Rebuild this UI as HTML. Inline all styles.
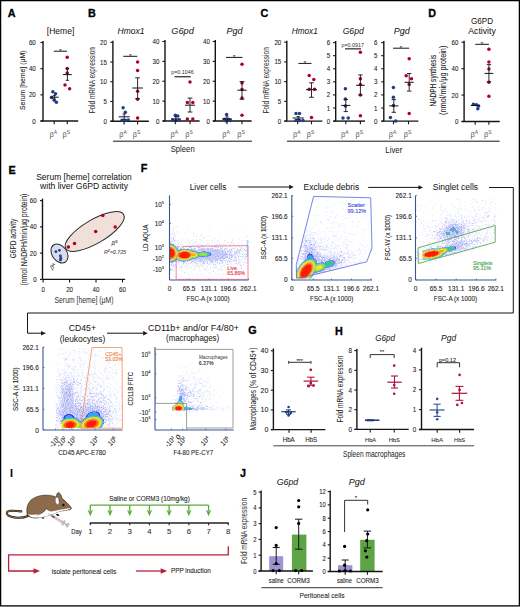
<!DOCTYPE html>
<html><head><meta charset="utf-8"><style>
html,body{margin:0;padding:0;background:#fff;width:520px;height:607px;overflow:hidden}
svg{display:block}
text{font-family:"Liberation Sans", sans-serif;stroke:currentColor;stroke-width:0.09px}
</style></head><body>
<svg width="520" height="607" viewBox="0 0 520 607">
<rect width="520" height="607" fill="#fff"/>
<rect x="0.6" y="0.6" width="518.8" height="605.3" fill="none" stroke="#000" stroke-width="1.3"/>
<text x="7.8" y="13.4" font-size="10.8" text-anchor="start" fill="#000" color="#000" dominant-baseline="central" font-weight="bold" style="stroke-width:0.3px">A</text>
<text x="60.6" y="31" font-size="9.22" text-anchor="middle" fill="#161414" color="#161414" dominant-baseline="central" textLength="27.5" lengthAdjust="spacingAndGlyphs"  style="stroke-width:0.03px">[Heme]</text>
<line x1="43" y1="41" x2="43" y2="121" stroke="#161414" stroke-width="1.4" />
<line x1="40.4" y1="121" x2="43" y2="121" stroke="#161414" stroke-width="1.1" />
<text x="35.7" y="121" font-size="7.3" text-anchor="end" fill="#222" color="#222" dominant-baseline="central" textLength="3.41" lengthAdjust="spacingAndGlyphs" >0</text>
<line x1="40.4" y1="94.83" x2="43" y2="94.83" stroke="#161414" stroke-width="1.1" />
<text x="35.7" y="94.83" font-size="7.3" text-anchor="end" fill="#222" color="#222" dominant-baseline="central" textLength="6.82" lengthAdjust="spacingAndGlyphs" >20</text>
<line x1="40.4" y1="68.67" x2="43" y2="68.67" stroke="#161414" stroke-width="1.1" />
<text x="35.7" y="68.67" font-size="7.3" text-anchor="end" fill="#222" color="#222" dominant-baseline="central" textLength="6.82" lengthAdjust="spacingAndGlyphs" >40</text>
<line x1="40.4" y1="42.5" x2="43" y2="42.5" stroke="#161414" stroke-width="1.1" />
<text x="35.7" y="42.5" font-size="7.3" text-anchor="end" fill="#222" color="#222" dominant-baseline="central" textLength="6.82" lengthAdjust="spacingAndGlyphs" >60</text>
<line x1="40.5" y1="121" x2="78.2" y2="121" stroke="#161414" stroke-width="1.4" />
<line x1="54.2" y1="121" x2="54.2" y2="124.2" stroke="#161414" stroke-width="1.1" />
<line x1="67.3" y1="121" x2="67.3" y2="124.2" stroke="#161414" stroke-width="1.1" />
<text x="53.2" y="134.8" font-size="7.4" text-anchor="middle" fill="#555" color="#555" dominant-baseline="central" style="stroke-width:0">β<tspan font-size="5.03" dy="-2.4">A</tspan></text>
<text x="66.3" y="134.8" font-size="7.4" text-anchor="middle" fill="#555" color="#555" dominant-baseline="central" style="stroke-width:0">β<tspan font-size="5.03" dy="-2.4">S</tspan></text>
<text x="22.3" y="80.3" font-size="7.93" text-anchor="middle" fill="#222" color="#222" dominant-baseline="central" textLength="59.5" lengthAdjust="spacingAndGlyphs" transform="rotate(-90 22.3 80.3)" >Serum [heme] (μM)</text>
<line x1="53.8" y1="51.2" x2="67" y2="51.2" stroke="#161414" stroke-width="1.0" />
<text x="60.4" y="50.6" font-size="6" text-anchor="middle" fill="#333" color="#333" dominant-baseline="central" >*</text>
<circle cx="67.2" cy="57.2" r="1.75" fill="#b0002a"/>
<circle cx="67.2" cy="68.4" r="1.75" fill="#b0002a"/>
<circle cx="67.2" cy="73" r="1.75" fill="#b0002a"/>
<circle cx="65" cy="85.1" r="1.75" fill="#b0002a"/>
<circle cx="69.6" cy="88.7" r="1.75" fill="#b0002a"/>
<line x1="63" y1="74.6" x2="71.8" y2="74.6" stroke="#161414" stroke-width="1.0" />
<line x1="67.4" y1="68.7" x2="67.4" y2="80.3" stroke="#161414" stroke-width="0.9" />
<line x1="65.7" y1="68.7" x2="69.1" y2="68.7" stroke="#161414" stroke-width="0.9" />
<line x1="65.7" y1="80.3" x2="69.1" y2="80.3" stroke="#161414" stroke-width="0.9" />
<circle cx="52.8" cy="91.7" r="1.75" fill="#1f3d8c"/>
<circle cx="55.5" cy="93.7" r="1.75" fill="#1f3d8c"/>
<circle cx="51.6" cy="97.4" r="1.75" fill="#1f3d8c"/>
<circle cx="54.2" cy="100.3" r="1.75" fill="#1f3d8c"/>
<circle cx="56.4" cy="102.2" r="1.75" fill="#1f3d8c"/>
<line x1="49.9" y1="97.2" x2="58.7" y2="97.2" stroke="#161414" stroke-width="1.0" />
<line x1="54.3" y1="95.6" x2="54.3" y2="99" stroke="#161414" stroke-width="0.9" />
<line x1="52.8" y1="95.6" x2="55.8" y2="95.6" stroke="#161414" stroke-width="0.9" />
<line x1="52.8" y1="99" x2="55.8" y2="99" stroke="#161414" stroke-width="0.9" />
<text x="87.9" y="13.2" font-size="10.8" text-anchor="start" fill="#000" color="#000" dominant-baseline="central" font-weight="bold" style="stroke-width:0.3px">B</text>
<line x1="112.9" y1="40.8" x2="112.9" y2="121.2" stroke="#161414" stroke-width="1.4" />
<line x1="110.3" y1="121.2" x2="112.9" y2="121.2" stroke="#161414" stroke-width="1.1" />
<text x="106.9" y="121.2" font-size="7.3" text-anchor="end" fill="#222" color="#222" dominant-baseline="central" textLength="3.41" lengthAdjust="spacingAndGlyphs" >0</text>
<line x1="110.3" y1="101.47" x2="112.9" y2="101.47" stroke="#161414" stroke-width="1.1" />
<text x="106.9" y="101.47" font-size="7.3" text-anchor="end" fill="#222" color="#222" dominant-baseline="central" textLength="3.41" lengthAdjust="spacingAndGlyphs" >5</text>
<line x1="110.3" y1="81.75" x2="112.9" y2="81.75" stroke="#161414" stroke-width="1.1" />
<text x="106.9" y="81.75" font-size="7.3" text-anchor="end" fill="#222" color="#222" dominant-baseline="central" textLength="6.82" lengthAdjust="spacingAndGlyphs" >10</text>
<line x1="110.3" y1="62.03" x2="112.9" y2="62.03" stroke="#161414" stroke-width="1.1" />
<text x="106.9" y="62.03" font-size="7.3" text-anchor="end" fill="#222" color="#222" dominant-baseline="central" textLength="6.82" lengthAdjust="spacingAndGlyphs" >15</text>
<line x1="110.3" y1="42.3" x2="112.9" y2="42.3" stroke="#161414" stroke-width="1.1" />
<text x="106.9" y="42.3" font-size="7.3" text-anchor="end" fill="#222" color="#222" dominant-baseline="central" textLength="6.82" lengthAdjust="spacingAndGlyphs" >20</text>
<line x1="110.5" y1="121.2" x2="148.8" y2="121.2" stroke="#161414" stroke-width="1.4" />
<line x1="124.1" y1="121.2" x2="124.1" y2="124.4" stroke="#161414" stroke-width="1.1" />
<line x1="137.6" y1="121.2" x2="137.6" y2="124.4" stroke="#161414" stroke-width="1.1" />
<text x="123.1" y="134.5" font-size="7.4" text-anchor="middle" fill="#555" color="#555" dominant-baseline="central" style="stroke-width:0">β<tspan font-size="5.03" dy="-2.4">A</tspan></text>
<text x="136.6" y="134.5" font-size="7.4" text-anchor="middle" fill="#555" color="#555" dominant-baseline="central" style="stroke-width:0">β<tspan font-size="5.03" dy="-2.4">S</tspan></text>
<text x="131" y="31" font-size="8.69" text-anchor="middle" fill="#161414" color="#161414" dominant-baseline="central" textLength="27" lengthAdjust="spacingAndGlyphs" font-style="italic"  style="stroke-width:0.03px">Hmox1</text>
<circle cx="137.6" cy="62" r="1.75" fill="#b0002a"/>
<circle cx="137.6" cy="70.4" r="1.75" fill="#b0002a"/>
<circle cx="137.6" cy="91.3" r="1.75" fill="#b0002a"/>
<circle cx="137.6" cy="99.2" r="1.75" fill="#b0002a"/>
<circle cx="137.6" cy="118" r="1.75" fill="#b0002a"/>
<circle cx="123.1" cy="107.7" r="1.75" fill="#1f3d8c"/>
<circle cx="125.3" cy="112.3" r="1.75" fill="#1f3d8c"/>
<circle cx="122" cy="120.3" r="1.75" fill="#1f3d8c"/>
<circle cx="125.6" cy="120.6" r="1.75" fill="#1f3d8c"/>
<circle cx="128.3" cy="120" r="1.75" fill="#1f3d8c"/>
<line x1="132.3" y1="88" x2="142.9" y2="88" stroke="#161414" stroke-width="1.0" />
<line x1="137.6" y1="77.8" x2="137.6" y2="98.7" stroke="#161414" stroke-width="0.9" />
<line x1="135.2" y1="77.8" x2="140" y2="77.8" stroke="#161414" stroke-width="0.9" />
<line x1="135.2" y1="98.7" x2="140" y2="98.7" stroke="#161414" stroke-width="0.9" />
<line x1="118.7" y1="116.8" x2="129.7" y2="116.8" stroke="#161414" stroke-width="1.0" />
<line x1="124.2" y1="114" x2="124.2" y2="119.4" stroke="#161414" stroke-width="0.9" />
<line x1="122.6" y1="114" x2="125.8" y2="114" stroke="#161414" stroke-width="0.9" />
<line x1="122.6" y1="119.4" x2="125.8" y2="119.4" stroke="#161414" stroke-width="0.9" />
<line x1="123.3" y1="56.3" x2="137.3" y2="56.3" stroke="#161414" stroke-width="1.0" />
<text x="130.4" y="55.5" font-size="6" text-anchor="middle" fill="#333" color="#333" dominant-baseline="central" >*</text>
<text x="92.3" y="80.3" font-size="8.45" text-anchor="middle" fill="#333" color="#333" dominant-baseline="central" textLength="66.5" lengthAdjust="spacingAndGlyphs" transform="rotate(-90 92.3 80.3)"  style="stroke-width:0.03px">Fold mRNA expression</text>
<line x1="165" y1="40" x2="165" y2="121" stroke="#161414" stroke-width="1.4" />
<line x1="162.4" y1="121" x2="165" y2="121" stroke="#161414" stroke-width="1.1" />
<text x="159.3" y="121" font-size="7.3" text-anchor="end" fill="#222" color="#222" dominant-baseline="central" textLength="3.41" lengthAdjust="spacingAndGlyphs" >0</text>
<line x1="162.4" y1="101.12" x2="165" y2="101.12" stroke="#161414" stroke-width="1.1" />
<text x="159.3" y="101.12" font-size="7.3" text-anchor="end" fill="#222" color="#222" dominant-baseline="central" textLength="6.82" lengthAdjust="spacingAndGlyphs" >10</text>
<line x1="162.4" y1="81.25" x2="165" y2="81.25" stroke="#161414" stroke-width="1.1" />
<text x="159.3" y="81.25" font-size="7.3" text-anchor="end" fill="#222" color="#222" dominant-baseline="central" textLength="6.82" lengthAdjust="spacingAndGlyphs" >20</text>
<line x1="162.4" y1="61.38" x2="165" y2="61.38" stroke="#161414" stroke-width="1.1" />
<text x="159.3" y="61.38" font-size="7.3" text-anchor="end" fill="#222" color="#222" dominant-baseline="central" textLength="6.82" lengthAdjust="spacingAndGlyphs" >30</text>
<line x1="162.4" y1="41.5" x2="165" y2="41.5" stroke="#161414" stroke-width="1.1" />
<text x="159.3" y="41.5" font-size="7.3" text-anchor="end" fill="#222" color="#222" dominant-baseline="central" textLength="6.82" lengthAdjust="spacingAndGlyphs" >40</text>
<line x1="162.6" y1="121" x2="199.6" y2="121" stroke="#161414" stroke-width="1.4" />
<line x1="175.3" y1="121" x2="175.3" y2="124.2" stroke="#161414" stroke-width="1.1" />
<line x1="190" y1="121" x2="190" y2="124.2" stroke="#161414" stroke-width="1.1" />
<text x="174.3" y="134.5" font-size="7.4" text-anchor="middle" fill="#555" color="#555" dominant-baseline="central" style="stroke-width:0">β<tspan font-size="5.03" dy="-2.4">A</tspan></text>
<text x="189" y="134.5" font-size="7.4" text-anchor="middle" fill="#555" color="#555" dominant-baseline="central" style="stroke-width:0">β<tspan font-size="5.03" dy="-2.4">S</tspan></text>
<text x="182.6" y="31" font-size="9.38" text-anchor="middle" fill="#161414" color="#161414" dominant-baseline="central" textLength="22.5" lengthAdjust="spacingAndGlyphs" font-style="italic"  style="stroke-width:0.03px">G6pd</text>
<circle cx="190" cy="82" r="1.75" fill="#b0002a"/>
<circle cx="187.4" cy="102.4" r="1.75" fill="#b0002a"/>
<circle cx="192.8" cy="102.4" r="1.75" fill="#b0002a"/>
<circle cx="187.4" cy="118.9" r="1.75" fill="#b0002a"/>
<circle cx="192.8" cy="118.9" r="1.75" fill="#b0002a"/>
<circle cx="175.3" cy="115.2" r="1.75" fill="#1f3d8c"/>
<circle cx="177.8" cy="116" r="1.75" fill="#1f3d8c"/>
<circle cx="172.6" cy="120.3" r="1.75" fill="#1f3d8c"/>
<circle cx="176" cy="120.5" r="1.75" fill="#1f3d8c"/>
<circle cx="179.3" cy="120.3" r="1.75" fill="#1f3d8c"/>
<line x1="185" y1="105.2" x2="195" y2="105.2" stroke="#161414" stroke-width="1.0" />
<line x1="190" y1="98.1" x2="190" y2="112" stroke="#161414" stroke-width="0.9" />
<line x1="187.6" y1="98.1" x2="192.4" y2="98.1" stroke="#161414" stroke-width="0.9" />
<line x1="187.6" y1="112" x2="192.4" y2="112" stroke="#161414" stroke-width="0.9" />
<line x1="171" y1="118.9" x2="180.6" y2="118.9" stroke="#161414" stroke-width="1.0" />
<line x1="175.8" y1="116.6" x2="175.8" y2="121" stroke="#161414" stroke-width="0.9" />
<line x1="174.3" y1="116.6" x2="177.3" y2="116.6" stroke="#161414" stroke-width="0.9" />
<line x1="174.3" y1="121" x2="177.3" y2="121" stroke="#161414" stroke-width="0.9" />
<text x="182.5" y="72.4" font-size="5.36" text-anchor="middle" fill="#333" color="#333" dominant-baseline="central" textLength="22.5" lengthAdjust="spacingAndGlyphs" style="stroke-width:0">p=0.1046</text>
<line x1="174.6" y1="76.7" x2="190.7" y2="76.7" stroke="#444" stroke-width="1.4" />
<line x1="215.3" y1="40" x2="215.3" y2="121" stroke="#161414" stroke-width="1.4" />
<line x1="212.7" y1="121" x2="215.3" y2="121" stroke="#161414" stroke-width="1.1" />
<text x="209.8" y="121" font-size="7.3" text-anchor="end" fill="#222" color="#222" dominant-baseline="central" textLength="3.41" lengthAdjust="spacingAndGlyphs" >0</text>
<line x1="212.7" y1="101.12" x2="215.3" y2="101.12" stroke="#161414" stroke-width="1.1" />
<text x="209.8" y="101.12" font-size="7.3" text-anchor="end" fill="#222" color="#222" dominant-baseline="central" textLength="6.82" lengthAdjust="spacingAndGlyphs" >10</text>
<line x1="212.7" y1="81.25" x2="215.3" y2="81.25" stroke="#161414" stroke-width="1.1" />
<text x="209.8" y="81.25" font-size="7.3" text-anchor="end" fill="#222" color="#222" dominant-baseline="central" textLength="6.82" lengthAdjust="spacingAndGlyphs" >20</text>
<line x1="212.7" y1="61.38" x2="215.3" y2="61.38" stroke="#161414" stroke-width="1.1" />
<text x="209.8" y="61.38" font-size="7.3" text-anchor="end" fill="#222" color="#222" dominant-baseline="central" textLength="6.82" lengthAdjust="spacingAndGlyphs" >30</text>
<line x1="212.7" y1="41.5" x2="215.3" y2="41.5" stroke="#161414" stroke-width="1.1" />
<text x="209.8" y="41.5" font-size="7.3" text-anchor="end" fill="#222" color="#222" dominant-baseline="central" textLength="6.82" lengthAdjust="spacingAndGlyphs" >40</text>
<line x1="212.9" y1="121" x2="251.6" y2="121" stroke="#161414" stroke-width="1.4" />
<line x1="227" y1="121" x2="227" y2="124.2" stroke="#161414" stroke-width="1.1" />
<line x1="242" y1="121" x2="242" y2="124.2" stroke="#161414" stroke-width="1.1" />
<text x="226" y="134.5" font-size="7.4" text-anchor="middle" fill="#555" color="#555" dominant-baseline="central" style="stroke-width:0">β<tspan font-size="5.03" dy="-2.4">A</tspan></text>
<text x="241" y="134.5" font-size="7.4" text-anchor="middle" fill="#555" color="#555" dominant-baseline="central" style="stroke-width:0">β<tspan font-size="5.03" dy="-2.4">S</tspan></text>
<text x="234.5" y="31" font-size="9.17" text-anchor="middle" fill="#161414" color="#161414" dominant-baseline="central" textLength="16" lengthAdjust="spacingAndGlyphs" font-style="italic"  style="stroke-width:0.03px">Pgd</text>
<circle cx="242" cy="64.3" r="1.75" fill="#b0002a"/>
<circle cx="242" cy="83.1" r="1.75" fill="#b0002a"/>
<circle cx="242" cy="89.5" r="1.75" fill="#b0002a"/>
<circle cx="242" cy="98.1" r="1.75" fill="#b0002a"/>
<circle cx="242" cy="115.2" r="1.75" fill="#b0002a"/>
<circle cx="226.6" cy="114.6" r="1.75" fill="#1f3d8c"/>
<circle cx="224.5" cy="119.2" r="1.75" fill="#1f3d8c"/>
<circle cx="228.6" cy="119.5" r="1.75" fill="#1f3d8c"/>
<circle cx="226.3" cy="121" r="1.75" fill="#1f3d8c"/>
<circle cx="230.5" cy="120.6" r="1.75" fill="#1f3d8c"/>
<line x1="237.4" y1="90.2" x2="246.6" y2="90.2" stroke="#161414" stroke-width="1.0" />
<line x1="242" y1="81.6" x2="242" y2="99.2" stroke="#161414" stroke-width="0.9" />
<line x1="239.6" y1="81.6" x2="244.4" y2="81.6" stroke="#161414" stroke-width="0.9" />
<line x1="239.6" y1="99.2" x2="244.4" y2="99.2" stroke="#161414" stroke-width="0.9" />
<line x1="222.2" y1="118.9" x2="231.8" y2="118.9" stroke="#161414" stroke-width="1.0" />
<line x1="227" y1="116.8" x2="227" y2="121" stroke="#161414" stroke-width="0.9" />
<line x1="225.5" y1="116.8" x2="228.5" y2="116.8" stroke="#161414" stroke-width="0.9" />
<line x1="225.5" y1="121" x2="228.5" y2="121" stroke="#161414" stroke-width="0.9" />
<line x1="226" y1="57.4" x2="242.4" y2="57.4" stroke="#161414" stroke-width="1.0" />
<text x="234.2" y="56.8" font-size="6" text-anchor="middle" fill="#333" color="#333" dominant-baseline="central" >*</text>
<line x1="113" y1="141.2" x2="252" y2="141.2" stroke="#161414" stroke-width="1.0" />
<text x="182.7" y="149" font-size="9.25" text-anchor="middle" fill="#222" color="#222" dominant-baseline="central" textLength="24" lengthAdjust="spacingAndGlyphs"  style="stroke-width:0.03px">Spleen</text>
<text x="260.6" y="13.2" font-size="10.8" text-anchor="start" fill="#000" color="#000" dominant-baseline="central" font-weight="bold" style="stroke-width:0.3px">C</text>
<line x1="286.8" y1="40.7" x2="286.8" y2="121.1" stroke="#161414" stroke-width="1.4" />
<line x1="284.2" y1="121.1" x2="286.8" y2="121.1" stroke="#161414" stroke-width="1.1" />
<text x="281.2" y="121.1" font-size="7.3" text-anchor="end" fill="#222" color="#222" dominant-baseline="central" textLength="3.41" lengthAdjust="spacingAndGlyphs" >0</text>
<line x1="284.2" y1="101.38" x2="286.8" y2="101.38" stroke="#161414" stroke-width="1.1" />
<text x="281.2" y="101.38" font-size="7.3" text-anchor="end" fill="#222" color="#222" dominant-baseline="central" textLength="3.41" lengthAdjust="spacingAndGlyphs" >5</text>
<line x1="284.2" y1="81.65" x2="286.8" y2="81.65" stroke="#161414" stroke-width="1.1" />
<text x="281.2" y="81.65" font-size="7.3" text-anchor="end" fill="#222" color="#222" dominant-baseline="central" textLength="6.82" lengthAdjust="spacingAndGlyphs" >10</text>
<line x1="284.2" y1="61.93" x2="286.8" y2="61.93" stroke="#161414" stroke-width="1.1" />
<text x="281.2" y="61.93" font-size="7.3" text-anchor="end" fill="#222" color="#222" dominant-baseline="central" textLength="6.82" lengthAdjust="spacingAndGlyphs" >15</text>
<line x1="284.2" y1="42.2" x2="286.8" y2="42.2" stroke="#161414" stroke-width="1.1" />
<text x="281.2" y="42.2" font-size="7.3" text-anchor="end" fill="#222" color="#222" dominant-baseline="central" textLength="6.82" lengthAdjust="spacingAndGlyphs" >20</text>
<line x1="284.4" y1="121.1" x2="322.4" y2="121.1" stroke="#161414" stroke-width="1.4" />
<line x1="297.7" y1="121.1" x2="297.7" y2="124.3" stroke="#161414" stroke-width="1.1" />
<line x1="311.5" y1="121.1" x2="311.5" y2="124.3" stroke="#161414" stroke-width="1.1" />
<text x="296.7" y="134.5" font-size="7.4" text-anchor="middle" fill="#555" color="#555" dominant-baseline="central" style="stroke-width:0">β<tspan font-size="5.03" dy="-2.4">A</tspan></text>
<text x="310.5" y="134.5" font-size="7.4" text-anchor="middle" fill="#555" color="#555" dominant-baseline="central" style="stroke-width:0">β<tspan font-size="5.03" dy="-2.4">S</tspan></text>
<text x="304.8" y="31" font-size="8.37" text-anchor="middle" fill="#161414" color="#161414" dominant-baseline="central" textLength="26" lengthAdjust="spacingAndGlyphs" font-style="italic"  style="stroke-width:0.03px">Hmox1</text>
<circle cx="309.2" cy="75.4" r="1.75" fill="#b0002a"/>
<circle cx="313.8" cy="79.5" r="1.75" fill="#b0002a"/>
<circle cx="309.2" cy="89.2" r="1.75" fill="#b0002a"/>
<circle cx="314.5" cy="89.2" r="1.75" fill="#b0002a"/>
<circle cx="311.5" cy="117.4" r="1.75" fill="#b0002a"/>
<circle cx="296" cy="113.5" r="1.75" fill="#1f3d8c"/>
<circle cx="299.5" cy="113.5" r="1.75" fill="#1f3d8c"/>
<circle cx="296" cy="120.5" r="1.75" fill="#1f3d8c"/>
<circle cx="299.5" cy="120.5" r="1.75" fill="#1f3d8c"/>
<circle cx="303" cy="120.5" r="1.75" fill="#1f3d8c"/>
<line x1="306" y1="89.7" x2="317" y2="89.7" stroke="#161414" stroke-width="1.0" />
<line x1="311.5" y1="82.8" x2="311.5" y2="97.3" stroke="#161414" stroke-width="0.9" />
<line x1="309.1" y1="82.8" x2="313.9" y2="82.8" stroke="#161414" stroke-width="0.9" />
<line x1="309.1" y1="97.3" x2="313.9" y2="97.3" stroke="#161414" stroke-width="0.9" />
<line x1="292.6" y1="118" x2="303.8" y2="118" stroke="#161414" stroke-width="1.0" />
<line x1="298.2" y1="116.5" x2="298.2" y2="119.5" stroke="#161414" stroke-width="0.9" />
<line x1="296.7" y1="116.5" x2="299.7" y2="116.5" stroke="#161414" stroke-width="0.9" />
<line x1="296.7" y1="119.5" x2="299.7" y2="119.5" stroke="#161414" stroke-width="0.9" />
<line x1="298.4" y1="63.4" x2="311.5" y2="63.4" stroke="#161414" stroke-width="1.0" />
<text x="305" y="62.6" font-size="6" text-anchor="middle" fill="#333" color="#333" dominant-baseline="central" >*</text>
<text x="266" y="80.4" font-size="8.43" text-anchor="middle" fill="#333" color="#333" dominant-baseline="central" textLength="66.3" lengthAdjust="spacingAndGlyphs" transform="rotate(-90 266 80.4)"  style="stroke-width:0.03px">Fold mRNA expression</text>
<line x1="335.7" y1="41.1" x2="335.7" y2="121.1" stroke="#161414" stroke-width="1.4" />
<line x1="333.1" y1="121.1" x2="335.7" y2="121.1" stroke="#161414" stroke-width="1.1" />
<text x="330.1" y="121.1" font-size="7.3" text-anchor="end" fill="#222" color="#222" dominant-baseline="central" textLength="3.41" lengthAdjust="spacingAndGlyphs" >0</text>
<line x1="333.1" y1="108.02" x2="335.7" y2="108.02" stroke="#161414" stroke-width="1.1" />
<text x="330.1" y="108.02" font-size="7.3" text-anchor="end" fill="#222" color="#222" dominant-baseline="central" textLength="3.41" lengthAdjust="spacingAndGlyphs" >1</text>
<line x1="333.1" y1="94.93" x2="335.7" y2="94.93" stroke="#161414" stroke-width="1.1" />
<text x="330.1" y="94.93" font-size="7.3" text-anchor="end" fill="#222" color="#222" dominant-baseline="central" textLength="3.41" lengthAdjust="spacingAndGlyphs" >2</text>
<line x1="333.1" y1="81.85" x2="335.7" y2="81.85" stroke="#161414" stroke-width="1.1" />
<text x="330.1" y="81.85" font-size="7.3" text-anchor="end" fill="#222" color="#222" dominant-baseline="central" textLength="3.41" lengthAdjust="spacingAndGlyphs" >3</text>
<line x1="333.1" y1="68.77" x2="335.7" y2="68.77" stroke="#161414" stroke-width="1.1" />
<text x="330.1" y="68.77" font-size="7.3" text-anchor="end" fill="#222" color="#222" dominant-baseline="central" textLength="3.41" lengthAdjust="spacingAndGlyphs" >4</text>
<line x1="333.1" y1="55.68" x2="335.7" y2="55.68" stroke="#161414" stroke-width="1.1" />
<text x="330.1" y="55.68" font-size="7.3" text-anchor="end" fill="#222" color="#222" dominant-baseline="central" textLength="3.41" lengthAdjust="spacingAndGlyphs" >5</text>
<line x1="333.1" y1="42.6" x2="335.7" y2="42.6" stroke="#161414" stroke-width="1.1" />
<text x="330.1" y="42.6" font-size="7.3" text-anchor="end" fill="#222" color="#222" dominant-baseline="central" textLength="3.41" lengthAdjust="spacingAndGlyphs" >6</text>
<line x1="333.3" y1="121.1" x2="365" y2="121.1" stroke="#161414" stroke-width="1.4" />
<line x1="345.8" y1="121.1" x2="345.8" y2="124.3" stroke="#161414" stroke-width="1.1" />
<line x1="360.4" y1="121.1" x2="360.4" y2="124.3" stroke="#161414" stroke-width="1.1" />
<text x="344.8" y="134.5" font-size="7.4" text-anchor="middle" fill="#555" color="#555" dominant-baseline="central" style="stroke-width:0">β<tspan font-size="5.03" dy="-2.4">A</tspan></text>
<text x="359.4" y="134.5" font-size="7.4" text-anchor="middle" fill="#555" color="#555" dominant-baseline="central" style="stroke-width:0">β<tspan font-size="5.03" dy="-2.4">S</tspan></text>
<text x="353.2" y="31" font-size="8.76" text-anchor="middle" fill="#161414" color="#161414" dominant-baseline="central" textLength="21" lengthAdjust="spacingAndGlyphs" font-style="italic"  style="stroke-width:0.03px">G6pd</text>
<circle cx="360.4" cy="52.3" r="1.75" fill="#b0002a"/>
<circle cx="360.4" cy="78.8" r="1.75" fill="#b0002a"/>
<circle cx="360.4" cy="84.6" r="1.75" fill="#b0002a"/>
<circle cx="360.4" cy="95" r="1.75" fill="#b0002a"/>
<circle cx="360.4" cy="115.8" r="1.75" fill="#b0002a"/>
<circle cx="345.4" cy="88.8" r="1.75" fill="#1f3d8c"/>
<circle cx="345.4" cy="98.9" r="1.75" fill="#1f3d8c"/>
<circle cx="345.4" cy="105.9" r="1.75" fill="#1f3d8c"/>
<circle cx="343" cy="118" r="1.75" fill="#1f3d8c"/>
<circle cx="348.2" cy="118" r="1.75" fill="#1f3d8c"/>
<line x1="356" y1="85.3" x2="364.8" y2="85.3" stroke="#161414" stroke-width="1.0" />
<line x1="360.4" y1="74.9" x2="360.4" y2="95" stroke="#161414" stroke-width="0.9" />
<line x1="358.2" y1="74.9" x2="362.6" y2="74.9" stroke="#161414" stroke-width="0.9" />
<line x1="358.2" y1="95" x2="362.6" y2="95" stroke="#161414" stroke-width="0.9" />
<line x1="341.2" y1="105.4" x2="350.4" y2="105.4" stroke="#161414" stroke-width="1.0" />
<line x1="345.8" y1="99.6" x2="345.8" y2="111.6" stroke="#161414" stroke-width="0.9" />
<line x1="343.6" y1="99.6" x2="348" y2="99.6" stroke="#161414" stroke-width="0.9" />
<line x1="343.6" y1="111.6" x2="348" y2="111.6" stroke="#161414" stroke-width="0.9" />
<text x="352.7" y="45" font-size="5.36" text-anchor="middle" fill="#333" color="#333" dominant-baseline="central" textLength="22.5" lengthAdjust="spacingAndGlyphs" style="stroke-width:0">p=0.0917</text>
<line x1="345" y1="48.8" x2="361" y2="48.8" stroke="#555" stroke-width="1.5" />
<line x1="383.8" y1="41.1" x2="383.8" y2="121.1" stroke="#161414" stroke-width="1.4" />
<line x1="381.2" y1="121.1" x2="383.8" y2="121.1" stroke="#161414" stroke-width="1.1" />
<text x="377.5" y="121.1" font-size="7.3" text-anchor="end" fill="#222" color="#222" dominant-baseline="central" textLength="3.41" lengthAdjust="spacingAndGlyphs" >0</text>
<line x1="381.2" y1="108.02" x2="383.8" y2="108.02" stroke="#161414" stroke-width="1.1" />
<text x="377.5" y="108.02" font-size="7.3" text-anchor="end" fill="#222" color="#222" dominant-baseline="central" textLength="3.41" lengthAdjust="spacingAndGlyphs" >1</text>
<line x1="381.2" y1="94.93" x2="383.8" y2="94.93" stroke="#161414" stroke-width="1.1" />
<text x="377.5" y="94.93" font-size="7.3" text-anchor="end" fill="#222" color="#222" dominant-baseline="central" textLength="3.41" lengthAdjust="spacingAndGlyphs" >2</text>
<line x1="381.2" y1="81.85" x2="383.8" y2="81.85" stroke="#161414" stroke-width="1.1" />
<text x="377.5" y="81.85" font-size="7.3" text-anchor="end" fill="#222" color="#222" dominant-baseline="central" textLength="3.41" lengthAdjust="spacingAndGlyphs" >3</text>
<line x1="381.2" y1="68.77" x2="383.8" y2="68.77" stroke="#161414" stroke-width="1.1" />
<text x="377.5" y="68.77" font-size="7.3" text-anchor="end" fill="#222" color="#222" dominant-baseline="central" textLength="3.41" lengthAdjust="spacingAndGlyphs" >4</text>
<line x1="381.2" y1="55.68" x2="383.8" y2="55.68" stroke="#161414" stroke-width="1.1" />
<text x="377.5" y="55.68" font-size="7.3" text-anchor="end" fill="#222" color="#222" dominant-baseline="central" textLength="3.41" lengthAdjust="spacingAndGlyphs" >5</text>
<line x1="381.2" y1="42.6" x2="383.8" y2="42.6" stroke="#161414" stroke-width="1.1" />
<text x="377.5" y="42.6" font-size="7.3" text-anchor="end" fill="#222" color="#222" dominant-baseline="central" textLength="3.41" lengthAdjust="spacingAndGlyphs" >6</text>
<line x1="381.4" y1="121.1" x2="418.4" y2="121.1" stroke="#161414" stroke-width="1.4" />
<line x1="393.5" y1="121.1" x2="393.5" y2="124.3" stroke="#161414" stroke-width="1.1" />
<line x1="408.5" y1="121.1" x2="408.5" y2="124.3" stroke="#161414" stroke-width="1.1" />
<text x="392.5" y="134.5" font-size="7.4" text-anchor="middle" fill="#555" color="#555" dominant-baseline="central" style="stroke-width:0">β<tspan font-size="5.03" dy="-2.4">A</tspan></text>
<text x="407.5" y="134.5" font-size="7.4" text-anchor="middle" fill="#555" color="#555" dominant-baseline="central" style="stroke-width:0">β<tspan font-size="5.03" dy="-2.4">S</tspan></text>
<text x="401.7" y="31" font-size="9.17" text-anchor="middle" fill="#161414" color="#161414" dominant-baseline="central" textLength="16" lengthAdjust="spacingAndGlyphs" font-style="italic"  style="stroke-width:0.03px">Pgd</text>
<circle cx="409.2" cy="58.8" r="1.75" fill="#b0002a"/>
<circle cx="406.2" cy="75.8" r="1.75" fill="#b0002a"/>
<circle cx="411.5" cy="78.8" r="1.75" fill="#b0002a"/>
<circle cx="409.2" cy="84.6" r="1.75" fill="#b0002a"/>
<circle cx="409.2" cy="113.5" r="1.75" fill="#b0002a"/>
<circle cx="393.4" cy="87.4" r="1.75" fill="#1f3d8c"/>
<circle cx="393.4" cy="97.3" r="1.75" fill="#1f3d8c"/>
<circle cx="393.4" cy="105.4" r="1.75" fill="#1f3d8c"/>
<circle cx="390.4" cy="117.4" r="1.75" fill="#1f3d8c"/>
<circle cx="395.7" cy="121" r="1.75" fill="#1f3d8c"/>
<line x1="404.6" y1="82.3" x2="413.8" y2="82.3" stroke="#161414" stroke-width="1.0" />
<line x1="409.2" y1="73.5" x2="409.2" y2="91.1" stroke="#161414" stroke-width="0.9" />
<line x1="407" y1="73.5" x2="411.4" y2="73.5" stroke="#161414" stroke-width="0.9" />
<line x1="407" y1="91.1" x2="411.4" y2="91.1" stroke="#161414" stroke-width="0.9" />
<line x1="389.2" y1="105.9" x2="398.4" y2="105.9" stroke="#161414" stroke-width="1.0" />
<line x1="393.8" y1="99.6" x2="393.8" y2="112.3" stroke="#161414" stroke-width="0.9" />
<line x1="391.6" y1="99.6" x2="396" y2="99.6" stroke="#161414" stroke-width="0.9" />
<line x1="391.6" y1="112.3" x2="396" y2="112.3" stroke="#161414" stroke-width="0.9" />
<line x1="393" y1="48.2" x2="409.2" y2="48.2" stroke="#161414" stroke-width="1.0" />
<text x="401" y="47.5" font-size="6" text-anchor="middle" fill="#333" color="#333" dominant-baseline="central" >*</text>
<line x1="287" y1="141.2" x2="499.7" y2="141.2" stroke="#161414" stroke-width="1.0" />
<text x="393.8" y="149" font-size="9.8" text-anchor="middle" fill="#222" color="#222" dominant-baseline="central" textLength="17" lengthAdjust="spacingAndGlyphs"  style="stroke-width:0.03px">Liver</text>
<text x="428.3" y="13.2" font-size="10.8" text-anchor="start" fill="#000" color="#000" dominant-baseline="central" font-weight="bold" style="stroke-width:0.3px">D</text>
<text x="482" y="20.7" font-size="8.32" text-anchor="middle" fill="#161414" color="#161414" dominant-baseline="central" textLength="22.2" lengthAdjust="spacingAndGlyphs"  style="stroke-width:0.03px">G6PD</text>
<text x="482" y="30.8" font-size="8.86" text-anchor="middle" fill="#161414" color="#161414" dominant-baseline="central" textLength="27.5" lengthAdjust="spacingAndGlyphs"  style="stroke-width:0.03px">Activity</text>
<line x1="464.1" y1="40.7" x2="464.1" y2="121.5" stroke="#161414" stroke-width="1.4" />
<line x1="461.5" y1="121.5" x2="464.1" y2="121.5" stroke="#161414" stroke-width="1.1" />
<text x="458.3" y="121.5" font-size="7.3" text-anchor="end" fill="#222" color="#222" dominant-baseline="central" textLength="3.41" lengthAdjust="spacingAndGlyphs" >0</text>
<line x1="461.5" y1="95.07" x2="464.1" y2="95.07" stroke="#161414" stroke-width="1.1" />
<text x="458.3" y="95.07" font-size="7.3" text-anchor="end" fill="#222" color="#222" dominant-baseline="central" textLength="6.82" lengthAdjust="spacingAndGlyphs" >20</text>
<line x1="461.5" y1="68.63" x2="464.1" y2="68.63" stroke="#161414" stroke-width="1.1" />
<text x="458.3" y="68.63" font-size="7.3" text-anchor="end" fill="#222" color="#222" dominant-baseline="central" textLength="6.82" lengthAdjust="spacingAndGlyphs" >40</text>
<line x1="461.5" y1="42.2" x2="464.1" y2="42.2" stroke="#161414" stroke-width="1.1" />
<text x="458.3" y="42.2" font-size="7.3" text-anchor="end" fill="#222" color="#222" dominant-baseline="central" textLength="6.82" lengthAdjust="spacingAndGlyphs" >60</text>
<line x1="461.6" y1="121.5" x2="499.7" y2="121.5" stroke="#161414" stroke-width="1.4" />
<line x1="475.2" y1="121.5" x2="475.2" y2="124.7" stroke="#161414" stroke-width="1.1" />
<line x1="488.9" y1="121.5" x2="488.9" y2="124.7" stroke="#161414" stroke-width="1.1" />
<text x="474.2" y="134.5" font-size="7.4" text-anchor="middle" fill="#555" color="#555" dominant-baseline="central" style="stroke-width:0">β<tspan font-size="5.03" dy="-2.4">A</tspan></text>
<text x="487.9" y="134.5" font-size="7.4" text-anchor="middle" fill="#555" color="#555" dominant-baseline="central" style="stroke-width:0">β<tspan font-size="5.03" dy="-2.4">S</tspan></text>
<line x1="475.2" y1="44.3" x2="488.9" y2="44.3" stroke="#161414" stroke-width="1.0" />
<text x="482" y="43.5" font-size="6" text-anchor="middle" fill="#333" color="#333" dominant-baseline="central" >*</text>
<circle cx="488.9" cy="49.3" r="1.75" fill="#b0002a"/>
<circle cx="488.9" cy="62" r="1.75" fill="#b0002a"/>
<circle cx="488.9" cy="69.1" r="1.75" fill="#b0002a"/>
<circle cx="488.9" cy="82.3" r="1.75" fill="#b0002a"/>
<circle cx="488.9" cy="96.3" r="1.75" fill="#b0002a"/>
<line x1="484.5" y1="73.4" x2="493.3" y2="73.4" stroke="#161414" stroke-width="1.0" />
<line x1="488.9" y1="64.6" x2="488.9" y2="81.8" stroke="#161414" stroke-width="0.9" />
<line x1="486.7" y1="64.6" x2="491.1" y2="64.6" stroke="#161414" stroke-width="0.9" />
<line x1="486.7" y1="81.8" x2="491.1" y2="81.8" stroke="#161414" stroke-width="0.9" />
<circle cx="473.4" cy="104.2" r="1.75" fill="#1f3d8c"/>
<circle cx="476.5" cy="104.7" r="1.75" fill="#1f3d8c"/>
<circle cx="478.6" cy="106" r="1.75" fill="#1f3d8c"/>
<circle cx="477.8" cy="108.7" r="1.75" fill="#1f3d8c"/>
<line x1="470.7" y1="105.5" x2="479.7" y2="105.5" stroke="#161414" stroke-width="1.0" />
<text x="433.4" y="80.6" font-size="8.15" text-anchor="middle" fill="#222" color="#222" dominant-baseline="central" textLength="51.8" lengthAdjust="spacingAndGlyphs" transform="rotate(-90 433.4 80.6)" >NADPH synthesis</text>
<text x="443.5" y="80.3" font-size="8.42" text-anchor="middle" fill="#222" color="#222" dominant-baseline="central" textLength="69.3" lengthAdjust="spacingAndGlyphs" transform="rotate(-90 443.5 80.3)"  style="stroke-width:0.03px">(nmol/min/μg protein)</text>
<text x="8.5" y="169.5" font-size="10.8" text-anchor="start" fill="#000" color="#000" dominant-baseline="central" font-weight="bold" style="stroke-width:0.3px">E</text>
<text x="84" y="177" font-size="8.7" text-anchor="middle" fill="#161414" color="#161414" dominant-baseline="central" textLength="95.7" lengthAdjust="spacingAndGlyphs"  style="stroke-width:0.03px">Serum [heme] correlation</text>
<text x="84" y="186.4" font-size="8.78" text-anchor="middle" fill="#161414" color="#161414" dominant-baseline="central" textLength="88" lengthAdjust="spacingAndGlyphs"  style="stroke-width:0.03px">with liver G6PD activity</text>
<line x1="42.5" y1="198.6" x2="42.5" y2="279.4" stroke="#161414" stroke-width="1.4" />
<line x1="40" y1="279.4" x2="42.5" y2="279.4" stroke="#161414" stroke-width="1.1" />
<text x="36.6" y="279.4" font-size="7.3" text-anchor="end" fill="#222" color="#222" dominant-baseline="central" textLength="3.41" lengthAdjust="spacingAndGlyphs" >0</text>
<line x1="40" y1="253.13" x2="42.5" y2="253.13" stroke="#161414" stroke-width="1.1" />
<text x="36.6" y="253.13" font-size="7.3" text-anchor="end" fill="#222" color="#222" dominant-baseline="central" textLength="6.82" lengthAdjust="spacingAndGlyphs" >20</text>
<line x1="40" y1="226.87" x2="42.5" y2="226.87" stroke="#161414" stroke-width="1.1" />
<text x="36.6" y="226.87" font-size="7.3" text-anchor="end" fill="#222" color="#222" dominant-baseline="central" textLength="6.82" lengthAdjust="spacingAndGlyphs" >40</text>
<line x1="40" y1="200.6" x2="42.5" y2="200.6" stroke="#161414" stroke-width="1.1" />
<text x="36.6" y="200.6" font-size="7.3" text-anchor="end" fill="#222" color="#222" dominant-baseline="central" textLength="6.82" lengthAdjust="spacingAndGlyphs" >60</text>
<line x1="42.5" y1="279.4" x2="125.2" y2="279.4" stroke="#161414" stroke-width="1.4" />
<line x1="43.1" y1="279.4" x2="43.1" y2="282.4" stroke="#161414" stroke-width="1.1" />
<text x="43.1" y="289.2" font-size="7.3" text-anchor="middle" fill="#222" color="#222" dominant-baseline="central" textLength="3.41" lengthAdjust="spacingAndGlyphs" >0</text>
<line x1="69.57" y1="279.4" x2="69.57" y2="282.4" stroke="#161414" stroke-width="1.1" />
<text x="69.57" y="289.2" font-size="7.3" text-anchor="middle" fill="#222" color="#222" dominant-baseline="central" textLength="6.82" lengthAdjust="spacingAndGlyphs" >20</text>
<line x1="96.03" y1="279.4" x2="96.03" y2="282.4" stroke="#161414" stroke-width="1.1" />
<text x="96.03" y="289.2" font-size="7.3" text-anchor="middle" fill="#222" color="#222" dominant-baseline="central" textLength="6.82" lengthAdjust="spacingAndGlyphs" >40</text>
<line x1="122.5" y1="279.4" x2="122.5" y2="282.4" stroke="#161414" stroke-width="1.1" />
<text x="122.5" y="289.2" font-size="7.3" text-anchor="middle" fill="#222" color="#222" dominant-baseline="central" textLength="6.82" lengthAdjust="spacingAndGlyphs" >60</text>
<text x="84" y="300.4" font-size="8.54" text-anchor="middle" fill="#333" color="#333" dominant-baseline="central" textLength="59" lengthAdjust="spacingAndGlyphs"  style="stroke-width:0.03px">Serum [heme] (μM)</text>
<text x="13.3" y="238.5" font-size="8.61" text-anchor="middle" fill="#222" color="#222" dominant-baseline="central" textLength="39.5" lengthAdjust="spacingAndGlyphs" transform="rotate(-90 13.3 238.5)"  style="stroke-width:0.03px">G6PD activity</text>
<text x="24.2" y="239.6" font-size="9.03" text-anchor="middle" fill="#222" color="#222" dominant-baseline="central" textLength="92" lengthAdjust="spacingAndGlyphs" transform="rotate(-90 24.2 239.6)"  style="stroke-width:0.03px">(nmol NADPH/min/μg protein)</text>
<ellipse cx="94.7" cy="231.5" rx="33.6" ry="11.8" fill="#f1dfd9" stroke="#2a2a2a" stroke-width="1" transform="rotate(-30.5 94.7 231.5)"/>
<ellipse cx="59.5" cy="253.5" rx="10.4" ry="7.4" fill="#d9dded" stroke="#2a2a2a" stroke-width="1" transform="rotate(55 59.5 253.5)"/>
<circle cx="68.3" cy="247" r="1.75" fill="#b0002a"/>
<circle cx="74.5" cy="243.6" r="1.75" fill="#b0002a"/>
<circle cx="95.7" cy="231.6" r="1.75" fill="#b0002a"/>
<circle cx="102.8" cy="215.5" r="1.75" fill="#b0002a"/>
<circle cx="115.2" cy="226.9" r="1.75" fill="#b0002a"/>
<circle cx="55.9" cy="251.7" r="1.4" fill="#1f3d8c"/>
<circle cx="59.4" cy="250.3" r="1.4" fill="#1f3d8c"/>
<circle cx="60.4" cy="256" r="1.4" fill="#1f3d8c"/>
<circle cx="60.8" cy="258.3" r="1.4" fill="#1f3d8c"/>
<circle cx="60.4" cy="260" r="1.4" fill="#1f3d8c"/>
<text x="114.5" y="243.4" font-size="6" text-anchor="middle" fill="#555" dominant-baseline="central" font-style="italic">β<tspan font-size="4" dy="-2">S</tspan></text>
<text x="115" y="252.3" font-size="6" text-anchor="middle" fill="#555" dominant-baseline="central" font-style="italic" textLength="22" lengthAdjust="spacingAndGlyphs">R<tspan font-size="4" dy="-2">2</tspan><tspan dy="2">=0.725</tspan></text>
<text x="53" y="266.4" font-size="6" text-anchor="middle" fill="#555" dominant-baseline="central" font-style="italic" transform="rotate(-40 53 266.4)">β<tspan font-size="4" dy="-2">A</tspan></text>
<text x="140.8" y="168.1" font-size="10.8" text-anchor="start" fill="#000" color="#000" dominant-baseline="central" font-weight="bold" style="stroke-width:0.3px">F</text>
<text x="208" y="187" font-size="8.62" text-anchor="middle" fill="#161414" color="#161414" dominant-baseline="central" textLength="36.5" lengthAdjust="spacingAndGlyphs"  style="stroke-width:0.03px">Liver cells</text>
<line x1="238.3" y1="187" x2="289.7" y2="187" stroke="#161414" stroke-width="1.0" />
<polygon points="293.7,187 289.2,184.8 289.2,189.2" fill="#161414"/>
<text x="331.4" y="187.3" font-size="8.92" text-anchor="middle" fill="#161414" color="#161414" dominant-baseline="central" textLength="55.7" lengthAdjust="spacingAndGlyphs"  style="stroke-width:0.03px">Exclude debris</text>
<line x1="368.2" y1="187.4" x2="419" y2="187.4" stroke="#161414" stroke-width="1.0" />
<polygon points="423,187.4 418.5,185.2 418.5,189.6" fill="#161414"/>
<text x="455.4" y="187.3" font-size="8.91" text-anchor="middle" fill="#161414" color="#161414" dominant-baseline="central" textLength="45.3" lengthAdjust="spacingAndGlyphs"  style="stroke-width:0.03px">Singlet cells</text>
<polyline points="489,187.5 513.3,187.5 513.3,313 27.5,313 27.5,333.2 42,333.2" stroke="#161414" stroke-width="1.0" fill="none" stroke-linejoin="miter" />
<polygon points="46,333.2 41,331 41,335.4" fill="#231f20"/>
<text x="82.4" y="328" font-size="8.66" text-anchor="middle" fill="#161414" color="#161414" dominant-baseline="central" textLength="27.2" lengthAdjust="spacingAndGlyphs"  style="stroke-width:0.03px">CD45+</text>
<text x="82.5" y="338.6" font-size="9.1" text-anchor="middle" fill="#161414" color="#161414" dominant-baseline="central" textLength="45.4" lengthAdjust="spacingAndGlyphs"  style="stroke-width:0.03px">(leukocytes)</text>
<line x1="107" y1="333.2" x2="143.7" y2="333.2" stroke="#161414" stroke-width="1.0" />
<polygon points="147.7,333.2 143.2,331 143.2,335.4" fill="#161414"/>
<text x="193.5" y="328.2" font-size="9.14" text-anchor="middle" fill="#161414" color="#161414" dominant-baseline="central" textLength="91" lengthAdjust="spacingAndGlyphs"  style="stroke-width:0.03px">CD11b+ and/or F4/80+</text>
<text x="192.6" y="338.4" font-size="9.1" text-anchor="middle" fill="#161414" color="#161414" dominant-baseline="central" textLength="53.2" lengthAdjust="spacingAndGlyphs"  style="stroke-width:0.03px">(macrophages)</text>
<defs><filter id="bl" x="-20%" y="-20%" width="140%" height="140%"><feGaussianBlur stdDeviation="0.35"/></filter><clipPath id="c1"><rect x="169.5" y="195" width="79" height="85"/></clipPath><clipPath id="c2"><rect x="292" y="195" width="80" height="85"/></clipPath><clipPath id="c3"><rect x="415.7" y="195" width="81" height="85"/></clipPath><clipPath id="c4"><rect x="43.3" y="346" width="79" height="84"/></clipPath><clipPath id="c5"><rect x="155.3" y="346" width="78" height="84"/></clipPath></defs>
<path d="M174.8 226.5h0.75v0.75h-0.75zM173.2 227.0h0.75v0.75h-0.75zM177.3 227.2h0.75v0.75h-0.75zM187.4 228.5h0.75v0.75h-0.75zM210.2 228.1h0.75v0.75h-0.75zM230.2 228.5h0.75v0.75h-0.75zM236.8 228.1h0.75v0.75h-0.75zM172.1 229.4h0.75v0.75h-0.75zM172.9 229.2h0.75v0.75h-0.75zM207.9 229.5h0.75v0.75h-0.75zM246.0 230.3h0.75v0.75h-0.75zM173.0 231.4h0.75v0.75h-0.75zM176.4 231.2h0.75v0.75h-0.75zM172.3 232.5h0.75v0.75h-0.75zM184.3 232.4h0.75v0.75h-0.75zM242.9 232.5h0.75v0.75h-0.75zM169.8 233.1h0.75v0.75h-0.75zM171.8 233.3h0.75v0.75h-0.75zM177.1 233.1h0.75v0.75h-0.75zM180.2 233.2h0.75v0.75h-0.75zM192.8 233.1h0.75v0.75h-0.75zM193.8 233.4h0.75v0.75h-0.75zM201.0 233.4h0.75v0.75h-0.75zM230.1 233.5h0.75v0.75h-0.75zM170.8 234.1h0.75v0.75h-0.75zM172.9 234.6h0.75v0.75h-0.75zM185.4 234.1h0.75v0.75h-0.75zM173.9 235.2h0.75v0.75h-0.75zM174.9 235.5h0.75v0.75h-0.75zM193.9 235.3h0.75v0.75h-0.75zM195.9 235.5h0.75v0.75h-0.75zM199.9 235.0h0.75v0.75h-0.75zM202.1 235.1h0.75v0.75h-0.75zM207.1 235.4h0.75v0.75h-0.75zM219.2 235.5h0.75v0.75h-0.75zM246.1 235.3h0.75v0.75h-0.75zM171.2 236.2h0.75v0.75h-0.75zM175.4 236.1h0.75v0.75h-0.75zM196.0 236.6h0.75v0.75h-0.75zM200.9 236.6h0.75v0.75h-0.75zM208.3 236.1h0.75v0.75h-0.75zM211.4 236.3h0.75v0.75h-0.75zM220.9 236.6h0.75v0.75h-0.75zM229.0 236.4h0.75v0.75h-0.75zM246.4 236.2h0.75v0.75h-0.75zM248.3 236.5h0.75v0.75h-0.75zM203.1 237.5h0.75v0.75h-0.75zM204.3 237.2h0.75v0.75h-0.75zM225.0 237.2h0.75v0.75h-0.75zM245.0 237.0h0.75v0.75h-0.75zM171.2 238.4h0.75v0.75h-0.75zM174.1 238.3h0.75v0.75h-0.75zM182.2 238.0h0.75v0.75h-0.75zM184.9 238.3h0.75v0.75h-0.75zM203.1 238.2h0.75v0.75h-0.75zM213.1 238.2h0.75v0.75h-0.75zM215.0 238.2h0.75v0.75h-0.75zM219.9 238.3h0.75v0.75h-0.75zM233.3 238.5h0.75v0.75h-0.75zM170.1 239.5h0.75v0.75h-0.75zM173.1 239.3h0.75v0.75h-0.75zM173.9 239.5h0.75v0.75h-0.75zM175.3 239.5h0.75v0.75h-0.75zM180.2 239.4h0.75v0.75h-0.75zM187.1 239.2h0.75v0.75h-0.75zM192.8 239.3h0.75v0.75h-0.75zM196.1 239.6h0.75v0.75h-0.75zM199.0 239.2h0.75v0.75h-0.75zM200.4 239.3h0.75v0.75h-0.75zM212.2 239.5h0.75v0.75h-0.75zM231.9 239.4h0.75v0.75h-0.75zM239.1 239.4h0.75v0.75h-0.75zM170.9 240.4h0.75v0.75h-0.75zM171.8 240.0h0.75v0.75h-0.75zM173.1 240.6h0.75v0.75h-0.75zM175.8 240.3h0.75v0.75h-0.75zM178.3 240.2h0.75v0.75h-0.75zM188.0 240.3h0.75v0.75h-0.75zM190.8 240.2h0.75v0.75h-0.75zM201.3 240.3h0.75v0.75h-0.75zM206.4 240.1h0.75v0.75h-0.75zM208.1 240.3h0.75v0.75h-0.75zM211.1 240.0h0.75v0.75h-0.75zM214.2 240.2h0.75v0.75h-0.75zM217.2 240.1h0.75v0.75h-0.75zM218.4 240.1h0.75v0.75h-0.75zM224.2 240.3h0.75v0.75h-0.75zM224.8 240.4h0.75v0.75h-0.75zM232.0 240.4h0.75v0.75h-0.75zM241.9 240.4h0.75v0.75h-0.75zM244.9 240.3h0.75v0.75h-0.75zM169.8 241.4h0.75v0.75h-0.75zM171.9 241.4h0.75v0.75h-0.75zM174.3 241.3h0.75v0.75h-0.75zM177.0 241.4h0.75v0.75h-0.75zM179.3 241.5h0.75v0.75h-0.75zM181.3 241.5h0.75v0.75h-0.75zM187.9 241.5h0.75v0.75h-0.75zM193.4 241.2h0.75v0.75h-0.75zM196.3 241.1h0.75v0.75h-0.75zM212.0 241.1h0.75v0.75h-0.75zM217.1 241.0h0.75v0.75h-0.75zM225.3 241.2h0.75v0.75h-0.75zM229.1 241.0h0.75v0.75h-0.75zM233.0 241.3h0.75v0.75h-0.75zM240.9 241.5h0.75v0.75h-0.75zM248.1 241.3h0.75v0.75h-0.75zM172.3 242.1h0.75v0.75h-0.75zM172.8 242.3h0.75v0.75h-0.75zM177.0 242.1h0.75v0.75h-0.75zM185.3 242.1h0.75v0.75h-0.75zM192.2 242.4h0.75v0.75h-0.75zM194.9 242.3h0.75v0.75h-0.75zM196.2 242.1h0.75v0.75h-0.75zM200.2 242.5h0.75v0.75h-0.75zM201.9 242.5h0.75v0.75h-0.75zM211.4 242.4h0.75v0.75h-0.75zM214.9 242.2h0.75v0.75h-0.75zM227.3 242.2h0.75v0.75h-0.75zM228.1 242.3h0.75v0.75h-0.75zM231.9 242.6h0.75v0.75h-0.75zM238.1 242.3h0.75v0.75h-0.75zM248.1 242.2h0.75v0.75h-0.75zM175.0 243.1h0.75v0.75h-0.75zM186.9 243.5h0.75v0.75h-0.75zM194.0 243.2h0.75v0.75h-0.75zM207.3 243.0h0.75v0.75h-0.75zM209.1 243.3h0.75v0.75h-0.75zM214.3 243.5h0.75v0.75h-0.75zM217.2 243.1h0.75v0.75h-0.75zM234.2 243.5h0.75v0.75h-0.75zM244.1 243.6h0.75v0.75h-0.75zM247.3 243.4h0.75v0.75h-0.75zM174.3 244.5h0.75v0.75h-0.75zM175.3 244.0h0.75v0.75h-0.75zM175.8 244.3h0.75v0.75h-0.75zM178.3 244.2h0.75v0.75h-0.75zM180.4 244.0h0.75v0.75h-0.75zM182.1 244.5h0.75v0.75h-0.75zM191.9 244.1h0.75v0.75h-0.75zM192.9 244.5h0.75v0.75h-0.75zM198.3 244.2h0.75v0.75h-0.75zM199.2 244.3h0.75v0.75h-0.75zM201.1 244.1h0.75v0.75h-0.75zM203.9 244.4h0.75v0.75h-0.75zM206.3 244.4h0.75v0.75h-0.75zM206.8 244.1h0.75v0.75h-0.75zM207.9 244.5h0.75v0.75h-0.75zM215.9 244.1h0.75v0.75h-0.75zM217.4 244.3h0.75v0.75h-0.75zM219.3 244.6h0.75v0.75h-0.75zM220.3 244.5h0.75v0.75h-0.75zM222.9 244.3h0.75v0.75h-0.75zM224.4 244.0h0.75v0.75h-0.75zM225.3 244.5h0.75v0.75h-0.75zM233.0 244.0h0.75v0.75h-0.75zM242.1 244.1h0.75v0.75h-0.75zM247.0 244.4h0.75v0.75h-0.75zM171.4 245.4h0.75v0.75h-0.75zM177.2 245.4h0.75v0.75h-0.75zM177.9 245.6h0.75v0.75h-0.75zM187.2 245.4h0.75v0.75h-0.75zM189.4 245.4h0.75v0.75h-0.75zM190.9 245.5h0.75v0.75h-0.75zM192.9 245.2h0.75v0.75h-0.75zM195.2 245.4h0.75v0.75h-0.75zM203.2 245.1h0.75v0.75h-0.75zM205.2 245.6h0.75v0.75h-0.75zM208.2 245.4h0.75v0.75h-0.75zM212.4 245.0h0.75v0.75h-0.75zM214.2 245.0h0.75v0.75h-0.75zM216.9 245.5h0.75v0.75h-0.75zM218.1 245.3h0.75v0.75h-0.75zM220.1 245.5h0.75v0.75h-0.75zM221.3 245.2h0.75v0.75h-0.75zM223.0 245.1h0.75v0.75h-0.75zM224.9 245.1h0.75v0.75h-0.75zM226.1 245.4h0.75v0.75h-0.75zM229.3 245.5h0.75v0.75h-0.75zM230.3 245.1h0.75v0.75h-0.75zM234.4 245.1h0.75v0.75h-0.75zM241.1 245.5h0.75v0.75h-0.75zM171.0 246.1h0.75v0.75h-0.75zM175.3 246.2h0.75v0.75h-0.75zM180.9 246.0h0.75v0.75h-0.75zM184.2 246.1h0.75v0.75h-0.75zM185.2 246.5h0.75v0.75h-0.75zM187.0 246.3h0.75v0.75h-0.75zM189.9 246.1h0.75v0.75h-0.75zM191.1 246.6h0.75v0.75h-0.75zM193.9 246.1h0.75v0.75h-0.75zM196.1 246.4h0.75v0.75h-0.75zM197.3 246.3h0.75v0.75h-0.75zM199.8 246.3h0.75v0.75h-0.75zM203.0 246.5h0.75v0.75h-0.75zM204.0 246.0h0.75v0.75h-0.75zM207.9 246.1h0.75v0.75h-0.75zM210.1 246.3h0.75v0.75h-0.75zM212.2 246.2h0.75v0.75h-0.75zM216.1 246.2h0.75v0.75h-0.75zM216.9 246.3h0.75v0.75h-0.75zM218.2 246.2h0.75v0.75h-0.75zM230.9 246.3h0.75v0.75h-0.75zM232.3 246.5h0.75v0.75h-0.75zM235.3 246.1h0.75v0.75h-0.75zM236.9 246.4h0.75v0.75h-0.75zM239.3 246.3h0.75v0.75h-0.75zM245.0 246.5h0.75v0.75h-0.75zM246.3 246.2h0.75v0.75h-0.75zM173.9 247.6h0.75v0.75h-0.75zM178.9 247.2h0.75v0.75h-0.75zM183.0 247.6h0.75v0.75h-0.75zM191.0 247.3h0.75v0.75h-0.75zM193.0 247.0h0.75v0.75h-0.75zM197.3 247.2h0.75v0.75h-0.75zM200.1 247.2h0.75v0.75h-0.75zM202.3 247.2h0.75v0.75h-0.75zM203.8 247.1h0.75v0.75h-0.75zM207.1 247.1h0.75v0.75h-0.75zM209.2 247.5h0.75v0.75h-0.75zM209.9 247.4h0.75v0.75h-0.75zM213.9 247.0h0.75v0.75h-0.75zM220.1 247.4h0.75v0.75h-0.75zM221.4 247.5h0.75v0.75h-0.75zM225.4 247.2h0.75v0.75h-0.75zM226.9 247.5h0.75v0.75h-0.75zM234.3 247.6h0.75v0.75h-0.75zM234.9 247.4h0.75v0.75h-0.75zM239.1 247.4h0.75v0.75h-0.75zM241.9 247.4h0.75v0.75h-0.75zM246.2 247.5h0.75v0.75h-0.75zM176.4 248.2h0.75v0.75h-0.75zM178.2 248.6h0.75v0.75h-0.75zM179.1 248.6h0.75v0.75h-0.75zM179.9 248.2h0.75v0.75h-0.75zM181.3 248.2h0.75v0.75h-0.75zM185.1 248.4h0.75v0.75h-0.75zM188.1 248.2h0.75v0.75h-0.75zM192.9 248.5h0.75v0.75h-0.75zM195.8 248.5h0.75v0.75h-0.75zM198.1 248.3h0.75v0.75h-0.75zM199.1 248.3h0.75v0.75h-0.75zM199.8 248.2h0.75v0.75h-0.75zM206.2 248.3h0.75v0.75h-0.75zM209.2 248.5h0.75v0.75h-0.75zM213.0 248.5h0.75v0.75h-0.75zM215.2 248.4h0.75v0.75h-0.75zM215.9 248.5h0.75v0.75h-0.75zM217.2 248.0h0.75v0.75h-0.75zM222.3 248.4h0.75v0.75h-0.75zM224.3 248.5h0.75v0.75h-0.75zM227.1 248.4h0.75v0.75h-0.75zM231.2 248.4h0.75v0.75h-0.75zM232.0 248.4h0.75v0.75h-0.75zM233.1 248.0h0.75v0.75h-0.75zM236.4 248.6h0.75v0.75h-0.75zM236.9 248.5h0.75v0.75h-0.75zM240.3 248.2h0.75v0.75h-0.75zM243.1 248.3h0.75v0.75h-0.75zM181.1 249.0h0.75v0.75h-0.75zM184.3 249.3h0.75v0.75h-0.75zM191.9 249.1h0.75v0.75h-0.75zM194.8 249.4h0.75v0.75h-0.75zM211.3 249.1h0.75v0.75h-0.75zM225.2 249.2h0.75v0.75h-0.75zM232.1 249.1h0.75v0.75h-0.75zM239.3 249.4h0.75v0.75h-0.75zM242.0 249.5h0.75v0.75h-0.75zM247.1 249.5h0.75v0.75h-0.75zM224.3 250.5h0.75v0.75h-0.75zM234.1 250.4h0.75v0.75h-0.75zM236.1 250.4h0.75v0.75h-0.75zM241.8 250.1h0.75v0.75h-0.75zM243.1 250.3h0.75v0.75h-0.75zM243.9 250.2h0.75v0.75h-0.75zM247.2 250.1h0.75v0.75h-0.75zM179.9 251.6h0.75v0.75h-0.75zM183.9 251.4h0.75v0.75h-0.75zM228.9 251.5h0.75v0.75h-0.75zM236.9 251.5h0.75v0.75h-0.75zM241.3 251.0h0.75v0.75h-0.75zM247.0 251.2h0.75v0.75h-0.75zM231.1 252.3h0.75v0.75h-0.75zM235.1 252.2h0.75v0.75h-0.75zM242.1 252.3h0.75v0.75h-0.75zM244.0 252.5h0.75v0.75h-0.75zM246.8 252.5h0.75v0.75h-0.75zM234.2 253.3h0.75v0.75h-0.75zM238.1 253.2h0.75v0.75h-0.75zM239.4 253.1h0.75v0.75h-0.75zM240.2 253.1h0.75v0.75h-0.75zM241.3 253.4h0.75v0.75h-0.75zM244.3 253.1h0.75v0.75h-0.75zM245.8 253.5h0.75v0.75h-0.75zM232.4 254.1h0.75v0.75h-0.75zM237.9 254.3h0.75v0.75h-0.75zM239.1 254.2h0.75v0.75h-0.75zM244.0 254.1h0.75v0.75h-0.75zM247.2 254.4h0.75v0.75h-0.75zM237.0 255.1h0.75v0.75h-0.75zM238.9 255.5h0.75v0.75h-0.75zM245.3 255.2h0.75v0.75h-0.75zM247.0 255.5h0.75v0.75h-0.75zM233.1 256.3h0.75v0.75h-0.75zM233.9 256.5h0.75v0.75h-0.75zM234.9 256.3h0.75v0.75h-0.75zM236.0 256.4h0.75v0.75h-0.75zM242.9 256.2h0.75v0.75h-0.75zM177.9 257.5h0.75v0.75h-0.75zM228.2 257.2h0.75v0.75h-0.75zM232.0 257.0h0.75v0.75h-0.75zM236.0 257.3h0.75v0.75h-0.75zM237.1 257.3h0.75v0.75h-0.75zM238.1 257.5h0.75v0.75h-0.75zM244.3 257.3h0.75v0.75h-0.75zM245.2 257.2h0.75v0.75h-0.75zM179.8 258.3h0.75v0.75h-0.75zM185.0 258.6h0.75v0.75h-0.75zM230.2 258.6h0.75v0.75h-0.75zM234.2 258.3h0.75v0.75h-0.75zM238.2 258.5h0.75v0.75h-0.75zM241.0 258.1h0.75v0.75h-0.75zM242.1 258.2h0.75v0.75h-0.75zM244.0 258.5h0.75v0.75h-0.75zM245.1 258.2h0.75v0.75h-0.75zM246.0 258.3h0.75v0.75h-0.75zM246.8 258.5h0.75v0.75h-0.75zM176.1 259.6h0.75v0.75h-0.75zM177.1 259.1h0.75v0.75h-0.75zM178.3 259.2h0.75v0.75h-0.75zM179.0 259.6h0.75v0.75h-0.75zM180.0 259.1h0.75v0.75h-0.75zM187.0 259.2h0.75v0.75h-0.75zM218.2 259.4h0.75v0.75h-0.75zM221.9 259.5h0.75v0.75h-0.75zM229.2 259.4h0.75v0.75h-0.75zM232.3 259.6h0.75v0.75h-0.75zM233.0 259.1h0.75v0.75h-0.75zM234.1 259.3h0.75v0.75h-0.75zM238.0 259.3h0.75v0.75h-0.75zM239.3 259.2h0.75v0.75h-0.75zM241.0 259.4h0.75v0.75h-0.75zM243.9 259.6h0.75v0.75h-0.75zM245.9 259.5h0.75v0.75h-0.75zM246.9 259.5h0.75v0.75h-0.75zM173.9 260.1h0.75v0.75h-0.75zM175.8 260.5h0.75v0.75h-0.75zM177.2 260.4h0.75v0.75h-0.75zM182.4 260.6h0.75v0.75h-0.75zM184.9 260.4h0.75v0.75h-0.75zM188.9 260.2h0.75v0.75h-0.75zM192.3 260.3h0.75v0.75h-0.75zM194.3 260.2h0.75v0.75h-0.75zM194.9 260.5h0.75v0.75h-0.75zM203.2 260.6h0.75v0.75h-0.75zM204.1 260.1h0.75v0.75h-0.75zM205.3 260.2h0.75v0.75h-0.75zM207.3 260.1h0.75v0.75h-0.75zM213.1 260.0h0.75v0.75h-0.75zM213.9 260.5h0.75v0.75h-0.75zM222.8 260.3h0.75v0.75h-0.75zM229.1 260.5h0.75v0.75h-0.75zM231.9 260.1h0.75v0.75h-0.75zM233.2 260.1h0.75v0.75h-0.75zM238.3 260.2h0.75v0.75h-0.75zM239.8 260.2h0.75v0.75h-0.75zM247.2 260.4h0.75v0.75h-0.75zM247.9 260.3h0.75v0.75h-0.75zM169.9 261.3h0.75v0.75h-0.75zM172.9 261.1h0.75v0.75h-0.75zM177.2 261.2h0.75v0.75h-0.75zM179.9 261.3h0.75v0.75h-0.75zM187.8 261.6h0.75v0.75h-0.75zM189.3 261.3h0.75v0.75h-0.75zM194.2 261.2h0.75v0.75h-0.75zM198.0 261.1h0.75v0.75h-0.75zM199.1 261.1h0.75v0.75h-0.75zM201.0 261.1h0.75v0.75h-0.75zM204.8 261.3h0.75v0.75h-0.75zM208.2 261.1h0.75v0.75h-0.75zM209.3 261.4h0.75v0.75h-0.75zM210.1 261.3h0.75v0.75h-0.75zM216.0 261.5h0.75v0.75h-0.75zM217.2 261.5h0.75v0.75h-0.75zM219.8 261.1h0.75v0.75h-0.75zM222.0 261.6h0.75v0.75h-0.75zM225.0 261.3h0.75v0.75h-0.75zM228.3 261.4h0.75v0.75h-0.75zM230.3 261.3h0.75v0.75h-0.75zM234.4 261.0h0.75v0.75h-0.75zM237.4 261.1h0.75v0.75h-0.75zM239.0 261.2h0.75v0.75h-0.75zM241.1 261.3h0.75v0.75h-0.75zM241.8 261.5h0.75v0.75h-0.75zM244.9 261.6h0.75v0.75h-0.75zM248.4 261.4h0.75v0.75h-0.75zM173.3 262.5h0.75v0.75h-0.75zM178.2 262.4h0.75v0.75h-0.75zM178.8 262.3h0.75v0.75h-0.75zM184.0 262.2h0.75v0.75h-0.75zM186.0 262.1h0.75v0.75h-0.75zM190.2 262.2h0.75v0.75h-0.75zM191.1 262.3h0.75v0.75h-0.75zM194.0 262.2h0.75v0.75h-0.75zM199.4 262.2h0.75v0.75h-0.75zM200.0 262.3h0.75v0.75h-0.75zM201.2 262.1h0.75v0.75h-0.75zM204.2 262.4h0.75v0.75h-0.75zM204.9 262.2h0.75v0.75h-0.75zM209.3 262.1h0.75v0.75h-0.75zM212.8 262.4h0.75v0.75h-0.75zM214.8 262.5h0.75v0.75h-0.75zM219.0 262.6h0.75v0.75h-0.75zM219.8 262.3h0.75v0.75h-0.75zM223.1 262.2h0.75v0.75h-0.75zM232.3 262.3h0.75v0.75h-0.75zM239.1 262.6h0.75v0.75h-0.75zM239.8 262.2h0.75v0.75h-0.75zM247.0 262.3h0.75v0.75h-0.75zM178.3 263.4h0.75v0.75h-0.75zM181.3 263.1h0.75v0.75h-0.75zM184.9 263.6h0.75v0.75h-0.75zM186.2 263.3h0.75v0.75h-0.75zM192.2 263.2h0.75v0.75h-0.75zM197.4 263.1h0.75v0.75h-0.75zM198.2 263.3h0.75v0.75h-0.75zM200.2 263.1h0.75v0.75h-0.75zM208.2 263.4h0.75v0.75h-0.75zM209.1 263.6h0.75v0.75h-0.75zM212.4 263.0h0.75v0.75h-0.75zM214.4 263.3h0.75v0.75h-0.75zM216.9 263.0h0.75v0.75h-0.75zM220.0 263.2h0.75v0.75h-0.75zM221.8 263.0h0.75v0.75h-0.75zM227.8 263.5h0.75v0.75h-0.75zM230.9 263.3h0.75v0.75h-0.75zM235.3 263.1h0.75v0.75h-0.75zM238.2 263.3h0.75v0.75h-0.75zM239.0 263.4h0.75v0.75h-0.75zM243.1 263.4h0.75v0.75h-0.75zM245.9 263.1h0.75v0.75h-0.75zM247.3 263.1h0.75v0.75h-0.75zM169.9 264.3h0.75v0.75h-0.75zM173.2 264.5h0.75v0.75h-0.75zM173.9 264.4h0.75v0.75h-0.75zM178.4 264.2h0.75v0.75h-0.75zM180.0 264.1h0.75v0.75h-0.75zM181.9 264.3h0.75v0.75h-0.75zM185.9 264.3h0.75v0.75h-0.75zM192.4 264.3h0.75v0.75h-0.75zM194.4 264.5h0.75v0.75h-0.75zM196.1 264.2h0.75v0.75h-0.75zM197.0 264.5h0.75v0.75h-0.75zM198.3 264.4h0.75v0.75h-0.75zM199.9 264.6h0.75v0.75h-0.75zM201.3 264.1h0.75v0.75h-0.75zM201.8 264.5h0.75v0.75h-0.75zM203.2 264.6h0.75v0.75h-0.75zM208.9 264.2h0.75v0.75h-0.75zM210.0 264.3h0.75v0.75h-0.75zM219.2 264.5h0.75v0.75h-0.75zM225.2 264.4h0.75v0.75h-0.75zM228.3 264.2h0.75v0.75h-0.75zM230.1 264.3h0.75v0.75h-0.75zM230.8 264.5h0.75v0.75h-0.75zM231.9 264.5h0.75v0.75h-0.75zM237.0 264.6h0.75v0.75h-0.75zM241.3 264.1h0.75v0.75h-0.75zM242.9 264.3h0.75v0.75h-0.75zM174.0 265.3h0.75v0.75h-0.75zM174.9 265.4h0.75v0.75h-0.75zM176.3 265.1h0.75v0.75h-0.75zM182.1 265.5h0.75v0.75h-0.75zM184.3 265.5h0.75v0.75h-0.75zM187.2 265.5h0.75v0.75h-0.75zM193.0 265.2h0.75v0.75h-0.75zM195.1 265.4h0.75v0.75h-0.75zM196.4 265.5h0.75v0.75h-0.75zM198.0 265.4h0.75v0.75h-0.75zM199.2 265.4h0.75v0.75h-0.75zM200.3 265.3h0.75v0.75h-0.75zM201.2 265.6h0.75v0.75h-0.75zM202.1 265.6h0.75v0.75h-0.75zM206.0 265.5h0.75v0.75h-0.75zM207.2 265.5h0.75v0.75h-0.75zM208.1 265.2h0.75v0.75h-0.75zM213.2 265.1h0.75v0.75h-0.75zM214.0 265.4h0.75v0.75h-0.75zM216.3 265.3h0.75v0.75h-0.75zM221.9 265.4h0.75v0.75h-0.75zM222.8 265.1h0.75v0.75h-0.75zM224.2 265.2h0.75v0.75h-0.75zM241.1 265.5h0.75v0.75h-0.75zM172.2 266.6h0.75v0.75h-0.75zM173.4 266.4h0.75v0.75h-0.75zM174.4 266.5h0.75v0.75h-0.75zM176.2 266.3h0.75v0.75h-0.75zM179.1 266.2h0.75v0.75h-0.75zM180.4 266.4h0.75v0.75h-0.75zM181.0 266.1h0.75v0.75h-0.75zM181.9 266.5h0.75v0.75h-0.75zM185.0 266.5h0.75v0.75h-0.75zM186.3 266.5h0.75v0.75h-0.75zM187.4 266.1h0.75v0.75h-0.75zM188.9 266.3h0.75v0.75h-0.75zM193.9 266.3h0.75v0.75h-0.75zM196.0 266.2h0.75v0.75h-0.75zM199.2 266.3h0.75v0.75h-0.75zM201.3 266.0h0.75v0.75h-0.75zM205.0 266.4h0.75v0.75h-0.75zM213.3 266.5h0.75v0.75h-0.75zM215.2 266.4h0.75v0.75h-0.75zM216.3 266.4h0.75v0.75h-0.75zM221.0 266.5h0.75v0.75h-0.75zM223.8 266.3h0.75v0.75h-0.75zM240.8 266.5h0.75v0.75h-0.75zM246.9 266.5h0.75v0.75h-0.75zM169.8 267.1h0.75v0.75h-0.75zM172.2 267.3h0.75v0.75h-0.75zM175.3 267.2h0.75v0.75h-0.75zM175.9 267.4h0.75v0.75h-0.75zM176.9 267.2h0.75v0.75h-0.75zM180.9 267.5h0.75v0.75h-0.75zM191.3 267.0h0.75v0.75h-0.75zM194.2 267.2h0.75v0.75h-0.75zM198.0 267.1h0.75v0.75h-0.75zM203.0 267.2h0.75v0.75h-0.75zM204.9 267.1h0.75v0.75h-0.75zM207.0 267.1h0.75v0.75h-0.75zM210.0 267.5h0.75v0.75h-0.75zM214.1 267.5h0.75v0.75h-0.75zM215.2 267.4h0.75v0.75h-0.75zM215.8 267.2h0.75v0.75h-0.75zM220.9 267.0h0.75v0.75h-0.75zM224.9 267.2h0.75v0.75h-0.75zM228.2 267.3h0.75v0.75h-0.75zM232.4 267.1h0.75v0.75h-0.75zM241.2 267.5h0.75v0.75h-0.75zM248.2 267.6h0.75v0.75h-0.75zM170.1 268.6h0.75v0.75h-0.75zM171.4 268.4h0.75v0.75h-0.75zM172.9 268.5h0.75v0.75h-0.75zM179.1 268.5h0.75v0.75h-0.75zM187.9 268.1h0.75v0.75h-0.75zM190.3 268.1h0.75v0.75h-0.75zM194.9 268.3h0.75v0.75h-0.75zM199.2 268.5h0.75v0.75h-0.75zM217.2 268.4h0.75v0.75h-0.75zM220.0 268.6h0.75v0.75h-0.75zM227.9 268.3h0.75v0.75h-0.75zM232.1 268.3h0.75v0.75h-0.75zM234.3 268.5h0.75v0.75h-0.75zM237.3 268.2h0.75v0.75h-0.75zM171.3 269.3h0.75v0.75h-0.75zM172.1 269.0h0.75v0.75h-0.75zM173.9 269.4h0.75v0.75h-0.75zM179.1 269.2h0.75v0.75h-0.75zM187.1 269.4h0.75v0.75h-0.75zM193.2 269.3h0.75v0.75h-0.75zM203.4 269.2h0.75v0.75h-0.75zM207.9 269.4h0.75v0.75h-0.75zM212.9 269.5h0.75v0.75h-0.75zM218.2 269.0h0.75v0.75h-0.75zM219.3 269.0h0.75v0.75h-0.75zM221.1 269.0h0.75v0.75h-0.75zM222.1 269.1h0.75v0.75h-0.75zM237.2 269.4h0.75v0.75h-0.75zM246.9 269.1h0.75v0.75h-0.75zM170.4 270.2h0.75v0.75h-0.75zM170.9 270.2h0.75v0.75h-0.75zM172.2 270.1h0.75v0.75h-0.75zM173.2 270.4h0.75v0.75h-0.75zM181.3 270.3h0.75v0.75h-0.75zM182.0 270.6h0.75v0.75h-0.75zM194.1 270.2h0.75v0.75h-0.75zM199.1 270.1h0.75v0.75h-0.75zM200.2 270.2h0.75v0.75h-0.75zM206.1 270.2h0.75v0.75h-0.75zM220.9 270.5h0.75v0.75h-0.75zM226.1 270.4h0.75v0.75h-0.75zM236.3 270.6h0.75v0.75h-0.75zM242.9 270.3h0.75v0.75h-0.75zM174.2 271.5h0.75v0.75h-0.75zM190.9 271.4h0.75v0.75h-0.75zM170.2 272.5h0.75v0.75h-0.75zM184.4 272.3h0.75v0.75h-0.75zM185.8 272.3h0.75v0.75h-0.75zM207.9 272.2h0.75v0.75h-0.75zM210.0 272.0h0.75v0.75h-0.75zM214.2 272.4h0.75v0.75h-0.75zM228.0 272.5h0.75v0.75h-0.75zM243.1 272.3h0.75v0.75h-0.75zM173.3 273.5h0.75v0.75h-0.75zM184.1 273.1h0.75v0.75h-0.75zM188.2 273.0h0.75v0.75h-0.75zM196.9 273.1h0.75v0.75h-0.75zM198.3 273.5h0.75v0.75h-0.75zM200.2 273.5h0.75v0.75h-0.75zM209.0 273.5h0.75v0.75h-0.75zM219.4 273.6h0.75v0.75h-0.75zM222.9 273.4h0.75v0.75h-0.75zM225.3 273.5h0.75v0.75h-0.75zM226.2 273.4h0.75v0.75h-0.75zM172.1 274.0h0.75v0.75h-0.75zM177.0 274.6h0.75v0.75h-0.75zM188.1 274.3h0.75v0.75h-0.75zM191.8 274.2h0.75v0.75h-0.75zM203.0 274.1h0.75v0.75h-0.75zM216.9 274.2h0.75v0.75h-0.75zM222.9 274.2h0.75v0.75h-0.75zM245.1 275.3h0.75v0.75h-0.75zM173.0 276.1h0.75v0.75h-0.75zM175.0 276.0h0.75v0.75h-0.75zM204.8 276.4h0.75v0.75h-0.75zM212.2 276.4h0.75v0.75h-0.75zM174.4 277.2h0.75v0.75h-0.75zM207.0 277.3h0.75v0.75h-0.75zM227.0 277.3h0.75v0.75h-0.75zM171.3 278.0h0.75v0.75h-0.75zM186.0 278.1h0.75v0.75h-0.75zM221.9 278.3h0.75v0.75h-0.75zM192.9 279.5h0.75v0.75h-0.75zM199.8 279.4h0.75v0.75h-0.75zM219.2 279.0h0.75v0.75h-0.75z" fill="#aab2f2" fill-opacity="0.5"/>
<path d="M174.0 233.2h0.75v0.75h-0.75zM173.1 237.3h0.75v0.75h-0.75zM172.4 238.4h0.75v0.75h-0.75zM173.3 238.6h0.75v0.75h-0.75zM174.2 240.0h0.75v0.75h-0.75zM171.2 241.2h0.75v0.75h-0.75zM170.1 242.4h0.75v0.75h-0.75zM188.9 242.4h0.75v0.75h-0.75zM231.1 242.3h0.75v0.75h-0.75zM169.8 243.0h0.75v0.75h-0.75zM171.3 243.3h0.75v0.75h-0.75zM172.8 243.5h0.75v0.75h-0.75zM178.1 243.4h0.75v0.75h-0.75zM169.9 244.3h0.75v0.75h-0.75zM173.3 244.2h0.75v0.75h-0.75zM230.3 244.4h0.75v0.75h-0.75zM172.3 245.4h0.75v0.75h-0.75zM173.1 245.3h0.75v0.75h-0.75zM197.2 245.1h0.75v0.75h-0.75zM201.4 245.5h0.75v0.75h-0.75zM202.4 245.2h0.75v0.75h-0.75zM211.2 245.6h0.75v0.75h-0.75zM215.4 245.5h0.75v0.75h-0.75zM215.9 245.5h0.75v0.75h-0.75zM238.3 245.2h0.75v0.75h-0.75zM170.2 246.3h0.75v0.75h-0.75zM171.9 246.6h0.75v0.75h-0.75zM173.0 246.1h0.75v0.75h-0.75zM176.1 246.1h0.75v0.75h-0.75zM177.0 246.3h0.75v0.75h-0.75zM178.0 246.5h0.75v0.75h-0.75zM179.3 246.3h0.75v0.75h-0.75zM183.0 246.5h0.75v0.75h-0.75zM186.2 246.4h0.75v0.75h-0.75zM189.3 246.2h0.75v0.75h-0.75zM193.0 246.3h0.75v0.75h-0.75zM200.9 246.3h0.75v0.75h-0.75zM214.1 246.3h0.75v0.75h-0.75zM215.3 246.2h0.75v0.75h-0.75zM220.2 246.2h0.75v0.75h-0.75zM170.3 247.0h0.75v0.75h-0.75zM171.2 247.2h0.75v0.75h-0.75zM172.2 247.2h0.75v0.75h-0.75zM172.9 247.5h0.75v0.75h-0.75zM175.3 247.6h0.75v0.75h-0.75zM177.3 247.3h0.75v0.75h-0.75zM178.2 247.4h0.75v0.75h-0.75zM188.8 247.2h0.75v0.75h-0.75zM190.2 247.2h0.75v0.75h-0.75zM198.2 247.2h0.75v0.75h-0.75zM199.2 247.3h0.75v0.75h-0.75zM212.2 247.5h0.75v0.75h-0.75zM215.8 247.2h0.75v0.75h-0.75zM218.2 247.3h0.75v0.75h-0.75zM222.2 247.2h0.75v0.75h-0.75zM241.1 247.6h0.75v0.75h-0.75zM170.3 248.3h0.75v0.75h-0.75zM171.4 248.2h0.75v0.75h-0.75zM172.2 248.5h0.75v0.75h-0.75zM172.8 248.1h0.75v0.75h-0.75zM174.1 248.0h0.75v0.75h-0.75zM175.0 248.0h0.75v0.75h-0.75zM177.0 248.5h0.75v0.75h-0.75zM183.1 248.4h0.75v0.75h-0.75zM184.2 248.6h0.75v0.75h-0.75zM187.1 248.3h0.75v0.75h-0.75zM191.0 248.6h0.75v0.75h-0.75zM191.8 248.6h0.75v0.75h-0.75zM194.3 248.3h0.75v0.75h-0.75zM195.0 248.1h0.75v0.75h-0.75zM201.2 248.1h0.75v0.75h-0.75zM201.9 248.3h0.75v0.75h-0.75zM203.3 248.5h0.75v0.75h-0.75zM204.3 248.4h0.75v0.75h-0.75zM205.2 248.4h0.75v0.75h-0.75zM207.1 248.3h0.75v0.75h-0.75zM208.2 248.1h0.75v0.75h-0.75zM210.3 248.3h0.75v0.75h-0.75zM211.3 248.1h0.75v0.75h-0.75zM211.9 248.2h0.75v0.75h-0.75zM220.2 248.5h0.75v0.75h-0.75zM220.9 248.1h0.75v0.75h-0.75zM224.9 248.3h0.75v0.75h-0.75zM226.2 248.4h0.75v0.75h-0.75zM234.3 248.5h0.75v0.75h-0.75zM169.9 249.0h0.75v0.75h-0.75zM171.2 249.4h0.75v0.75h-0.75zM172.0 249.1h0.75v0.75h-0.75zM173.2 249.0h0.75v0.75h-0.75zM174.0 249.1h0.75v0.75h-0.75zM175.3 249.4h0.75v0.75h-0.75zM176.1 249.2h0.75v0.75h-0.75zM177.8 249.6h0.75v0.75h-0.75zM179.4 249.4h0.75v0.75h-0.75zM180.2 249.4h0.75v0.75h-0.75zM183.1 249.4h0.75v0.75h-0.75zM185.4 249.4h0.75v0.75h-0.75zM186.0 249.0h0.75v0.75h-0.75zM186.9 249.2h0.75v0.75h-0.75zM188.1 249.1h0.75v0.75h-0.75zM190.4 249.1h0.75v0.75h-0.75zM191.4 249.3h0.75v0.75h-0.75zM193.1 249.0h0.75v0.75h-0.75zM194.2 249.2h0.75v0.75h-0.75zM198.2 249.1h0.75v0.75h-0.75zM199.0 249.0h0.75v0.75h-0.75zM200.4 249.3h0.75v0.75h-0.75zM201.0 249.1h0.75v0.75h-0.75zM202.0 249.2h0.75v0.75h-0.75zM203.3 249.4h0.75v0.75h-0.75zM204.0 249.3h0.75v0.75h-0.75zM206.1 249.0h0.75v0.75h-0.75zM207.0 249.1h0.75v0.75h-0.75zM208.0 249.2h0.75v0.75h-0.75zM208.8 249.0h0.75v0.75h-0.75zM210.0 249.0h0.75v0.75h-0.75zM211.9 249.0h0.75v0.75h-0.75zM213.3 249.4h0.75v0.75h-0.75zM214.4 249.1h0.75v0.75h-0.75zM215.2 249.4h0.75v0.75h-0.75zM215.8 249.4h0.75v0.75h-0.75zM216.9 249.5h0.75v0.75h-0.75zM218.4 249.4h0.75v0.75h-0.75zM219.4 249.3h0.75v0.75h-0.75zM221.9 249.1h0.75v0.75h-0.75zM224.1 249.2h0.75v0.75h-0.75zM229.1 249.5h0.75v0.75h-0.75zM229.9 249.5h0.75v0.75h-0.75zM231.3 249.1h0.75v0.75h-0.75zM237.0 249.3h0.75v0.75h-0.75zM240.1 249.1h0.75v0.75h-0.75zM244.3 249.2h0.75v0.75h-0.75zM169.8 250.5h0.75v0.75h-0.75zM171.2 250.1h0.75v0.75h-0.75zM172.2 250.3h0.75v0.75h-0.75zM173.2 250.0h0.75v0.75h-0.75zM174.2 250.6h0.75v0.75h-0.75zM175.2 250.2h0.75v0.75h-0.75zM176.1 250.3h0.75v0.75h-0.75zM177.1 250.3h0.75v0.75h-0.75zM178.0 250.3h0.75v0.75h-0.75zM179.3 250.6h0.75v0.75h-0.75zM180.0 250.3h0.75v0.75h-0.75zM181.4 250.2h0.75v0.75h-0.75zM181.8 250.2h0.75v0.75h-0.75zM183.8 250.6h0.75v0.75h-0.75zM185.1 250.6h0.75v0.75h-0.75zM186.0 250.2h0.75v0.75h-0.75zM188.2 250.2h0.75v0.75h-0.75zM190.4 250.2h0.75v0.75h-0.75zM192.4 250.2h0.75v0.75h-0.75zM193.2 250.0h0.75v0.75h-0.75zM194.0 250.0h0.75v0.75h-0.75zM195.3 250.2h0.75v0.75h-0.75zM196.3 250.5h0.75v0.75h-0.75zM197.1 250.2h0.75v0.75h-0.75zM197.8 250.6h0.75v0.75h-0.75zM199.2 250.0h0.75v0.75h-0.75zM200.2 250.3h0.75v0.75h-0.75zM201.0 250.0h0.75v0.75h-0.75zM202.0 250.0h0.75v0.75h-0.75zM203.1 250.5h0.75v0.75h-0.75zM204.4 250.5h0.75v0.75h-0.75zM205.4 250.3h0.75v0.75h-0.75zM205.9 250.6h0.75v0.75h-0.75zM207.1 250.4h0.75v0.75h-0.75zM207.9 250.4h0.75v0.75h-0.75zM209.2 250.4h0.75v0.75h-0.75zM210.0 250.1h0.75v0.75h-0.75zM211.0 250.3h0.75v0.75h-0.75zM211.9 250.2h0.75v0.75h-0.75zM212.9 250.4h0.75v0.75h-0.75zM213.9 250.0h0.75v0.75h-0.75zM215.0 250.4h0.75v0.75h-0.75zM216.0 250.4h0.75v0.75h-0.75zM217.0 250.4h0.75v0.75h-0.75zM217.8 250.2h0.75v0.75h-0.75zM218.8 250.5h0.75v0.75h-0.75zM220.2 250.3h0.75v0.75h-0.75zM221.3 250.5h0.75v0.75h-0.75zM222.1 250.4h0.75v0.75h-0.75zM222.8 250.5h0.75v0.75h-0.75zM224.8 250.6h0.75v0.75h-0.75zM227.1 250.3h0.75v0.75h-0.75zM228.9 250.3h0.75v0.75h-0.75zM231.0 250.4h0.75v0.75h-0.75zM237.3 250.1h0.75v0.75h-0.75zM238.4 250.1h0.75v0.75h-0.75zM239.2 250.4h0.75v0.75h-0.75zM240.2 250.1h0.75v0.75h-0.75zM245.1 250.3h0.75v0.75h-0.75zM245.8 250.5h0.75v0.75h-0.75zM170.1 251.2h0.75v0.75h-0.75zM171.3 251.4h0.75v0.75h-0.75zM172.4 251.2h0.75v0.75h-0.75zM173.3 251.3h0.75v0.75h-0.75zM174.0 251.2h0.75v0.75h-0.75zM175.0 251.3h0.75v0.75h-0.75zM176.4 251.1h0.75v0.75h-0.75zM177.0 251.3h0.75v0.75h-0.75zM180.8 251.0h0.75v0.75h-0.75zM182.1 251.2h0.75v0.75h-0.75zM183.1 251.4h0.75v0.75h-0.75zM185.3 251.4h0.75v0.75h-0.75zM186.3 251.1h0.75v0.75h-0.75zM187.3 251.2h0.75v0.75h-0.75zM188.1 251.3h0.75v0.75h-0.75zM189.2 251.2h0.75v0.75h-0.75zM189.8 251.4h0.75v0.75h-0.75zM191.3 251.2h0.75v0.75h-0.75zM192.1 251.0h0.75v0.75h-0.75zM192.9 251.5h0.75v0.75h-0.75zM193.8 251.4h0.75v0.75h-0.75zM195.2 251.1h0.75v0.75h-0.75zM196.0 251.5h0.75v0.75h-0.75zM196.8 251.4h0.75v0.75h-0.75zM197.8 251.5h0.75v0.75h-0.75zM199.3 251.5h0.75v0.75h-0.75zM200.2 251.5h0.75v0.75h-0.75zM201.0 251.5h0.75v0.75h-0.75zM201.8 251.3h0.75v0.75h-0.75zM202.8 251.2h0.75v0.75h-0.75zM204.3 251.4h0.75v0.75h-0.75zM205.3 251.4h0.75v0.75h-0.75zM205.9 251.2h0.75v0.75h-0.75zM207.0 251.1h0.75v0.75h-0.75zM208.1 251.2h0.75v0.75h-0.75zM209.4 251.4h0.75v0.75h-0.75zM210.1 251.2h0.75v0.75h-0.75zM210.9 251.5h0.75v0.75h-0.75zM212.0 251.3h0.75v0.75h-0.75zM213.0 251.2h0.75v0.75h-0.75zM213.9 251.1h0.75v0.75h-0.75zM215.0 251.3h0.75v0.75h-0.75zM216.1 251.6h0.75v0.75h-0.75zM217.3 251.0h0.75v0.75h-0.75zM218.3 251.5h0.75v0.75h-0.75zM218.9 251.4h0.75v0.75h-0.75zM219.9 251.3h0.75v0.75h-0.75zM221.4 251.1h0.75v0.75h-0.75zM222.2 251.3h0.75v0.75h-0.75zM222.9 251.1h0.75v0.75h-0.75zM224.3 251.4h0.75v0.75h-0.75zM224.9 251.0h0.75v0.75h-0.75zM227.4 251.2h0.75v0.75h-0.75zM228.3 251.3h0.75v0.75h-0.75zM229.9 251.5h0.75v0.75h-0.75zM231.8 251.4h0.75v0.75h-0.75zM234.0 251.0h0.75v0.75h-0.75zM235.9 251.0h0.75v0.75h-0.75zM238.4 251.6h0.75v0.75h-0.75zM170.0 252.5h0.75v0.75h-0.75zM171.1 252.1h0.75v0.75h-0.75zM172.2 252.1h0.75v0.75h-0.75zM173.1 252.1h0.75v0.75h-0.75zM174.0 252.6h0.75v0.75h-0.75zM175.2 252.5h0.75v0.75h-0.75zM176.0 252.5h0.75v0.75h-0.75zM176.8 252.5h0.75v0.75h-0.75zM178.1 252.2h0.75v0.75h-0.75zM179.4 252.5h0.75v0.75h-0.75zM180.2 252.3h0.75v0.75h-0.75zM181.4 252.5h0.75v0.75h-0.75zM182.0 252.2h0.75v0.75h-0.75zM184.2 252.3h0.75v0.75h-0.75zM185.4 252.5h0.75v0.75h-0.75zM185.9 252.0h0.75v0.75h-0.75zM186.9 252.6h0.75v0.75h-0.75zM187.9 252.0h0.75v0.75h-0.75zM189.0 252.1h0.75v0.75h-0.75zM189.9 252.1h0.75v0.75h-0.75zM191.2 252.2h0.75v0.75h-0.75zM192.0 252.5h0.75v0.75h-0.75zM192.9 252.1h0.75v0.75h-0.75zM193.8 252.3h0.75v0.75h-0.75zM195.3 252.5h0.75v0.75h-0.75zM196.3 252.5h0.75v0.75h-0.75zM197.0 252.4h0.75v0.75h-0.75zM198.0 252.0h0.75v0.75h-0.75zM199.3 252.4h0.75v0.75h-0.75zM200.3 252.4h0.75v0.75h-0.75zM200.9 252.1h0.75v0.75h-0.75zM202.2 252.6h0.75v0.75h-0.75zM202.8 252.4h0.75v0.75h-0.75zM204.0 252.4h0.75v0.75h-0.75zM205.1 252.5h0.75v0.75h-0.75zM206.1 252.4h0.75v0.75h-0.75zM207.4 252.3h0.75v0.75h-0.75zM208.3 252.4h0.75v0.75h-0.75zM209.3 252.5h0.75v0.75h-0.75zM209.9 252.3h0.75v0.75h-0.75zM210.8 252.1h0.75v0.75h-0.75zM212.3 252.6h0.75v0.75h-0.75zM212.8 252.2h0.75v0.75h-0.75zM214.0 252.4h0.75v0.75h-0.75zM215.3 252.2h0.75v0.75h-0.75zM215.9 252.0h0.75v0.75h-0.75zM217.0 252.5h0.75v0.75h-0.75zM218.3 252.1h0.75v0.75h-0.75zM219.0 252.0h0.75v0.75h-0.75zM219.9 252.4h0.75v0.75h-0.75zM221.3 252.4h0.75v0.75h-0.75zM222.1 252.5h0.75v0.75h-0.75zM223.1 252.1h0.75v0.75h-0.75zM225.1 252.3h0.75v0.75h-0.75zM225.9 252.6h0.75v0.75h-0.75zM227.2 252.4h0.75v0.75h-0.75zM228.9 252.5h0.75v0.75h-0.75zM230.3 252.1h0.75v0.75h-0.75zM234.0 252.6h0.75v0.75h-0.75zM235.9 252.0h0.75v0.75h-0.75zM237.3 252.2h0.75v0.75h-0.75zM239.3 252.3h0.75v0.75h-0.75zM170.3 253.5h0.75v0.75h-0.75zM170.8 253.3h0.75v0.75h-0.75zM172.0 253.5h0.75v0.75h-0.75zM173.1 253.2h0.75v0.75h-0.75zM173.8 253.1h0.75v0.75h-0.75zM174.8 253.5h0.75v0.75h-0.75zM176.4 253.1h0.75v0.75h-0.75zM177.1 253.2h0.75v0.75h-0.75zM178.4 253.5h0.75v0.75h-0.75zM179.1 253.2h0.75v0.75h-0.75zM181.3 253.2h0.75v0.75h-0.75zM182.3 253.3h0.75v0.75h-0.75zM183.3 253.2h0.75v0.75h-0.75zM184.1 253.1h0.75v0.75h-0.75zM185.3 253.6h0.75v0.75h-0.75zM185.9 253.3h0.75v0.75h-0.75zM187.3 253.2h0.75v0.75h-0.75zM188.4 253.1h0.75v0.75h-0.75zM189.3 253.4h0.75v0.75h-0.75zM189.9 253.2h0.75v0.75h-0.75zM190.8 253.1h0.75v0.75h-0.75zM192.0 253.4h0.75v0.75h-0.75zM192.8 253.5h0.75v0.75h-0.75zM194.2 253.6h0.75v0.75h-0.75zM195.1 253.4h0.75v0.75h-0.75zM196.1 253.3h0.75v0.75h-0.75zM197.2 253.1h0.75v0.75h-0.75zM198.3 253.2h0.75v0.75h-0.75zM199.4 253.3h0.75v0.75h-0.75zM200.0 253.6h0.75v0.75h-0.75zM200.9 253.4h0.75v0.75h-0.75zM202.4 253.1h0.75v0.75h-0.75zM202.9 253.1h0.75v0.75h-0.75zM204.1 253.4h0.75v0.75h-0.75zM205.0 253.1h0.75v0.75h-0.75zM206.0 253.1h0.75v0.75h-0.75zM207.3 253.4h0.75v0.75h-0.75zM208.3 253.0h0.75v0.75h-0.75zM209.2 253.1h0.75v0.75h-0.75zM210.2 253.6h0.75v0.75h-0.75zM210.9 253.2h0.75v0.75h-0.75zM212.0 253.4h0.75v0.75h-0.75zM213.0 253.6h0.75v0.75h-0.75zM214.2 253.1h0.75v0.75h-0.75zM215.3 253.2h0.75v0.75h-0.75zM216.2 253.2h0.75v0.75h-0.75zM216.8 253.2h0.75v0.75h-0.75zM218.3 253.0h0.75v0.75h-0.75zM219.2 253.0h0.75v0.75h-0.75zM220.4 253.3h0.75v0.75h-0.75zM221.4 253.0h0.75v0.75h-0.75zM221.9 253.3h0.75v0.75h-0.75zM223.4 253.4h0.75v0.75h-0.75zM224.1 253.2h0.75v0.75h-0.75zM225.0 253.2h0.75v0.75h-0.75zM226.4 253.5h0.75v0.75h-0.75zM228.8 253.2h0.75v0.75h-0.75zM231.2 253.5h0.75v0.75h-0.75zM235.2 253.0h0.75v0.75h-0.75zM236.0 253.3h0.75v0.75h-0.75zM170.1 254.5h0.75v0.75h-0.75zM171.0 254.5h0.75v0.75h-0.75zM172.0 254.3h0.75v0.75h-0.75zM173.4 254.3h0.75v0.75h-0.75zM174.2 254.3h0.75v0.75h-0.75zM175.2 254.1h0.75v0.75h-0.75zM176.1 254.5h0.75v0.75h-0.75zM176.9 254.4h0.75v0.75h-0.75zM177.9 254.4h0.75v0.75h-0.75zM179.4 254.2h0.75v0.75h-0.75zM179.9 254.0h0.75v0.75h-0.75zM181.3 254.5h0.75v0.75h-0.75zM182.1 254.0h0.75v0.75h-0.75zM183.1 254.5h0.75v0.75h-0.75zM184.0 254.5h0.75v0.75h-0.75zM185.1 254.6h0.75v0.75h-0.75zM186.1 254.1h0.75v0.75h-0.75zM187.2 254.2h0.75v0.75h-0.75zM188.0 254.5h0.75v0.75h-0.75zM188.9 254.1h0.75v0.75h-0.75zM190.3 254.3h0.75v0.75h-0.75zM190.9 254.5h0.75v0.75h-0.75zM191.9 254.3h0.75v0.75h-0.75zM192.9 254.4h0.75v0.75h-0.75zM194.1 254.1h0.75v0.75h-0.75zM194.8 254.3h0.75v0.75h-0.75zM196.0 254.3h0.75v0.75h-0.75zM197.0 254.2h0.75v0.75h-0.75zM198.3 254.1h0.75v0.75h-0.75zM198.9 254.1h0.75v0.75h-0.75zM200.2 254.6h0.75v0.75h-0.75zM200.9 254.3h0.75v0.75h-0.75zM202.1 254.0h0.75v0.75h-0.75zM202.9 254.2h0.75v0.75h-0.75zM204.2 254.2h0.75v0.75h-0.75zM204.9 254.3h0.75v0.75h-0.75zM205.9 254.6h0.75v0.75h-0.75zM207.4 254.3h0.75v0.75h-0.75zM208.2 254.5h0.75v0.75h-0.75zM209.2 254.2h0.75v0.75h-0.75zM209.9 254.1h0.75v0.75h-0.75zM210.9 254.1h0.75v0.75h-0.75zM211.9 254.6h0.75v0.75h-0.75zM213.4 254.2h0.75v0.75h-0.75zM213.8 254.0h0.75v0.75h-0.75zM215.1 254.2h0.75v0.75h-0.75zM216.3 254.1h0.75v0.75h-0.75zM217.1 254.6h0.75v0.75h-0.75zM218.0 254.6h0.75v0.75h-0.75zM219.3 254.1h0.75v0.75h-0.75zM219.9 254.0h0.75v0.75h-0.75zM221.3 254.3h0.75v0.75h-0.75zM222.0 254.2h0.75v0.75h-0.75zM223.0 254.6h0.75v0.75h-0.75zM224.2 254.1h0.75v0.75h-0.75zM225.2 254.3h0.75v0.75h-0.75zM226.0 254.0h0.75v0.75h-0.75zM226.9 254.2h0.75v0.75h-0.75zM228.4 254.2h0.75v0.75h-0.75zM229.3 254.3h0.75v0.75h-0.75zM229.8 254.4h0.75v0.75h-0.75zM231.1 254.5h0.75v0.75h-0.75zM233.0 254.4h0.75v0.75h-0.75zM234.3 254.5h0.75v0.75h-0.75zM236.8 254.6h0.75v0.75h-0.75zM242.0 254.3h0.75v0.75h-0.75zM246.1 254.2h0.75v0.75h-0.75zM170.2 255.4h0.75v0.75h-0.75zM171.3 255.2h0.75v0.75h-0.75zM171.8 255.2h0.75v0.75h-0.75zM173.1 255.2h0.75v0.75h-0.75zM173.8 255.2h0.75v0.75h-0.75zM175.4 255.2h0.75v0.75h-0.75zM176.3 255.3h0.75v0.75h-0.75zM177.0 255.5h0.75v0.75h-0.75zM178.3 255.1h0.75v0.75h-0.75zM179.1 255.6h0.75v0.75h-0.75zM179.8 255.0h0.75v0.75h-0.75zM181.4 255.3h0.75v0.75h-0.75zM182.4 255.2h0.75v0.75h-0.75zM183.2 255.1h0.75v0.75h-0.75zM184.3 255.4h0.75v0.75h-0.75zM185.0 255.2h0.75v0.75h-0.75zM185.8 255.3h0.75v0.75h-0.75zM187.3 255.5h0.75v0.75h-0.75zM188.2 255.3h0.75v0.75h-0.75zM188.9 255.4h0.75v0.75h-0.75zM190.0 255.2h0.75v0.75h-0.75zM191.1 255.2h0.75v0.75h-0.75zM191.8 255.5h0.75v0.75h-0.75zM193.3 255.2h0.75v0.75h-0.75zM194.1 255.2h0.75v0.75h-0.75zM195.1 255.0h0.75v0.75h-0.75zM196.0 255.4h0.75v0.75h-0.75zM197.0 255.5h0.75v0.75h-0.75zM198.1 255.3h0.75v0.75h-0.75zM199.0 255.4h0.75v0.75h-0.75zM199.9 255.0h0.75v0.75h-0.75zM201.0 255.3h0.75v0.75h-0.75zM202.2 255.6h0.75v0.75h-0.75zM203.4 255.3h0.75v0.75h-0.75zM204.3 255.1h0.75v0.75h-0.75zM204.8 255.5h0.75v0.75h-0.75zM206.2 255.2h0.75v0.75h-0.75zM207.4 255.5h0.75v0.75h-0.75zM208.3 255.6h0.75v0.75h-0.75zM209.0 255.3h0.75v0.75h-0.75zM210.0 255.3h0.75v0.75h-0.75zM210.8 255.3h0.75v0.75h-0.75zM212.3 255.3h0.75v0.75h-0.75zM213.0 255.1h0.75v0.75h-0.75zM214.0 255.1h0.75v0.75h-0.75zM215.0 255.5h0.75v0.75h-0.75zM215.9 255.1h0.75v0.75h-0.75zM217.2 255.3h0.75v0.75h-0.75zM218.3 255.4h0.75v0.75h-0.75zM219.3 255.2h0.75v0.75h-0.75zM220.4 255.4h0.75v0.75h-0.75zM221.3 255.4h0.75v0.75h-0.75zM222.2 255.5h0.75v0.75h-0.75zM223.2 255.2h0.75v0.75h-0.75zM224.1 255.2h0.75v0.75h-0.75zM225.3 255.2h0.75v0.75h-0.75zM226.3 255.5h0.75v0.75h-0.75zM226.8 255.3h0.75v0.75h-0.75zM229.2 255.4h0.75v0.75h-0.75zM230.3 255.1h0.75v0.75h-0.75zM231.4 255.6h0.75v0.75h-0.75zM231.9 255.0h0.75v0.75h-0.75zM235.2 255.4h0.75v0.75h-0.75zM169.9 256.3h0.75v0.75h-0.75zM171.2 256.3h0.75v0.75h-0.75zM171.9 256.4h0.75v0.75h-0.75zM172.8 256.3h0.75v0.75h-0.75zM173.9 256.1h0.75v0.75h-0.75zM175.1 256.6h0.75v0.75h-0.75zM176.0 256.3h0.75v0.75h-0.75zM177.1 256.2h0.75v0.75h-0.75zM178.2 256.0h0.75v0.75h-0.75zM179.1 256.4h0.75v0.75h-0.75zM181.0 256.0h0.75v0.75h-0.75zM183.0 256.2h0.75v0.75h-0.75zM184.0 256.3h0.75v0.75h-0.75zM184.9 256.0h0.75v0.75h-0.75zM186.3 256.2h0.75v0.75h-0.75zM187.1 256.3h0.75v0.75h-0.75zM188.2 256.2h0.75v0.75h-0.75zM188.9 256.2h0.75v0.75h-0.75zM190.0 256.6h0.75v0.75h-0.75zM190.8 256.4h0.75v0.75h-0.75zM192.2 256.6h0.75v0.75h-0.75zM193.1 256.2h0.75v0.75h-0.75zM194.2 256.4h0.75v0.75h-0.75zM195.0 256.4h0.75v0.75h-0.75zM196.1 256.0h0.75v0.75h-0.75zM196.9 256.5h0.75v0.75h-0.75zM198.0 256.5h0.75v0.75h-0.75zM199.1 256.3h0.75v0.75h-0.75zM200.0 256.2h0.75v0.75h-0.75zM200.9 256.1h0.75v0.75h-0.75zM202.3 256.3h0.75v0.75h-0.75zM203.1 256.0h0.75v0.75h-0.75zM204.4 256.4h0.75v0.75h-0.75zM204.9 256.1h0.75v0.75h-0.75zM205.9 256.5h0.75v0.75h-0.75zM206.9 256.2h0.75v0.75h-0.75zM208.0 256.4h0.75v0.75h-0.75zM209.1 256.4h0.75v0.75h-0.75zM210.2 256.2h0.75v0.75h-0.75zM211.2 256.2h0.75v0.75h-0.75zM211.9 256.1h0.75v0.75h-0.75zM213.3 256.1h0.75v0.75h-0.75zM213.8 256.4h0.75v0.75h-0.75zM215.1 256.3h0.75v0.75h-0.75zM216.4 256.0h0.75v0.75h-0.75zM217.0 256.0h0.75v0.75h-0.75zM217.8 256.2h0.75v0.75h-0.75zM218.9 256.3h0.75v0.75h-0.75zM220.3 256.4h0.75v0.75h-0.75zM221.4 256.4h0.75v0.75h-0.75zM222.2 256.4h0.75v0.75h-0.75zM222.9 256.1h0.75v0.75h-0.75zM224.4 256.5h0.75v0.75h-0.75zM225.2 256.5h0.75v0.75h-0.75zM226.4 256.2h0.75v0.75h-0.75zM227.2 256.5h0.75v0.75h-0.75zM229.8 256.5h0.75v0.75h-0.75zM231.0 256.6h0.75v0.75h-0.75zM232.3 256.4h0.75v0.75h-0.75zM238.2 256.1h0.75v0.75h-0.75zM240.3 256.2h0.75v0.75h-0.75zM242.4 256.2h0.75v0.75h-0.75zM245.4 256.1h0.75v0.75h-0.75zM245.8 256.5h0.75v0.75h-0.75zM247.2 256.2h0.75v0.75h-0.75zM169.8 257.3h0.75v0.75h-0.75zM171.1 257.6h0.75v0.75h-0.75zM172.0 257.3h0.75v0.75h-0.75zM173.4 257.5h0.75v0.75h-0.75zM174.0 257.5h0.75v0.75h-0.75zM174.9 257.6h0.75v0.75h-0.75zM176.3 257.5h0.75v0.75h-0.75zM177.0 257.5h0.75v0.75h-0.75zM179.0 257.1h0.75v0.75h-0.75zM180.0 257.1h0.75v0.75h-0.75zM182.4 257.4h0.75v0.75h-0.75zM183.0 257.2h0.75v0.75h-0.75zM184.2 257.3h0.75v0.75h-0.75zM186.2 257.4h0.75v0.75h-0.75zM187.1 257.3h0.75v0.75h-0.75zM188.1 257.5h0.75v0.75h-0.75zM189.2 257.5h0.75v0.75h-0.75zM190.3 257.4h0.75v0.75h-0.75zM191.0 257.4h0.75v0.75h-0.75zM192.1 257.5h0.75v0.75h-0.75zM193.0 257.3h0.75v0.75h-0.75zM194.3 257.5h0.75v0.75h-0.75zM194.8 257.2h0.75v0.75h-0.75zM196.4 257.2h0.75v0.75h-0.75zM197.3 257.2h0.75v0.75h-0.75zM198.3 257.3h0.75v0.75h-0.75zM199.0 257.5h0.75v0.75h-0.75zM200.1 257.0h0.75v0.75h-0.75zM200.9 257.3h0.75v0.75h-0.75zM202.2 257.0h0.75v0.75h-0.75zM203.1 257.3h0.75v0.75h-0.75zM204.0 257.4h0.75v0.75h-0.75zM205.1 257.5h0.75v0.75h-0.75zM206.1 257.2h0.75v0.75h-0.75zM207.0 257.6h0.75v0.75h-0.75zM208.1 257.5h0.75v0.75h-0.75zM209.1 257.5h0.75v0.75h-0.75zM209.8 257.3h0.75v0.75h-0.75zM210.9 257.2h0.75v0.75h-0.75zM212.0 257.5h0.75v0.75h-0.75zM213.1 257.4h0.75v0.75h-0.75zM213.8 257.2h0.75v0.75h-0.75zM215.0 257.3h0.75v0.75h-0.75zM216.2 257.5h0.75v0.75h-0.75zM217.2 257.4h0.75v0.75h-0.75zM217.9 257.2h0.75v0.75h-0.75zM219.3 257.4h0.75v0.75h-0.75zM219.8 257.1h0.75v0.75h-0.75zM221.3 257.4h0.75v0.75h-0.75zM222.1 257.1h0.75v0.75h-0.75zM223.3 257.1h0.75v0.75h-0.75zM223.9 257.4h0.75v0.75h-0.75zM224.9 257.6h0.75v0.75h-0.75zM226.2 257.3h0.75v0.75h-0.75zM227.1 257.3h0.75v0.75h-0.75zM229.3 257.1h0.75v0.75h-0.75zM231.3 257.3h0.75v0.75h-0.75zM235.0 257.3h0.75v0.75h-0.75zM170.2 258.2h0.75v0.75h-0.75zM171.0 258.5h0.75v0.75h-0.75zM172.4 258.1h0.75v0.75h-0.75zM173.4 258.3h0.75v0.75h-0.75zM173.9 258.5h0.75v0.75h-0.75zM174.9 258.3h0.75v0.75h-0.75zM176.3 258.0h0.75v0.75h-0.75zM176.9 258.3h0.75v0.75h-0.75zM178.1 258.2h0.75v0.75h-0.75zM179.1 258.1h0.75v0.75h-0.75zM181.3 258.2h0.75v0.75h-0.75zM183.1 258.6h0.75v0.75h-0.75zM184.0 258.3h0.75v0.75h-0.75zM186.2 258.5h0.75v0.75h-0.75zM187.1 258.2h0.75v0.75h-0.75zM188.3 258.1h0.75v0.75h-0.75zM188.9 258.1h0.75v0.75h-0.75zM189.9 258.4h0.75v0.75h-0.75zM191.2 258.2h0.75v0.75h-0.75zM192.3 258.3h0.75v0.75h-0.75zM193.0 258.4h0.75v0.75h-0.75zM194.1 258.1h0.75v0.75h-0.75zM195.1 258.5h0.75v0.75h-0.75zM196.2 258.3h0.75v0.75h-0.75zM197.3 258.3h0.75v0.75h-0.75zM198.3 258.0h0.75v0.75h-0.75zM199.1 258.2h0.75v0.75h-0.75zM200.2 258.4h0.75v0.75h-0.75zM201.1 258.1h0.75v0.75h-0.75zM201.8 258.6h0.75v0.75h-0.75zM203.0 258.3h0.75v0.75h-0.75zM203.8 258.5h0.75v0.75h-0.75zM205.2 258.1h0.75v0.75h-0.75zM206.3 258.3h0.75v0.75h-0.75zM206.8 258.1h0.75v0.75h-0.75zM207.9 258.1h0.75v0.75h-0.75zM209.1 258.0h0.75v0.75h-0.75zM210.2 258.3h0.75v0.75h-0.75zM211.2 258.5h0.75v0.75h-0.75zM211.9 258.2h0.75v0.75h-0.75zM213.4 258.3h0.75v0.75h-0.75zM213.9 258.2h0.75v0.75h-0.75zM215.0 258.5h0.75v0.75h-0.75zM215.8 258.0h0.75v0.75h-0.75zM217.1 258.5h0.75v0.75h-0.75zM218.0 258.5h0.75v0.75h-0.75zM219.4 258.5h0.75v0.75h-0.75zM220.3 258.3h0.75v0.75h-0.75zM220.9 258.0h0.75v0.75h-0.75zM222.0 258.2h0.75v0.75h-0.75zM223.1 258.4h0.75v0.75h-0.75zM223.9 258.2h0.75v0.75h-0.75zM228.1 258.2h0.75v0.75h-0.75zM229.2 258.0h0.75v0.75h-0.75zM234.8 258.2h0.75v0.75h-0.75zM170.1 259.0h0.75v0.75h-0.75zM171.2 259.3h0.75v0.75h-0.75zM172.3 259.5h0.75v0.75h-0.75zM173.4 259.3h0.75v0.75h-0.75zM175.0 259.2h0.75v0.75h-0.75zM182.0 259.0h0.75v0.75h-0.75zM185.2 259.2h0.75v0.75h-0.75zM186.0 259.0h0.75v0.75h-0.75zM188.3 259.3h0.75v0.75h-0.75zM189.2 259.1h0.75v0.75h-0.75zM191.2 259.5h0.75v0.75h-0.75zM192.0 259.1h0.75v0.75h-0.75zM193.2 259.1h0.75v0.75h-0.75zM194.4 259.1h0.75v0.75h-0.75zM195.0 259.2h0.75v0.75h-0.75zM196.2 259.0h0.75v0.75h-0.75zM197.1 259.5h0.75v0.75h-0.75zM198.1 259.4h0.75v0.75h-0.75zM199.2 259.5h0.75v0.75h-0.75zM200.3 259.3h0.75v0.75h-0.75zM200.9 259.4h0.75v0.75h-0.75zM202.1 259.2h0.75v0.75h-0.75zM204.2 259.6h0.75v0.75h-0.75zM205.4 259.4h0.75v0.75h-0.75zM205.9 259.3h0.75v0.75h-0.75zM207.4 259.0h0.75v0.75h-0.75zM208.1 259.3h0.75v0.75h-0.75zM209.2 259.2h0.75v0.75h-0.75zM209.9 259.4h0.75v0.75h-0.75zM211.2 259.4h0.75v0.75h-0.75zM211.9 259.5h0.75v0.75h-0.75zM213.1 259.2h0.75v0.75h-0.75zM214.1 259.4h0.75v0.75h-0.75zM215.1 259.5h0.75v0.75h-0.75zM216.0 259.1h0.75v0.75h-0.75zM217.0 259.3h0.75v0.75h-0.75zM219.1 259.5h0.75v0.75h-0.75zM219.8 259.4h0.75v0.75h-0.75zM222.9 259.6h0.75v0.75h-0.75zM226.1 259.4h0.75v0.75h-0.75zM230.3 259.5h0.75v0.75h-0.75zM230.9 259.1h0.75v0.75h-0.75zM236.1 259.4h0.75v0.75h-0.75zM170.4 260.1h0.75v0.75h-0.75zM171.2 260.5h0.75v0.75h-0.75zM172.4 260.2h0.75v0.75h-0.75zM173.0 260.5h0.75v0.75h-0.75zM175.1 260.2h0.75v0.75h-0.75zM179.4 260.4h0.75v0.75h-0.75zM181.3 260.5h0.75v0.75h-0.75zM184.0 260.5h0.75v0.75h-0.75zM186.3 260.0h0.75v0.75h-0.75zM190.0 260.2h0.75v0.75h-0.75zM193.2 260.2h0.75v0.75h-0.75zM196.0 260.5h0.75v0.75h-0.75zM199.0 260.6h0.75v0.75h-0.75zM200.1 260.5h0.75v0.75h-0.75zM201.2 260.2h0.75v0.75h-0.75zM202.1 260.4h0.75v0.75h-0.75zM206.1 260.4h0.75v0.75h-0.75zM209.2 260.2h0.75v0.75h-0.75zM210.0 260.3h0.75v0.75h-0.75zM211.2 260.6h0.75v0.75h-0.75zM211.9 260.0h0.75v0.75h-0.75zM215.1 260.0h0.75v0.75h-0.75zM216.4 260.4h0.75v0.75h-0.75zM216.9 260.0h0.75v0.75h-0.75zM220.0 260.3h0.75v0.75h-0.75zM221.1 260.1h0.75v0.75h-0.75zM221.8 260.1h0.75v0.75h-0.75zM224.4 260.2h0.75v0.75h-0.75zM227.8 260.0h0.75v0.75h-0.75zM234.3 260.2h0.75v0.75h-0.75zM235.1 260.6h0.75v0.75h-0.75zM235.9 260.5h0.75v0.75h-0.75zM172.1 261.0h0.75v0.75h-0.75zM174.3 261.1h0.75v0.75h-0.75zM175.3 261.1h0.75v0.75h-0.75zM176.1 261.5h0.75v0.75h-0.75zM178.4 261.5h0.75v0.75h-0.75zM178.9 261.6h0.75v0.75h-0.75zM181.1 261.4h0.75v0.75h-0.75zM183.1 261.6h0.75v0.75h-0.75zM183.9 261.1h0.75v0.75h-0.75zM187.0 261.2h0.75v0.75h-0.75zM191.0 261.5h0.75v0.75h-0.75zM191.9 261.3h0.75v0.75h-0.75zM193.0 261.4h0.75v0.75h-0.75zM194.8 261.4h0.75v0.75h-0.75zM197.1 261.2h0.75v0.75h-0.75zM200.4 261.1h0.75v0.75h-0.75zM202.0 261.0h0.75v0.75h-0.75zM203.1 261.0h0.75v0.75h-0.75zM204.4 261.6h0.75v0.75h-0.75zM207.3 261.6h0.75v0.75h-0.75zM211.2 261.6h0.75v0.75h-0.75zM212.1 261.3h0.75v0.75h-0.75zM212.9 261.6h0.75v0.75h-0.75zM215.0 261.0h0.75v0.75h-0.75zM221.1 261.4h0.75v0.75h-0.75zM227.1 261.4h0.75v0.75h-0.75zM229.2 261.4h0.75v0.75h-0.75zM231.3 261.4h0.75v0.75h-0.75zM171.0 262.1h0.75v0.75h-0.75zM172.1 262.5h0.75v0.75h-0.75zM182.9 262.5h0.75v0.75h-0.75zM185.2 262.4h0.75v0.75h-0.75zM195.2 262.4h0.75v0.75h-0.75zM203.3 262.5h0.75v0.75h-0.75zM207.2 262.4h0.75v0.75h-0.75zM210.0 262.5h0.75v0.75h-0.75zM211.8 262.2h0.75v0.75h-0.75zM217.0 262.6h0.75v0.75h-0.75zM222.0 262.3h0.75v0.75h-0.75zM225.1 262.4h0.75v0.75h-0.75zM238.0 262.2h0.75v0.75h-0.75zM244.3 262.3h0.75v0.75h-0.75zM172.4 263.4h0.75v0.75h-0.75zM183.0 263.4h0.75v0.75h-0.75zM188.1 263.5h0.75v0.75h-0.75zM190.4 263.0h0.75v0.75h-0.75zM195.8 263.2h0.75v0.75h-0.75zM202.4 263.1h0.75v0.75h-0.75zM203.0 263.1h0.75v0.75h-0.75zM204.0 263.4h0.75v0.75h-0.75zM206.9 263.1h0.75v0.75h-0.75zM219.2 263.0h0.75v0.75h-0.75zM235.8 263.0h0.75v0.75h-0.75zM171.1 264.1h0.75v0.75h-0.75zM175.0 264.5h0.75v0.75h-0.75zM213.0 264.1h0.75v0.75h-0.75zM215.1 264.3h0.75v0.75h-0.75zM227.3 264.2h0.75v0.75h-0.75zM171.4 265.2h0.75v0.75h-0.75zM173.2 265.3h0.75v0.75h-0.75zM240.2 265.0h0.75v0.75h-0.75zM180.2 267.0h0.75v0.75h-0.75zM241.1 268.5h0.75v0.75h-0.75zM205.3 269.1h0.75v0.75h-0.75zM213.0 271.0h0.75v0.75h-0.75z" fill="#3446e4" fill-opacity="0.55"/>
<g filter="url(#bl)">
<path d="M169.8 243.5h1.0v0.5h-1.0zM171.3 244.0h1.5v0.5h-1.5zM172.8 244.5h1.0v0.5h-1.0zM173.8 245.0h0.5v0.5h-0.5zM174.3 245.5h0.5v0.5h-0.5zM174.8 246.0h1.0v0.5h-1.0zM175.3 246.5h0.5v0.5h-0.5zM175.8 247.0h0.5v0.5h-0.5zM176.3 247.5h0.5v0.5h-0.5zM176.8 248.0h0.5v0.5h-0.5zM176.8 248.5h0.5v0.5h-0.5zM177.3 249.0h0.5v0.5h-0.5zM181.3 249.0h2.0v0.5h-2.0zM186.8 249.0h2.0v0.5h-2.0zM177.3 249.5h0.5v0.5h-0.5zM179.8 249.5h1.0v0.5h-1.0zM189.3 249.5h1.0v0.5h-1.0zM178.3 250.0h1.0v0.5h-1.0zM190.8 250.0h1.0v0.5h-1.0zM191.8 250.5h1.0v0.5h-1.0zM192.8 251.0h2.5v0.5h-2.5zM195.8 251.5h1.0v0.5h-1.0zM202.3 251.5h3.5v0.5h-3.5zM197.3 252.0h0.5v0.5h-0.5zM198.3 252.0h2.0v0.5h-2.0zM207.3 252.0h1.5v0.5h-1.5zM209.3 252.5h1.0v0.5h-1.0zM209.8 253.0h1.0v0.5h-1.0zM210.3 253.5h1.0v0.5h-1.0zM210.3 254.0h1.0v0.5h-1.0zM210.3 254.5h1.0v0.5h-1.0zM209.3 255.0h1.5v0.5h-1.5zM208.3 255.5h1.5v0.5h-1.5zM206.3 256.0h2.0v0.5h-2.0zM197.8 256.5h0.5v0.5h-0.5zM199.3 256.5h6.0v0.5h-6.0zM197.3 257.0h0.5v0.5h-0.5zM196.3 257.5h0.5v0.5h-0.5zM194.3 258.0h1.5v0.5h-1.5zM192.3 258.5h0.5v0.5h-0.5zM176.3 259.0h0.5v0.5h-0.5zM191.3 259.0h0.5v0.5h-0.5zM175.8 259.5h0.5v0.5h-0.5zM176.8 259.5h1.0v0.5h-1.0zM190.3 259.5h1.0v0.5h-1.0zM175.3 260.0h1.0v0.5h-1.0zM177.8 260.0h1.0v0.5h-1.0zM188.8 260.0h1.0v0.5h-1.0zM174.8 260.5h0.5v0.5h-0.5zM179.3 260.5h1.5v0.5h-1.5zM186.8 260.5h1.5v0.5h-1.5zM173.8 261.0h1.0v0.5h-1.0zM182.3 261.0h3.0v0.5h-3.0zM172.3 261.5h1.5v0.5h-1.5zM170.3 262.0h2.0v0.5h-2.0z" fill="#3444ee"/>
<path d="M169.8 244.0h1.5v0.5h-1.5zM170.8 244.5h2.0v0.5h-2.0zM172.8 245.0h1.0v0.5h-1.0zM173.8 245.5h0.5v0.5h-0.5zM174.3 246.0h0.5v0.5h-0.5zM174.8 246.5h0.5v0.5h-0.5zM175.3 247.0h0.5v0.5h-0.5zM175.8 247.5h0.5v0.5h-0.5zM176.3 248.0h0.5v0.5h-0.5zM176.3 248.5h0.5v0.5h-0.5zM176.8 249.0h0.5v0.5h-0.5zM183.3 249.0h3.5v0.5h-3.5zM176.8 249.5h0.5v0.5h-0.5zM180.8 249.5h1.5v0.5h-1.5zM187.8 249.5h1.5v0.5h-1.5zM177.3 250.0h0.5v0.5h-0.5zM179.3 250.0h1.0v0.5h-1.0zM189.8 250.0h1.0v0.5h-1.0zM177.3 250.5h1.5v0.5h-1.5zM190.8 250.5h1.0v0.5h-1.0zM177.3 251.0h0.5v0.5h-0.5zM191.8 251.0h1.0v0.5h-1.0zM194.8 251.5h1.0v0.5h-1.0zM196.3 252.0h1.0v0.5h-1.0zM200.3 252.0h7.0v0.5h-7.0zM197.3 252.5h2.5v0.5h-2.5zM207.3 252.5h2.0v0.5h-2.0zM197.8 253.0h0.5v0.5h-0.5zM208.3 253.0h1.5v0.5h-1.5zM209.3 253.5h1.0v0.5h-1.0zM209.3 254.0h1.0v0.5h-1.0zM208.8 254.5h1.5v0.5h-1.5zM207.8 255.0h1.5v0.5h-1.5zM206.8 255.5h1.5v0.5h-1.5zM197.8 256.0h8.5v0.5h-8.5zM197.3 256.5h0.5v0.5h-0.5zM196.3 257.0h1.0v0.5h-1.0zM195.3 257.5h1.0v0.5h-1.0zM192.3 258.0h2.0v0.5h-2.0zM176.3 258.5h0.5v0.5h-0.5zM191.3 258.5h1.0v0.5h-1.0zM175.8 259.0h0.5v0.5h-0.5zM176.8 259.0h1.0v0.5h-1.0zM190.3 259.0h1.0v0.5h-1.0zM175.3 259.5h0.5v0.5h-0.5zM177.8 259.5h1.0v0.5h-1.0zM189.3 259.5h1.0v0.5h-1.0zM174.8 260.0h0.5v0.5h-0.5zM178.8 260.0h1.5v0.5h-1.5zM187.8 260.0h1.0v0.5h-1.0zM173.8 260.5h1.0v0.5h-1.0zM180.8 260.5h6.0v0.5h-6.0zM172.3 261.0h1.5v0.5h-1.5zM169.8 261.5h2.5v0.5h-2.5z" fill="#2aa8f2"/>
<path d="M169.8 244.5h1.0v0.5h-1.0zM170.8 245.0h2.0v0.5h-2.0zM172.3 245.5h1.5v0.5h-1.5zM173.3 246.0h1.0v0.5h-1.0zM174.3 246.5h0.5v0.5h-0.5zM174.8 247.0h0.5v0.5h-0.5zM175.3 247.5h0.5v0.5h-0.5zM175.3 248.0h1.0v0.5h-1.0zM175.8 248.5h0.5v0.5h-0.5zM176.3 249.0h0.5v0.5h-0.5zM176.3 249.5h0.5v0.5h-0.5zM182.3 249.5h5.5v0.5h-5.5zM176.8 250.0h0.5v0.5h-0.5zM180.3 250.0h1.5v0.5h-1.5zM188.3 250.0h1.5v0.5h-1.5zM176.8 250.5h0.5v0.5h-0.5zM178.8 250.5h1.0v0.5h-1.0zM189.8 250.5h1.0v0.5h-1.0zM176.8 251.0h0.5v0.5h-0.5zM177.8 251.0h1.0v0.5h-1.0zM190.8 251.0h1.0v0.5h-1.0zM177.3 251.5h0.5v0.5h-0.5zM191.8 251.5h3.0v0.5h-3.0zM195.3 252.0h1.0v0.5h-1.0zM196.3 252.5h1.0v0.5h-1.0zM199.8 252.5h7.5v0.5h-7.5zM197.3 253.0h0.5v0.5h-0.5zM198.3 253.0h2.5v0.5h-2.5zM205.8 253.0h2.5v0.5h-2.5zM197.8 253.5h1.5v0.5h-1.5zM206.8 253.5h2.5v0.5h-2.5zM197.8 254.0h1.0v0.5h-1.0zM207.3 254.0h2.0v0.5h-2.0zM197.8 254.5h1.0v0.5h-1.0zM206.8 254.5h2.0v0.5h-2.0zM197.8 255.0h2.0v0.5h-2.0zM205.8 255.0h2.0v0.5h-2.0zM197.8 255.5h9.0v0.5h-9.0zM197.3 256.0h0.5v0.5h-0.5zM196.8 256.5h0.5v0.5h-0.5zM195.8 257.0h0.5v0.5h-0.5zM191.8 257.5h3.5v0.5h-3.5zM175.8 258.0h1.0v0.5h-1.0zM191.3 258.0h1.0v0.5h-1.0zM175.3 258.5h1.0v0.5h-1.0zM176.8 258.5h1.0v0.5h-1.0zM190.3 258.5h1.0v0.5h-1.0zM174.8 259.0h1.0v0.5h-1.0zM177.8 259.0h1.0v0.5h-1.0zM189.3 259.0h1.0v0.5h-1.0zM174.3 259.5h1.0v0.5h-1.0zM178.8 259.5h1.0v0.5h-1.0zM188.3 259.5h1.0v0.5h-1.0zM173.8 260.0h1.0v0.5h-1.0zM180.3 260.0h2.5v0.5h-2.5zM185.3 260.0h2.5v0.5h-2.5zM169.8 260.5h0.5v0.5h-0.5zM171.8 260.5h2.0v0.5h-2.0zM169.8 261.0h2.5v0.5h-2.5z" fill="#30cc70"/>
<path d="M169.8 245.0h1.0v0.5h-1.0zM169.8 245.5h2.5v0.5h-2.5zM171.8 246.0h1.5v0.5h-1.5zM172.8 246.5h1.5v0.5h-1.5zM173.8 247.0h1.0v0.5h-1.0zM174.3 247.5h1.0v0.5h-1.0zM174.8 248.0h0.5v0.5h-0.5zM174.8 248.5h1.0v0.5h-1.0zM175.3 249.0h1.0v0.5h-1.0zM175.8 249.5h0.5v0.5h-0.5zM175.8 250.0h1.0v0.5h-1.0zM181.8 250.0h6.5v0.5h-6.5zM176.3 250.5h0.5v0.5h-0.5zM179.8 250.5h2.0v0.5h-2.0zM187.8 250.5h2.0v0.5h-2.0zM176.3 251.0h0.5v0.5h-0.5zM178.8 251.0h1.5v0.5h-1.5zM189.3 251.0h1.5v0.5h-1.5zM176.3 251.5h1.0v0.5h-1.0zM177.8 251.5h1.5v0.5h-1.5zM190.3 251.5h1.5v0.5h-1.5zM176.3 252.0h2.0v0.5h-2.0zM191.3 252.0h4.0v0.5h-4.0zM176.8 252.5h1.0v0.5h-1.0zM194.8 252.5h1.5v0.5h-1.5zM176.8 253.0h0.5v0.5h-0.5zM195.8 253.0h1.5v0.5h-1.5zM200.8 253.0h5.0v0.5h-5.0zM196.3 253.5h1.5v0.5h-1.5zM199.3 253.5h7.5v0.5h-7.5zM196.8 254.0h1.0v0.5h-1.0zM198.8 254.0h8.5v0.5h-8.5zM196.8 254.5h1.0v0.5h-1.0zM198.8 254.5h8.0v0.5h-8.0zM196.8 255.0h1.0v0.5h-1.0zM199.8 255.0h6.0v0.5h-6.0zM196.8 255.5h1.0v0.5h-1.0zM176.3 256.0h0.5v0.5h-0.5zM195.8 256.0h1.5v0.5h-1.5zM175.8 256.5h1.0v0.5h-1.0zM195.3 256.5h1.5v0.5h-1.5zM175.8 257.0h1.5v0.5h-1.5zM191.3 257.0h4.5v0.5h-4.5zM175.3 257.5h2.5v0.5h-2.5zM190.8 257.5h1.0v0.5h-1.0zM174.8 258.0h1.0v0.5h-1.0zM176.8 258.0h1.5v0.5h-1.5zM190.3 258.0h1.0v0.5h-1.0zM174.3 258.5h1.0v0.5h-1.0zM177.8 258.5h1.5v0.5h-1.5zM189.3 258.5h1.0v0.5h-1.0zM173.8 259.0h1.0v0.5h-1.0zM178.8 259.0h1.5v0.5h-1.5zM187.8 259.0h1.5v0.5h-1.5zM172.8 259.5h1.5v0.5h-1.5zM179.8 259.5h3.0v0.5h-3.0zM185.3 259.5h3.0v0.5h-3.0zM169.8 260.0h4.0v0.5h-4.0zM182.8 260.0h2.5v0.5h-2.5zM170.3 260.5h1.5v0.5h-1.5z" fill="#a8e030"/>
<path d="M169.8 246.0h2.0v0.5h-2.0zM170.3 246.5h2.5v0.5h-2.5zM172.3 247.0h1.5v0.5h-1.5zM173.3 247.5h1.0v0.5h-1.0zM173.8 248.0h1.0v0.5h-1.0zM174.3 248.5h0.5v0.5h-0.5zM174.8 249.0h0.5v0.5h-0.5zM174.8 249.5h1.0v0.5h-1.0zM175.3 250.0h0.5v0.5h-0.5zM175.3 250.5h1.0v0.5h-1.0zM181.8 250.5h6.0v0.5h-6.0zM175.8 251.0h0.5v0.5h-0.5zM180.3 251.0h2.0v0.5h-2.0zM187.8 251.0h1.5v0.5h-1.5zM175.8 251.5h0.5v0.5h-0.5zM179.3 251.5h1.5v0.5h-1.5zM189.3 251.5h1.0v0.5h-1.0zM175.8 252.0h0.5v0.5h-0.5zM178.3 252.0h1.5v0.5h-1.5zM189.8 252.0h1.5v0.5h-1.5zM175.8 252.5h1.0v0.5h-1.0zM177.8 252.5h1.0v0.5h-1.0zM190.8 252.5h4.0v0.5h-4.0zM175.8 253.0h1.0v0.5h-1.0zM177.3 253.0h1.0v0.5h-1.0zM191.3 253.0h4.5v0.5h-4.5zM175.8 253.5h2.0v0.5h-2.0zM194.8 253.5h1.5v0.5h-1.5zM175.8 254.0h2.0v0.5h-2.0zM195.3 254.0h1.5v0.5h-1.5zM175.8 254.5h1.5v0.5h-1.5zM195.3 254.5h1.5v0.5h-1.5zM175.8 255.0h1.5v0.5h-1.5zM195.3 255.0h1.5v0.5h-1.5zM175.8 255.5h1.5v0.5h-1.5zM194.8 255.5h2.0v0.5h-2.0zM175.3 256.0h1.0v0.5h-1.0zM176.8 256.0h0.5v0.5h-0.5zM191.3 256.0h4.5v0.5h-4.5zM175.3 256.5h0.5v0.5h-0.5zM176.8 256.5h1.0v0.5h-1.0zM190.8 256.5h4.5v0.5h-4.5zM174.8 257.0h1.0v0.5h-1.0zM177.3 257.0h1.0v0.5h-1.0zM190.3 257.0h1.0v0.5h-1.0zM174.3 257.5h1.0v0.5h-1.0zM177.8 257.5h1.0v0.5h-1.0zM189.8 257.5h1.0v0.5h-1.0zM173.8 258.0h1.0v0.5h-1.0zM178.3 258.0h1.0v0.5h-1.0zM188.8 258.0h1.5v0.5h-1.5zM173.3 258.5h1.0v0.5h-1.0zM179.3 258.5h1.5v0.5h-1.5zM187.8 258.5h1.5v0.5h-1.5zM169.8 259.0h1.0v0.5h-1.0zM171.3 259.0h2.5v0.5h-2.5zM180.3 259.0h3.0v0.5h-3.0zM184.8 259.0h3.0v0.5h-3.0zM169.8 259.5h3.0v0.5h-3.0zM182.8 259.5h2.5v0.5h-2.5z" fill="#f6ea12"/>
<path d="M169.8 246.5h0.5v0.5h-0.5zM169.8 247.0h2.5v0.5h-2.5zM171.3 247.5h2.0v0.5h-2.0zM172.3 248.0h1.5v0.5h-1.5zM173.3 248.5h1.0v0.5h-1.0zM173.8 249.0h1.0v0.5h-1.0zM174.3 249.5h0.5v0.5h-0.5zM174.3 250.0h1.0v0.5h-1.0zM174.8 250.5h0.5v0.5h-0.5zM174.8 251.0h1.0v0.5h-1.0zM182.3 251.0h5.5v0.5h-5.5zM174.8 251.5h1.0v0.5h-1.0zM180.8 251.5h1.5v0.5h-1.5zM187.3 251.5h2.0v0.5h-2.0zM175.3 252.0h0.5v0.5h-0.5zM179.8 252.0h1.0v0.5h-1.0zM188.8 252.0h1.0v0.5h-1.0zM175.3 252.5h0.5v0.5h-0.5zM178.8 252.5h1.0v0.5h-1.0zM189.8 252.5h1.0v0.5h-1.0zM175.3 253.0h0.5v0.5h-0.5zM178.3 253.0h1.0v0.5h-1.0zM190.3 253.0h1.0v0.5h-1.0zM175.3 253.5h0.5v0.5h-0.5zM177.8 253.5h1.0v0.5h-1.0zM190.3 253.5h4.5v0.5h-4.5zM175.3 254.0h0.5v0.5h-0.5zM177.8 254.0h0.5v0.5h-0.5zM190.8 254.0h4.5v0.5h-4.5zM175.3 254.5h0.5v0.5h-0.5zM177.3 254.5h1.0v0.5h-1.0zM190.8 254.5h4.5v0.5h-4.5zM174.8 255.0h1.0v0.5h-1.0zM177.3 255.0h1.0v0.5h-1.0zM190.8 255.0h4.5v0.5h-4.5zM174.8 255.5h1.0v0.5h-1.0zM177.3 255.5h1.0v0.5h-1.0zM190.8 255.5h4.0v0.5h-4.0zM174.3 256.0h1.0v0.5h-1.0zM177.3 256.0h1.0v0.5h-1.0zM190.3 256.0h1.0v0.5h-1.0zM174.3 256.5h1.0v0.5h-1.0zM177.8 256.5h1.0v0.5h-1.0zM189.8 256.5h1.0v0.5h-1.0zM173.8 257.0h1.0v0.5h-1.0zM178.3 257.0h1.0v0.5h-1.0zM189.3 257.0h1.0v0.5h-1.0zM173.3 257.5h1.0v0.5h-1.0zM178.8 257.5h1.0v0.5h-1.0zM188.8 257.5h1.0v0.5h-1.0zM172.3 258.0h1.5v0.5h-1.5zM179.3 258.0h1.5v0.5h-1.5zM187.3 258.0h1.5v0.5h-1.5zM169.8 258.5h3.5v0.5h-3.5zM180.8 258.5h3.0v0.5h-3.0zM184.3 258.5h3.5v0.5h-3.5zM170.8 259.0h0.5v0.5h-0.5zM183.3 259.0h1.5v0.5h-1.5z" fill="#ffa800"/>
<path d="M169.8 247.5h1.5v0.5h-1.5zM169.8 248.0h2.5v0.5h-2.5zM171.8 248.5h1.5v0.5h-1.5zM172.8 249.0h1.0v0.5h-1.0zM173.3 249.5h1.0v0.5h-1.0zM173.8 250.0h0.5v0.5h-0.5zM173.8 250.5h1.0v0.5h-1.0zM174.3 251.0h0.5v0.5h-0.5zM174.3 251.5h0.5v0.5h-0.5zM182.3 251.5h5.0v0.5h-5.0zM174.3 252.0h1.0v0.5h-1.0zM180.8 252.0h2.0v0.5h-2.0zM186.8 252.0h2.0v0.5h-2.0zM174.3 252.5h1.0v0.5h-1.0zM179.8 252.5h1.5v0.5h-1.5zM188.3 252.5h1.5v0.5h-1.5zM174.8 253.0h0.5v0.5h-0.5zM179.3 253.0h1.0v0.5h-1.0zM188.8 253.0h1.5v0.5h-1.5zM174.8 253.5h0.5v0.5h-0.5zM178.8 253.5h1.0v0.5h-1.0zM189.3 253.5h1.0v0.5h-1.0zM174.3 254.0h1.0v0.5h-1.0zM178.3 254.0h1.0v0.5h-1.0zM189.8 254.0h1.0v0.5h-1.0zM174.3 254.5h1.0v0.5h-1.0zM178.3 254.5h1.0v0.5h-1.0zM189.8 254.5h1.0v0.5h-1.0zM174.3 255.0h0.5v0.5h-0.5zM178.3 255.0h1.0v0.5h-1.0zM189.8 255.0h1.0v0.5h-1.0zM173.8 255.5h1.0v0.5h-1.0zM178.3 255.5h1.0v0.5h-1.0zM189.8 255.5h1.0v0.5h-1.0zM173.8 256.0h0.5v0.5h-0.5zM178.3 256.0h1.0v0.5h-1.0zM189.3 256.0h1.0v0.5h-1.0zM173.3 256.5h1.0v0.5h-1.0zM178.8 256.5h1.0v0.5h-1.0zM188.8 256.5h1.0v0.5h-1.0zM172.3 257.0h1.5v0.5h-1.5zM179.3 257.0h1.0v0.5h-1.0zM188.3 257.0h1.0v0.5h-1.0zM169.8 257.5h3.5v0.5h-3.5zM179.8 257.5h1.5v0.5h-1.5zM187.3 257.5h1.5v0.5h-1.5zM169.8 258.0h2.5v0.5h-2.5zM180.8 258.0h6.5v0.5h-6.5zM183.8 258.5h0.5v0.5h-0.5z" fill="#ff5800"/>
<path d="M169.8 248.5h2.0v0.5h-2.0zM169.8 249.0h3.0v0.5h-3.0zM169.8 249.5h3.5v0.5h-3.5zM169.8 250.0h4.0v0.5h-4.0zM169.8 250.5h4.0v0.5h-4.0zM169.8 251.0h4.5v0.5h-4.5zM169.8 251.5h4.5v0.5h-4.5zM169.8 252.0h4.5v0.5h-4.5zM182.8 252.0h4.0v0.5h-4.0zM169.8 252.5h4.5v0.5h-4.5zM181.3 252.5h7.0v0.5h-7.0zM169.8 253.0h5.0v0.5h-5.0zM180.3 253.0h8.5v0.5h-8.5zM169.8 253.5h5.0v0.5h-5.0zM179.8 253.5h9.5v0.5h-9.5zM169.8 254.0h4.5v0.5h-4.5zM179.3 254.0h10.5v0.5h-10.5zM169.8 254.5h4.5v0.5h-4.5zM179.3 254.5h10.5v0.5h-10.5zM169.8 255.0h4.5v0.5h-4.5zM179.3 255.0h10.5v0.5h-10.5zM169.8 255.5h4.0v0.5h-4.0zM179.3 255.5h10.5v0.5h-10.5zM169.8 256.0h4.0v0.5h-4.0zM179.3 256.0h10.0v0.5h-10.0zM169.8 256.5h3.5v0.5h-3.5zM179.8 256.5h9.0v0.5h-9.0zM169.8 257.0h2.5v0.5h-2.5zM180.3 257.0h8.0v0.5h-8.0zM181.3 257.5h6.0v0.5h-6.0z" fill="#ff1a00"/>
</g>
<rect x="246.8" y="240" width="1.4" height="16" fill="#7fd8f2" opacity="0.8"/>
<line x1="169.5" y1="195.4" x2="169.5" y2="280" stroke="#3b5494" stroke-width="1.1" />
<line x1="169.5" y1="280" x2="248.5" y2="280" stroke="#3b5494" stroke-width="1.1" />
<line x1="169.5" y1="280" x2="169.5" y2="278.5" stroke="#3b5494" stroke-width="0.7" />
<text x="169.5" y="288" font-size="7.0" text-anchor="middle" fill="#222" color="#222" dominant-baseline="central" textLength="3.62" lengthAdjust="spacingAndGlyphs" >0</text>
<line x1="189" y1="280" x2="189" y2="278.5" stroke="#3b5494" stroke-width="0.7" />
<text x="189" y="288" font-size="7.0" text-anchor="middle" fill="#222" color="#222" dominant-baseline="central" textLength="12.67" lengthAdjust="spacingAndGlyphs" >65.5</text>
<line x1="209" y1="280" x2="209" y2="278.5" stroke="#3b5494" stroke-width="0.7" />
<text x="209" y="288" font-size="7.0" text-anchor="middle" fill="#222" color="#222" dominant-baseline="central" textLength="16.29" lengthAdjust="spacingAndGlyphs" >131.1</text>
<line x1="228.3" y1="280" x2="228.3" y2="278.5" stroke="#3b5494" stroke-width="0.7" />
<text x="228.3" y="288" font-size="7.0" text-anchor="middle" fill="#222" color="#222" dominant-baseline="central" textLength="16.29" lengthAdjust="spacingAndGlyphs" >196.6</text>
<line x1="248.5" y1="280" x2="248.5" y2="278.5" stroke="#3b5494" stroke-width="0.7" />
<text x="248.5" y="288" font-size="7.0" text-anchor="middle" fill="#222" color="#222" dominant-baseline="central" textLength="16.29" lengthAdjust="spacingAndGlyphs" >262.1</text>
<text x="164" y="204.5" font-size="6.8" text-anchor="end" fill="#222" color="#222" dominant-baseline="central" textLength="9.15" lengthAdjust="spacingAndGlyphs">10<tspan font-size="4.22" dy="-2.4">5</tspan></text>
<line x1="169.5" y1="204.5" x2="171" y2="204.5" stroke="#3b5494" stroke-width="0.7" />
<text x="164" y="223.5" font-size="6.8" text-anchor="end" fill="#222" color="#222" dominant-baseline="central" textLength="9.15" lengthAdjust="spacingAndGlyphs">10<tspan font-size="4.22" dy="-2.4">4</tspan></text>
<line x1="169.5" y1="223.5" x2="171" y2="223.5" stroke="#3b5494" stroke-width="0.7" />
<text x="164" y="247.8" font-size="6.8" text-anchor="end" fill="#222" color="#222" dominant-baseline="central" textLength="9.15" lengthAdjust="spacingAndGlyphs">10<tspan font-size="4.22" dy="-2.4">3</tspan></text>
<line x1="169.5" y1="247.8" x2="171" y2="247.8" stroke="#3b5494" stroke-width="0.7" />
<text x="164" y="258.8" font-size="6.8" text-anchor="end" fill="#222" color="#222" dominant-baseline="central" textLength="11.19" lengthAdjust="spacingAndGlyphs">-10<tspan font-size="4.22" dy="-2.4">2</tspan></text>
<line x1="169.5" y1="258.8" x2="171" y2="258.8" stroke="#3b5494" stroke-width="0.7" />
<text x="164" y="269.8" font-size="6.8" text-anchor="end" fill="#222" color="#222" dominant-baseline="central" textLength="11.19" lengthAdjust="spacingAndGlyphs">-10<tspan font-size="4.22" dy="-2.4">3</tspan></text>
<line x1="169.5" y1="269.8" x2="171" y2="269.8" stroke="#3b5494" stroke-width="0.7" />
<text x="208" y="298.5" font-size="7.84" text-anchor="middle" fill="#222" color="#222" dominant-baseline="central" textLength="43.2" lengthAdjust="spacingAndGlyphs" >FSC-A (x 1000)</text>
<text x="145.4" y="238" font-size="7.7" text-anchor="middle" fill="#222" color="#222" dominant-baseline="central" textLength="26.7" lengthAdjust="spacingAndGlyphs" transform="rotate(-90 145.4 238)" >LD AQUA</text>
<polygon points="176.2,279.4 176.2,256.9 182.6,246.4 248,245.6 248,279.4" stroke="#e86070" stroke-width="0.7" fill="none" stroke-linejoin="miter" />
<text x="227.3" y="267.9" font-size="5.2" text-anchor="start" fill="#e0303a" color="#e0303a" dominant-baseline="central" >Live</text>
<text x="227.3" y="273" font-size="5.2" text-anchor="start" fill="#e0303a" color="#e0303a" dominant-baseline="central" >65.86%</text>
<path d="M325.4 197.2h0.75v0.75h-0.75zM332.8 197.1h0.75v0.75h-0.75zM351.7 197.2h0.75v0.75h-0.75zM314.7 198.5h0.75v0.75h-0.75zM318.3 198.1h0.75v0.75h-0.75zM352.6 199.2h0.75v0.75h-0.75zM327.4 200.3h0.75v0.75h-0.75zM346.5 200.2h0.75v0.75h-0.75zM312.4 201.3h0.75v0.75h-0.75zM340.6 201.2h0.75v0.75h-0.75zM369.8 201.3h0.75v0.75h-0.75zM342.7 202.6h0.75v0.75h-0.75zM343.7 203.0h0.75v0.75h-0.75zM317.6 204.5h0.75v0.75h-0.75zM333.9 204.2h0.75v0.75h-0.75zM345.4 204.0h0.75v0.75h-0.75zM360.3 204.5h0.75v0.75h-0.75zM320.9 205.1h0.75v0.75h-0.75zM331.6 205.3h0.75v0.75h-0.75zM326.3 206.1h0.75v0.75h-0.75zM334.7 206.5h0.75v0.75h-0.75zM358.6 206.3h0.75v0.75h-0.75zM316.4 207.1h0.75v0.75h-0.75zM326.6 207.4h0.75v0.75h-0.75zM329.5 207.2h0.75v0.75h-0.75zM370.5 207.1h0.75v0.75h-0.75zM343.4 208.3h0.75v0.75h-0.75zM370.8 209.2h0.75v0.75h-0.75zM332.3 210.5h0.75v0.75h-0.75zM359.8 210.6h0.75v0.75h-0.75zM364.4 210.3h0.75v0.75h-0.75zM326.8 211.3h0.75v0.75h-0.75zM331.5 211.2h0.75v0.75h-0.75zM322.3 212.5h0.75v0.75h-0.75zM324.7 212.1h0.75v0.75h-0.75zM345.8 212.3h0.75v0.75h-0.75zM329.9 213.2h0.75v0.75h-0.75zM349.6 213.2h0.75v0.75h-0.75zM345.7 214.1h0.75v0.75h-0.75zM363.9 214.2h0.75v0.75h-0.75zM313.8 215.5h0.75v0.75h-0.75zM314.6 215.3h0.75v0.75h-0.75zM325.7 215.3h0.75v0.75h-0.75zM335.5 215.5h0.75v0.75h-0.75zM336.3 215.5h0.75v0.75h-0.75zM342.8 215.5h0.75v0.75h-0.75zM348.8 215.6h0.75v0.75h-0.75zM355.6 215.2h0.75v0.75h-0.75zM365.6 215.5h0.75v0.75h-0.75zM329.4 216.3h0.75v0.75h-0.75zM330.6 216.6h0.75v0.75h-0.75zM335.3 216.4h0.75v0.75h-0.75zM334.4 217.2h0.75v0.75h-0.75zM356.4 217.5h0.75v0.75h-0.75zM362.6 217.1h0.75v0.75h-0.75zM334.8 218.4h0.75v0.75h-0.75zM345.6 218.2h0.75v0.75h-0.75zM346.4 218.6h0.75v0.75h-0.75zM349.4 218.1h0.75v0.75h-0.75zM366.5 218.5h0.75v0.75h-0.75zM310.5 219.3h0.75v0.75h-0.75zM370.6 219.2h0.75v0.75h-0.75zM315.4 220.2h0.75v0.75h-0.75zM328.6 220.4h0.75v0.75h-0.75zM341.8 220.1h0.75v0.75h-0.75zM319.9 221.2h0.75v0.75h-0.75zM320.4 221.6h0.75v0.75h-0.75zM331.4 221.1h0.75v0.75h-0.75zM357.5 221.3h0.75v0.75h-0.75zM320.4 222.2h0.75v0.75h-0.75zM329.4 222.5h0.75v0.75h-0.75zM332.8 222.6h0.75v0.75h-0.75zM333.6 222.5h0.75v0.75h-0.75zM336.6 222.1h0.75v0.75h-0.75zM358.5 222.2h0.75v0.75h-0.75zM368.8 222.1h0.75v0.75h-0.75zM313.9 223.6h0.75v0.75h-0.75zM321.6 223.1h0.75v0.75h-0.75zM341.7 223.2h0.75v0.75h-0.75zM342.3 223.4h0.75v0.75h-0.75zM306.6 224.4h0.75v0.75h-0.75zM338.7 224.5h0.75v0.75h-0.75zM357.4 224.2h0.75v0.75h-0.75zM367.6 224.5h0.75v0.75h-0.75zM315.8 225.1h0.75v0.75h-0.75zM338.3 225.2h0.75v0.75h-0.75zM340.6 225.4h0.75v0.75h-0.75zM352.8 225.4h0.75v0.75h-0.75zM338.6 226.2h0.75v0.75h-0.75zM355.5 226.3h0.75v0.75h-0.75zM357.6 226.5h0.75v0.75h-0.75zM309.3 227.2h0.75v0.75h-0.75zM312.5 227.1h0.75v0.75h-0.75zM331.4 227.3h0.75v0.75h-0.75zM344.7 227.5h0.75v0.75h-0.75zM306.7 228.2h0.75v0.75h-0.75zM311.4 228.4h0.75v0.75h-0.75zM326.9 228.6h0.75v0.75h-0.75zM327.7 228.6h0.75v0.75h-0.75zM333.4 228.6h0.75v0.75h-0.75zM363.5 229.2h0.75v0.75h-0.75zM367.5 229.4h0.75v0.75h-0.75zM306.9 230.4h0.75v0.75h-0.75zM307.8 230.3h0.75v0.75h-0.75zM309.8 230.1h0.75v0.75h-0.75zM318.9 230.5h0.75v0.75h-0.75zM343.7 230.6h0.75v0.75h-0.75zM363.4 230.4h0.75v0.75h-0.75zM305.5 231.2h0.75v0.75h-0.75zM306.9 231.4h0.75v0.75h-0.75zM314.8 231.4h0.75v0.75h-0.75zM320.8 231.6h0.75v0.75h-0.75zM323.6 231.2h0.75v0.75h-0.75zM325.6 231.1h0.75v0.75h-0.75zM328.9 231.0h0.75v0.75h-0.75zM330.6 231.3h0.75v0.75h-0.75zM332.5 231.4h0.75v0.75h-0.75zM337.4 231.5h0.75v0.75h-0.75zM357.5 231.6h0.75v0.75h-0.75zM306.4 232.3h0.75v0.75h-0.75zM311.4 232.1h0.75v0.75h-0.75zM312.5 232.1h0.75v0.75h-0.75zM313.4 232.4h0.75v0.75h-0.75zM314.6 232.3h0.75v0.75h-0.75zM320.6 232.0h0.75v0.75h-0.75zM344.3 232.3h0.75v0.75h-0.75zM304.5 233.4h0.75v0.75h-0.75zM309.7 233.6h0.75v0.75h-0.75zM310.4 233.0h0.75v0.75h-0.75zM314.5 233.2h0.75v0.75h-0.75zM315.5 233.2h0.75v0.75h-0.75zM318.4 233.5h0.75v0.75h-0.75zM324.5 233.4h0.75v0.75h-0.75zM327.5 233.5h0.75v0.75h-0.75zM335.7 233.4h0.75v0.75h-0.75zM347.5 233.2h0.75v0.75h-0.75zM348.8 233.5h0.75v0.75h-0.75zM349.9 233.1h0.75v0.75h-0.75zM352.6 233.5h0.75v0.75h-0.75zM361.8 233.2h0.75v0.75h-0.75zM307.6 234.1h0.75v0.75h-0.75zM308.5 234.0h0.75v0.75h-0.75zM310.4 234.5h0.75v0.75h-0.75zM311.5 234.5h0.75v0.75h-0.75zM316.7 234.5h0.75v0.75h-0.75zM340.4 234.3h0.75v0.75h-0.75zM351.6 234.5h0.75v0.75h-0.75zM354.8 234.4h0.75v0.75h-0.75zM304.4 235.0h0.75v0.75h-0.75zM305.4 235.6h0.75v0.75h-0.75zM310.3 235.4h0.75v0.75h-0.75zM311.6 235.4h0.75v0.75h-0.75zM313.6 235.0h0.75v0.75h-0.75zM331.9 235.3h0.75v0.75h-0.75zM332.7 235.5h0.75v0.75h-0.75zM333.5 235.5h0.75v0.75h-0.75zM334.5 235.5h0.75v0.75h-0.75zM335.8 235.5h0.75v0.75h-0.75zM305.4 236.5h0.75v0.75h-0.75zM309.5 236.5h0.75v0.75h-0.75zM311.9 236.0h0.75v0.75h-0.75zM324.4 236.4h0.75v0.75h-0.75zM334.4 236.1h0.75v0.75h-0.75zM335.9 236.6h0.75v0.75h-0.75zM340.7 236.4h0.75v0.75h-0.75zM347.7 236.6h0.75v0.75h-0.75zM361.9 236.5h0.75v0.75h-0.75zM363.8 236.6h0.75v0.75h-0.75zM303.9 237.1h0.75v0.75h-0.75zM306.5 237.4h0.75v0.75h-0.75zM309.7 237.4h0.75v0.75h-0.75zM310.5 237.4h0.75v0.75h-0.75zM314.8 237.6h0.75v0.75h-0.75zM318.3 237.4h0.75v0.75h-0.75zM319.8 237.4h0.75v0.75h-0.75zM320.6 237.3h0.75v0.75h-0.75zM323.7 237.4h0.75v0.75h-0.75zM326.6 237.1h0.75v0.75h-0.75zM327.8 237.4h0.75v0.75h-0.75zM334.4 237.4h0.75v0.75h-0.75zM345.4 237.1h0.75v0.75h-0.75zM304.5 238.3h0.75v0.75h-0.75zM309.7 238.4h0.75v0.75h-0.75zM310.5 238.4h0.75v0.75h-0.75zM321.9 238.5h0.75v0.75h-0.75zM322.9 238.4h0.75v0.75h-0.75zM328.6 238.4h0.75v0.75h-0.75zM331.5 238.4h0.75v0.75h-0.75zM338.3 238.3h0.75v0.75h-0.75zM341.4 238.2h0.75v0.75h-0.75zM305.8 239.5h0.75v0.75h-0.75zM310.8 239.5h0.75v0.75h-0.75zM312.3 239.0h0.75v0.75h-0.75zM313.7 239.3h0.75v0.75h-0.75zM317.9 239.1h0.75v0.75h-0.75zM319.9 239.1h0.75v0.75h-0.75zM321.8 239.5h0.75v0.75h-0.75zM324.9 239.2h0.75v0.75h-0.75zM325.5 239.3h0.75v0.75h-0.75zM328.7 239.2h0.75v0.75h-0.75zM333.7 239.4h0.75v0.75h-0.75zM337.4 239.1h0.75v0.75h-0.75zM339.9 239.4h0.75v0.75h-0.75zM345.3 239.0h0.75v0.75h-0.75zM346.6 239.3h0.75v0.75h-0.75zM303.6 240.2h0.75v0.75h-0.75zM308.5 240.3h0.75v0.75h-0.75zM310.4 240.3h0.75v0.75h-0.75zM312.8 240.5h0.75v0.75h-0.75zM316.4 240.1h0.75v0.75h-0.75zM320.6 240.1h0.75v0.75h-0.75zM326.7 240.4h0.75v0.75h-0.75zM327.5 240.2h0.75v0.75h-0.75zM336.7 240.4h0.75v0.75h-0.75zM346.9 240.1h0.75v0.75h-0.75zM303.8 241.3h0.75v0.75h-0.75zM311.7 241.5h0.75v0.75h-0.75zM315.3 241.3h0.75v0.75h-0.75zM316.7 241.3h0.75v0.75h-0.75zM320.6 241.4h0.75v0.75h-0.75zM324.5 241.2h0.75v0.75h-0.75zM331.7 241.5h0.75v0.75h-0.75zM333.9 241.3h0.75v0.75h-0.75zM346.5 241.6h0.75v0.75h-0.75zM349.3 241.4h0.75v0.75h-0.75zM350.8 241.5h0.75v0.75h-0.75zM369.8 241.0h0.75v0.75h-0.75zM304.7 242.6h0.75v0.75h-0.75zM305.8 242.4h0.75v0.75h-0.75zM307.3 242.5h0.75v0.75h-0.75zM309.3 242.3h0.75v0.75h-0.75zM315.8 242.1h0.75v0.75h-0.75zM319.3 242.5h0.75v0.75h-0.75zM320.4 242.0h0.75v0.75h-0.75zM321.3 242.5h0.75v0.75h-0.75zM322.6 242.2h0.75v0.75h-0.75zM328.6 242.3h0.75v0.75h-0.75zM338.7 242.6h0.75v0.75h-0.75zM303.6 243.1h0.75v0.75h-0.75zM304.5 243.1h0.75v0.75h-0.75zM308.8 243.2h0.75v0.75h-0.75zM314.7 243.4h0.75v0.75h-0.75zM315.5 243.2h0.75v0.75h-0.75zM317.4 243.3h0.75v0.75h-0.75zM318.7 243.5h0.75v0.75h-0.75zM324.5 243.2h0.75v0.75h-0.75zM327.4 243.6h0.75v0.75h-0.75zM331.8 243.5h0.75v0.75h-0.75zM334.8 243.5h0.75v0.75h-0.75zM342.4 243.5h0.75v0.75h-0.75zM345.8 243.4h0.75v0.75h-0.75zM360.5 243.1h0.75v0.75h-0.75zM303.8 244.1h0.75v0.75h-0.75zM307.6 244.5h0.75v0.75h-0.75zM308.8 244.3h0.75v0.75h-0.75zM309.7 244.1h0.75v0.75h-0.75zM313.5 244.4h0.75v0.75h-0.75zM317.5 244.6h0.75v0.75h-0.75zM325.9 244.6h0.75v0.75h-0.75zM329.7 244.1h0.75v0.75h-0.75zM345.5 244.1h0.75v0.75h-0.75zM346.8 244.4h0.75v0.75h-0.75zM349.7 244.3h0.75v0.75h-0.75zM312.3 245.2h0.75v0.75h-0.75zM318.5 245.2h0.75v0.75h-0.75zM322.3 245.1h0.75v0.75h-0.75zM323.8 245.6h0.75v0.75h-0.75zM330.6 245.3h0.75v0.75h-0.75zM335.6 245.0h0.75v0.75h-0.75zM336.7 245.2h0.75v0.75h-0.75zM338.8 245.2h0.75v0.75h-0.75zM342.5 245.0h0.75v0.75h-0.75zM346.9 245.5h0.75v0.75h-0.75zM359.4 245.4h0.75v0.75h-0.75zM361.9 245.6h0.75v0.75h-0.75zM362.7 245.3h0.75v0.75h-0.75zM367.3 245.3h0.75v0.75h-0.75zM301.6 246.4h0.75v0.75h-0.75zM302.6 246.3h0.75v0.75h-0.75zM307.4 246.5h0.75v0.75h-0.75zM312.8 246.4h0.75v0.75h-0.75zM314.4 246.1h0.75v0.75h-0.75zM321.8 246.5h0.75v0.75h-0.75zM325.7 246.5h0.75v0.75h-0.75zM326.8 246.5h0.75v0.75h-0.75zM327.3 246.0h0.75v0.75h-0.75zM329.8 246.2h0.75v0.75h-0.75zM331.4 246.1h0.75v0.75h-0.75zM332.4 246.1h0.75v0.75h-0.75zM335.3 246.6h0.75v0.75h-0.75zM336.7 246.5h0.75v0.75h-0.75zM338.6 246.3h0.75v0.75h-0.75zM346.4 246.6h0.75v0.75h-0.75zM347.9 246.2h0.75v0.75h-0.75zM351.6 246.2h0.75v0.75h-0.75zM302.6 247.6h0.75v0.75h-0.75zM315.4 247.2h0.75v0.75h-0.75zM317.5 247.2h0.75v0.75h-0.75zM318.9 247.4h0.75v0.75h-0.75zM322.8 247.2h0.75v0.75h-0.75zM323.5 247.2h0.75v0.75h-0.75zM325.5 247.3h0.75v0.75h-0.75zM327.5 247.5h0.75v0.75h-0.75zM328.4 247.5h0.75v0.75h-0.75zM333.3 247.5h0.75v0.75h-0.75zM334.8 247.0h0.75v0.75h-0.75zM340.5 247.4h0.75v0.75h-0.75zM344.5 247.4h0.75v0.75h-0.75zM346.5 247.2h0.75v0.75h-0.75zM364.9 247.2h0.75v0.75h-0.75zM369.4 247.4h0.75v0.75h-0.75zM315.7 248.3h0.75v0.75h-0.75zM317.6 248.3h0.75v0.75h-0.75zM319.5 248.1h0.75v0.75h-0.75zM320.5 248.6h0.75v0.75h-0.75zM321.4 248.4h0.75v0.75h-0.75zM323.7 248.5h0.75v0.75h-0.75zM325.5 248.2h0.75v0.75h-0.75zM329.9 248.0h0.75v0.75h-0.75zM330.8 248.6h0.75v0.75h-0.75zM332.9 248.3h0.75v0.75h-0.75zM333.5 248.4h0.75v0.75h-0.75zM334.5 248.4h0.75v0.75h-0.75zM335.7 248.5h0.75v0.75h-0.75zM338.5 248.3h0.75v0.75h-0.75zM340.7 248.1h0.75v0.75h-0.75zM345.5 248.2h0.75v0.75h-0.75zM346.5 248.4h0.75v0.75h-0.75zM358.7 248.6h0.75v0.75h-0.75zM369.5 248.5h0.75v0.75h-0.75zM301.8 249.6h0.75v0.75h-0.75zM303.4 249.4h0.75v0.75h-0.75zM304.4 249.6h0.75v0.75h-0.75zM315.4 249.1h0.75v0.75h-0.75zM316.4 249.1h0.75v0.75h-0.75zM326.7 249.4h0.75v0.75h-0.75zM327.9 249.6h0.75v0.75h-0.75zM336.4 249.0h0.75v0.75h-0.75zM346.7 249.6h0.75v0.75h-0.75zM347.3 249.3h0.75v0.75h-0.75zM359.3 249.3h0.75v0.75h-0.75zM363.8 249.0h0.75v0.75h-0.75zM370.6 249.5h0.75v0.75h-0.75zM301.8 250.1h0.75v0.75h-0.75zM302.6 250.0h0.75v0.75h-0.75zM304.8 250.3h0.75v0.75h-0.75zM314.6 250.2h0.75v0.75h-0.75zM318.6 250.1h0.75v0.75h-0.75zM329.3 250.2h0.75v0.75h-0.75zM337.5 250.6h0.75v0.75h-0.75zM340.6 250.1h0.75v0.75h-0.75zM348.3 250.2h0.75v0.75h-0.75zM350.6 250.1h0.75v0.75h-0.75zM356.8 250.4h0.75v0.75h-0.75zM359.4 250.3h0.75v0.75h-0.75zM360.7 250.5h0.75v0.75h-0.75zM364.6 250.4h0.75v0.75h-0.75zM367.7 250.6h0.75v0.75h-0.75zM369.7 250.6h0.75v0.75h-0.75zM318.7 251.1h0.75v0.75h-0.75zM328.5 251.5h0.75v0.75h-0.75zM330.6 251.3h0.75v0.75h-0.75zM333.5 251.3h0.75v0.75h-0.75zM339.4 251.1h0.75v0.75h-0.75zM342.3 251.2h0.75v0.75h-0.75zM347.6 251.2h0.75v0.75h-0.75zM350.4 251.1h0.75v0.75h-0.75zM353.9 251.1h0.75v0.75h-0.75zM302.7 252.4h0.75v0.75h-0.75zM304.4 252.0h0.75v0.75h-0.75zM319.7 252.3h0.75v0.75h-0.75zM324.5 252.2h0.75v0.75h-0.75zM329.7 252.5h0.75v0.75h-0.75zM331.7 252.4h0.75v0.75h-0.75zM332.6 252.4h0.75v0.75h-0.75zM335.3 252.4h0.75v0.75h-0.75zM336.4 252.2h0.75v0.75h-0.75zM339.3 252.0h0.75v0.75h-0.75zM342.4 252.4h0.75v0.75h-0.75zM343.7 252.2h0.75v0.75h-0.75zM344.4 252.2h0.75v0.75h-0.75zM347.5 252.3h0.75v0.75h-0.75zM351.9 252.6h0.75v0.75h-0.75zM359.7 252.1h0.75v0.75h-0.75zM360.5 252.4h0.75v0.75h-0.75zM365.3 252.1h0.75v0.75h-0.75zM301.6 253.2h0.75v0.75h-0.75zM318.4 253.0h0.75v0.75h-0.75zM323.6 253.1h0.75v0.75h-0.75zM327.4 253.3h0.75v0.75h-0.75zM328.5 253.5h0.75v0.75h-0.75zM330.6 253.1h0.75v0.75h-0.75zM335.8 253.4h0.75v0.75h-0.75zM340.5 253.1h0.75v0.75h-0.75zM343.6 253.2h0.75v0.75h-0.75zM345.5 253.0h0.75v0.75h-0.75zM346.8 253.3h0.75v0.75h-0.75zM348.5 253.3h0.75v0.75h-0.75zM358.3 253.4h0.75v0.75h-0.75zM359.7 253.5h0.75v0.75h-0.75zM362.5 253.6h0.75v0.75h-0.75zM365.4 253.2h0.75v0.75h-0.75zM318.4 254.3h0.75v0.75h-0.75zM320.3 254.4h0.75v0.75h-0.75zM322.7 254.5h0.75v0.75h-0.75zM327.6 254.1h0.75v0.75h-0.75zM330.7 254.6h0.75v0.75h-0.75zM332.6 254.6h0.75v0.75h-0.75zM334.3 254.4h0.75v0.75h-0.75zM337.3 254.4h0.75v0.75h-0.75zM339.5 254.5h0.75v0.75h-0.75zM343.4 254.0h0.75v0.75h-0.75zM345.6 254.2h0.75v0.75h-0.75zM349.7 254.3h0.75v0.75h-0.75zM353.7 254.3h0.75v0.75h-0.75zM354.6 254.3h0.75v0.75h-0.75zM358.5 254.1h0.75v0.75h-0.75zM299.9 255.5h0.75v0.75h-0.75zM300.4 255.4h0.75v0.75h-0.75zM321.7 255.2h0.75v0.75h-0.75zM325.9 255.1h0.75v0.75h-0.75zM330.5 255.4h0.75v0.75h-0.75zM332.8 255.6h0.75v0.75h-0.75zM333.8 255.1h0.75v0.75h-0.75zM335.5 255.3h0.75v0.75h-0.75zM336.5 255.1h0.75v0.75h-0.75zM338.4 255.3h0.75v0.75h-0.75zM343.8 255.5h0.75v0.75h-0.75zM348.7 255.1h0.75v0.75h-0.75zM349.4 255.3h0.75v0.75h-0.75zM352.7 255.2h0.75v0.75h-0.75zM353.5 255.1h0.75v0.75h-0.75zM354.8 255.3h0.75v0.75h-0.75zM299.9 256.2h0.75v0.75h-0.75zM302.3 256.5h0.75v0.75h-0.75zM303.5 256.1h0.75v0.75h-0.75zM321.8 256.4h0.75v0.75h-0.75zM324.6 256.3h0.75v0.75h-0.75zM333.8 256.4h0.75v0.75h-0.75zM347.5 256.6h0.75v0.75h-0.75zM350.8 256.4h0.75v0.75h-0.75zM352.7 256.1h0.75v0.75h-0.75zM361.6 256.5h0.75v0.75h-0.75zM298.3 257.5h0.75v0.75h-0.75zM300.9 257.0h0.75v0.75h-0.75zM301.6 257.6h0.75v0.75h-0.75zM319.6 257.4h0.75v0.75h-0.75zM325.7 257.5h0.75v0.75h-0.75zM326.8 257.6h0.75v0.75h-0.75zM327.7 257.1h0.75v0.75h-0.75zM328.5 257.1h0.75v0.75h-0.75zM329.4 257.5h0.75v0.75h-0.75zM330.7 257.5h0.75v0.75h-0.75zM332.8 257.3h0.75v0.75h-0.75zM333.9 257.4h0.75v0.75h-0.75zM338.7 257.2h0.75v0.75h-0.75zM341.5 257.1h0.75v0.75h-0.75zM344.4 257.3h0.75v0.75h-0.75zM347.6 257.6h0.75v0.75h-0.75zM350.5 257.5h0.75v0.75h-0.75zM352.4 257.4h0.75v0.75h-0.75zM355.5 257.6h0.75v0.75h-0.75zM298.8 258.3h0.75v0.75h-0.75zM299.9 258.6h0.75v0.75h-0.75zM302.8 258.1h0.75v0.75h-0.75zM328.9 258.3h0.75v0.75h-0.75zM333.5 258.4h0.75v0.75h-0.75zM338.5 258.2h0.75v0.75h-0.75zM339.3 258.6h0.75v0.75h-0.75zM343.8 258.0h0.75v0.75h-0.75zM344.4 258.3h0.75v0.75h-0.75zM348.3 258.2h0.75v0.75h-0.75zM353.7 258.4h0.75v0.75h-0.75zM354.4 258.3h0.75v0.75h-0.75zM298.3 259.1h0.75v0.75h-0.75zM299.5 259.1h0.75v0.75h-0.75zM337.8 259.0h0.75v0.75h-0.75zM340.7 259.0h0.75v0.75h-0.75zM342.8 259.2h0.75v0.75h-0.75zM344.5 259.4h0.75v0.75h-0.75zM345.9 259.4h0.75v0.75h-0.75zM347.9 259.5h0.75v0.75h-0.75zM298.3 260.2h0.75v0.75h-0.75zM302.8 260.4h0.75v0.75h-0.75zM342.7 260.2h0.75v0.75h-0.75zM343.7 260.6h0.75v0.75h-0.75zM347.6 260.4h0.75v0.75h-0.75zM348.6 260.6h0.75v0.75h-0.75zM352.3 260.6h0.75v0.75h-0.75zM298.7 261.0h0.75v0.75h-0.75zM337.9 261.6h0.75v0.75h-0.75zM343.6 261.0h0.75v0.75h-0.75zM344.4 261.5h0.75v0.75h-0.75zM345.4 261.5h0.75v0.75h-0.75zM359.8 261.1h0.75v0.75h-0.75zM360.3 261.2h0.75v0.75h-0.75zM297.5 262.3h0.75v0.75h-0.75zM302.3 262.4h0.75v0.75h-0.75zM304.8 262.1h0.75v0.75h-0.75zM336.6 262.6h0.75v0.75h-0.75zM348.7 262.3h0.75v0.75h-0.75zM349.5 262.3h0.75v0.75h-0.75zM351.5 262.4h0.75v0.75h-0.75zM358.6 262.5h0.75v0.75h-0.75zM297.6 263.2h0.75v0.75h-0.75zM298.6 263.0h0.75v0.75h-0.75zM299.4 263.3h0.75v0.75h-0.75zM340.6 263.5h0.75v0.75h-0.75zM341.5 263.2h0.75v0.75h-0.75zM345.4 263.3h0.75v0.75h-0.75zM347.9 263.5h0.75v0.75h-0.75zM355.6 263.2h0.75v0.75h-0.75zM357.9 263.2h0.75v0.75h-0.75zM358.7 263.6h0.75v0.75h-0.75zM296.9 264.2h0.75v0.75h-0.75zM298.3 264.2h0.75v0.75h-0.75zM299.4 264.5h0.75v0.75h-0.75zM301.4 264.3h0.75v0.75h-0.75zM302.6 264.3h0.75v0.75h-0.75zM303.7 264.1h0.75v0.75h-0.75zM336.4 264.3h0.75v0.75h-0.75zM337.6 264.1h0.75v0.75h-0.75zM344.7 264.5h0.75v0.75h-0.75zM345.8 264.5h0.75v0.75h-0.75zM346.6 264.5h0.75v0.75h-0.75zM350.6 264.1h0.75v0.75h-0.75zM354.4 264.4h0.75v0.75h-0.75zM296.4 265.2h0.75v0.75h-0.75zM300.8 265.6h0.75v0.75h-0.75zM302.7 265.3h0.75v0.75h-0.75zM305.3 265.5h0.75v0.75h-0.75zM343.6 265.5h0.75v0.75h-0.75zM346.9 265.5h0.75v0.75h-0.75zM300.6 266.1h0.75v0.75h-0.75zM302.8 266.4h0.75v0.75h-0.75zM304.5 266.1h0.75v0.75h-0.75zM336.6 266.3h0.75v0.75h-0.75zM341.4 266.2h0.75v0.75h-0.75zM297.4 267.3h0.75v0.75h-0.75zM298.5 267.4h0.75v0.75h-0.75zM335.5 267.4h0.75v0.75h-0.75zM336.6 267.1h0.75v0.75h-0.75zM337.4 267.1h0.75v0.75h-0.75zM296.6 268.3h0.75v0.75h-0.75zM297.6 268.6h0.75v0.75h-0.75zM299.4 268.1h0.75v0.75h-0.75zM304.4 268.6h0.75v0.75h-0.75zM305.3 268.0h0.75v0.75h-0.75zM331.9 268.5h0.75v0.75h-0.75zM332.8 268.1h0.75v0.75h-0.75zM334.4 268.5h0.75v0.75h-0.75zM335.7 268.0h0.75v0.75h-0.75zM337.4 268.6h0.75v0.75h-0.75zM300.5 269.5h0.75v0.75h-0.75zM301.8 269.5h0.75v0.75h-0.75zM302.8 269.2h0.75v0.75h-0.75zM331.7 269.1h0.75v0.75h-0.75zM332.3 269.3h0.75v0.75h-0.75zM333.4 269.0h0.75v0.75h-0.75zM296.8 270.2h0.75v0.75h-0.75zM298.4 270.4h0.75v0.75h-0.75zM302.7 270.6h0.75v0.75h-0.75zM296.4 271.6h0.75v0.75h-0.75zM298.8 271.5h0.75v0.75h-0.75zM301.5 271.4h0.75v0.75h-0.75zM305.8 271.6h0.75v0.75h-0.75zM307.6 271.1h0.75v0.75h-0.75zM324.8 271.2h0.75v0.75h-0.75zM325.7 271.2h0.75v0.75h-0.75zM296.3 272.1h0.75v0.75h-0.75zM300.7 272.4h0.75v0.75h-0.75zM304.7 272.1h0.75v0.75h-0.75zM318.7 272.1h0.75v0.75h-0.75zM320.8 272.1h0.75v0.75h-0.75zM322.8 272.4h0.75v0.75h-0.75zM299.9 273.5h0.75v0.75h-0.75zM300.5 273.1h0.75v0.75h-0.75zM305.7 273.3h0.75v0.75h-0.75zM311.4 273.4h0.75v0.75h-0.75zM315.7 273.6h0.75v0.75h-0.75zM299.7 274.2h0.75v0.75h-0.75zM300.8 274.1h0.75v0.75h-0.75zM304.6 274.0h0.75v0.75h-0.75zM305.7 274.1h0.75v0.75h-0.75zM309.5 274.2h0.75v0.75h-0.75zM311.7 274.5h0.75v0.75h-0.75zM313.4 274.1h0.75v0.75h-0.75zM302.8 275.3h0.75v0.75h-0.75zM305.4 275.1h0.75v0.75h-0.75zM307.3 275.1h0.75v0.75h-0.75zM298.4 276.5h0.75v0.75h-0.75zM299.4 276.4h0.75v0.75h-0.75zM302.6 276.0h0.75v0.75h-0.75zM303.7 276.6h0.75v0.75h-0.75zM305.5 276.2h0.75v0.75h-0.75zM297.5 277.3h0.75v0.75h-0.75zM300.7 277.0h0.75v0.75h-0.75z" fill="#aab2f2" fill-opacity="0.5"/>
<path d="M327.7 219.1h0.75v0.75h-0.75zM351.8 221.3h0.75v0.75h-0.75zM307.3 235.0h0.75v0.75h-0.75zM305.5 237.2h0.75v0.75h-0.75zM307.8 238.5h0.75v0.75h-0.75zM312.7 238.2h0.75v0.75h-0.75zM313.4 238.1h0.75v0.75h-0.75zM304.7 239.2h0.75v0.75h-0.75zM304.8 240.1h0.75v0.75h-0.75zM305.8 240.4h0.75v0.75h-0.75zM306.5 240.4h0.75v0.75h-0.75zM307.9 240.0h0.75v0.75h-0.75zM309.8 240.4h0.75v0.75h-0.75zM313.4 240.4h0.75v0.75h-0.75zM305.3 241.4h0.75v0.75h-0.75zM306.4 241.2h0.75v0.75h-0.75zM309.4 241.5h0.75v0.75h-0.75zM310.7 241.4h0.75v0.75h-0.75zM314.9 241.1h0.75v0.75h-0.75zM343.6 241.6h0.75v0.75h-0.75zM302.8 242.0h0.75v0.75h-0.75zM308.7 242.2h0.75v0.75h-0.75zM314.8 242.4h0.75v0.75h-0.75zM332.6 242.6h0.75v0.75h-0.75zM306.5 243.5h0.75v0.75h-0.75zM310.4 243.4h0.75v0.75h-0.75zM311.5 243.4h0.75v0.75h-0.75zM313.6 243.4h0.75v0.75h-0.75zM304.4 244.6h0.75v0.75h-0.75zM310.3 244.3h0.75v0.75h-0.75zM311.3 244.3h0.75v0.75h-0.75zM312.7 244.4h0.75v0.75h-0.75zM314.4 244.4h0.75v0.75h-0.75zM301.7 245.2h0.75v0.75h-0.75zM303.8 245.3h0.75v0.75h-0.75zM304.8 245.0h0.75v0.75h-0.75zM305.5 245.0h0.75v0.75h-0.75zM306.4 245.2h0.75v0.75h-0.75zM307.8 245.4h0.75v0.75h-0.75zM309.4 245.5h0.75v0.75h-0.75zM310.8 245.2h0.75v0.75h-0.75zM313.5 245.5h0.75v0.75h-0.75zM315.7 245.2h0.75v0.75h-0.75zM325.8 245.1h0.75v0.75h-0.75zM303.6 246.4h0.75v0.75h-0.75zM304.9 246.5h0.75v0.75h-0.75zM306.5 246.2h0.75v0.75h-0.75zM308.9 246.0h0.75v0.75h-0.75zM310.3 246.6h0.75v0.75h-0.75zM313.3 246.4h0.75v0.75h-0.75zM316.4 246.5h0.75v0.75h-0.75zM318.8 246.3h0.75v0.75h-0.75zM319.7 246.1h0.75v0.75h-0.75zM320.3 246.0h0.75v0.75h-0.75zM301.5 247.3h0.75v0.75h-0.75zM304.8 247.1h0.75v0.75h-0.75zM305.4 247.0h0.75v0.75h-0.75zM306.7 247.1h0.75v0.75h-0.75zM308.4 247.5h0.75v0.75h-0.75zM309.7 247.1h0.75v0.75h-0.75zM310.7 247.5h0.75v0.75h-0.75zM311.5 247.2h0.75v0.75h-0.75zM312.5 247.4h0.75v0.75h-0.75zM314.9 247.2h0.75v0.75h-0.75zM304.4 248.4h0.75v0.75h-0.75zM305.7 248.5h0.75v0.75h-0.75zM306.8 248.4h0.75v0.75h-0.75zM307.5 248.2h0.75v0.75h-0.75zM309.5 248.1h0.75v0.75h-0.75zM310.6 248.2h0.75v0.75h-0.75zM311.4 248.3h0.75v0.75h-0.75zM312.6 248.2h0.75v0.75h-0.75zM314.6 248.6h0.75v0.75h-0.75zM305.4 249.1h0.75v0.75h-0.75zM306.6 249.6h0.75v0.75h-0.75zM307.5 249.5h0.75v0.75h-0.75zM308.6 249.2h0.75v0.75h-0.75zM309.7 249.4h0.75v0.75h-0.75zM310.4 249.4h0.75v0.75h-0.75zM311.7 249.3h0.75v0.75h-0.75zM312.5 249.2h0.75v0.75h-0.75zM313.5 249.2h0.75v0.75h-0.75zM314.7 249.3h0.75v0.75h-0.75zM319.6 249.2h0.75v0.75h-0.75zM321.8 249.3h0.75v0.75h-0.75zM323.5 249.2h0.75v0.75h-0.75zM325.9 249.5h0.75v0.75h-0.75zM300.4 250.3h0.75v0.75h-0.75zM305.3 250.6h0.75v0.75h-0.75zM306.4 250.2h0.75v0.75h-0.75zM307.5 250.1h0.75v0.75h-0.75zM309.4 250.2h0.75v0.75h-0.75zM310.6 250.5h0.75v0.75h-0.75zM311.7 250.4h0.75v0.75h-0.75zM312.5 250.5h0.75v0.75h-0.75zM313.7 250.1h0.75v0.75h-0.75zM315.7 250.2h0.75v0.75h-0.75zM323.9 250.1h0.75v0.75h-0.75zM300.9 251.1h0.75v0.75h-0.75zM303.8 251.1h0.75v0.75h-0.75zM304.8 251.2h0.75v0.75h-0.75zM305.6 251.2h0.75v0.75h-0.75zM306.6 251.2h0.75v0.75h-0.75zM307.7 251.2h0.75v0.75h-0.75zM308.3 251.4h0.75v0.75h-0.75zM309.6 251.5h0.75v0.75h-0.75zM310.8 251.2h0.75v0.75h-0.75zM311.3 251.6h0.75v0.75h-0.75zM312.3 251.5h0.75v0.75h-0.75zM314.3 251.5h0.75v0.75h-0.75zM316.8 251.0h0.75v0.75h-0.75zM329.8 251.6h0.75v0.75h-0.75zM340.8 251.1h0.75v0.75h-0.75zM305.7 252.5h0.75v0.75h-0.75zM306.7 252.2h0.75v0.75h-0.75zM307.6 252.3h0.75v0.75h-0.75zM308.8 252.2h0.75v0.75h-0.75zM309.4 252.1h0.75v0.75h-0.75zM310.8 252.3h0.75v0.75h-0.75zM311.3 252.2h0.75v0.75h-0.75zM312.4 252.5h0.75v0.75h-0.75zM313.8 252.2h0.75v0.75h-0.75zM314.6 252.0h0.75v0.75h-0.75zM315.8 252.0h0.75v0.75h-0.75zM316.8 252.3h0.75v0.75h-0.75zM317.7 252.3h0.75v0.75h-0.75zM334.4 252.4h0.75v0.75h-0.75zM340.9 252.3h0.75v0.75h-0.75zM300.8 253.3h0.75v0.75h-0.75zM302.6 253.4h0.75v0.75h-0.75zM303.5 253.1h0.75v0.75h-0.75zM304.7 253.3h0.75v0.75h-0.75zM305.4 253.5h0.75v0.75h-0.75zM306.4 253.1h0.75v0.75h-0.75zM307.5 253.3h0.75v0.75h-0.75zM308.9 253.2h0.75v0.75h-0.75zM309.7 253.2h0.75v0.75h-0.75zM310.6 253.5h0.75v0.75h-0.75zM311.8 253.4h0.75v0.75h-0.75zM312.8 253.5h0.75v0.75h-0.75zM313.8 253.5h0.75v0.75h-0.75zM316.5 253.1h0.75v0.75h-0.75zM317.6 253.2h0.75v0.75h-0.75zM319.7 253.0h0.75v0.75h-0.75zM320.7 253.6h0.75v0.75h-0.75zM337.8 253.5h0.75v0.75h-0.75zM347.4 253.1h0.75v0.75h-0.75zM351.5 253.4h0.75v0.75h-0.75zM302.9 254.0h0.75v0.75h-0.75zM303.7 254.1h0.75v0.75h-0.75zM304.7 254.5h0.75v0.75h-0.75zM306.8 254.3h0.75v0.75h-0.75zM307.8 254.5h0.75v0.75h-0.75zM308.6 254.3h0.75v0.75h-0.75zM309.9 254.0h0.75v0.75h-0.75zM310.5 254.2h0.75v0.75h-0.75zM311.4 254.3h0.75v0.75h-0.75zM312.3 254.4h0.75v0.75h-0.75zM313.4 254.6h0.75v0.75h-0.75zM314.8 254.4h0.75v0.75h-0.75zM315.9 254.5h0.75v0.75h-0.75zM316.9 254.1h0.75v0.75h-0.75zM317.7 254.2h0.75v0.75h-0.75zM319.4 254.5h0.75v0.75h-0.75zM324.9 254.4h0.75v0.75h-0.75zM331.4 254.4h0.75v0.75h-0.75zM333.6 254.4h0.75v0.75h-0.75zM340.4 254.4h0.75v0.75h-0.75zM301.8 255.4h0.75v0.75h-0.75zM304.8 255.1h0.75v0.75h-0.75zM305.5 255.5h0.75v0.75h-0.75zM306.6 255.4h0.75v0.75h-0.75zM307.4 255.3h0.75v0.75h-0.75zM308.5 255.5h0.75v0.75h-0.75zM309.5 255.1h0.75v0.75h-0.75zM310.7 255.2h0.75v0.75h-0.75zM311.7 255.1h0.75v0.75h-0.75zM312.7 255.6h0.75v0.75h-0.75zM313.6 255.4h0.75v0.75h-0.75zM314.4 255.5h0.75v0.75h-0.75zM315.6 255.6h0.75v0.75h-0.75zM316.4 255.6h0.75v0.75h-0.75zM317.5 255.6h0.75v0.75h-0.75zM318.8 255.5h0.75v0.75h-0.75zM320.5 255.3h0.75v0.75h-0.75zM323.8 255.1h0.75v0.75h-0.75zM326.6 255.6h0.75v0.75h-0.75zM329.6 255.5h0.75v0.75h-0.75zM339.9 255.2h0.75v0.75h-0.75zM340.8 255.1h0.75v0.75h-0.75zM342.5 255.5h0.75v0.75h-0.75zM301.3 256.0h0.75v0.75h-0.75zM304.5 256.3h0.75v0.75h-0.75zM305.6 256.2h0.75v0.75h-0.75zM306.8 256.4h0.75v0.75h-0.75zM307.6 256.4h0.75v0.75h-0.75zM308.8 256.5h0.75v0.75h-0.75zM309.4 256.5h0.75v0.75h-0.75zM310.6 256.5h0.75v0.75h-0.75zM311.4 256.1h0.75v0.75h-0.75zM312.5 256.1h0.75v0.75h-0.75zM313.6 256.5h0.75v0.75h-0.75zM314.5 256.1h0.75v0.75h-0.75zM315.5 256.0h0.75v0.75h-0.75zM316.8 256.2h0.75v0.75h-0.75zM318.4 256.2h0.75v0.75h-0.75zM319.7 256.3h0.75v0.75h-0.75zM320.4 256.3h0.75v0.75h-0.75zM322.3 256.6h0.75v0.75h-0.75zM323.5 256.1h0.75v0.75h-0.75zM325.9 256.4h0.75v0.75h-0.75zM327.4 256.5h0.75v0.75h-0.75zM328.7 256.6h0.75v0.75h-0.75zM330.7 256.4h0.75v0.75h-0.75zM332.8 256.4h0.75v0.75h-0.75zM334.4 256.1h0.75v0.75h-0.75zM336.4 256.3h0.75v0.75h-0.75zM339.5 256.1h0.75v0.75h-0.75zM340.4 256.1h0.75v0.75h-0.75zM348.5 256.5h0.75v0.75h-0.75zM302.7 257.2h0.75v0.75h-0.75zM303.9 257.0h0.75v0.75h-0.75zM304.7 257.4h0.75v0.75h-0.75zM305.6 257.6h0.75v0.75h-0.75zM306.5 257.1h0.75v0.75h-0.75zM307.3 257.4h0.75v0.75h-0.75zM308.8 257.2h0.75v0.75h-0.75zM309.8 257.1h0.75v0.75h-0.75zM310.8 257.5h0.75v0.75h-0.75zM311.4 257.5h0.75v0.75h-0.75zM312.9 257.5h0.75v0.75h-0.75zM313.7 257.0h0.75v0.75h-0.75zM314.8 257.1h0.75v0.75h-0.75zM315.7 257.1h0.75v0.75h-0.75zM316.6 257.3h0.75v0.75h-0.75zM317.7 257.2h0.75v0.75h-0.75zM318.8 257.6h0.75v0.75h-0.75zM320.8 257.3h0.75v0.75h-0.75zM321.5 257.1h0.75v0.75h-0.75zM322.9 257.1h0.75v0.75h-0.75zM323.8 257.1h0.75v0.75h-0.75zM324.6 257.0h0.75v0.75h-0.75zM331.8 257.1h0.75v0.75h-0.75zM334.4 257.3h0.75v0.75h-0.75zM335.7 257.6h0.75v0.75h-0.75zM336.9 257.4h0.75v0.75h-0.75zM342.8 257.1h0.75v0.75h-0.75zM343.8 257.3h0.75v0.75h-0.75zM349.9 257.6h0.75v0.75h-0.75zM300.4 258.0h0.75v0.75h-0.75zM304.7 258.2h0.75v0.75h-0.75zM305.6 258.5h0.75v0.75h-0.75zM306.4 258.4h0.75v0.75h-0.75zM307.3 258.1h0.75v0.75h-0.75zM308.5 258.3h0.75v0.75h-0.75zM309.9 258.1h0.75v0.75h-0.75zM310.6 258.5h0.75v0.75h-0.75zM311.6 258.1h0.75v0.75h-0.75zM312.5 258.5h0.75v0.75h-0.75zM313.7 258.4h0.75v0.75h-0.75zM314.9 258.0h0.75v0.75h-0.75zM315.5 258.4h0.75v0.75h-0.75zM316.4 258.5h0.75v0.75h-0.75zM317.5 258.5h0.75v0.75h-0.75zM318.6 258.2h0.75v0.75h-0.75zM321.8 258.4h0.75v0.75h-0.75zM322.4 258.0h0.75v0.75h-0.75zM323.6 258.3h0.75v0.75h-0.75zM324.7 258.5h0.75v0.75h-0.75zM325.8 258.3h0.75v0.75h-0.75zM326.5 258.1h0.75v0.75h-0.75zM329.6 258.2h0.75v0.75h-0.75zM330.5 258.3h0.75v0.75h-0.75zM331.3 258.4h0.75v0.75h-0.75zM332.6 258.5h0.75v0.75h-0.75zM334.6 258.1h0.75v0.75h-0.75zM336.7 258.2h0.75v0.75h-0.75zM337.6 258.6h0.75v0.75h-0.75zM301.6 259.3h0.75v0.75h-0.75zM302.5 259.0h0.75v0.75h-0.75zM303.8 259.4h0.75v0.75h-0.75zM304.6 259.4h0.75v0.75h-0.75zM305.4 259.2h0.75v0.75h-0.75zM306.4 259.3h0.75v0.75h-0.75zM307.9 259.3h0.75v0.75h-0.75zM308.5 259.3h0.75v0.75h-0.75zM309.6 259.4h0.75v0.75h-0.75zM310.8 259.3h0.75v0.75h-0.75zM311.8 259.4h0.75v0.75h-0.75zM312.4 259.1h0.75v0.75h-0.75zM313.4 259.1h0.75v0.75h-0.75zM314.6 259.3h0.75v0.75h-0.75zM315.5 259.2h0.75v0.75h-0.75zM316.5 259.5h0.75v0.75h-0.75zM317.8 259.3h0.75v0.75h-0.75zM318.5 259.3h0.75v0.75h-0.75zM319.3 259.1h0.75v0.75h-0.75zM320.5 259.5h0.75v0.75h-0.75zM321.4 259.1h0.75v0.75h-0.75zM322.3 259.5h0.75v0.75h-0.75zM323.8 259.6h0.75v0.75h-0.75zM324.6 259.1h0.75v0.75h-0.75zM326.9 259.1h0.75v0.75h-0.75zM327.9 259.2h0.75v0.75h-0.75zM328.6 259.1h0.75v0.75h-0.75zM329.3 259.1h0.75v0.75h-0.75zM330.4 259.0h0.75v0.75h-0.75zM332.8 259.5h0.75v0.75h-0.75zM333.4 259.0h0.75v0.75h-0.75zM334.3 259.1h0.75v0.75h-0.75zM335.8 259.2h0.75v0.75h-0.75zM336.5 259.2h0.75v0.75h-0.75zM338.6 259.3h0.75v0.75h-0.75zM339.3 259.1h0.75v0.75h-0.75zM341.9 259.3h0.75v0.75h-0.75zM343.7 259.1h0.75v0.75h-0.75zM304.8 260.5h0.75v0.75h-0.75zM306.4 260.0h0.75v0.75h-0.75zM307.5 260.6h0.75v0.75h-0.75zM308.6 260.3h0.75v0.75h-0.75zM309.5 260.1h0.75v0.75h-0.75zM310.4 260.6h0.75v0.75h-0.75zM311.5 260.1h0.75v0.75h-0.75zM312.6 260.2h0.75v0.75h-0.75zM313.4 260.1h0.75v0.75h-0.75zM314.3 260.3h0.75v0.75h-0.75zM315.8 260.4h0.75v0.75h-0.75zM316.5 260.4h0.75v0.75h-0.75zM317.4 260.0h0.75v0.75h-0.75zM318.5 260.1h0.75v0.75h-0.75zM319.7 260.4h0.75v0.75h-0.75zM320.9 260.2h0.75v0.75h-0.75zM321.4 260.1h0.75v0.75h-0.75zM322.8 260.5h0.75v0.75h-0.75zM323.8 260.2h0.75v0.75h-0.75zM324.5 260.1h0.75v0.75h-0.75zM325.7 260.0h0.75v0.75h-0.75zM326.8 260.4h0.75v0.75h-0.75zM327.9 260.3h0.75v0.75h-0.75zM328.9 260.4h0.75v0.75h-0.75zM329.8 260.0h0.75v0.75h-0.75zM330.6 260.1h0.75v0.75h-0.75zM331.8 260.4h0.75v0.75h-0.75zM332.6 260.0h0.75v0.75h-0.75zM333.5 260.4h0.75v0.75h-0.75zM334.8 260.3h0.75v0.75h-0.75zM335.6 260.1h0.75v0.75h-0.75zM336.5 260.6h0.75v0.75h-0.75zM337.4 260.5h0.75v0.75h-0.75zM338.4 260.3h0.75v0.75h-0.75zM339.4 260.1h0.75v0.75h-0.75zM341.4 260.2h0.75v0.75h-0.75zM345.7 260.4h0.75v0.75h-0.75zM303.3 261.4h0.75v0.75h-0.75zM304.4 261.2h0.75v0.75h-0.75zM306.9 261.5h0.75v0.75h-0.75zM307.9 261.0h0.75v0.75h-0.75zM308.8 261.3h0.75v0.75h-0.75zM309.7 261.5h0.75v0.75h-0.75zM310.8 261.2h0.75v0.75h-0.75zM311.6 261.5h0.75v0.75h-0.75zM312.3 261.3h0.75v0.75h-0.75zM313.4 261.0h0.75v0.75h-0.75zM314.7 261.4h0.75v0.75h-0.75zM315.6 261.4h0.75v0.75h-0.75zM316.3 261.0h0.75v0.75h-0.75zM317.7 261.3h0.75v0.75h-0.75zM318.8 261.0h0.75v0.75h-0.75zM319.5 261.4h0.75v0.75h-0.75zM320.7 261.0h0.75v0.75h-0.75zM321.5 261.2h0.75v0.75h-0.75zM322.3 261.1h0.75v0.75h-0.75zM323.7 261.4h0.75v0.75h-0.75zM324.9 261.5h0.75v0.75h-0.75zM325.5 261.1h0.75v0.75h-0.75zM326.4 261.2h0.75v0.75h-0.75zM327.8 261.5h0.75v0.75h-0.75zM328.5 261.2h0.75v0.75h-0.75zM329.5 261.1h0.75v0.75h-0.75zM330.4 261.6h0.75v0.75h-0.75zM331.4 261.5h0.75v0.75h-0.75zM332.6 261.2h0.75v0.75h-0.75zM333.5 261.4h0.75v0.75h-0.75zM334.6 261.0h0.75v0.75h-0.75zM335.4 261.2h0.75v0.75h-0.75zM336.5 261.1h0.75v0.75h-0.75zM339.3 261.4h0.75v0.75h-0.75zM340.8 261.2h0.75v0.75h-0.75zM341.6 261.4h0.75v0.75h-0.75zM301.6 262.3h0.75v0.75h-0.75zM303.7 262.5h0.75v0.75h-0.75zM305.4 262.2h0.75v0.75h-0.75zM306.6 262.5h0.75v0.75h-0.75zM307.3 262.0h0.75v0.75h-0.75zM308.8 262.6h0.75v0.75h-0.75zM309.9 262.4h0.75v0.75h-0.75zM310.8 262.2h0.75v0.75h-0.75zM311.8 262.1h0.75v0.75h-0.75zM312.8 262.4h0.75v0.75h-0.75zM313.5 262.1h0.75v0.75h-0.75zM314.3 262.6h0.75v0.75h-0.75zM315.7 262.0h0.75v0.75h-0.75zM316.7 262.5h0.75v0.75h-0.75zM317.6 262.5h0.75v0.75h-0.75zM318.9 262.4h0.75v0.75h-0.75zM319.5 262.1h0.75v0.75h-0.75zM320.4 262.0h0.75v0.75h-0.75zM321.5 262.1h0.75v0.75h-0.75zM322.8 262.1h0.75v0.75h-0.75zM323.3 262.3h0.75v0.75h-0.75zM324.8 262.2h0.75v0.75h-0.75zM325.6 262.3h0.75v0.75h-0.75zM326.5 262.1h0.75v0.75h-0.75zM327.6 262.1h0.75v0.75h-0.75zM328.8 262.3h0.75v0.75h-0.75zM329.8 262.3h0.75v0.75h-0.75zM330.5 262.1h0.75v0.75h-0.75zM331.7 262.2h0.75v0.75h-0.75zM332.9 262.6h0.75v0.75h-0.75zM334.5 262.3h0.75v0.75h-0.75zM335.3 262.4h0.75v0.75h-0.75zM337.6 262.2h0.75v0.75h-0.75zM338.6 262.4h0.75v0.75h-0.75zM339.8 262.3h0.75v0.75h-0.75zM340.7 262.4h0.75v0.75h-0.75zM341.6 262.5h0.75v0.75h-0.75zM343.7 262.1h0.75v0.75h-0.75zM354.3 262.2h0.75v0.75h-0.75zM301.8 263.4h0.75v0.75h-0.75zM305.6 263.0h0.75v0.75h-0.75zM306.8 263.2h0.75v0.75h-0.75zM307.6 263.4h0.75v0.75h-0.75zM308.6 263.5h0.75v0.75h-0.75zM309.8 263.5h0.75v0.75h-0.75zM310.6 263.4h0.75v0.75h-0.75zM311.3 263.5h0.75v0.75h-0.75zM312.8 263.0h0.75v0.75h-0.75zM313.7 263.4h0.75v0.75h-0.75zM314.6 263.1h0.75v0.75h-0.75zM315.4 263.1h0.75v0.75h-0.75zM316.6 263.0h0.75v0.75h-0.75zM317.6 263.6h0.75v0.75h-0.75zM318.9 263.5h0.75v0.75h-0.75zM319.9 263.6h0.75v0.75h-0.75zM320.9 263.4h0.75v0.75h-0.75zM321.5 263.2h0.75v0.75h-0.75zM322.5 263.4h0.75v0.75h-0.75zM323.4 263.5h0.75v0.75h-0.75zM324.8 263.1h0.75v0.75h-0.75zM325.6 263.3h0.75v0.75h-0.75zM326.8 263.2h0.75v0.75h-0.75zM327.6 263.2h0.75v0.75h-0.75zM328.7 263.1h0.75v0.75h-0.75zM329.7 263.6h0.75v0.75h-0.75zM330.4 263.2h0.75v0.75h-0.75zM331.6 263.0h0.75v0.75h-0.75zM332.6 263.2h0.75v0.75h-0.75zM333.4 263.3h0.75v0.75h-0.75zM334.7 263.5h0.75v0.75h-0.75zM335.4 263.3h0.75v0.75h-0.75zM336.3 263.0h0.75v0.75h-0.75zM337.6 263.1h0.75v0.75h-0.75zM338.8 263.2h0.75v0.75h-0.75zM305.5 264.3h0.75v0.75h-0.75zM306.7 264.5h0.75v0.75h-0.75zM307.3 264.1h0.75v0.75h-0.75zM308.8 264.3h0.75v0.75h-0.75zM309.8 264.2h0.75v0.75h-0.75zM310.4 264.3h0.75v0.75h-0.75zM311.7 264.3h0.75v0.75h-0.75zM312.8 264.6h0.75v0.75h-0.75zM313.5 264.2h0.75v0.75h-0.75zM314.4 264.2h0.75v0.75h-0.75zM315.8 264.4h0.75v0.75h-0.75zM316.4 264.6h0.75v0.75h-0.75zM317.5 264.1h0.75v0.75h-0.75zM318.4 264.1h0.75v0.75h-0.75zM319.7 264.2h0.75v0.75h-0.75zM320.5 264.6h0.75v0.75h-0.75zM321.9 264.2h0.75v0.75h-0.75zM322.5 264.2h0.75v0.75h-0.75zM323.7 264.5h0.75v0.75h-0.75zM324.7 264.4h0.75v0.75h-0.75zM325.5 264.5h0.75v0.75h-0.75zM326.9 264.3h0.75v0.75h-0.75zM327.7 264.5h0.75v0.75h-0.75zM328.7 264.3h0.75v0.75h-0.75zM329.3 264.4h0.75v0.75h-0.75zM330.6 264.1h0.75v0.75h-0.75zM331.8 264.6h0.75v0.75h-0.75zM332.7 264.5h0.75v0.75h-0.75zM333.3 264.4h0.75v0.75h-0.75zM334.5 264.3h0.75v0.75h-0.75zM335.8 264.1h0.75v0.75h-0.75zM340.7 264.6h0.75v0.75h-0.75zM304.6 265.4h0.75v0.75h-0.75zM306.6 265.4h0.75v0.75h-0.75zM307.6 265.2h0.75v0.75h-0.75zM308.4 265.2h0.75v0.75h-0.75zM309.8 265.1h0.75v0.75h-0.75zM310.7 265.1h0.75v0.75h-0.75zM311.4 265.5h0.75v0.75h-0.75zM312.4 265.2h0.75v0.75h-0.75zM313.8 265.2h0.75v0.75h-0.75zM314.6 265.6h0.75v0.75h-0.75zM315.6 265.4h0.75v0.75h-0.75zM316.4 265.2h0.75v0.75h-0.75zM317.5 265.4h0.75v0.75h-0.75zM318.5 265.6h0.75v0.75h-0.75zM319.4 265.6h0.75v0.75h-0.75zM320.5 265.3h0.75v0.75h-0.75zM321.5 265.4h0.75v0.75h-0.75zM322.7 265.2h0.75v0.75h-0.75zM323.5 265.5h0.75v0.75h-0.75zM324.6 265.1h0.75v0.75h-0.75zM325.5 265.2h0.75v0.75h-0.75zM326.8 265.5h0.75v0.75h-0.75zM327.4 265.4h0.75v0.75h-0.75zM328.7 265.6h0.75v0.75h-0.75zM329.4 265.1h0.75v0.75h-0.75zM330.7 265.4h0.75v0.75h-0.75zM331.8 265.4h0.75v0.75h-0.75zM332.4 265.5h0.75v0.75h-0.75zM333.7 265.5h0.75v0.75h-0.75zM334.6 265.3h0.75v0.75h-0.75zM335.3 265.0h0.75v0.75h-0.75zM336.5 265.3h0.75v0.75h-0.75zM337.5 265.5h0.75v0.75h-0.75zM340.6 265.5h0.75v0.75h-0.75zM303.4 266.1h0.75v0.75h-0.75zM306.7 266.6h0.75v0.75h-0.75zM307.5 266.5h0.75v0.75h-0.75zM308.5 266.1h0.75v0.75h-0.75zM309.8 266.1h0.75v0.75h-0.75zM310.6 266.0h0.75v0.75h-0.75zM311.7 266.3h0.75v0.75h-0.75zM312.6 266.2h0.75v0.75h-0.75zM313.8 266.5h0.75v0.75h-0.75zM314.4 266.3h0.75v0.75h-0.75zM315.7 266.1h0.75v0.75h-0.75zM316.8 266.2h0.75v0.75h-0.75zM317.6 266.6h0.75v0.75h-0.75zM318.5 266.3h0.75v0.75h-0.75zM319.7 266.2h0.75v0.75h-0.75zM320.8 266.3h0.75v0.75h-0.75zM321.8 266.5h0.75v0.75h-0.75zM322.4 266.1h0.75v0.75h-0.75zM323.8 266.2h0.75v0.75h-0.75zM324.5 266.3h0.75v0.75h-0.75zM325.4 266.3h0.75v0.75h-0.75zM326.6 266.4h0.75v0.75h-0.75zM327.4 266.2h0.75v0.75h-0.75zM328.5 266.3h0.75v0.75h-0.75zM329.4 266.5h0.75v0.75h-0.75zM330.7 266.1h0.75v0.75h-0.75zM331.9 266.1h0.75v0.75h-0.75zM332.3 266.0h0.75v0.75h-0.75zM333.3 266.3h0.75v0.75h-0.75zM334.9 266.6h0.75v0.75h-0.75zM335.4 266.5h0.75v0.75h-0.75zM301.5 267.0h0.75v0.75h-0.75zM303.5 267.4h0.75v0.75h-0.75zM304.8 267.0h0.75v0.75h-0.75zM305.4 267.1h0.75v0.75h-0.75zM306.5 267.5h0.75v0.75h-0.75zM307.5 267.2h0.75v0.75h-0.75zM308.8 267.0h0.75v0.75h-0.75zM309.9 267.2h0.75v0.75h-0.75zM310.5 267.5h0.75v0.75h-0.75zM311.5 267.5h0.75v0.75h-0.75zM312.8 267.1h0.75v0.75h-0.75zM313.4 267.5h0.75v0.75h-0.75zM314.9 267.3h0.75v0.75h-0.75zM315.9 267.2h0.75v0.75h-0.75zM316.8 267.5h0.75v0.75h-0.75zM317.8 267.1h0.75v0.75h-0.75zM318.8 267.1h0.75v0.75h-0.75zM319.5 267.0h0.75v0.75h-0.75zM320.4 267.1h0.75v0.75h-0.75zM321.7 267.0h0.75v0.75h-0.75zM322.7 267.0h0.75v0.75h-0.75zM323.6 267.2h0.75v0.75h-0.75zM324.4 267.2h0.75v0.75h-0.75zM325.7 267.0h0.75v0.75h-0.75zM326.5 267.2h0.75v0.75h-0.75zM327.7 267.0h0.75v0.75h-0.75zM328.9 267.6h0.75v0.75h-0.75zM330.3 267.1h0.75v0.75h-0.75zM331.5 267.0h0.75v0.75h-0.75zM333.7 267.0h0.75v0.75h-0.75zM339.4 267.3h0.75v0.75h-0.75zM342.9 267.5h0.75v0.75h-0.75zM301.8 268.1h0.75v0.75h-0.75zM303.6 268.0h0.75v0.75h-0.75zM306.3 268.3h0.75v0.75h-0.75zM307.7 268.1h0.75v0.75h-0.75zM308.7 268.2h0.75v0.75h-0.75zM309.4 268.5h0.75v0.75h-0.75zM310.6 268.2h0.75v0.75h-0.75zM311.5 268.1h0.75v0.75h-0.75zM312.7 268.2h0.75v0.75h-0.75zM313.3 268.3h0.75v0.75h-0.75zM314.6 268.5h0.75v0.75h-0.75zM315.5 268.5h0.75v0.75h-0.75zM316.6 268.4h0.75v0.75h-0.75zM317.6 268.1h0.75v0.75h-0.75zM318.8 268.5h0.75v0.75h-0.75zM319.5 268.4h0.75v0.75h-0.75zM320.4 268.1h0.75v0.75h-0.75zM321.7 268.5h0.75v0.75h-0.75zM322.8 268.3h0.75v0.75h-0.75zM323.5 268.3h0.75v0.75h-0.75zM324.5 268.1h0.75v0.75h-0.75zM325.7 268.4h0.75v0.75h-0.75zM326.6 268.1h0.75v0.75h-0.75zM327.6 268.4h0.75v0.75h-0.75zM328.8 268.6h0.75v0.75h-0.75zM329.6 268.5h0.75v0.75h-0.75zM298.9 269.5h0.75v0.75h-0.75zM303.5 269.3h0.75v0.75h-0.75zM304.4 269.5h0.75v0.75h-0.75zM305.8 269.2h0.75v0.75h-0.75zM306.7 269.1h0.75v0.75h-0.75zM308.8 269.2h0.75v0.75h-0.75zM309.7 269.5h0.75v0.75h-0.75zM310.6 269.3h0.75v0.75h-0.75zM311.4 269.4h0.75v0.75h-0.75zM312.6 269.0h0.75v0.75h-0.75zM313.6 269.3h0.75v0.75h-0.75zM314.6 269.4h0.75v0.75h-0.75zM315.7 269.1h0.75v0.75h-0.75zM316.7 269.2h0.75v0.75h-0.75zM317.8 269.4h0.75v0.75h-0.75zM318.8 269.2h0.75v0.75h-0.75zM319.5 269.4h0.75v0.75h-0.75zM320.5 269.6h0.75v0.75h-0.75zM321.5 269.2h0.75v0.75h-0.75zM322.8 269.4h0.75v0.75h-0.75zM323.5 269.6h0.75v0.75h-0.75zM324.5 269.0h0.75v0.75h-0.75zM325.3 269.5h0.75v0.75h-0.75zM326.3 269.0h0.75v0.75h-0.75zM327.5 269.2h0.75v0.75h-0.75zM329.6 269.1h0.75v0.75h-0.75zM330.5 269.2h0.75v0.75h-0.75zM334.4 269.2h0.75v0.75h-0.75zM301.5 270.4h0.75v0.75h-0.75zM303.5 270.1h0.75v0.75h-0.75zM306.5 270.5h0.75v0.75h-0.75zM307.5 270.4h0.75v0.75h-0.75zM308.3 270.2h0.75v0.75h-0.75zM309.8 270.5h0.75v0.75h-0.75zM310.8 270.5h0.75v0.75h-0.75zM311.6 270.5h0.75v0.75h-0.75zM312.6 270.6h0.75v0.75h-0.75zM313.5 270.6h0.75v0.75h-0.75zM314.4 270.2h0.75v0.75h-0.75zM315.4 270.1h0.75v0.75h-0.75zM316.4 270.0h0.75v0.75h-0.75zM317.9 270.2h0.75v0.75h-0.75zM318.3 270.4h0.75v0.75h-0.75zM319.7 270.2h0.75v0.75h-0.75zM320.7 270.2h0.75v0.75h-0.75zM321.6 270.2h0.75v0.75h-0.75zM322.5 270.4h0.75v0.75h-0.75zM323.6 270.5h0.75v0.75h-0.75zM324.4 270.6h0.75v0.75h-0.75zM328.7 270.2h0.75v0.75h-0.75zM304.4 271.4h0.75v0.75h-0.75zM306.5 271.4h0.75v0.75h-0.75zM308.7 271.2h0.75v0.75h-0.75zM309.8 271.2h0.75v0.75h-0.75zM310.6 271.2h0.75v0.75h-0.75zM311.5 271.4h0.75v0.75h-0.75zM312.4 271.6h0.75v0.75h-0.75zM313.8 271.3h0.75v0.75h-0.75zM314.5 271.3h0.75v0.75h-0.75zM315.9 271.1h0.75v0.75h-0.75zM316.7 271.0h0.75v0.75h-0.75zM317.7 271.0h0.75v0.75h-0.75zM318.5 271.1h0.75v0.75h-0.75zM319.5 271.1h0.75v0.75h-0.75zM320.8 271.3h0.75v0.75h-0.75zM321.7 271.4h0.75v0.75h-0.75zM323.7 271.2h0.75v0.75h-0.75zM302.5 272.4h0.75v0.75h-0.75zM305.6 272.1h0.75v0.75h-0.75zM307.5 272.4h0.75v0.75h-0.75zM308.7 272.1h0.75v0.75h-0.75zM309.5 272.2h0.75v0.75h-0.75zM311.6 272.4h0.75v0.75h-0.75zM312.4 272.5h0.75v0.75h-0.75zM313.5 272.1h0.75v0.75h-0.75zM314.8 272.1h0.75v0.75h-0.75zM315.7 272.4h0.75v0.75h-0.75zM316.4 272.5h0.75v0.75h-0.75zM317.5 272.3h0.75v0.75h-0.75zM319.5 272.6h0.75v0.75h-0.75zM307.4 273.3h0.75v0.75h-0.75zM309.5 273.1h0.75v0.75h-0.75zM313.5 273.1h0.75v0.75h-0.75zM314.7 273.4h0.75v0.75h-0.75zM316.6 273.4h0.75v0.75h-0.75zM317.8 273.3h0.75v0.75h-0.75zM318.6 273.2h0.75v0.75h-0.75zM302.6 274.6h0.75v0.75h-0.75zM307.8 274.4h0.75v0.75h-0.75zM308.5 274.5h0.75v0.75h-0.75zM310.4 274.6h0.75v0.75h-0.75zM312.4 274.1h0.75v0.75h-0.75zM314.4 274.3h0.75v0.75h-0.75z" fill="#3446e4" fill-opacity="0.55"/>
<g filter="url(#bl)">
<path d="M308.8 253.5h2.0v0.5h-2.0zM308.3 254.0h3.5v0.5h-3.5zM307.8 254.5h4.5v0.5h-4.5zM307.8 255.0h1.5v0.5h-1.5zM310.8 255.0h1.5v0.5h-1.5zM307.3 255.5h1.5v0.5h-1.5zM311.3 255.5h1.5v0.5h-1.5zM307.3 256.0h1.5v0.5h-1.5zM311.8 256.0h1.5v0.5h-1.5zM307.3 256.5h1.0v0.5h-1.0zM312.3 256.5h1.0v0.5h-1.0zM307.3 257.0h1.0v0.5h-1.0zM312.3 257.0h1.0v0.5h-1.0zM307.3 257.5h1.0v0.5h-1.0zM312.3 257.5h1.0v0.5h-1.0zM307.3 258.0h1.5v0.5h-1.5zM312.3 258.0h1.5v0.5h-1.5zM307.8 258.5h1.0v0.5h-1.0zM312.8 258.5h1.5v0.5h-1.5zM306.8 259.0h1.0v0.5h-1.0zM313.8 259.0h1.5v0.5h-1.5zM305.8 259.5h1.0v0.5h-1.0zM314.8 259.5h0.5v0.5h-0.5zM305.3 260.0h0.5v0.5h-0.5zM315.3 260.0h0.5v0.5h-0.5zM304.3 260.5h1.0v0.5h-1.0zM315.3 260.5h1.0v0.5h-1.0zM328.8 260.5h4.5v0.5h-4.5zM303.8 261.0h0.5v0.5h-0.5zM315.8 261.0h0.5v0.5h-0.5zM327.3 261.0h1.0v0.5h-1.0zM333.3 261.0h1.0v0.5h-1.0zM303.3 261.5h0.5v0.5h-0.5zM315.8 261.5h1.0v0.5h-1.0zM326.3 261.5h1.0v0.5h-1.0zM333.8 261.5h1.0v0.5h-1.0zM302.8 262.0h0.5v0.5h-0.5zM316.3 262.0h0.5v0.5h-0.5zM325.3 262.0h1.0v0.5h-1.0zM334.3 262.0h0.5v0.5h-0.5zM302.3 262.5h0.5v0.5h-0.5zM316.3 262.5h0.5v0.5h-0.5zM320.8 262.5h2.5v0.5h-2.5zM324.8 262.5h1.0v0.5h-1.0zM334.3 262.5h0.5v0.5h-0.5zM301.8 263.0h0.5v0.5h-0.5zM316.3 263.0h0.5v0.5h-0.5zM318.3 263.0h1.5v0.5h-1.5zM323.8 263.0h1.0v0.5h-1.0zM333.8 263.0h1.0v0.5h-1.0zM301.3 263.5h0.5v0.5h-0.5zM316.3 263.5h1.5v0.5h-1.5zM333.8 263.5h0.5v0.5h-0.5zM300.8 264.0h0.5v0.5h-0.5zM316.3 264.0h0.5v0.5h-0.5zM333.3 264.0h1.0v0.5h-1.0zM300.3 264.5h0.5v0.5h-0.5zM332.8 264.5h1.0v0.5h-1.0zM299.8 265.0h0.5v0.5h-0.5zM332.3 265.0h1.0v0.5h-1.0zM299.3 265.5h0.5v0.5h-0.5zM331.8 265.5h0.5v0.5h-0.5zM299.3 266.0h0.5v0.5h-0.5zM330.8 266.0h1.0v0.5h-1.0zM298.8 266.5h0.5v0.5h-0.5zM329.3 266.5h1.5v0.5h-1.5zM298.3 267.0h0.5v0.5h-0.5zM325.8 267.0h3.5v0.5h-3.5zM298.3 267.5h0.5v0.5h-0.5zM325.3 267.5h0.5v0.5h-0.5zM297.8 268.0h0.5v0.5h-0.5zM324.8 268.0h0.5v0.5h-0.5zM324.3 268.5h0.5v0.5h-0.5zM297.3 269.0h0.5v0.5h-0.5zM323.8 269.0h0.5v0.5h-0.5zM323.3 269.5h0.5v0.5h-0.5zM296.8 270.0h0.5v0.5h-0.5zM322.3 270.0h0.5v0.5h-0.5zM296.8 270.5h0.5v0.5h-0.5zM321.3 270.5h1.0v0.5h-1.0zM296.3 271.0h0.5v0.5h-0.5zM320.3 271.0h1.0v0.5h-1.0zM296.3 271.5h0.5v0.5h-0.5zM318.3 271.5h1.5v0.5h-1.5zM314.3 272.0h3.0v0.5h-3.0zM314.3 272.5h0.5v0.5h-0.5zM313.8 273.0h0.5v0.5h-0.5zM313.8 273.5h0.5v0.5h-0.5zM313.3 274.0h0.5v0.5h-0.5zM312.8 275.0h0.5v0.5h-0.5zM312.3 275.5h0.5v0.5h-0.5zM311.8 276.0h0.5v0.5h-0.5zM311.8 276.5h0.5v0.5h-0.5zM311.3 277.0h0.5v0.5h-0.5zM310.8 277.5h0.5v0.5h-0.5zM310.3 278.0h0.5v0.5h-0.5z" fill="#3444ee"/>
<path d="M309.3 255.0h1.5v0.5h-1.5zM308.8 255.5h2.5v0.5h-2.5zM308.8 256.0h3.0v0.5h-3.0zM308.3 256.5h4.0v0.5h-4.0zM308.3 257.0h4.0v0.5h-4.0zM308.3 257.5h4.0v0.5h-4.0zM308.8 258.0h3.5v0.5h-3.5zM308.8 258.5h4.0v0.5h-4.0zM307.8 259.0h6.0v0.5h-6.0zM306.8 259.5h1.5v0.5h-1.5zM313.3 259.5h1.5v0.5h-1.5zM305.8 260.0h1.5v0.5h-1.5zM313.8 260.0h1.5v0.5h-1.5zM305.3 260.5h1.0v0.5h-1.0zM314.3 260.5h1.0v0.5h-1.0zM304.3 261.0h1.0v0.5h-1.0zM314.8 261.0h1.0v0.5h-1.0zM328.3 261.0h5.0v0.5h-5.0zM303.8 261.5h1.0v0.5h-1.0zM315.3 261.5h0.5v0.5h-0.5zM327.3 261.5h2.0v0.5h-2.0zM331.8 261.5h2.0v0.5h-2.0zM303.3 262.0h0.5v0.5h-0.5zM315.3 262.0h1.0v0.5h-1.0zM326.3 262.0h1.5v0.5h-1.5zM332.8 262.0h1.5v0.5h-1.5zM302.8 262.5h0.5v0.5h-0.5zM315.3 262.5h1.0v0.5h-1.0zM325.8 262.5h1.0v0.5h-1.0zM332.8 262.5h1.5v0.5h-1.5zM302.3 263.0h0.5v0.5h-0.5zM315.8 263.0h0.5v0.5h-0.5zM319.8 263.0h4.0v0.5h-4.0zM324.8 263.0h1.5v0.5h-1.5zM332.8 263.0h1.0v0.5h-1.0zM301.8 263.5h0.5v0.5h-0.5zM315.8 263.5h0.5v0.5h-0.5zM317.8 263.5h2.0v0.5h-2.0zM323.3 263.5h2.5v0.5h-2.5zM332.8 263.5h1.0v0.5h-1.0zM301.3 264.0h0.5v0.5h-0.5zM315.8 264.0h0.5v0.5h-0.5zM316.8 264.0h1.0v0.5h-1.0zM324.3 264.0h1.0v0.5h-1.0zM332.3 264.0h1.0v0.5h-1.0zM300.8 264.5h0.5v0.5h-0.5zM315.8 264.5h1.0v0.5h-1.0zM324.8 264.5h0.5v0.5h-0.5zM331.8 264.5h1.0v0.5h-1.0zM300.3 265.0h0.5v0.5h-0.5zM331.3 265.0h1.0v0.5h-1.0zM299.8 265.5h1.0v0.5h-1.0zM330.3 265.5h1.5v0.5h-1.5zM299.8 266.0h0.5v0.5h-0.5zM325.3 266.0h1.0v0.5h-1.0zM328.8 266.0h2.0v0.5h-2.0zM299.3 266.5h0.5v0.5h-0.5zM325.3 266.5h4.0v0.5h-4.0zM298.8 267.0h0.5v0.5h-0.5zM324.8 267.0h1.0v0.5h-1.0zM298.8 267.5h0.5v0.5h-0.5zM324.8 267.5h0.5v0.5h-0.5zM298.3 268.0h0.5v0.5h-0.5zM324.3 268.0h0.5v0.5h-0.5zM297.8 268.5h1.0v0.5h-1.0zM323.8 268.5h0.5v0.5h-0.5zM297.8 269.0h0.5v0.5h-0.5zM322.8 269.0h1.0v0.5h-1.0zM297.3 269.5h1.0v0.5h-1.0zM322.3 269.5h1.0v0.5h-1.0zM297.3 270.0h0.5v0.5h-0.5zM321.3 270.0h1.0v0.5h-1.0zM297.3 270.5h0.5v0.5h-0.5zM320.3 270.5h1.0v0.5h-1.0zM296.8 271.0h0.5v0.5h-0.5zM314.3 271.0h0.5v0.5h-0.5zM318.3 271.0h2.0v0.5h-2.0zM296.8 271.5h0.5v0.5h-0.5zM314.3 271.5h4.0v0.5h-4.0zM296.3 272.0h0.5v0.5h-0.5zM313.8 272.0h0.5v0.5h-0.5zM296.3 272.5h0.5v0.5h-0.5zM313.8 272.5h0.5v0.5h-0.5zM296.3 273.0h0.5v0.5h-0.5zM313.3 273.0h0.5v0.5h-0.5zM296.3 273.5h0.5v0.5h-0.5zM313.3 273.5h0.5v0.5h-0.5zM312.8 274.0h0.5v0.5h-0.5zM312.3 274.5h1.0v0.5h-1.0zM312.3 275.0h0.5v0.5h-0.5zM311.8 275.5h0.5v0.5h-0.5zM311.3 276.0h0.5v0.5h-0.5zM310.8 276.5h1.0v0.5h-1.0zM310.8 277.0h0.5v0.5h-0.5zM310.3 277.5h0.5v0.5h-0.5zM309.8 278.0h0.5v0.5h-0.5z" fill="#2aa8f2"/>
<path d="M308.3 259.5h5.0v0.5h-5.0zM307.3 260.0h1.5v0.5h-1.5zM312.3 260.0h1.5v0.5h-1.5zM306.3 260.5h1.0v0.5h-1.0zM313.3 260.5h1.0v0.5h-1.0zM305.3 261.0h1.0v0.5h-1.0zM313.8 261.0h1.0v0.5h-1.0zM304.8 261.5h1.0v0.5h-1.0zM314.3 261.5h1.0v0.5h-1.0zM329.3 261.5h2.5v0.5h-2.5zM303.8 262.0h1.0v0.5h-1.0zM314.3 262.0h1.0v0.5h-1.0zM327.8 262.0h5.0v0.5h-5.0zM303.3 262.5h1.0v0.5h-1.0zM314.8 262.5h0.5v0.5h-0.5zM326.8 262.5h6.0v0.5h-6.0zM302.8 263.0h1.0v0.5h-1.0zM314.8 263.0h1.0v0.5h-1.0zM326.3 263.0h6.5v0.5h-6.5zM302.3 263.5h0.5v0.5h-0.5zM314.8 263.5h1.0v0.5h-1.0zM319.8 263.5h3.5v0.5h-3.5zM325.8 263.5h7.0v0.5h-7.0zM301.8 264.0h0.5v0.5h-0.5zM315.3 264.0h0.5v0.5h-0.5zM317.8 264.0h2.0v0.5h-2.0zM322.3 264.0h2.0v0.5h-2.0zM325.3 264.0h7.0v0.5h-7.0zM301.3 264.5h1.0v0.5h-1.0zM315.3 264.5h0.5v0.5h-0.5zM316.8 264.5h1.0v0.5h-1.0zM323.8 264.5h1.0v0.5h-1.0zM325.3 264.5h6.5v0.5h-6.5zM300.8 265.0h1.0v0.5h-1.0zM315.3 265.0h1.5v0.5h-1.5zM324.3 265.0h7.0v0.5h-7.0zM300.8 265.5h0.5v0.5h-0.5zM315.3 265.5h0.5v0.5h-0.5zM324.3 265.5h6.0v0.5h-6.0zM300.3 266.0h0.5v0.5h-0.5zM324.3 266.0h1.0v0.5h-1.0zM326.3 266.0h2.5v0.5h-2.5zM299.8 266.5h0.5v0.5h-0.5zM324.3 266.5h1.0v0.5h-1.0zM299.3 267.0h1.0v0.5h-1.0zM323.8 267.0h1.0v0.5h-1.0zM299.3 267.5h0.5v0.5h-0.5zM323.8 267.5h1.0v0.5h-1.0zM298.8 268.0h0.5v0.5h-0.5zM323.3 268.0h1.0v0.5h-1.0zM298.8 268.5h0.5v0.5h-0.5zM322.8 268.5h1.0v0.5h-1.0zM298.3 269.0h0.5v0.5h-0.5zM321.8 269.0h1.0v0.5h-1.0zM298.3 269.5h0.5v0.5h-0.5zM321.3 269.5h1.0v0.5h-1.0zM297.8 270.0h0.5v0.5h-0.5zM319.8 270.0h1.5v0.5h-1.5zM297.8 270.5h0.5v0.5h-0.5zM314.3 270.5h1.5v0.5h-1.5zM318.3 270.5h2.0v0.5h-2.0zM297.3 271.0h0.5v0.5h-0.5zM313.8 271.0h0.5v0.5h-0.5zM314.8 271.0h3.5v0.5h-3.5zM297.3 271.5h0.5v0.5h-0.5zM313.8 271.5h0.5v0.5h-0.5zM296.8 272.0h1.0v0.5h-1.0zM313.3 272.0h0.5v0.5h-0.5zM296.8 272.5h0.5v0.5h-0.5zM313.3 272.5h0.5v0.5h-0.5zM296.8 273.0h0.5v0.5h-0.5zM312.8 273.0h0.5v0.5h-0.5zM296.8 273.5h0.5v0.5h-0.5zM312.8 273.5h0.5v0.5h-0.5zM296.3 274.0h1.0v0.5h-1.0zM312.3 274.0h0.5v0.5h-0.5zM296.3 274.5h0.5v0.5h-0.5zM311.8 274.5h0.5v0.5h-0.5zM296.3 275.0h0.5v0.5h-0.5zM311.8 275.0h0.5v0.5h-0.5zM296.3 275.5h0.5v0.5h-0.5zM311.3 275.5h0.5v0.5h-0.5zM296.3 276.0h0.5v0.5h-0.5zM310.8 276.0h0.5v0.5h-0.5zM296.3 276.5h0.5v0.5h-0.5zM310.3 276.5h0.5v0.5h-0.5zM296.3 277.0h0.5v0.5h-0.5zM309.8 277.0h1.0v0.5h-1.0zM296.3 277.5h0.5v0.5h-0.5zM309.3 277.5h1.0v0.5h-1.0zM296.3 278.0h0.5v0.5h-0.5zM308.8 278.0h1.0v0.5h-1.0z" fill="#30cc70"/>
<path d="M308.8 260.0h3.5v0.5h-3.5zM307.3 260.5h6.0v0.5h-6.0zM306.3 261.0h2.5v0.5h-2.5zM311.3 261.0h2.5v0.5h-2.5zM305.8 261.5h1.5v0.5h-1.5zM312.3 261.5h2.0v0.5h-2.0zM304.8 262.0h1.5v0.5h-1.5zM312.8 262.0h1.5v0.5h-1.5zM304.3 262.5h1.0v0.5h-1.0zM313.3 262.5h1.5v0.5h-1.5zM303.8 263.0h1.0v0.5h-1.0zM313.8 263.0h1.0v0.5h-1.0zM302.8 263.5h1.5v0.5h-1.5zM313.8 263.5h1.0v0.5h-1.0zM302.3 264.0h1.5v0.5h-1.5zM313.8 264.0h1.5v0.5h-1.5zM319.8 264.0h2.5v0.5h-2.5zM302.3 264.5h1.0v0.5h-1.0zM314.3 264.5h1.0v0.5h-1.0zM317.8 264.5h6.0v0.5h-6.0zM301.8 265.0h1.0v0.5h-1.0zM314.3 265.0h1.0v0.5h-1.0zM316.8 265.0h7.5v0.5h-7.5zM301.3 265.5h1.0v0.5h-1.0zM314.3 265.5h1.0v0.5h-1.0zM315.8 265.5h3.0v0.5h-3.0zM321.3 265.5h3.0v0.5h-3.0zM300.8 266.0h1.0v0.5h-1.0zM314.3 266.0h3.5v0.5h-3.5zM322.3 266.0h2.0v0.5h-2.0zM300.3 266.5h1.0v0.5h-1.0zM314.3 266.5h2.5v0.5h-2.5zM322.3 266.5h2.0v0.5h-2.0zM300.3 267.0h0.5v0.5h-0.5zM314.3 267.0h2.0v0.5h-2.0zM321.8 267.0h2.0v0.5h-2.0zM299.8 267.5h1.0v0.5h-1.0zM314.3 267.5h1.5v0.5h-1.5zM321.8 267.5h2.0v0.5h-2.0zM299.3 268.0h1.0v0.5h-1.0zM313.8 268.0h2.0v0.5h-2.0zM321.3 268.0h2.0v0.5h-2.0zM299.3 268.5h0.5v0.5h-0.5zM313.8 268.5h2.0v0.5h-2.0zM320.3 268.5h2.5v0.5h-2.5zM298.8 269.0h1.0v0.5h-1.0zM313.8 269.0h2.5v0.5h-2.5zM319.3 269.0h2.5v0.5h-2.5zM298.8 269.5h0.5v0.5h-0.5zM313.8 269.5h7.5v0.5h-7.5zM298.3 270.0h1.0v0.5h-1.0zM313.3 270.0h6.5v0.5h-6.5zM298.3 270.5h0.5v0.5h-0.5zM313.3 270.5h1.0v0.5h-1.0zM315.8 270.5h2.5v0.5h-2.5zM297.8 271.0h1.0v0.5h-1.0zM312.8 271.0h1.0v0.5h-1.0zM297.8 271.5h1.0v0.5h-1.0zM312.8 271.5h1.0v0.5h-1.0zM297.8 272.0h0.5v0.5h-0.5zM312.8 272.0h0.5v0.5h-0.5zM297.3 272.5h1.0v0.5h-1.0zM312.3 272.5h1.0v0.5h-1.0zM297.3 273.0h1.0v0.5h-1.0zM311.8 273.0h1.0v0.5h-1.0zM297.3 273.5h0.5v0.5h-0.5zM311.8 273.5h1.0v0.5h-1.0zM297.3 274.0h0.5v0.5h-0.5zM311.3 274.0h1.0v0.5h-1.0zM296.8 274.5h1.0v0.5h-1.0zM311.3 274.5h0.5v0.5h-0.5zM296.8 275.0h1.0v0.5h-1.0zM310.8 275.0h1.0v0.5h-1.0zM296.8 275.5h1.0v0.5h-1.0zM310.3 275.5h1.0v0.5h-1.0zM296.8 276.0h1.0v0.5h-1.0zM309.8 276.0h1.0v0.5h-1.0zM296.8 276.5h1.0v0.5h-1.0zM309.3 276.5h1.0v0.5h-1.0zM296.8 277.0h1.0v0.5h-1.0zM308.8 277.0h1.0v0.5h-1.0zM296.8 277.5h1.0v0.5h-1.0zM308.3 277.5h1.0v0.5h-1.0zM296.8 278.0h1.5v0.5h-1.5zM307.8 278.0h1.0v0.5h-1.0z" fill="#a8e030"/>
<path d="M308.8 261.0h2.5v0.5h-2.5zM307.3 261.5h5.0v0.5h-5.0zM306.3 262.0h2.5v0.5h-2.5zM310.3 262.0h2.5v0.5h-2.5zM305.3 262.5h2.0v0.5h-2.0zM311.8 262.5h1.5v0.5h-1.5zM304.8 263.0h1.5v0.5h-1.5zM312.3 263.0h1.5v0.5h-1.5zM304.3 263.5h1.0v0.5h-1.0zM312.8 263.5h1.0v0.5h-1.0zM303.8 264.0h1.0v0.5h-1.0zM312.8 264.0h1.0v0.5h-1.0zM303.3 264.5h1.0v0.5h-1.0zM313.3 264.5h1.0v0.5h-1.0zM302.8 265.0h1.0v0.5h-1.0zM313.3 265.0h1.0v0.5h-1.0zM302.3 265.5h1.0v0.5h-1.0zM313.3 265.5h1.0v0.5h-1.0zM318.8 265.5h2.5v0.5h-2.5zM301.8 266.0h1.0v0.5h-1.0zM313.3 266.0h1.0v0.5h-1.0zM317.8 266.0h4.5v0.5h-4.5zM301.3 266.5h1.0v0.5h-1.0zM313.3 266.5h1.0v0.5h-1.0zM316.8 266.5h5.5v0.5h-5.5zM300.8 267.0h1.0v0.5h-1.0zM313.3 267.0h1.0v0.5h-1.0zM316.3 267.0h5.5v0.5h-5.5zM300.8 267.5h0.5v0.5h-0.5zM313.3 267.5h1.0v0.5h-1.0zM315.8 267.5h6.0v0.5h-6.0zM300.3 268.0h1.0v0.5h-1.0zM313.3 268.0h0.5v0.5h-0.5zM315.8 268.0h5.5v0.5h-5.5zM299.8 268.5h1.0v0.5h-1.0zM313.3 268.5h0.5v0.5h-0.5zM315.8 268.5h4.5v0.5h-4.5zM299.8 269.0h0.5v0.5h-0.5zM312.8 269.0h1.0v0.5h-1.0zM316.3 269.0h3.0v0.5h-3.0zM299.3 269.5h1.0v0.5h-1.0zM312.8 269.5h1.0v0.5h-1.0zM299.3 270.0h0.5v0.5h-0.5zM312.8 270.0h0.5v0.5h-0.5zM298.8 270.5h1.0v0.5h-1.0zM312.3 270.5h1.0v0.5h-1.0zM298.8 271.0h0.5v0.5h-0.5zM312.3 271.0h0.5v0.5h-0.5zM298.8 271.5h0.5v0.5h-0.5zM311.8 271.5h1.0v0.5h-1.0zM298.3 272.0h1.0v0.5h-1.0zM311.8 272.0h1.0v0.5h-1.0zM298.3 272.5h0.5v0.5h-0.5zM311.3 272.5h1.0v0.5h-1.0zM298.3 273.0h0.5v0.5h-0.5zM311.3 273.0h0.5v0.5h-0.5zM297.8 273.5h1.0v0.5h-1.0zM310.8 273.5h1.0v0.5h-1.0zM297.8 274.0h1.0v0.5h-1.0zM310.8 274.0h0.5v0.5h-0.5zM297.8 274.5h1.0v0.5h-1.0zM310.3 274.5h1.0v0.5h-1.0zM297.8 275.0h1.0v0.5h-1.0zM309.8 275.0h1.0v0.5h-1.0zM297.8 275.5h1.0v0.5h-1.0zM309.3 275.5h1.0v0.5h-1.0zM297.8 276.0h1.0v0.5h-1.0zM308.8 276.0h1.0v0.5h-1.0zM297.8 276.5h1.0v0.5h-1.0zM308.3 276.5h1.0v0.5h-1.0zM297.8 277.0h1.0v0.5h-1.0zM307.8 277.0h1.0v0.5h-1.0zM297.8 277.5h1.5v0.5h-1.5zM307.3 277.5h1.0v0.5h-1.0zM298.3 278.0h1.0v0.5h-1.0zM306.8 278.0h1.0v0.5h-1.0z" fill="#f6ea12"/>
<path d="M308.8 262.0h1.5v0.5h-1.5zM307.3 262.5h4.5v0.5h-4.5zM306.3 263.0h6.0v0.5h-6.0zM305.3 263.5h2.0v0.5h-2.0zM310.8 263.5h2.0v0.5h-2.0zM304.8 264.0h1.5v0.5h-1.5zM311.3 264.0h1.5v0.5h-1.5zM304.3 264.5h1.0v0.5h-1.0zM311.8 264.5h1.5v0.5h-1.5zM303.8 265.0h1.0v0.5h-1.0zM312.3 265.0h1.0v0.5h-1.0zM303.3 265.5h1.0v0.5h-1.0zM312.3 265.5h1.0v0.5h-1.0zM302.8 266.0h1.0v0.5h-1.0zM312.3 266.0h1.0v0.5h-1.0zM302.3 266.5h1.0v0.5h-1.0zM312.3 266.5h1.0v0.5h-1.0zM301.8 267.0h1.0v0.5h-1.0zM312.3 267.0h1.0v0.5h-1.0zM301.3 267.5h1.0v0.5h-1.0zM312.3 267.5h1.0v0.5h-1.0zM301.3 268.0h0.5v0.5h-0.5zM312.3 268.0h1.0v0.5h-1.0zM300.8 268.5h1.0v0.5h-1.0zM312.3 268.5h1.0v0.5h-1.0zM300.3 269.0h1.0v0.5h-1.0zM312.3 269.0h0.5v0.5h-0.5zM300.3 269.5h0.5v0.5h-0.5zM311.8 269.5h1.0v0.5h-1.0zM299.8 270.0h1.0v0.5h-1.0zM311.8 270.0h1.0v0.5h-1.0zM299.8 270.5h0.5v0.5h-0.5zM311.8 270.5h0.5v0.5h-0.5zM299.3 271.0h1.0v0.5h-1.0zM311.3 271.0h1.0v0.5h-1.0zM299.3 271.5h1.0v0.5h-1.0zM311.3 271.5h0.5v0.5h-0.5zM299.3 272.0h0.5v0.5h-0.5zM310.8 272.0h1.0v0.5h-1.0zM298.8 272.5h1.0v0.5h-1.0zM310.8 272.5h0.5v0.5h-0.5zM298.8 273.0h1.0v0.5h-1.0zM310.3 273.0h1.0v0.5h-1.0zM298.8 273.5h1.0v0.5h-1.0zM310.3 273.5h0.5v0.5h-0.5zM298.8 274.0h1.0v0.5h-1.0zM309.8 274.0h1.0v0.5h-1.0zM298.8 274.5h1.0v0.5h-1.0zM309.3 274.5h1.0v0.5h-1.0zM298.8 275.0h1.0v0.5h-1.0zM308.8 275.0h1.0v0.5h-1.0zM298.8 275.5h1.0v0.5h-1.0zM308.3 275.5h1.0v0.5h-1.0zM298.8 276.0h1.0v0.5h-1.0zM307.8 276.0h1.0v0.5h-1.0zM298.8 276.5h1.0v0.5h-1.0zM307.3 276.5h1.0v0.5h-1.0zM298.8 277.0h1.5v0.5h-1.5zM306.8 277.0h1.0v0.5h-1.0zM299.3 277.5h1.0v0.5h-1.0zM305.8 277.5h1.5v0.5h-1.5zM299.3 278.0h2.0v0.5h-2.0zM304.8 278.0h2.0v0.5h-2.0z" fill="#ffa800"/>
<path d="M307.3 263.5h3.5v0.5h-3.5zM306.3 264.0h5.0v0.5h-5.0zM305.3 264.5h2.0v0.5h-2.0zM310.3 264.5h1.5v0.5h-1.5zM304.8 265.0h1.5v0.5h-1.5zM310.8 265.0h1.5v0.5h-1.5zM304.3 265.5h1.0v0.5h-1.0zM311.3 265.5h1.0v0.5h-1.0zM303.8 266.0h1.0v0.5h-1.0zM311.3 266.0h1.0v0.5h-1.0zM303.3 266.5h1.0v0.5h-1.0zM311.3 266.5h1.0v0.5h-1.0zM302.8 267.0h1.0v0.5h-1.0zM311.3 267.0h1.0v0.5h-1.0zM302.3 267.5h1.0v0.5h-1.0zM311.3 267.5h1.0v0.5h-1.0zM301.8 268.0h1.0v0.5h-1.0zM311.3 268.0h1.0v0.5h-1.0zM301.8 268.5h0.5v0.5h-0.5zM311.3 268.5h1.0v0.5h-1.0zM301.3 269.0h1.0v0.5h-1.0zM311.3 269.0h1.0v0.5h-1.0zM300.8 269.5h1.0v0.5h-1.0zM311.3 269.5h0.5v0.5h-0.5zM300.8 270.0h1.0v0.5h-1.0zM310.8 270.0h1.0v0.5h-1.0zM300.3 270.5h1.0v0.5h-1.0zM310.8 270.5h1.0v0.5h-1.0zM300.3 271.0h1.0v0.5h-1.0zM310.8 271.0h0.5v0.5h-0.5zM300.3 271.5h0.5v0.5h-0.5zM310.3 271.5h1.0v0.5h-1.0zM299.8 272.0h1.0v0.5h-1.0zM310.3 272.0h0.5v0.5h-0.5zM299.8 272.5h1.0v0.5h-1.0zM309.8 272.5h1.0v0.5h-1.0zM299.8 273.0h1.0v0.5h-1.0zM309.3 273.0h1.0v0.5h-1.0zM299.8 273.5h0.5v0.5h-0.5zM309.3 273.5h1.0v0.5h-1.0zM299.8 274.0h0.5v0.5h-0.5zM308.8 274.0h1.0v0.5h-1.0zM299.8 274.5h0.5v0.5h-0.5zM308.3 274.5h1.0v0.5h-1.0zM299.8 275.0h1.0v0.5h-1.0zM307.8 275.0h1.0v0.5h-1.0zM299.8 275.5h1.0v0.5h-1.0zM307.3 275.5h1.0v0.5h-1.0zM299.8 276.0h1.0v0.5h-1.0zM306.8 276.0h1.0v0.5h-1.0zM299.8 276.5h1.5v0.5h-1.5zM305.8 276.5h1.5v0.5h-1.5zM300.3 277.0h1.5v0.5h-1.5zM304.8 277.0h2.0v0.5h-2.0zM300.3 277.5h5.5v0.5h-5.5zM301.3 278.0h3.5v0.5h-3.5z" fill="#ff5800"/>
<path d="M307.3 264.5h3.0v0.5h-3.0zM306.3 265.0h4.5v0.5h-4.5zM305.3 265.5h6.0v0.5h-6.0zM304.8 266.0h6.5v0.5h-6.5zM304.3 266.5h7.0v0.5h-7.0zM303.8 267.0h7.5v0.5h-7.5zM303.3 267.5h8.0v0.5h-8.0zM302.8 268.0h8.5v0.5h-8.5zM302.3 268.5h9.0v0.5h-9.0zM302.3 269.0h9.0v0.5h-9.0zM301.8 269.5h9.5v0.5h-9.5zM301.8 270.0h9.0v0.5h-9.0zM301.3 270.5h9.5v0.5h-9.5zM301.3 271.0h9.5v0.5h-9.5zM300.8 271.5h9.5v0.5h-9.5zM300.8 272.0h9.5v0.5h-9.5zM300.8 272.5h9.0v0.5h-9.0zM300.8 273.0h8.5v0.5h-8.5zM300.3 273.5h9.0v0.5h-9.0zM300.3 274.0h8.5v0.5h-8.5zM300.3 274.5h8.0v0.5h-8.0zM300.8 275.0h7.0v0.5h-7.0zM300.8 275.5h6.5v0.5h-6.5zM300.8 276.0h6.0v0.5h-6.0zM301.3 276.5h4.5v0.5h-4.5zM301.8 277.0h3.0v0.5h-3.0z" fill="#ff1a00"/>
</g>
<line x1="291.8" y1="195.2" x2="291.8" y2="280" stroke="#3b5494" stroke-width="1.1" />
<line x1="291.8" y1="280" x2="372" y2="280" stroke="#3b5494" stroke-width="1.1" />
<line x1="291.8" y1="195.6" x2="293.3" y2="195.6" stroke="#3b5494" stroke-width="0.7" />

<text x="287.7" y="195.6" font-size="7.0" text-anchor="end" fill="#222" color="#222" dominant-baseline="central" textLength="16.29" lengthAdjust="spacingAndGlyphs" >262.1</text>
<line x1="291.8" y1="216.3" x2="293.3" y2="216.3" stroke="#3b5494" stroke-width="0.7" />

<text x="287.7" y="216.3" font-size="7.0" text-anchor="end" fill="#222" color="#222" dominant-baseline="central" textLength="16.29" lengthAdjust="spacingAndGlyphs" >196.6</text>
<line x1="291.8" y1="237.9" x2="293.3" y2="237.9" stroke="#3b5494" stroke-width="0.7" />

<text x="287.7" y="237.9" font-size="7.0" text-anchor="end" fill="#222" color="#222" dominant-baseline="central" textLength="16.29" lengthAdjust="spacingAndGlyphs" >131.1</text>
<line x1="291.8" y1="258.3" x2="293.3" y2="258.3" stroke="#3b5494" stroke-width="0.7" />

<text x="287.7" y="258.3" font-size="7.0" text-anchor="end" fill="#222" color="#222" dominant-baseline="central" textLength="12.67" lengthAdjust="spacingAndGlyphs" >65.5</text>
<line x1="291.8" y1="279.9" x2="293.3" y2="279.9" stroke="#3b5494" stroke-width="0.7" />

<text x="287.7" y="279.9" font-size="7.0" text-anchor="end" fill="#222" color="#222" dominant-baseline="central" textLength="3.62" lengthAdjust="spacingAndGlyphs" >0</text>
<line x1="291.8" y1="280" x2="291.8" y2="278.5" stroke="#3b5494" stroke-width="0.7" />
<text x="291.8" y="288" font-size="7.0" text-anchor="middle" fill="#222" color="#222" dominant-baseline="central" textLength="3.62" lengthAdjust="spacingAndGlyphs" >0</text>
<line x1="313.3" y1="280" x2="313.3" y2="278.5" stroke="#3b5494" stroke-width="0.7" />
<text x="313.3" y="288" font-size="7.0" text-anchor="middle" fill="#222" color="#222" dominant-baseline="central" textLength="12.67" lengthAdjust="spacingAndGlyphs" >65.5</text>
<line x1="331.4" y1="280" x2="331.4" y2="278.5" stroke="#3b5494" stroke-width="0.7" />
<text x="331.4" y="288" font-size="7.0" text-anchor="middle" fill="#222" color="#222" dominant-baseline="central" textLength="16.29" lengthAdjust="spacingAndGlyphs" >131.1</text>
<line x1="351.5" y1="280" x2="351.5" y2="278.5" stroke="#3b5494" stroke-width="0.7" />
<text x="351.5" y="288" font-size="7.0" text-anchor="middle" fill="#222" color="#222" dominant-baseline="central" textLength="16.29" lengthAdjust="spacingAndGlyphs" >196.6</text>
<line x1="371" y1="280" x2="371" y2="278.5" stroke="#3b5494" stroke-width="0.7" />
<text x="371" y="288" font-size="7.0" text-anchor="middle" fill="#222" color="#222" dominant-baseline="central" textLength="16.29" lengthAdjust="spacingAndGlyphs" >262.1</text>
<text x="331.7" y="298.5" font-size="7.84" text-anchor="middle" fill="#222" color="#222" dominant-baseline="central" textLength="43.2" lengthAdjust="spacingAndGlyphs" >FSC-A (x 1000)</text>
<text x="264" y="237.7" font-size="7.86" text-anchor="middle" fill="#222" color="#222" dominant-baseline="central" textLength="43.7" lengthAdjust="spacingAndGlyphs" transform="rotate(-90 264 237.7)" >SSC-A (x 1000)</text>
<polygon points="313.6,196.4 370.7,197.8 372,248 366.7,261.8 300.5,278 296.5,277.8 296.3,264.6" stroke="#5566e6" stroke-width="0.8" fill="none" stroke-linejoin="miter" />
<text x="347.5" y="205" font-size="5.5" text-anchor="start" fill="#3344dd" color="#3344dd" dominant-baseline="central" >Scatter</text>
<text x="347.5" y="211" font-size="5.5" text-anchor="start" fill="#3344dd" color="#3344dd" dominant-baseline="central" >99.12%</text>
<path d="M472.4 198.5h0.75v0.75h-0.75zM491.3 198.1h0.75v0.75h-0.75zM436.3 199.2h0.75v0.75h-0.75zM457.1 199.1h0.75v0.75h-0.75zM458.5 199.4h0.75v0.75h-0.75zM473.6 199.3h0.75v0.75h-0.75zM475.3 199.6h0.75v0.75h-0.75zM494.0 199.2h0.75v0.75h-0.75zM459.6 200.4h0.75v0.75h-0.75zM465.3 201.3h0.75v0.75h-0.75zM475.5 201.2h0.75v0.75h-0.75zM485.4 201.3h0.75v0.75h-0.75zM491.5 201.3h0.75v0.75h-0.75zM429.2 202.0h0.75v0.75h-0.75zM473.2 202.3h0.75v0.75h-0.75zM476.2 202.1h0.75v0.75h-0.75zM477.0 202.2h0.75v0.75h-0.75zM490.5 202.5h0.75v0.75h-0.75zM434.5 203.4h0.75v0.75h-0.75zM459.0 203.2h0.75v0.75h-0.75zM471.3 203.5h0.75v0.75h-0.75zM489.0 203.3h0.75v0.75h-0.75zM495.5 203.5h0.75v0.75h-0.75zM451.6 204.1h0.75v0.75h-0.75zM485.2 204.6h0.75v0.75h-0.75zM417.0 205.4h0.75v0.75h-0.75zM420.2 205.6h0.75v0.75h-0.75zM451.2 205.3h0.75v0.75h-0.75zM460.3 205.4h0.75v0.75h-0.75zM465.2 205.3h0.75v0.75h-0.75zM490.0 205.2h0.75v0.75h-0.75zM425.2 206.2h0.75v0.75h-0.75zM440.2 206.5h0.75v0.75h-0.75zM441.0 206.0h0.75v0.75h-0.75zM453.5 206.5h0.75v0.75h-0.75zM455.1 206.3h0.75v0.75h-0.75zM472.1 206.5h0.75v0.75h-0.75zM473.0 206.3h0.75v0.75h-0.75zM478.1 206.3h0.75v0.75h-0.75zM432.2 207.1h0.75v0.75h-0.75zM453.2 207.4h0.75v0.75h-0.75zM458.1 207.2h0.75v0.75h-0.75zM477.5 207.3h0.75v0.75h-0.75zM482.3 207.4h0.75v0.75h-0.75zM483.4 207.2h0.75v0.75h-0.75zM488.3 207.5h0.75v0.75h-0.75zM494.6 207.2h0.75v0.75h-0.75zM432.3 208.5h0.75v0.75h-0.75zM445.4 208.3h0.75v0.75h-0.75zM457.4 208.0h0.75v0.75h-0.75zM460.3 208.2h0.75v0.75h-0.75zM474.2 208.5h0.75v0.75h-0.75zM485.1 208.1h0.75v0.75h-0.75zM490.3 208.4h0.75v0.75h-0.75zM495.6 208.4h0.75v0.75h-0.75zM433.0 209.1h0.75v0.75h-0.75zM440.0 209.2h0.75v0.75h-0.75zM458.4 209.3h0.75v0.75h-0.75zM465.3 209.2h0.75v0.75h-0.75zM466.5 209.0h0.75v0.75h-0.75zM477.5 209.5h0.75v0.75h-0.75zM478.5 209.4h0.75v0.75h-0.75zM482.1 209.0h0.75v0.75h-0.75zM417.2 210.1h0.75v0.75h-0.75zM442.1 210.6h0.75v0.75h-0.75zM444.0 210.4h0.75v0.75h-0.75zM447.4 210.2h0.75v0.75h-0.75zM450.5 210.5h0.75v0.75h-0.75zM454.5 210.5h0.75v0.75h-0.75zM458.1 210.5h0.75v0.75h-0.75zM461.2 210.2h0.75v0.75h-0.75zM468.2 210.3h0.75v0.75h-0.75zM478.3 210.3h0.75v0.75h-0.75zM489.4 210.0h0.75v0.75h-0.75zM419.1 211.2h0.75v0.75h-0.75zM457.6 211.1h0.75v0.75h-0.75zM464.1 211.2h0.75v0.75h-0.75zM471.4 211.2h0.75v0.75h-0.75zM488.3 211.5h0.75v0.75h-0.75zM423.3 212.1h0.75v0.75h-0.75zM443.2 212.2h0.75v0.75h-0.75zM457.5 212.5h0.75v0.75h-0.75zM469.5 212.2h0.75v0.75h-0.75zM475.4 212.2h0.75v0.75h-0.75zM484.5 212.5h0.75v0.75h-0.75zM486.6 212.4h0.75v0.75h-0.75zM487.1 212.1h0.75v0.75h-0.75zM489.5 212.5h0.75v0.75h-0.75zM435.5 213.3h0.75v0.75h-0.75zM441.4 213.4h0.75v0.75h-0.75zM450.4 213.4h0.75v0.75h-0.75zM476.4 213.5h0.75v0.75h-0.75zM477.2 213.0h0.75v0.75h-0.75zM493.1 213.0h0.75v0.75h-0.75zM429.1 214.5h0.75v0.75h-0.75zM432.2 214.4h0.75v0.75h-0.75zM440.0 214.4h0.75v0.75h-0.75zM442.5 214.1h0.75v0.75h-0.75zM447.5 214.4h0.75v0.75h-0.75zM449.4 214.4h0.75v0.75h-0.75zM454.0 214.4h0.75v0.75h-0.75zM455.2 214.4h0.75v0.75h-0.75zM458.2 214.3h0.75v0.75h-0.75zM460.5 214.2h0.75v0.75h-0.75zM469.6 214.4h0.75v0.75h-0.75zM484.2 214.3h0.75v0.75h-0.75zM487.5 214.5h0.75v0.75h-0.75zM495.3 214.5h0.75v0.75h-0.75zM446.6 215.2h0.75v0.75h-0.75zM449.4 215.2h0.75v0.75h-0.75zM450.0 215.6h0.75v0.75h-0.75zM461.1 215.1h0.75v0.75h-0.75zM462.3 215.5h0.75v0.75h-0.75zM465.4 215.2h0.75v0.75h-0.75zM474.6 215.6h0.75v0.75h-0.75zM475.2 215.2h0.75v0.75h-0.75zM478.5 215.4h0.75v0.75h-0.75zM480.1 215.5h0.75v0.75h-0.75zM485.2 215.2h0.75v0.75h-0.75zM487.1 215.1h0.75v0.75h-0.75zM494.3 215.1h0.75v0.75h-0.75zM441.5 216.4h0.75v0.75h-0.75zM450.2 216.5h0.75v0.75h-0.75zM454.5 216.2h0.75v0.75h-0.75zM455.5 216.3h0.75v0.75h-0.75zM458.3 216.1h0.75v0.75h-0.75zM461.0 216.1h0.75v0.75h-0.75zM464.4 216.4h0.75v0.75h-0.75zM466.0 216.4h0.75v0.75h-0.75zM468.5 216.2h0.75v0.75h-0.75zM471.5 216.3h0.75v0.75h-0.75zM473.5 216.2h0.75v0.75h-0.75zM476.3 216.3h0.75v0.75h-0.75zM477.4 216.5h0.75v0.75h-0.75zM482.5 216.6h0.75v0.75h-0.75zM486.6 216.1h0.75v0.75h-0.75zM493.5 216.4h0.75v0.75h-0.75zM494.3 216.3h0.75v0.75h-0.75zM495.2 216.1h0.75v0.75h-0.75zM439.3 217.6h0.75v0.75h-0.75zM446.6 217.5h0.75v0.75h-0.75zM451.4 217.2h0.75v0.75h-0.75zM456.3 217.3h0.75v0.75h-0.75zM460.4 217.6h0.75v0.75h-0.75zM461.3 217.3h0.75v0.75h-0.75zM462.1 217.2h0.75v0.75h-0.75zM464.1 217.3h0.75v0.75h-0.75zM468.4 217.3h0.75v0.75h-0.75zM472.1 217.3h0.75v0.75h-0.75zM474.2 217.5h0.75v0.75h-0.75zM481.0 217.5h0.75v0.75h-0.75zM482.2 217.3h0.75v0.75h-0.75zM483.1 217.6h0.75v0.75h-0.75zM484.2 217.2h0.75v0.75h-0.75zM418.5 218.4h0.75v0.75h-0.75zM440.3 218.3h0.75v0.75h-0.75zM447.3 218.3h0.75v0.75h-0.75zM461.2 218.2h0.75v0.75h-0.75zM472.2 218.6h0.75v0.75h-0.75zM474.5 218.4h0.75v0.75h-0.75zM478.2 218.3h0.75v0.75h-0.75zM479.1 218.4h0.75v0.75h-0.75zM483.2 218.5h0.75v0.75h-0.75zM485.2 218.5h0.75v0.75h-0.75zM487.3 218.3h0.75v0.75h-0.75zM493.1 218.5h0.75v0.75h-0.75zM494.1 218.3h0.75v0.75h-0.75zM418.5 219.2h0.75v0.75h-0.75zM428.5 219.3h0.75v0.75h-0.75zM432.6 219.5h0.75v0.75h-0.75zM443.2 219.5h0.75v0.75h-0.75zM445.1 219.2h0.75v0.75h-0.75zM447.3 219.1h0.75v0.75h-0.75zM450.1 219.5h0.75v0.75h-0.75zM451.1 219.2h0.75v0.75h-0.75zM458.2 219.4h0.75v0.75h-0.75zM460.6 219.3h0.75v0.75h-0.75zM462.4 219.2h0.75v0.75h-0.75zM465.4 219.1h0.75v0.75h-0.75zM466.3 219.3h0.75v0.75h-0.75zM473.1 219.5h0.75v0.75h-0.75zM475.3 219.2h0.75v0.75h-0.75zM477.2 219.1h0.75v0.75h-0.75zM485.2 219.0h0.75v0.75h-0.75zM420.0 220.1h0.75v0.75h-0.75zM423.2 220.4h0.75v0.75h-0.75zM431.5 220.5h0.75v0.75h-0.75zM432.5 220.4h0.75v0.75h-0.75zM434.5 220.1h0.75v0.75h-0.75zM436.4 220.2h0.75v0.75h-0.75zM439.6 220.3h0.75v0.75h-0.75zM445.4 220.3h0.75v0.75h-0.75zM447.5 220.0h0.75v0.75h-0.75zM449.3 220.6h0.75v0.75h-0.75zM451.0 220.2h0.75v0.75h-0.75zM452.2 220.1h0.75v0.75h-0.75zM454.1 220.3h0.75v0.75h-0.75zM458.5 220.3h0.75v0.75h-0.75zM459.4 220.4h0.75v0.75h-0.75zM462.2 220.2h0.75v0.75h-0.75zM463.2 220.1h0.75v0.75h-0.75zM465.2 220.3h0.75v0.75h-0.75zM466.0 220.0h0.75v0.75h-0.75zM468.4 220.6h0.75v0.75h-0.75zM469.3 220.3h0.75v0.75h-0.75zM471.6 220.4h0.75v0.75h-0.75zM478.4 220.5h0.75v0.75h-0.75zM479.5 220.5h0.75v0.75h-0.75zM481.5 220.2h0.75v0.75h-0.75zM486.3 220.4h0.75v0.75h-0.75zM492.2 220.3h0.75v0.75h-0.75zM494.3 220.6h0.75v0.75h-0.75zM495.3 220.1h0.75v0.75h-0.75zM416.5 221.5h0.75v0.75h-0.75zM433.2 221.3h0.75v0.75h-0.75zM440.4 221.4h0.75v0.75h-0.75zM448.3 221.2h0.75v0.75h-0.75zM450.1 221.1h0.75v0.75h-0.75zM453.2 221.3h0.75v0.75h-0.75zM454.3 221.1h0.75v0.75h-0.75zM456.2 221.0h0.75v0.75h-0.75zM463.1 221.6h0.75v0.75h-0.75zM465.5 221.0h0.75v0.75h-0.75zM466.0 221.4h0.75v0.75h-0.75zM467.4 221.3h0.75v0.75h-0.75zM473.4 221.2h0.75v0.75h-0.75zM476.2 221.4h0.75v0.75h-0.75zM478.4 221.1h0.75v0.75h-0.75zM480.6 221.4h0.75v0.75h-0.75zM481.3 221.5h0.75v0.75h-0.75zM482.0 221.1h0.75v0.75h-0.75zM483.3 221.2h0.75v0.75h-0.75zM485.5 221.3h0.75v0.75h-0.75zM488.2 221.1h0.75v0.75h-0.75zM491.1 221.5h0.75v0.75h-0.75zM494.5 221.2h0.75v0.75h-0.75zM421.1 222.2h0.75v0.75h-0.75zM425.3 222.2h0.75v0.75h-0.75zM428.1 222.4h0.75v0.75h-0.75zM436.3 222.5h0.75v0.75h-0.75zM441.5 222.5h0.75v0.75h-0.75zM443.5 222.4h0.75v0.75h-0.75zM446.2 222.6h0.75v0.75h-0.75zM447.1 222.1h0.75v0.75h-0.75zM448.0 222.5h0.75v0.75h-0.75zM450.2 222.2h0.75v0.75h-0.75zM451.6 222.2h0.75v0.75h-0.75zM452.0 222.1h0.75v0.75h-0.75zM454.5 222.3h0.75v0.75h-0.75zM458.2 222.1h0.75v0.75h-0.75zM461.4 222.6h0.75v0.75h-0.75zM462.5 222.5h0.75v0.75h-0.75zM463.1 222.3h0.75v0.75h-0.75zM466.2 222.4h0.75v0.75h-0.75zM471.3 222.4h0.75v0.75h-0.75zM473.6 222.3h0.75v0.75h-0.75zM474.4 222.4h0.75v0.75h-0.75zM475.1 222.1h0.75v0.75h-0.75zM476.5 222.3h0.75v0.75h-0.75zM494.0 222.3h0.75v0.75h-0.75zM421.1 223.0h0.75v0.75h-0.75zM431.5 223.1h0.75v0.75h-0.75zM439.4 223.0h0.75v0.75h-0.75zM442.3 223.2h0.75v0.75h-0.75zM445.2 223.2h0.75v0.75h-0.75zM446.1 223.5h0.75v0.75h-0.75zM447.6 223.1h0.75v0.75h-0.75zM451.2 223.3h0.75v0.75h-0.75zM453.5 223.1h0.75v0.75h-0.75zM457.0 223.1h0.75v0.75h-0.75zM458.5 223.1h0.75v0.75h-0.75zM460.6 223.4h0.75v0.75h-0.75zM462.1 223.5h0.75v0.75h-0.75zM463.3 223.1h0.75v0.75h-0.75zM466.3 223.1h0.75v0.75h-0.75zM467.4 223.1h0.75v0.75h-0.75zM469.2 223.3h0.75v0.75h-0.75zM470.1 223.6h0.75v0.75h-0.75zM473.3 223.2h0.75v0.75h-0.75zM475.4 223.4h0.75v0.75h-0.75zM488.6 223.0h0.75v0.75h-0.75zM495.5 223.5h0.75v0.75h-0.75zM423.4 224.5h0.75v0.75h-0.75zM438.4 224.2h0.75v0.75h-0.75zM443.1 224.6h0.75v0.75h-0.75zM445.5 224.3h0.75v0.75h-0.75zM449.2 224.5h0.75v0.75h-0.75zM460.3 224.5h0.75v0.75h-0.75zM463.2 224.4h0.75v0.75h-0.75zM464.2 224.3h0.75v0.75h-0.75zM465.6 224.4h0.75v0.75h-0.75zM467.0 224.5h0.75v0.75h-0.75zM472.4 224.3h0.75v0.75h-0.75zM484.4 224.3h0.75v0.75h-0.75zM486.1 224.0h0.75v0.75h-0.75zM487.1 224.5h0.75v0.75h-0.75zM488.4 224.4h0.75v0.75h-0.75zM489.4 224.3h0.75v0.75h-0.75zM423.2 225.5h0.75v0.75h-0.75zM427.3 225.2h0.75v0.75h-0.75zM435.2 225.3h0.75v0.75h-0.75zM438.5 225.2h0.75v0.75h-0.75zM441.6 225.3h0.75v0.75h-0.75zM444.4 225.1h0.75v0.75h-0.75zM445.5 225.3h0.75v0.75h-0.75zM446.2 225.1h0.75v0.75h-0.75zM458.1 225.6h0.75v0.75h-0.75zM460.2 225.2h0.75v0.75h-0.75zM466.4 225.6h0.75v0.75h-0.75zM469.2 225.3h0.75v0.75h-0.75zM473.3 225.5h0.75v0.75h-0.75zM475.3 225.1h0.75v0.75h-0.75zM476.3 225.2h0.75v0.75h-0.75zM478.1 225.6h0.75v0.75h-0.75zM482.1 225.5h0.75v0.75h-0.75zM485.3 225.1h0.75v0.75h-0.75zM488.2 225.1h0.75v0.75h-0.75zM493.6 225.3h0.75v0.75h-0.75zM420.2 226.3h0.75v0.75h-0.75zM428.1 226.4h0.75v0.75h-0.75zM429.4 226.4h0.75v0.75h-0.75zM434.6 226.2h0.75v0.75h-0.75zM435.1 226.4h0.75v0.75h-0.75zM436.2 226.1h0.75v0.75h-0.75zM437.2 226.6h0.75v0.75h-0.75zM444.1 226.4h0.75v0.75h-0.75zM469.1 226.5h0.75v0.75h-0.75zM476.5 226.1h0.75v0.75h-0.75zM477.1 226.6h0.75v0.75h-0.75zM479.2 226.1h0.75v0.75h-0.75zM486.4 226.3h0.75v0.75h-0.75zM426.2 227.1h0.75v0.75h-0.75zM431.2 227.4h0.75v0.75h-0.75zM441.6 227.4h0.75v0.75h-0.75zM442.1 227.3h0.75v0.75h-0.75zM444.1 227.3h0.75v0.75h-0.75zM468.3 227.2h0.75v0.75h-0.75zM471.4 227.5h0.75v0.75h-0.75zM478.4 227.4h0.75v0.75h-0.75zM479.0 227.4h0.75v0.75h-0.75zM481.1 227.1h0.75v0.75h-0.75zM488.2 227.0h0.75v0.75h-0.75zM491.5 227.1h0.75v0.75h-0.75zM422.5 228.0h0.75v0.75h-0.75zM424.4 228.4h0.75v0.75h-0.75zM435.3 228.1h0.75v0.75h-0.75zM440.4 228.3h0.75v0.75h-0.75zM442.4 228.6h0.75v0.75h-0.75zM463.4 228.4h0.75v0.75h-0.75zM465.2 228.4h0.75v0.75h-0.75zM466.4 228.4h0.75v0.75h-0.75zM468.6 228.1h0.75v0.75h-0.75zM473.1 228.6h0.75v0.75h-0.75zM474.0 228.1h0.75v0.75h-0.75zM475.4 228.6h0.75v0.75h-0.75zM477.1 228.0h0.75v0.75h-0.75zM478.6 228.4h0.75v0.75h-0.75zM480.3 228.1h0.75v0.75h-0.75zM483.5 228.3h0.75v0.75h-0.75zM488.0 228.3h0.75v0.75h-0.75zM490.4 228.0h0.75v0.75h-0.75zM493.4 228.1h0.75v0.75h-0.75zM494.6 228.3h0.75v0.75h-0.75zM495.4 228.5h0.75v0.75h-0.75zM424.0 229.1h0.75v0.75h-0.75zM437.4 229.5h0.75v0.75h-0.75zM439.6 229.3h0.75v0.75h-0.75zM441.3 229.6h0.75v0.75h-0.75zM462.4 229.1h0.75v0.75h-0.75zM463.5 229.0h0.75v0.75h-0.75zM464.5 229.5h0.75v0.75h-0.75zM465.0 229.1h0.75v0.75h-0.75zM466.4 229.4h0.75v0.75h-0.75zM467.1 229.1h0.75v0.75h-0.75zM471.4 229.1h0.75v0.75h-0.75zM473.5 229.2h0.75v0.75h-0.75zM475.1 229.1h0.75v0.75h-0.75zM480.4 229.5h0.75v0.75h-0.75zM481.3 229.1h0.75v0.75h-0.75zM483.1 229.3h0.75v0.75h-0.75zM486.0 229.2h0.75v0.75h-0.75zM489.1 229.4h0.75v0.75h-0.75zM493.6 229.3h0.75v0.75h-0.75zM422.3 230.2h0.75v0.75h-0.75zM433.3 230.4h0.75v0.75h-0.75zM434.5 230.6h0.75v0.75h-0.75zM436.5 230.1h0.75v0.75h-0.75zM439.1 230.0h0.75v0.75h-0.75zM440.1 230.4h0.75v0.75h-0.75zM442.4 230.0h0.75v0.75h-0.75zM443.3 230.3h0.75v0.75h-0.75zM463.4 230.0h0.75v0.75h-0.75zM464.3 230.4h0.75v0.75h-0.75zM465.3 230.4h0.75v0.75h-0.75zM468.6 230.1h0.75v0.75h-0.75zM471.4 230.2h0.75v0.75h-0.75zM473.1 230.1h0.75v0.75h-0.75zM474.1 230.2h0.75v0.75h-0.75zM475.3 230.6h0.75v0.75h-0.75zM479.3 230.0h0.75v0.75h-0.75zM480.2 230.6h0.75v0.75h-0.75zM486.5 230.2h0.75v0.75h-0.75zM493.3 230.4h0.75v0.75h-0.75zM494.0 230.1h0.75v0.75h-0.75zM495.1 230.2h0.75v0.75h-0.75zM417.1 231.6h0.75v0.75h-0.75zM425.1 231.1h0.75v0.75h-0.75zM434.4 231.2h0.75v0.75h-0.75zM437.4 231.5h0.75v0.75h-0.75zM438.1 231.4h0.75v0.75h-0.75zM441.4 231.0h0.75v0.75h-0.75zM464.1 231.1h0.75v0.75h-0.75zM465.2 231.4h0.75v0.75h-0.75zM469.6 231.1h0.75v0.75h-0.75zM470.1 231.2h0.75v0.75h-0.75zM472.5 231.2h0.75v0.75h-0.75zM475.3 231.5h0.75v0.75h-0.75zM477.5 231.4h0.75v0.75h-0.75zM487.1 231.5h0.75v0.75h-0.75zM430.6 232.4h0.75v0.75h-0.75zM432.5 232.3h0.75v0.75h-0.75zM440.2 232.5h0.75v0.75h-0.75zM464.3 232.1h0.75v0.75h-0.75zM466.4 232.4h0.75v0.75h-0.75zM472.0 232.5h0.75v0.75h-0.75zM473.3 232.4h0.75v0.75h-0.75zM476.1 232.1h0.75v0.75h-0.75zM479.1 232.1h0.75v0.75h-0.75zM482.3 232.3h0.75v0.75h-0.75zM486.4 232.1h0.75v0.75h-0.75zM487.4 232.6h0.75v0.75h-0.75zM436.1 233.5h0.75v0.75h-0.75zM437.2 233.3h0.75v0.75h-0.75zM438.5 233.2h0.75v0.75h-0.75zM462.0 233.5h0.75v0.75h-0.75zM465.4 233.2h0.75v0.75h-0.75zM469.2 233.2h0.75v0.75h-0.75zM475.5 233.2h0.75v0.75h-0.75zM476.5 233.3h0.75v0.75h-0.75zM478.6 233.5h0.75v0.75h-0.75zM485.5 233.1h0.75v0.75h-0.75zM486.5 233.3h0.75v0.75h-0.75zM490.3 233.4h0.75v0.75h-0.75zM426.4 234.1h0.75v0.75h-0.75zM427.6 234.3h0.75v0.75h-0.75zM428.4 234.2h0.75v0.75h-0.75zM430.3 234.1h0.75v0.75h-0.75zM432.3 234.3h0.75v0.75h-0.75zM439.5 234.2h0.75v0.75h-0.75zM440.5 234.4h0.75v0.75h-0.75zM459.4 234.6h0.75v0.75h-0.75zM464.1 234.1h0.75v0.75h-0.75zM465.6 234.2h0.75v0.75h-0.75zM466.2 234.6h0.75v0.75h-0.75zM470.1 234.2h0.75v0.75h-0.75zM476.4 234.3h0.75v0.75h-0.75zM478.1 234.1h0.75v0.75h-0.75zM481.3 234.3h0.75v0.75h-0.75zM484.0 234.3h0.75v0.75h-0.75zM486.5 234.1h0.75v0.75h-0.75zM419.0 235.2h0.75v0.75h-0.75zM432.0 235.1h0.75v0.75h-0.75zM434.4 235.0h0.75v0.75h-0.75zM435.1 235.4h0.75v0.75h-0.75zM437.4 235.3h0.75v0.75h-0.75zM439.1 235.1h0.75v0.75h-0.75zM443.3 235.6h0.75v0.75h-0.75zM463.5 235.4h0.75v0.75h-0.75zM464.1 235.6h0.75v0.75h-0.75zM465.2 235.2h0.75v0.75h-0.75zM467.4 235.1h0.75v0.75h-0.75zM468.2 235.2h0.75v0.75h-0.75zM470.1 235.5h0.75v0.75h-0.75zM480.2 235.1h0.75v0.75h-0.75zM484.3 235.4h0.75v0.75h-0.75zM491.1 235.2h0.75v0.75h-0.75zM432.0 236.4h0.75v0.75h-0.75zM434.5 236.5h0.75v0.75h-0.75zM437.0 236.2h0.75v0.75h-0.75zM442.5 236.1h0.75v0.75h-0.75zM443.0 236.5h0.75v0.75h-0.75zM444.5 236.3h0.75v0.75h-0.75zM459.2 236.1h0.75v0.75h-0.75zM460.5 236.2h0.75v0.75h-0.75zM461.1 236.6h0.75v0.75h-0.75zM466.4 236.1h0.75v0.75h-0.75zM467.3 236.2h0.75v0.75h-0.75zM469.4 236.3h0.75v0.75h-0.75zM472.3 236.5h0.75v0.75h-0.75zM474.3 236.6h0.75v0.75h-0.75zM476.4 236.0h0.75v0.75h-0.75zM479.5 236.1h0.75v0.75h-0.75zM481.5 236.3h0.75v0.75h-0.75zM487.0 236.4h0.75v0.75h-0.75zM488.2 236.2h0.75v0.75h-0.75zM434.4 237.2h0.75v0.75h-0.75zM435.6 237.2h0.75v0.75h-0.75zM437.5 237.4h0.75v0.75h-0.75zM438.1 237.2h0.75v0.75h-0.75zM440.3 237.1h0.75v0.75h-0.75zM445.3 237.0h0.75v0.75h-0.75zM459.4 237.1h0.75v0.75h-0.75zM463.2 237.5h0.75v0.75h-0.75zM465.4 237.5h0.75v0.75h-0.75zM466.0 237.5h0.75v0.75h-0.75zM468.2 237.0h0.75v0.75h-0.75zM470.3 237.5h0.75v0.75h-0.75zM472.2 237.5h0.75v0.75h-0.75zM483.2 237.4h0.75v0.75h-0.75zM484.4 237.4h0.75v0.75h-0.75zM485.3 237.2h0.75v0.75h-0.75zM487.4 237.2h0.75v0.75h-0.75zM491.4 237.0h0.75v0.75h-0.75zM492.4 237.2h0.75v0.75h-0.75zM430.0 238.3h0.75v0.75h-0.75zM431.3 238.5h0.75v0.75h-0.75zM432.3 238.3h0.75v0.75h-0.75zM442.3 238.1h0.75v0.75h-0.75zM443.2 238.1h0.75v0.75h-0.75zM444.4 238.1h0.75v0.75h-0.75zM446.4 238.4h0.75v0.75h-0.75zM451.2 238.2h0.75v0.75h-0.75zM452.6 238.5h0.75v0.75h-0.75zM459.4 238.1h0.75v0.75h-0.75zM460.3 238.4h0.75v0.75h-0.75zM462.2 238.4h0.75v0.75h-0.75zM469.5 238.1h0.75v0.75h-0.75zM474.5 238.3h0.75v0.75h-0.75zM475.5 238.5h0.75v0.75h-0.75zM478.1 238.1h0.75v0.75h-0.75zM479.5 238.2h0.75v0.75h-0.75zM482.0 238.5h0.75v0.75h-0.75zM483.6 238.1h0.75v0.75h-0.75zM484.1 238.4h0.75v0.75h-0.75zM486.2 238.6h0.75v0.75h-0.75zM489.5 238.0h0.75v0.75h-0.75zM494.3 238.2h0.75v0.75h-0.75zM427.2 239.4h0.75v0.75h-0.75zM436.4 239.5h0.75v0.75h-0.75zM439.1 239.3h0.75v0.75h-0.75zM456.2 239.1h0.75v0.75h-0.75zM458.1 239.4h0.75v0.75h-0.75zM467.2 239.3h0.75v0.75h-0.75zM468.5 239.3h0.75v0.75h-0.75zM469.3 239.3h0.75v0.75h-0.75zM472.4 239.3h0.75v0.75h-0.75zM477.1 239.4h0.75v0.75h-0.75zM479.4 239.6h0.75v0.75h-0.75zM481.3 239.2h0.75v0.75h-0.75zM483.3 239.5h0.75v0.75h-0.75zM484.2 239.3h0.75v0.75h-0.75zM485.5 239.2h0.75v0.75h-0.75zM487.2 239.1h0.75v0.75h-0.75zM491.5 239.3h0.75v0.75h-0.75zM418.5 240.5h0.75v0.75h-0.75zM435.5 240.5h0.75v0.75h-0.75zM438.5 240.5h0.75v0.75h-0.75zM439.2 240.5h0.75v0.75h-0.75zM441.1 240.2h0.75v0.75h-0.75zM444.1 240.4h0.75v0.75h-0.75zM446.5 240.4h0.75v0.75h-0.75zM449.2 240.5h0.75v0.75h-0.75zM450.2 240.6h0.75v0.75h-0.75zM452.1 240.3h0.75v0.75h-0.75zM455.4 240.4h0.75v0.75h-0.75zM457.3 240.5h0.75v0.75h-0.75zM459.6 240.1h0.75v0.75h-0.75zM460.5 240.2h0.75v0.75h-0.75zM470.3 240.3h0.75v0.75h-0.75zM474.3 240.3h0.75v0.75h-0.75zM479.4 240.4h0.75v0.75h-0.75zM482.0 240.3h0.75v0.75h-0.75zM486.3 240.1h0.75v0.75h-0.75zM487.5 240.3h0.75v0.75h-0.75zM423.3 241.5h0.75v0.75h-0.75zM437.5 241.0h0.75v0.75h-0.75zM440.1 241.5h0.75v0.75h-0.75zM443.0 241.2h0.75v0.75h-0.75zM458.5 241.0h0.75v0.75h-0.75zM464.2 241.1h0.75v0.75h-0.75zM465.1 241.6h0.75v0.75h-0.75zM480.5 241.5h0.75v0.75h-0.75zM482.6 241.1h0.75v0.75h-0.75zM484.4 241.2h0.75v0.75h-0.75zM485.6 241.2h0.75v0.75h-0.75zM490.3 241.0h0.75v0.75h-0.75zM420.6 242.3h0.75v0.75h-0.75zM423.6 242.2h0.75v0.75h-0.75zM428.5 242.4h0.75v0.75h-0.75zM431.6 242.1h0.75v0.75h-0.75zM434.4 242.3h0.75v0.75h-0.75zM435.3 242.5h0.75v0.75h-0.75zM438.1 242.3h0.75v0.75h-0.75zM445.3 242.0h0.75v0.75h-0.75zM446.5 242.4h0.75v0.75h-0.75zM467.2 242.1h0.75v0.75h-0.75zM470.4 242.6h0.75v0.75h-0.75zM471.1 242.0h0.75v0.75h-0.75zM479.1 242.2h0.75v0.75h-0.75zM482.6 242.6h0.75v0.75h-0.75zM484.2 242.4h0.75v0.75h-0.75zM486.1 242.3h0.75v0.75h-0.75zM433.6 243.3h0.75v0.75h-0.75zM435.1 243.5h0.75v0.75h-0.75zM439.1 243.2h0.75v0.75h-0.75zM442.1 243.5h0.75v0.75h-0.75zM444.5 243.5h0.75v0.75h-0.75zM447.3 243.5h0.75v0.75h-0.75zM448.1 243.6h0.75v0.75h-0.75zM451.4 243.2h0.75v0.75h-0.75zM468.6 243.5h0.75v0.75h-0.75zM470.2 243.1h0.75v0.75h-0.75zM476.1 243.5h0.75v0.75h-0.75zM477.2 243.1h0.75v0.75h-0.75zM480.2 243.3h0.75v0.75h-0.75zM493.1 243.6h0.75v0.75h-0.75zM420.6 244.1h0.75v0.75h-0.75zM426.0 244.1h0.75v0.75h-0.75zM427.3 244.5h0.75v0.75h-0.75zM437.4 244.3h0.75v0.75h-0.75zM438.5 244.4h0.75v0.75h-0.75zM443.5 244.4h0.75v0.75h-0.75zM445.2 244.4h0.75v0.75h-0.75zM448.3 244.0h0.75v0.75h-0.75zM467.6 244.3h0.75v0.75h-0.75zM469.2 244.3h0.75v0.75h-0.75zM477.6 244.0h0.75v0.75h-0.75zM478.1 244.0h0.75v0.75h-0.75zM416.3 245.3h0.75v0.75h-0.75zM423.1 245.4h0.75v0.75h-0.75zM428.0 245.5h0.75v0.75h-0.75zM430.3 245.1h0.75v0.75h-0.75zM432.0 245.4h0.75v0.75h-0.75zM433.3 245.6h0.75v0.75h-0.75zM434.3 245.1h0.75v0.75h-0.75zM438.6 245.1h0.75v0.75h-0.75zM440.1 245.4h0.75v0.75h-0.75zM441.3 245.4h0.75v0.75h-0.75zM442.1 245.3h0.75v0.75h-0.75zM446.1 245.4h0.75v0.75h-0.75zM448.1 245.2h0.75v0.75h-0.75zM467.0 245.1h0.75v0.75h-0.75zM478.5 245.1h0.75v0.75h-0.75zM481.3 245.1h0.75v0.75h-0.75zM419.1 246.2h0.75v0.75h-0.75zM420.4 246.4h0.75v0.75h-0.75zM429.5 246.4h0.75v0.75h-0.75zM431.3 246.3h0.75v0.75h-0.75zM436.0 246.6h0.75v0.75h-0.75zM437.1 246.1h0.75v0.75h-0.75zM441.2 246.0h0.75v0.75h-0.75zM443.0 246.1h0.75v0.75h-0.75zM444.1 246.5h0.75v0.75h-0.75zM467.5 246.1h0.75v0.75h-0.75zM468.3 246.4h0.75v0.75h-0.75zM472.4 246.3h0.75v0.75h-0.75zM474.0 246.3h0.75v0.75h-0.75zM476.3 246.2h0.75v0.75h-0.75zM479.0 246.3h0.75v0.75h-0.75zM486.1 246.1h0.75v0.75h-0.75zM423.6 247.3h0.75v0.75h-0.75zM424.4 247.2h0.75v0.75h-0.75zM430.2 247.3h0.75v0.75h-0.75zM436.5 247.2h0.75v0.75h-0.75zM441.1 247.2h0.75v0.75h-0.75zM442.3 247.4h0.75v0.75h-0.75zM466.5 247.1h0.75v0.75h-0.75zM468.4 247.0h0.75v0.75h-0.75zM473.2 247.5h0.75v0.75h-0.75zM419.3 248.2h0.75v0.75h-0.75zM427.5 248.3h0.75v0.75h-0.75zM428.5 248.5h0.75v0.75h-0.75zM433.5 248.4h0.75v0.75h-0.75zM436.6 248.3h0.75v0.75h-0.75zM440.3 248.3h0.75v0.75h-0.75zM463.1 248.2h0.75v0.75h-0.75zM466.6 248.5h0.75v0.75h-0.75zM467.5 248.2h0.75v0.75h-0.75zM471.5 248.3h0.75v0.75h-0.75zM479.2 248.4h0.75v0.75h-0.75zM423.2 249.0h0.75v0.75h-0.75zM427.6 249.0h0.75v0.75h-0.75zM429.6 249.4h0.75v0.75h-0.75zM430.4 249.3h0.75v0.75h-0.75zM432.0 249.5h0.75v0.75h-0.75zM435.6 249.1h0.75v0.75h-0.75zM437.6 249.5h0.75v0.75h-0.75zM459.4 249.2h0.75v0.75h-0.75zM462.2 249.5h0.75v0.75h-0.75zM463.4 249.4h0.75v0.75h-0.75zM464.2 249.6h0.75v0.75h-0.75zM466.5 249.5h0.75v0.75h-0.75zM467.3 249.2h0.75v0.75h-0.75zM468.4 249.3h0.75v0.75h-0.75zM473.1 249.6h0.75v0.75h-0.75zM418.5 250.3h0.75v0.75h-0.75zM423.4 250.3h0.75v0.75h-0.75zM424.3 250.3h0.75v0.75h-0.75zM425.1 250.2h0.75v0.75h-0.75zM429.3 250.6h0.75v0.75h-0.75zM431.3 250.0h0.75v0.75h-0.75zM462.3 250.1h0.75v0.75h-0.75zM466.3 250.6h0.75v0.75h-0.75zM467.1 250.1h0.75v0.75h-0.75zM469.2 250.3h0.75v0.75h-0.75zM416.3 251.4h0.75v0.75h-0.75zM423.1 251.4h0.75v0.75h-0.75zM424.3 251.2h0.75v0.75h-0.75zM429.4 251.2h0.75v0.75h-0.75zM430.4 251.1h0.75v0.75h-0.75zM431.2 251.5h0.75v0.75h-0.75zM432.6 251.0h0.75v0.75h-0.75zM454.4 251.5h0.75v0.75h-0.75zM455.5 251.1h0.75v0.75h-0.75zM457.5 251.5h0.75v0.75h-0.75zM465.2 251.5h0.75v0.75h-0.75zM471.3 251.6h0.75v0.75h-0.75zM421.6 252.2h0.75v0.75h-0.75zM429.3 252.0h0.75v0.75h-0.75zM449.2 252.5h0.75v0.75h-0.75zM453.2 252.3h0.75v0.75h-0.75zM455.1 252.5h0.75v0.75h-0.75zM456.5 252.5h0.75v0.75h-0.75zM460.4 252.1h0.75v0.75h-0.75zM462.3 252.1h0.75v0.75h-0.75zM466.5 252.5h0.75v0.75h-0.75zM423.3 253.4h0.75v0.75h-0.75zM424.3 253.4h0.75v0.75h-0.75zM426.2 253.2h0.75v0.75h-0.75zM434.3 253.4h0.75v0.75h-0.75zM444.4 253.0h0.75v0.75h-0.75zM447.1 253.6h0.75v0.75h-0.75zM449.5 253.1h0.75v0.75h-0.75zM451.4 253.3h0.75v0.75h-0.75zM452.2 253.1h0.75v0.75h-0.75zM454.4 253.0h0.75v0.75h-0.75zM455.5 253.4h0.75v0.75h-0.75zM456.0 253.4h0.75v0.75h-0.75zM457.5 253.5h0.75v0.75h-0.75zM417.3 254.2h0.75v0.75h-0.75zM419.2 254.4h0.75v0.75h-0.75zM422.3 254.4h0.75v0.75h-0.75zM423.1 254.6h0.75v0.75h-0.75zM425.1 254.3h0.75v0.75h-0.75zM429.5 254.1h0.75v0.75h-0.75zM432.5 254.4h0.75v0.75h-0.75zM447.0 254.3h0.75v0.75h-0.75zM449.3 254.2h0.75v0.75h-0.75zM452.3 254.3h0.75v0.75h-0.75zM454.3 254.6h0.75v0.75h-0.75zM416.4 255.0h0.75v0.75h-0.75zM419.6 255.6h0.75v0.75h-0.75zM422.5 255.0h0.75v0.75h-0.75zM425.0 255.3h0.75v0.75h-0.75zM432.2 255.1h0.75v0.75h-0.75zM433.5 255.3h0.75v0.75h-0.75zM442.3 255.1h0.75v0.75h-0.75zM443.5 255.6h0.75v0.75h-0.75zM450.1 255.4h0.75v0.75h-0.75zM451.4 255.3h0.75v0.75h-0.75zM453.2 255.3h0.75v0.75h-0.75zM421.1 256.0h0.75v0.75h-0.75zM422.6 256.6h0.75v0.75h-0.75zM426.1 256.3h0.75v0.75h-0.75zM429.1 256.2h0.75v0.75h-0.75zM430.4 256.5h0.75v0.75h-0.75zM434.0 256.6h0.75v0.75h-0.75zM436.1 256.4h0.75v0.75h-0.75zM440.3 256.1h0.75v0.75h-0.75zM441.5 256.4h0.75v0.75h-0.75zM447.6 256.0h0.75v0.75h-0.75zM417.0 257.4h0.75v0.75h-0.75zM418.3 257.2h0.75v0.75h-0.75zM423.3 257.3h0.75v0.75h-0.75zM429.6 257.4h0.75v0.75h-0.75zM433.3 257.3h0.75v0.75h-0.75zM434.4 257.4h0.75v0.75h-0.75zM438.0 257.6h0.75v0.75h-0.75zM439.4 257.3h0.75v0.75h-0.75zM445.5 257.2h0.75v0.75h-0.75zM419.3 258.3h0.75v0.75h-0.75zM420.4 258.4h0.75v0.75h-0.75zM423.3 258.3h0.75v0.75h-0.75zM424.2 258.2h0.75v0.75h-0.75zM425.6 258.3h0.75v0.75h-0.75zM426.0 258.2h0.75v0.75h-0.75zM427.6 258.4h0.75v0.75h-0.75zM428.1 258.2h0.75v0.75h-0.75zM429.3 258.2h0.75v0.75h-0.75zM434.4 258.3h0.75v0.75h-0.75zM438.4 258.0h0.75v0.75h-0.75zM416.2 259.6h0.75v0.75h-0.75zM417.3 259.2h0.75v0.75h-0.75zM419.1 259.1h0.75v0.75h-0.75zM429.4 259.5h0.75v0.75h-0.75zM430.1 259.5h0.75v0.75h-0.75zM432.4 259.0h0.75v0.75h-0.75zM435.4 259.6h0.75v0.75h-0.75zM417.2 261.5h0.75v0.75h-0.75zM420.5 261.5h0.75v0.75h-0.75zM421.3 262.6h0.75v0.75h-0.75zM429.5 262.5h0.75v0.75h-0.75z" fill="#aab2f2" fill-opacity="0.5"/>
<path d="M482.3 200.1h0.75v0.75h-0.75zM474.5 210.1h0.75v0.75h-0.75zM485.5 212.4h0.75v0.75h-0.75zM488.4 215.1h0.75v0.75h-0.75zM487.2 216.5h0.75v0.75h-0.75zM488.4 216.1h0.75v0.75h-0.75zM445.3 217.3h0.75v0.75h-0.75zM446.3 218.5h0.75v0.75h-0.75zM452.4 219.2h0.75v0.75h-0.75zM454.2 219.5h0.75v0.75h-0.75zM456.2 220.5h0.75v0.75h-0.75zM474.1 220.1h0.75v0.75h-0.75zM445.2 221.5h0.75v0.75h-0.75zM446.4 221.3h0.75v0.75h-0.75zM452.5 221.2h0.75v0.75h-0.75zM461.6 221.4h0.75v0.75h-0.75zM445.3 222.2h0.75v0.75h-0.75zM449.3 222.2h0.75v0.75h-0.75zM455.3 222.5h0.75v0.75h-0.75zM456.0 222.1h0.75v0.75h-0.75zM469.0 222.2h0.75v0.75h-0.75zM448.5 223.5h0.75v0.75h-0.75zM452.4 223.4h0.75v0.75h-0.75zM454.5 223.5h0.75v0.75h-0.75zM459.1 223.4h0.75v0.75h-0.75zM464.0 223.6h0.75v0.75h-0.75zM472.1 223.2h0.75v0.75h-0.75zM444.3 224.5h0.75v0.75h-0.75zM450.1 224.2h0.75v0.75h-0.75zM451.5 224.3h0.75v0.75h-0.75zM452.2 224.6h0.75v0.75h-0.75zM453.3 224.5h0.75v0.75h-0.75zM454.4 224.2h0.75v0.75h-0.75zM455.2 224.2h0.75v0.75h-0.75zM456.1 224.3h0.75v0.75h-0.75zM457.4 224.2h0.75v0.75h-0.75zM458.5 224.1h0.75v0.75h-0.75zM461.0 224.3h0.75v0.75h-0.75zM493.2 224.3h0.75v0.75h-0.75zM442.3 225.4h0.75v0.75h-0.75zM447.6 225.1h0.75v0.75h-0.75zM448.5 225.6h0.75v0.75h-0.75zM449.2 225.5h0.75v0.75h-0.75zM450.0 225.4h0.75v0.75h-0.75zM451.2 225.1h0.75v0.75h-0.75zM452.3 225.1h0.75v0.75h-0.75zM453.5 225.1h0.75v0.75h-0.75zM455.0 225.2h0.75v0.75h-0.75zM456.3 225.1h0.75v0.75h-0.75zM457.3 225.4h0.75v0.75h-0.75zM461.6 225.1h0.75v0.75h-0.75zM463.3 225.1h0.75v0.75h-0.75zM464.5 225.5h0.75v0.75h-0.75zM471.5 225.2h0.75v0.75h-0.75zM446.4 226.2h0.75v0.75h-0.75zM448.4 226.1h0.75v0.75h-0.75zM449.5 226.4h0.75v0.75h-0.75zM450.4 226.3h0.75v0.75h-0.75zM451.5 226.2h0.75v0.75h-0.75zM452.6 226.1h0.75v0.75h-0.75zM453.2 226.5h0.75v0.75h-0.75zM454.3 226.1h0.75v0.75h-0.75zM455.4 226.4h0.75v0.75h-0.75zM456.5 226.4h0.75v0.75h-0.75zM457.2 226.1h0.75v0.75h-0.75zM458.2 226.4h0.75v0.75h-0.75zM459.0 226.3h0.75v0.75h-0.75zM460.5 226.3h0.75v0.75h-0.75zM461.2 226.1h0.75v0.75h-0.75zM463.2 226.1h0.75v0.75h-0.75zM465.4 226.5h0.75v0.75h-0.75zM467.5 226.1h0.75v0.75h-0.75zM445.4 227.1h0.75v0.75h-0.75zM446.2 227.2h0.75v0.75h-0.75zM447.1 227.2h0.75v0.75h-0.75zM448.2 227.3h0.75v0.75h-0.75zM449.2 227.2h0.75v0.75h-0.75zM450.1 227.5h0.75v0.75h-0.75zM451.4 227.5h0.75v0.75h-0.75zM452.5 227.3h0.75v0.75h-0.75zM453.5 227.2h0.75v0.75h-0.75zM454.3 227.2h0.75v0.75h-0.75zM455.5 227.0h0.75v0.75h-0.75zM456.2 227.6h0.75v0.75h-0.75zM457.0 227.3h0.75v0.75h-0.75zM458.2 227.5h0.75v0.75h-0.75zM459.4 227.6h0.75v0.75h-0.75zM460.5 227.2h0.75v0.75h-0.75zM461.2 227.2h0.75v0.75h-0.75zM462.1 227.5h0.75v0.75h-0.75zM463.4 227.5h0.75v0.75h-0.75zM464.0 227.2h0.75v0.75h-0.75zM486.5 227.2h0.75v0.75h-0.75zM439.1 228.2h0.75v0.75h-0.75zM441.4 228.1h0.75v0.75h-0.75zM445.4 228.0h0.75v0.75h-0.75zM446.5 228.4h0.75v0.75h-0.75zM447.2 228.1h0.75v0.75h-0.75zM448.2 228.0h0.75v0.75h-0.75zM449.5 228.5h0.75v0.75h-0.75zM450.1 228.1h0.75v0.75h-0.75zM451.6 228.5h0.75v0.75h-0.75zM452.5 228.1h0.75v0.75h-0.75zM453.3 228.1h0.75v0.75h-0.75zM454.5 228.4h0.75v0.75h-0.75zM455.3 228.4h0.75v0.75h-0.75zM456.5 228.1h0.75v0.75h-0.75zM457.4 228.2h0.75v0.75h-0.75zM458.5 228.3h0.75v0.75h-0.75zM459.3 228.0h0.75v0.75h-0.75zM460.5 228.3h0.75v0.75h-0.75zM461.1 228.5h0.75v0.75h-0.75zM462.4 228.1h0.75v0.75h-0.75zM464.0 228.4h0.75v0.75h-0.75zM467.5 228.4h0.75v0.75h-0.75zM440.2 229.2h0.75v0.75h-0.75zM443.5 229.6h0.75v0.75h-0.75zM444.1 229.2h0.75v0.75h-0.75zM445.5 229.6h0.75v0.75h-0.75zM446.5 229.5h0.75v0.75h-0.75zM447.1 229.5h0.75v0.75h-0.75zM448.2 229.3h0.75v0.75h-0.75zM449.3 229.4h0.75v0.75h-0.75zM450.2 229.5h0.75v0.75h-0.75zM451.1 229.1h0.75v0.75h-0.75zM452.0 229.2h0.75v0.75h-0.75zM453.1 229.3h0.75v0.75h-0.75zM454.4 229.5h0.75v0.75h-0.75zM455.0 229.4h0.75v0.75h-0.75zM456.6 229.4h0.75v0.75h-0.75zM457.4 229.4h0.75v0.75h-0.75zM458.0 229.0h0.75v0.75h-0.75zM459.1 229.3h0.75v0.75h-0.75zM460.2 229.5h0.75v0.75h-0.75zM461.2 229.2h0.75v0.75h-0.75zM468.4 229.3h0.75v0.75h-0.75zM469.0 229.5h0.75v0.75h-0.75zM472.2 229.3h0.75v0.75h-0.75zM429.4 230.3h0.75v0.75h-0.75zM444.6 230.4h0.75v0.75h-0.75zM445.1 230.6h0.75v0.75h-0.75zM446.6 230.2h0.75v0.75h-0.75zM447.4 230.0h0.75v0.75h-0.75zM448.5 230.0h0.75v0.75h-0.75zM449.3 230.3h0.75v0.75h-0.75zM450.1 230.1h0.75v0.75h-0.75zM451.1 230.3h0.75v0.75h-0.75zM452.0 230.1h0.75v0.75h-0.75zM453.3 230.2h0.75v0.75h-0.75zM454.5 230.6h0.75v0.75h-0.75zM455.2 230.0h0.75v0.75h-0.75zM456.0 230.2h0.75v0.75h-0.75zM457.5 230.3h0.75v0.75h-0.75zM458.5 230.4h0.75v0.75h-0.75zM459.1 230.4h0.75v0.75h-0.75zM460.5 230.6h0.75v0.75h-0.75zM461.5 230.3h0.75v0.75h-0.75zM462.2 230.1h0.75v0.75h-0.75zM467.6 230.5h0.75v0.75h-0.75zM433.6 231.3h0.75v0.75h-0.75zM435.5 231.5h0.75v0.75h-0.75zM439.1 231.3h0.75v0.75h-0.75zM440.1 231.2h0.75v0.75h-0.75zM442.2 231.4h0.75v0.75h-0.75zM443.5 231.1h0.75v0.75h-0.75zM444.2 231.1h0.75v0.75h-0.75zM445.5 231.4h0.75v0.75h-0.75zM446.2 231.2h0.75v0.75h-0.75zM447.4 231.1h0.75v0.75h-0.75zM448.1 231.6h0.75v0.75h-0.75zM449.1 231.1h0.75v0.75h-0.75zM450.2 231.4h0.75v0.75h-0.75zM451.1 231.0h0.75v0.75h-0.75zM452.2 231.4h0.75v0.75h-0.75zM453.3 231.4h0.75v0.75h-0.75zM454.3 231.6h0.75v0.75h-0.75zM455.1 231.3h0.75v0.75h-0.75zM456.0 231.6h0.75v0.75h-0.75zM457.3 231.4h0.75v0.75h-0.75zM458.5 231.5h0.75v0.75h-0.75zM459.2 231.1h0.75v0.75h-0.75zM460.2 231.5h0.75v0.75h-0.75zM461.0 231.1h0.75v0.75h-0.75zM463.1 231.5h0.75v0.75h-0.75zM467.6 231.4h0.75v0.75h-0.75zM468.4 231.4h0.75v0.75h-0.75zM437.2 232.1h0.75v0.75h-0.75zM438.0 232.5h0.75v0.75h-0.75zM439.0 232.4h0.75v0.75h-0.75zM441.4 232.5h0.75v0.75h-0.75zM443.2 232.5h0.75v0.75h-0.75zM444.4 232.5h0.75v0.75h-0.75zM445.2 232.5h0.75v0.75h-0.75zM446.2 232.2h0.75v0.75h-0.75zM447.1 232.5h0.75v0.75h-0.75zM448.3 232.4h0.75v0.75h-0.75zM449.3 232.5h0.75v0.75h-0.75zM450.1 232.4h0.75v0.75h-0.75zM451.5 232.6h0.75v0.75h-0.75zM452.4 232.6h0.75v0.75h-0.75zM453.2 232.4h0.75v0.75h-0.75zM454.3 232.4h0.75v0.75h-0.75zM455.6 232.3h0.75v0.75h-0.75zM456.5 232.3h0.75v0.75h-0.75zM457.2 232.6h0.75v0.75h-0.75zM458.3 232.5h0.75v0.75h-0.75zM459.3 232.6h0.75v0.75h-0.75zM460.4 232.5h0.75v0.75h-0.75zM461.2 232.2h0.75v0.75h-0.75zM462.3 232.1h0.75v0.75h-0.75zM463.4 232.4h0.75v0.75h-0.75zM469.5 232.6h0.75v0.75h-0.75zM493.5 232.3h0.75v0.75h-0.75zM440.3 233.2h0.75v0.75h-0.75zM441.5 233.2h0.75v0.75h-0.75zM442.2 233.5h0.75v0.75h-0.75zM443.2 233.5h0.75v0.75h-0.75zM444.0 233.1h0.75v0.75h-0.75zM445.1 233.1h0.75v0.75h-0.75zM446.4 233.4h0.75v0.75h-0.75zM447.3 233.6h0.75v0.75h-0.75zM448.3 233.1h0.75v0.75h-0.75zM449.2 233.1h0.75v0.75h-0.75zM450.4 233.6h0.75v0.75h-0.75zM451.1 233.0h0.75v0.75h-0.75zM452.1 233.1h0.75v0.75h-0.75zM453.4 233.6h0.75v0.75h-0.75zM454.3 233.2h0.75v0.75h-0.75zM455.6 233.6h0.75v0.75h-0.75zM456.1 233.1h0.75v0.75h-0.75zM457.0 233.3h0.75v0.75h-0.75zM458.3 233.5h0.75v0.75h-0.75zM459.5 233.4h0.75v0.75h-0.75zM460.6 233.5h0.75v0.75h-0.75zM461.1 233.1h0.75v0.75h-0.75zM463.0 233.5h0.75v0.75h-0.75zM436.1 234.5h0.75v0.75h-0.75zM437.3 234.2h0.75v0.75h-0.75zM442.3 234.5h0.75v0.75h-0.75zM443.5 234.5h0.75v0.75h-0.75zM444.1 234.3h0.75v0.75h-0.75zM446.1 234.4h0.75v0.75h-0.75zM447.1 234.1h0.75v0.75h-0.75zM448.2 234.2h0.75v0.75h-0.75zM449.4 234.1h0.75v0.75h-0.75zM450.6 234.6h0.75v0.75h-0.75zM451.6 234.2h0.75v0.75h-0.75zM452.0 234.1h0.75v0.75h-0.75zM453.4 234.3h0.75v0.75h-0.75zM454.2 234.6h0.75v0.75h-0.75zM455.5 234.4h0.75v0.75h-0.75zM456.2 234.6h0.75v0.75h-0.75zM457.0 234.0h0.75v0.75h-0.75zM458.3 234.1h0.75v0.75h-0.75zM460.4 234.0h0.75v0.75h-0.75zM461.6 234.2h0.75v0.75h-0.75zM462.2 234.5h0.75v0.75h-0.75zM468.5 234.6h0.75v0.75h-0.75zM438.5 235.0h0.75v0.75h-0.75zM441.2 235.4h0.75v0.75h-0.75zM442.4 235.3h0.75v0.75h-0.75zM444.3 235.3h0.75v0.75h-0.75zM445.3 235.5h0.75v0.75h-0.75zM446.5 235.3h0.75v0.75h-0.75zM447.1 235.4h0.75v0.75h-0.75zM448.6 235.0h0.75v0.75h-0.75zM449.1 235.2h0.75v0.75h-0.75zM450.4 235.2h0.75v0.75h-0.75zM451.4 235.2h0.75v0.75h-0.75zM452.0 235.1h0.75v0.75h-0.75zM453.4 235.1h0.75v0.75h-0.75zM454.1 235.2h0.75v0.75h-0.75zM455.0 235.2h0.75v0.75h-0.75zM457.5 235.5h0.75v0.75h-0.75zM458.6 235.4h0.75v0.75h-0.75zM459.1 235.3h0.75v0.75h-0.75zM460.2 235.3h0.75v0.75h-0.75zM461.2 235.3h0.75v0.75h-0.75zM462.4 235.1h0.75v0.75h-0.75zM474.0 235.2h0.75v0.75h-0.75zM426.2 236.2h0.75v0.75h-0.75zM439.1 236.1h0.75v0.75h-0.75zM440.2 236.5h0.75v0.75h-0.75zM445.2 236.1h0.75v0.75h-0.75zM446.5 236.3h0.75v0.75h-0.75zM447.1 236.2h0.75v0.75h-0.75zM448.6 236.1h0.75v0.75h-0.75zM449.0 236.1h0.75v0.75h-0.75zM450.3 236.3h0.75v0.75h-0.75zM451.3 236.6h0.75v0.75h-0.75zM452.3 236.2h0.75v0.75h-0.75zM453.5 236.2h0.75v0.75h-0.75zM454.3 236.2h0.75v0.75h-0.75zM455.2 236.1h0.75v0.75h-0.75zM456.2 236.2h0.75v0.75h-0.75zM457.3 236.6h0.75v0.75h-0.75zM458.1 236.4h0.75v0.75h-0.75zM463.3 236.1h0.75v0.75h-0.75zM468.3 236.4h0.75v0.75h-0.75zM485.5 236.2h0.75v0.75h-0.75zM441.3 237.5h0.75v0.75h-0.75zM443.5 237.1h0.75v0.75h-0.75zM444.3 237.2h0.75v0.75h-0.75zM446.5 237.3h0.75v0.75h-0.75zM447.1 237.5h0.75v0.75h-0.75zM448.5 237.4h0.75v0.75h-0.75zM449.4 237.6h0.75v0.75h-0.75zM450.2 237.3h0.75v0.75h-0.75zM451.5 237.2h0.75v0.75h-0.75zM452.3 237.1h0.75v0.75h-0.75zM453.3 237.3h0.75v0.75h-0.75zM454.6 237.1h0.75v0.75h-0.75zM455.3 237.3h0.75v0.75h-0.75zM456.2 237.4h0.75v0.75h-0.75zM457.4 237.2h0.75v0.75h-0.75zM458.4 237.4h0.75v0.75h-0.75zM461.1 237.1h0.75v0.75h-0.75zM462.3 237.2h0.75v0.75h-0.75zM464.1 237.0h0.75v0.75h-0.75zM477.3 237.5h0.75v0.75h-0.75zM478.5 237.6h0.75v0.75h-0.75zM434.3 238.2h0.75v0.75h-0.75zM437.4 238.4h0.75v0.75h-0.75zM439.2 238.4h0.75v0.75h-0.75zM440.1 238.3h0.75v0.75h-0.75zM441.1 238.0h0.75v0.75h-0.75zM445.4 238.5h0.75v0.75h-0.75zM447.3 238.1h0.75v0.75h-0.75zM448.4 238.2h0.75v0.75h-0.75zM449.1 238.5h0.75v0.75h-0.75zM450.1 238.3h0.75v0.75h-0.75zM454.5 238.4h0.75v0.75h-0.75zM456.5 238.3h0.75v0.75h-0.75zM458.2 238.4h0.75v0.75h-0.75zM461.1 238.6h0.75v0.75h-0.75zM464.3 238.3h0.75v0.75h-0.75zM477.1 238.3h0.75v0.75h-0.75zM480.2 238.2h0.75v0.75h-0.75zM442.5 239.4h0.75v0.75h-0.75zM444.0 239.3h0.75v0.75h-0.75zM445.2 239.6h0.75v0.75h-0.75zM448.1 239.2h0.75v0.75h-0.75zM449.4 239.3h0.75v0.75h-0.75zM450.6 239.1h0.75v0.75h-0.75zM451.1 239.0h0.75v0.75h-0.75zM453.6 239.5h0.75v0.75h-0.75zM454.0 239.2h0.75v0.75h-0.75zM455.0 239.3h0.75v0.75h-0.75zM461.5 239.4h0.75v0.75h-0.75zM465.3 239.2h0.75v0.75h-0.75zM474.2 239.5h0.75v0.75h-0.75zM476.4 239.5h0.75v0.75h-0.75zM442.0 240.5h0.75v0.75h-0.75zM445.3 240.0h0.75v0.75h-0.75zM447.4 240.1h0.75v0.75h-0.75zM448.2 240.4h0.75v0.75h-0.75zM451.3 240.5h0.75v0.75h-0.75zM453.3 240.6h0.75v0.75h-0.75zM454.5 240.5h0.75v0.75h-0.75zM456.2 240.3h0.75v0.75h-0.75zM461.5 240.5h0.75v0.75h-0.75zM463.5 240.3h0.75v0.75h-0.75zM464.5 240.4h0.75v0.75h-0.75zM466.2 240.2h0.75v0.75h-0.75zM469.2 240.1h0.75v0.75h-0.75zM471.2 240.3h0.75v0.75h-0.75zM473.3 240.3h0.75v0.75h-0.75zM475.1 240.0h0.75v0.75h-0.75zM476.5 240.5h0.75v0.75h-0.75zM478.3 240.3h0.75v0.75h-0.75zM483.0 240.3h0.75v0.75h-0.75zM442.0 241.5h0.75v0.75h-0.75zM446.4 241.4h0.75v0.75h-0.75zM447.4 241.4h0.75v0.75h-0.75zM448.2 241.1h0.75v0.75h-0.75zM450.1 241.4h0.75v0.75h-0.75zM452.1 241.2h0.75v0.75h-0.75zM453.5 241.6h0.75v0.75h-0.75zM454.4 241.3h0.75v0.75h-0.75zM457.2 241.2h0.75v0.75h-0.75zM459.0 241.5h0.75v0.75h-0.75zM460.1 241.2h0.75v0.75h-0.75zM461.2 241.3h0.75v0.75h-0.75zM462.3 241.5h0.75v0.75h-0.75zM463.6 241.5h0.75v0.75h-0.75zM466.4 241.1h0.75v0.75h-0.75zM468.3 241.4h0.75v0.75h-0.75zM469.3 241.6h0.75v0.75h-0.75zM471.2 241.1h0.75v0.75h-0.75zM472.1 241.5h0.75v0.75h-0.75zM473.5 241.1h0.75v0.75h-0.75zM475.6 241.2h0.75v0.75h-0.75zM477.6 241.5h0.75v0.75h-0.75zM429.2 242.6h0.75v0.75h-0.75zM444.0 242.2h0.75v0.75h-0.75zM448.4 242.1h0.75v0.75h-0.75zM449.5 242.1h0.75v0.75h-0.75zM453.1 242.1h0.75v0.75h-0.75zM454.4 242.5h0.75v0.75h-0.75zM455.6 242.4h0.75v0.75h-0.75zM456.3 242.5h0.75v0.75h-0.75zM457.3 242.3h0.75v0.75h-0.75zM458.2 242.2h0.75v0.75h-0.75zM459.6 242.1h0.75v0.75h-0.75zM460.2 242.3h0.75v0.75h-0.75zM461.1 242.0h0.75v0.75h-0.75zM463.3 242.2h0.75v0.75h-0.75zM466.2 242.4h0.75v0.75h-0.75zM472.5 242.4h0.75v0.75h-0.75zM476.4 242.3h0.75v0.75h-0.75zM480.3 242.5h0.75v0.75h-0.75zM441.4 243.3h0.75v0.75h-0.75zM443.1 243.2h0.75v0.75h-0.75zM446.1 243.0h0.75v0.75h-0.75zM449.0 243.6h0.75v0.75h-0.75zM452.1 243.1h0.75v0.75h-0.75zM454.4 243.2h0.75v0.75h-0.75zM455.6 243.0h0.75v0.75h-0.75zM456.1 243.3h0.75v0.75h-0.75zM457.1 243.4h0.75v0.75h-0.75zM458.1 243.5h0.75v0.75h-0.75zM459.1 243.3h0.75v0.75h-0.75zM460.4 243.5h0.75v0.75h-0.75zM461.5 243.0h0.75v0.75h-0.75zM462.4 243.5h0.75v0.75h-0.75zM463.5 243.4h0.75v0.75h-0.75zM464.5 243.2h0.75v0.75h-0.75zM465.2 243.1h0.75v0.75h-0.75zM466.1 243.2h0.75v0.75h-0.75zM467.2 243.5h0.75v0.75h-0.75zM469.3 243.5h0.75v0.75h-0.75zM471.2 243.3h0.75v0.75h-0.75zM446.6 244.4h0.75v0.75h-0.75zM447.0 244.3h0.75v0.75h-0.75zM450.3 244.2h0.75v0.75h-0.75zM451.6 244.6h0.75v0.75h-0.75zM452.0 244.1h0.75v0.75h-0.75zM453.3 244.6h0.75v0.75h-0.75zM454.1 244.1h0.75v0.75h-0.75zM455.0 244.3h0.75v0.75h-0.75zM456.3 244.4h0.75v0.75h-0.75zM457.4 244.4h0.75v0.75h-0.75zM458.2 244.0h0.75v0.75h-0.75zM459.1 244.5h0.75v0.75h-0.75zM460.5 244.3h0.75v0.75h-0.75zM461.4 244.6h0.75v0.75h-0.75zM462.2 244.2h0.75v0.75h-0.75zM463.5 244.2h0.75v0.75h-0.75zM464.2 244.1h0.75v0.75h-0.75zM465.5 244.0h0.75v0.75h-0.75zM466.6 244.6h0.75v0.75h-0.75zM468.0 244.6h0.75v0.75h-0.75zM472.5 244.0h0.75v0.75h-0.75zM474.2 244.3h0.75v0.75h-0.75zM436.5 245.1h0.75v0.75h-0.75zM445.2 245.1h0.75v0.75h-0.75zM447.6 245.3h0.75v0.75h-0.75zM449.2 245.3h0.75v0.75h-0.75zM450.6 245.4h0.75v0.75h-0.75zM451.0 245.3h0.75v0.75h-0.75zM452.4 245.1h0.75v0.75h-0.75zM453.6 245.2h0.75v0.75h-0.75zM454.2 245.5h0.75v0.75h-0.75zM455.2 245.5h0.75v0.75h-0.75zM456.2 245.4h0.75v0.75h-0.75zM457.5 245.2h0.75v0.75h-0.75zM458.3 245.6h0.75v0.75h-0.75zM459.4 245.4h0.75v0.75h-0.75zM460.5 245.4h0.75v0.75h-0.75zM461.2 245.6h0.75v0.75h-0.75zM462.2 245.2h0.75v0.75h-0.75zM465.0 245.3h0.75v0.75h-0.75zM466.5 245.5h0.75v0.75h-0.75zM469.1 245.5h0.75v0.75h-0.75zM470.0 245.6h0.75v0.75h-0.75zM430.2 246.3h0.75v0.75h-0.75zM438.0 246.3h0.75v0.75h-0.75zM439.2 246.1h0.75v0.75h-0.75zM440.1 246.2h0.75v0.75h-0.75zM445.3 246.3h0.75v0.75h-0.75zM446.4 246.4h0.75v0.75h-0.75zM447.2 246.0h0.75v0.75h-0.75zM448.5 246.5h0.75v0.75h-0.75zM449.1 246.2h0.75v0.75h-0.75zM450.5 246.5h0.75v0.75h-0.75zM451.2 246.3h0.75v0.75h-0.75zM452.2 246.1h0.75v0.75h-0.75zM453.1 246.2h0.75v0.75h-0.75zM454.3 246.5h0.75v0.75h-0.75zM455.3 246.1h0.75v0.75h-0.75zM456.0 246.2h0.75v0.75h-0.75zM457.1 246.1h0.75v0.75h-0.75zM458.0 246.1h0.75v0.75h-0.75zM459.0 246.5h0.75v0.75h-0.75zM460.3 246.2h0.75v0.75h-0.75zM461.3 246.3h0.75v0.75h-0.75zM463.3 246.4h0.75v0.75h-0.75zM466.1 246.3h0.75v0.75h-0.75zM475.1 246.3h0.75v0.75h-0.75zM431.1 247.5h0.75v0.75h-0.75zM437.5 247.3h0.75v0.75h-0.75zM438.3 247.0h0.75v0.75h-0.75zM440.5 247.1h0.75v0.75h-0.75zM444.0 247.5h0.75v0.75h-0.75zM445.1 247.3h0.75v0.75h-0.75zM446.3 247.1h0.75v0.75h-0.75zM447.2 247.5h0.75v0.75h-0.75zM448.6 247.0h0.75v0.75h-0.75zM449.2 247.4h0.75v0.75h-0.75zM450.3 247.6h0.75v0.75h-0.75zM451.1 247.3h0.75v0.75h-0.75zM452.1 247.2h0.75v0.75h-0.75zM453.4 247.1h0.75v0.75h-0.75zM454.6 247.1h0.75v0.75h-0.75zM455.0 247.1h0.75v0.75h-0.75zM456.6 247.2h0.75v0.75h-0.75zM457.3 247.3h0.75v0.75h-0.75zM458.3 247.2h0.75v0.75h-0.75zM459.1 247.1h0.75v0.75h-0.75zM460.4 247.6h0.75v0.75h-0.75zM461.1 247.5h0.75v0.75h-0.75zM462.6 247.4h0.75v0.75h-0.75zM463.1 247.4h0.75v0.75h-0.75zM465.0 247.6h0.75v0.75h-0.75zM472.1 247.4h0.75v0.75h-0.75zM429.0 248.4h0.75v0.75h-0.75zM432.3 248.4h0.75v0.75h-0.75zM434.1 248.2h0.75v0.75h-0.75zM437.3 248.2h0.75v0.75h-0.75zM439.0 248.2h0.75v0.75h-0.75zM441.1 248.0h0.75v0.75h-0.75zM442.4 248.3h0.75v0.75h-0.75zM443.5 248.4h0.75v0.75h-0.75zM444.5 248.3h0.75v0.75h-0.75zM445.6 248.5h0.75v0.75h-0.75zM446.1 248.3h0.75v0.75h-0.75zM447.1 248.5h0.75v0.75h-0.75zM448.0 248.3h0.75v0.75h-0.75zM449.5 248.1h0.75v0.75h-0.75zM450.2 248.1h0.75v0.75h-0.75zM451.4 248.4h0.75v0.75h-0.75zM452.0 248.5h0.75v0.75h-0.75zM453.3 248.0h0.75v0.75h-0.75zM454.6 248.3h0.75v0.75h-0.75zM455.2 248.4h0.75v0.75h-0.75zM456.2 248.3h0.75v0.75h-0.75zM457.1 248.3h0.75v0.75h-0.75zM458.2 248.6h0.75v0.75h-0.75zM459.2 248.1h0.75v0.75h-0.75zM461.0 248.4h0.75v0.75h-0.75zM462.4 248.3h0.75v0.75h-0.75zM464.3 248.4h0.75v0.75h-0.75zM465.3 248.0h0.75v0.75h-0.75zM473.2 248.2h0.75v0.75h-0.75zM434.0 249.5h0.75v0.75h-0.75zM436.3 249.4h0.75v0.75h-0.75zM439.3 249.5h0.75v0.75h-0.75zM440.4 249.1h0.75v0.75h-0.75zM441.5 249.5h0.75v0.75h-0.75zM443.0 249.2h0.75v0.75h-0.75zM444.2 249.2h0.75v0.75h-0.75zM445.4 249.3h0.75v0.75h-0.75zM446.2 249.3h0.75v0.75h-0.75zM447.1 249.3h0.75v0.75h-0.75zM448.0 249.6h0.75v0.75h-0.75zM449.0 249.4h0.75v0.75h-0.75zM450.3 249.5h0.75v0.75h-0.75zM451.2 249.3h0.75v0.75h-0.75zM452.1 249.1h0.75v0.75h-0.75zM453.4 249.0h0.75v0.75h-0.75zM454.6 249.2h0.75v0.75h-0.75zM455.3 249.2h0.75v0.75h-0.75zM456.4 249.2h0.75v0.75h-0.75zM457.4 249.4h0.75v0.75h-0.75zM458.1 249.1h0.75v0.75h-0.75zM460.1 249.1h0.75v0.75h-0.75zM426.4 250.0h0.75v0.75h-0.75zM432.2 250.2h0.75v0.75h-0.75zM435.4 250.3h0.75v0.75h-0.75zM436.4 250.1h0.75v0.75h-0.75zM437.0 250.1h0.75v0.75h-0.75zM438.6 250.4h0.75v0.75h-0.75zM439.6 250.3h0.75v0.75h-0.75zM440.5 250.3h0.75v0.75h-0.75zM441.0 250.3h0.75v0.75h-0.75zM442.1 250.4h0.75v0.75h-0.75zM443.6 250.2h0.75v0.75h-0.75zM444.5 250.5h0.75v0.75h-0.75zM445.2 250.5h0.75v0.75h-0.75zM446.2 250.5h0.75v0.75h-0.75zM447.5 250.3h0.75v0.75h-0.75zM448.4 250.3h0.75v0.75h-0.75zM449.0 250.3h0.75v0.75h-0.75zM450.1 250.5h0.75v0.75h-0.75zM451.5 250.4h0.75v0.75h-0.75zM452.3 250.6h0.75v0.75h-0.75zM453.3 250.2h0.75v0.75h-0.75zM454.4 250.6h0.75v0.75h-0.75zM455.2 250.1h0.75v0.75h-0.75zM456.5 250.5h0.75v0.75h-0.75zM459.5 250.1h0.75v0.75h-0.75zM460.4 250.3h0.75v0.75h-0.75zM464.4 250.3h0.75v0.75h-0.75zM433.0 251.5h0.75v0.75h-0.75zM434.0 251.1h0.75v0.75h-0.75zM435.3 251.2h0.75v0.75h-0.75zM436.6 251.5h0.75v0.75h-0.75zM438.3 251.3h0.75v0.75h-0.75zM439.1 251.1h0.75v0.75h-0.75zM440.5 251.3h0.75v0.75h-0.75zM441.5 251.3h0.75v0.75h-0.75zM442.4 251.2h0.75v0.75h-0.75zM443.1 251.2h0.75v0.75h-0.75zM444.4 251.3h0.75v0.75h-0.75zM445.3 251.3h0.75v0.75h-0.75zM446.3 251.2h0.75v0.75h-0.75zM447.1 251.1h0.75v0.75h-0.75zM448.5 251.4h0.75v0.75h-0.75zM449.0 251.6h0.75v0.75h-0.75zM450.3 251.3h0.75v0.75h-0.75zM451.5 251.4h0.75v0.75h-0.75zM417.2 252.5h0.75v0.75h-0.75zM425.0 252.2h0.75v0.75h-0.75zM427.6 252.4h0.75v0.75h-0.75zM431.4 252.2h0.75v0.75h-0.75zM432.4 252.3h0.75v0.75h-0.75zM433.3 252.0h0.75v0.75h-0.75zM434.1 252.5h0.75v0.75h-0.75zM435.5 252.2h0.75v0.75h-0.75zM437.2 252.6h0.75v0.75h-0.75zM439.3 252.2h0.75v0.75h-0.75zM440.4 252.1h0.75v0.75h-0.75zM441.3 252.5h0.75v0.75h-0.75zM442.5 252.5h0.75v0.75h-0.75zM443.3 252.2h0.75v0.75h-0.75zM444.3 252.3h0.75v0.75h-0.75zM446.2 252.1h0.75v0.75h-0.75zM452.0 252.1h0.75v0.75h-0.75zM454.1 252.2h0.75v0.75h-0.75zM457.5 252.0h0.75v0.75h-0.75zM459.5 252.5h0.75v0.75h-0.75zM419.3 253.1h0.75v0.75h-0.75zM425.5 253.4h0.75v0.75h-0.75zM427.6 253.4h0.75v0.75h-0.75zM430.4 253.6h0.75v0.75h-0.75zM433.1 253.5h0.75v0.75h-0.75zM436.1 253.2h0.75v0.75h-0.75zM437.2 253.1h0.75v0.75h-0.75zM438.4 253.2h0.75v0.75h-0.75zM439.2 253.0h0.75v0.75h-0.75zM440.5 253.2h0.75v0.75h-0.75zM441.1 253.6h0.75v0.75h-0.75zM442.0 253.2h0.75v0.75h-0.75zM445.5 253.4h0.75v0.75h-0.75zM446.0 253.3h0.75v0.75h-0.75zM448.6 253.1h0.75v0.75h-0.75zM450.5 253.2h0.75v0.75h-0.75zM430.4 254.1h0.75v0.75h-0.75zM431.4 254.4h0.75v0.75h-0.75zM433.5 254.0h0.75v0.75h-0.75zM434.0 254.3h0.75v0.75h-0.75zM436.3 254.5h0.75v0.75h-0.75zM439.1 254.1h0.75v0.75h-0.75zM440.4 254.6h0.75v0.75h-0.75zM442.4 254.0h0.75v0.75h-0.75zM443.1 254.5h0.75v0.75h-0.75zM444.3 254.3h0.75v0.75h-0.75zM445.4 254.2h0.75v0.75h-0.75zM446.2 254.6h0.75v0.75h-0.75zM417.2 255.4h0.75v0.75h-0.75zM427.3 255.6h0.75v0.75h-0.75zM431.3 255.3h0.75v0.75h-0.75zM436.1 255.3h0.75v0.75h-0.75zM438.4 255.2h0.75v0.75h-0.75zM439.6 255.6h0.75v0.75h-0.75zM446.3 255.0h0.75v0.75h-0.75zM448.1 255.3h0.75v0.75h-0.75zM424.5 256.3h0.75v0.75h-0.75zM427.2 256.5h0.75v0.75h-0.75zM432.3 256.1h0.75v0.75h-0.75zM433.4 256.3h0.75v0.75h-0.75zM435.6 256.6h0.75v0.75h-0.75zM437.5 256.3h0.75v0.75h-0.75zM426.4 257.1h0.75v0.75h-0.75zM432.5 257.3h0.75v0.75h-0.75zM435.5 257.0h0.75v0.75h-0.75zM436.3 257.3h0.75v0.75h-0.75zM420.4 259.5h0.75v0.75h-0.75zM421.1 259.2h0.75v0.75h-0.75zM435.3 260.2h0.75v0.75h-0.75z" fill="#3446e4" fill-opacity="0.55"/>
<g filter="url(#bl)">
<path d="M452.0 227.5h2.0v0.5h-2.0zM451.0 228.0h0.5v0.5h-0.5zM454.5 228.0h0.5v0.5h-0.5zM450.5 228.5h0.5v0.5h-0.5zM455.0 228.5h0.5v0.5h-0.5zM450.5 229.0h0.5v0.5h-0.5zM455.0 229.0h0.5v0.5h-0.5zM450.5 229.5h0.5v0.5h-0.5zM455.0 229.5h0.5v0.5h-0.5zM450.5 230.0h0.5v0.5h-0.5zM455.0 230.0h0.5v0.5h-0.5zM451.0 230.5h0.5v0.5h-0.5zM454.5 230.5h0.5v0.5h-0.5zM456.5 230.5h1.0v0.5h-1.0zM452.0 231.0h2.0v0.5h-2.0zM456.0 231.0h0.5v0.5h-0.5zM457.5 231.0h0.5v0.5h-0.5zM455.5 231.5h0.5v0.5h-0.5zM458.0 231.5h0.5v0.5h-0.5zM446.5 232.0h0.5v0.5h-0.5zM449.0 232.0h0.5v0.5h-0.5zM455.5 232.0h0.5v0.5h-0.5zM458.0 232.0h0.5v0.5h-0.5zM446.0 232.5h0.5v0.5h-0.5zM449.5 232.5h0.5v0.5h-0.5zM456.0 232.5h0.5v0.5h-0.5zM457.5 232.5h0.5v0.5h-0.5zM456.5 233.0h1.0v0.5h-1.0zM446.0 234.0h0.5v0.5h-0.5zM449.5 234.0h0.5v0.5h-0.5zM446.5 234.5h0.5v0.5h-0.5zM449.0 234.5h0.5v0.5h-0.5zM449.5 246.5h1.5v0.5h-1.5zM454.0 246.5h1.5v0.5h-1.5zM448.0 247.0h1.0v0.5h-1.0zM455.0 247.0h1.0v0.5h-1.0zM442.0 247.5h2.0v0.5h-2.0zM445.0 247.5h2.5v0.5h-2.5zM455.0 247.5h1.0v0.5h-1.0zM439.5 248.0h1.0v0.5h-1.0zM455.0 248.0h1.0v0.5h-1.0zM431.0 248.5h2.5v0.5h-2.5zM438.0 248.5h0.5v0.5h-0.5zM454.5 248.5h1.0v0.5h-1.0zM428.5 249.0h1.0v0.5h-1.0zM454.0 249.0h1.0v0.5h-1.0zM426.5 249.5h1.0v0.5h-1.0zM453.5 249.5h0.5v0.5h-0.5zM425.0 250.0h0.5v0.5h-0.5zM452.5 250.0h0.5v0.5h-0.5zM423.5 250.5h1.0v0.5h-1.0zM451.0 250.5h1.0v0.5h-1.0zM422.5 251.0h0.5v0.5h-0.5zM449.0 251.0h1.5v0.5h-1.5zM447.5 251.5h0.5v0.5h-0.5zM446.5 252.0h0.5v0.5h-0.5zM445.5 252.5h0.5v0.5h-0.5zM444.5 253.0h0.5v0.5h-0.5zM444.0 253.5h0.5v0.5h-0.5zM443.5 254.0h0.5v0.5h-0.5zM443.0 254.5h0.5v0.5h-0.5zM442.5 255.0h0.5v0.5h-0.5zM441.5 255.5h1.0v0.5h-1.0zM441.0 256.0h0.5v0.5h-0.5zM440.0 256.5h0.5v0.5h-0.5zM438.5 257.0h1.0v0.5h-1.0zM437.5 257.5h0.5v0.5h-0.5zM435.5 258.0h1.0v0.5h-1.0zM433.5 258.5h1.0v0.5h-1.0zM423.0 259.0h2.0v0.5h-2.0zM429.5 259.0h2.5v0.5h-2.5z" fill="#3444ee"/>
<path d="M451.5 228.0h3.0v0.5h-3.0zM451.0 228.5h1.0v0.5h-1.0zM454.0 228.5h1.0v0.5h-1.0zM451.0 229.0h0.5v0.5h-0.5zM454.5 229.0h0.5v0.5h-0.5zM451.0 229.5h0.5v0.5h-0.5zM454.5 229.5h0.5v0.5h-0.5zM451.0 230.0h1.0v0.5h-1.0zM454.0 230.0h1.0v0.5h-1.0zM451.5 230.5h3.0v0.5h-3.0zM456.5 231.0h1.0v0.5h-1.0zM456.0 231.5h2.0v0.5h-2.0zM447.0 232.0h2.0v0.5h-2.0zM456.0 232.0h2.0v0.5h-2.0zM446.5 232.5h0.5v0.5h-0.5zM449.0 232.5h0.5v0.5h-0.5zM456.5 232.5h1.0v0.5h-1.0zM446.0 233.0h0.5v0.5h-0.5zM449.5 233.0h0.5v0.5h-0.5zM446.0 233.5h0.5v0.5h-0.5zM449.5 233.5h0.5v0.5h-0.5zM446.5 234.0h0.5v0.5h-0.5zM449.0 234.0h0.5v0.5h-0.5zM447.0 234.5h2.0v0.5h-2.0zM451.0 246.5h3.0v0.5h-3.0zM449.0 247.0h2.0v0.5h-2.0zM452.5 247.0h2.5v0.5h-2.5zM444.0 247.5h1.0v0.5h-1.0zM447.5 247.5h1.5v0.5h-1.5zM454.0 247.5h1.0v0.5h-1.0zM440.5 248.0h1.5v0.5h-1.5zM446.0 248.0h1.5v0.5h-1.5zM454.0 248.0h1.0v0.5h-1.0zM433.5 248.5h4.5v0.5h-4.5zM438.5 248.5h1.0v0.5h-1.0zM453.5 248.5h1.0v0.5h-1.0zM429.5 249.0h2.0v0.5h-2.0zM453.0 249.0h1.0v0.5h-1.0zM427.5 249.5h1.5v0.5h-1.5zM452.5 249.5h1.0v0.5h-1.0zM425.5 250.0h1.5v0.5h-1.5zM451.0 250.0h1.5v0.5h-1.5zM424.5 250.5h1.0v0.5h-1.0zM449.0 250.5h2.0v0.5h-2.0zM423.0 251.0h1.0v0.5h-1.0zM447.5 251.0h1.5v0.5h-1.5zM422.5 251.5h0.5v0.5h-0.5zM446.5 251.5h1.0v0.5h-1.0zM446.0 252.0h0.5v0.5h-0.5zM445.0 252.5h0.5v0.5h-0.5zM444.0 253.0h0.5v0.5h-0.5zM443.0 253.5h1.0v0.5h-1.0zM443.0 254.0h0.5v0.5h-0.5zM442.5 254.5h0.5v0.5h-0.5zM441.5 255.0h1.0v0.5h-1.0zM441.0 255.5h0.5v0.5h-0.5zM440.0 256.0h1.0v0.5h-1.0zM439.0 256.5h1.0v0.5h-1.0zM437.5 257.0h1.0v0.5h-1.0zM436.0 257.5h1.5v0.5h-1.5zM434.0 258.0h1.5v0.5h-1.5zM422.5 258.5h1.5v0.5h-1.5zM431.5 258.5h2.0v0.5h-2.0zM425.0 259.0h4.5v0.5h-4.5z" fill="#2aa8f2"/>
<path d="M452.0 228.5h2.0v0.5h-2.0zM451.5 229.0h3.0v0.5h-3.0zM451.5 229.5h3.0v0.5h-3.0zM452.0 230.0h2.0v0.5h-2.0zM447.0 232.5h2.0v0.5h-2.0zM446.5 233.0h3.0v0.5h-3.0zM446.5 233.5h3.0v0.5h-3.0zM447.0 234.0h2.0v0.5h-2.0zM451.0 247.0h1.5v0.5h-1.5zM449.0 247.5h5.0v0.5h-5.0zM442.0 248.0h4.0v0.5h-4.0zM447.5 248.0h6.5v0.5h-6.5zM439.5 248.5h1.0v0.5h-1.0zM446.5 248.5h7.0v0.5h-7.0zM431.5 249.0h7.5v0.5h-7.5zM447.0 249.0h6.0v0.5h-6.0zM429.0 249.5h1.5v0.5h-1.5zM447.5 249.5h5.0v0.5h-5.0zM427.0 250.0h1.0v0.5h-1.0zM447.5 250.0h3.5v0.5h-3.5zM425.5 250.5h1.0v0.5h-1.0zM447.0 250.5h2.0v0.5h-2.0zM424.0 251.0h1.0v0.5h-1.0zM446.5 251.0h1.0v0.5h-1.0zM423.0 251.5h1.0v0.5h-1.0zM446.0 251.5h0.5v0.5h-0.5zM422.5 252.0h0.5v0.5h-0.5zM445.0 252.0h1.0v0.5h-1.0zM444.0 252.5h1.0v0.5h-1.0zM443.0 253.0h1.0v0.5h-1.0zM442.5 253.5h0.5v0.5h-0.5zM442.0 254.0h1.0v0.5h-1.0zM441.5 254.5h1.0v0.5h-1.0zM441.0 255.0h0.5v0.5h-0.5zM440.0 255.5h1.0v0.5h-1.0zM439.0 256.0h1.0v0.5h-1.0zM438.0 256.5h1.0v0.5h-1.0zM436.5 257.0h1.0v0.5h-1.0zM435.0 257.5h1.0v0.5h-1.0zM422.5 258.0h1.0v0.5h-1.0zM432.5 258.0h1.5v0.5h-1.5zM424.0 258.5h7.5v0.5h-7.5z" fill="#30cc70"/>
<path d="M440.5 248.5h6.0v0.5h-6.0zM439.0 249.0h1.5v0.5h-1.5zM445.5 249.0h1.5v0.5h-1.5zM430.5 249.5h8.5v0.5h-8.5zM446.0 249.5h1.5v0.5h-1.5zM428.0 250.0h2.0v0.5h-2.0zM446.0 250.0h1.5v0.5h-1.5zM426.5 250.5h1.5v0.5h-1.5zM446.0 250.5h1.0v0.5h-1.0zM425.0 251.0h1.5v0.5h-1.5zM445.5 251.0h1.0v0.5h-1.0zM424.0 251.5h1.0v0.5h-1.0zM445.0 251.5h1.0v0.5h-1.0zM423.0 252.0h1.0v0.5h-1.0zM444.0 252.0h1.0v0.5h-1.0zM422.5 252.5h0.5v0.5h-0.5zM442.5 252.5h1.5v0.5h-1.5zM441.5 253.0h1.5v0.5h-1.5zM441.5 253.5h1.0v0.5h-1.0zM441.0 254.0h1.0v0.5h-1.0zM440.5 254.5h1.0v0.5h-1.0zM440.0 255.0h1.0v0.5h-1.0zM439.0 255.5h1.0v0.5h-1.0zM438.0 256.0h1.0v0.5h-1.0zM436.5 256.5h1.5v0.5h-1.5zM435.0 257.0h1.5v0.5h-1.5zM422.5 257.5h1.5v0.5h-1.5zM433.0 257.5h2.0v0.5h-2.0zM423.5 258.0h9.0v0.5h-9.0z" fill="#a8e030"/>
<path d="M440.5 249.0h5.0v0.5h-5.0zM439.0 249.5h7.0v0.5h-7.0zM430.0 250.0h3.5v0.5h-3.5zM435.0 250.0h5.0v0.5h-5.0zM444.0 250.0h2.0v0.5h-2.0zM428.0 250.5h1.5v0.5h-1.5zM438.5 250.5h0.5v0.5h-0.5zM444.0 250.5h2.0v0.5h-2.0zM426.5 251.0h1.5v0.5h-1.5zM444.0 251.0h1.5v0.5h-1.5zM425.0 251.5h1.5v0.5h-1.5zM443.0 251.5h2.0v0.5h-2.0zM424.0 252.0h1.5v0.5h-1.5zM442.0 252.0h2.0v0.5h-2.0zM423.0 252.5h1.5v0.5h-1.5zM440.5 252.5h2.0v0.5h-2.0zM422.5 253.0h1.0v0.5h-1.0zM440.5 253.0h1.0v0.5h-1.0zM422.5 253.5h0.5v0.5h-0.5zM440.5 253.5h1.0v0.5h-1.0zM440.0 254.0h1.0v0.5h-1.0zM439.5 254.5h1.0v0.5h-1.0zM438.5 255.0h1.5v0.5h-1.5zM437.5 255.5h1.5v0.5h-1.5zM422.5 256.0h0.5v0.5h-0.5zM436.5 256.0h1.5v0.5h-1.5zM422.5 256.5h1.0v0.5h-1.0zM435.0 256.5h1.5v0.5h-1.5zM422.5 257.0h2.0v0.5h-2.0zM433.5 257.0h1.5v0.5h-1.5zM424.0 257.5h4.0v0.5h-4.0zM429.5 257.5h3.5v0.5h-3.5z" fill="#f6ea12"/>
<path d="M433.5 250.0h1.5v0.5h-1.5zM440.0 250.0h4.0v0.5h-4.0zM429.5 250.5h3.5v0.5h-3.5zM435.5 250.5h3.0v0.5h-3.0zM439.0 250.5h5.0v0.5h-5.0zM428.0 251.0h1.5v0.5h-1.5zM438.0 251.0h6.0v0.5h-6.0zM426.5 251.5h1.5v0.5h-1.5zM439.0 251.5h4.0v0.5h-4.0zM425.5 252.0h1.0v0.5h-1.0zM439.5 252.0h2.5v0.5h-2.5zM424.5 252.5h1.0v0.5h-1.0zM439.5 252.5h1.0v0.5h-1.0zM423.5 253.0h1.5v0.5h-1.5zM439.5 253.0h1.0v0.5h-1.0zM423.0 253.5h1.0v0.5h-1.0zM439.0 253.5h1.5v0.5h-1.5zM422.5 254.0h1.5v0.5h-1.5zM439.0 254.0h1.0v0.5h-1.0zM422.5 254.5h1.0v0.5h-1.0zM438.0 254.5h1.5v0.5h-1.5zM422.5 255.0h1.0v0.5h-1.0zM437.5 255.0h1.0v0.5h-1.0zM422.5 255.5h1.0v0.5h-1.0zM436.5 255.5h1.0v0.5h-1.0zM423.0 256.0h1.0v0.5h-1.0zM435.0 256.0h1.5v0.5h-1.5zM423.5 256.5h1.5v0.5h-1.5zM433.5 256.5h1.5v0.5h-1.5zM424.5 257.0h3.0v0.5h-3.0zM430.0 257.0h3.5v0.5h-3.5zM428.0 257.5h1.5v0.5h-1.5z" fill="#ffa800"/>
<path d="M433.0 250.5h2.5v0.5h-2.5zM429.5 251.0h3.0v0.5h-3.0zM435.0 251.0h3.0v0.5h-3.0zM428.0 251.5h1.5v0.5h-1.5zM437.0 251.5h2.0v0.5h-2.0zM426.5 252.0h1.5v0.5h-1.5zM438.0 252.0h1.5v0.5h-1.5zM425.5 252.5h1.0v0.5h-1.0zM438.5 252.5h1.0v0.5h-1.0zM425.0 253.0h1.0v0.5h-1.0zM438.5 253.0h1.0v0.5h-1.0zM424.0 253.5h1.5v0.5h-1.5zM438.0 253.5h1.0v0.5h-1.0zM424.0 254.0h1.0v0.5h-1.0zM437.5 254.0h1.5v0.5h-1.5zM423.5 254.5h1.0v0.5h-1.0zM437.0 254.5h1.0v0.5h-1.0zM423.5 255.0h1.0v0.5h-1.0zM436.5 255.0h1.0v0.5h-1.0zM423.5 255.5h1.5v0.5h-1.5zM435.0 255.5h1.5v0.5h-1.5zM424.0 256.0h2.0v0.5h-2.0zM433.5 256.0h1.5v0.5h-1.5zM425.0 256.5h3.0v0.5h-3.0zM430.5 256.5h3.0v0.5h-3.0zM427.5 257.0h2.5v0.5h-2.5z" fill="#ff5800"/>
<path d="M432.5 251.0h2.5v0.5h-2.5zM429.5 251.5h7.5v0.5h-7.5zM428.0 252.0h10.0v0.5h-10.0zM426.5 252.5h12.0v0.5h-12.0zM426.0 253.0h12.5v0.5h-12.5zM425.5 253.5h12.5v0.5h-12.5zM425.0 254.0h12.5v0.5h-12.5zM424.5 254.5h12.5v0.5h-12.5zM424.5 255.0h12.0v0.5h-12.0zM425.0 255.5h10.0v0.5h-10.0zM426.0 256.0h7.5v0.5h-7.5zM428.0 256.5h2.5v0.5h-2.5z" fill="#ff1a00"/>
</g>
<line x1="415.5" y1="195.6" x2="415.5" y2="280" stroke="#3b5494" stroke-width="1.1" />
<line x1="415.5" y1="280" x2="496.3" y2="280" stroke="#3b5494" stroke-width="1.1" />
<line x1="415.5" y1="195.6" x2="417" y2="195.6" stroke="#3b5494" stroke-width="0.7" />

<text x="411.8" y="195.6" font-size="7.0" text-anchor="end" fill="#222" color="#222" dominant-baseline="central" textLength="16.29" lengthAdjust="spacingAndGlyphs" >262.1</text>
<line x1="415.5" y1="216.3" x2="417" y2="216.3" stroke="#3b5494" stroke-width="0.7" />

<text x="411.8" y="216.3" font-size="7.0" text-anchor="end" fill="#222" color="#222" dominant-baseline="central" textLength="16.29" lengthAdjust="spacingAndGlyphs" >196.6</text>
<line x1="415.5" y1="237.9" x2="417" y2="237.9" stroke="#3b5494" stroke-width="0.7" />

<text x="411.8" y="237.9" font-size="7.0" text-anchor="end" fill="#222" color="#222" dominant-baseline="central" textLength="16.29" lengthAdjust="spacingAndGlyphs" >131.1</text>
<line x1="415.5" y1="258.3" x2="417" y2="258.3" stroke="#3b5494" stroke-width="0.7" />

<text x="411.8" y="258.3" font-size="7.0" text-anchor="end" fill="#222" color="#222" dominant-baseline="central" textLength="12.67" lengthAdjust="spacingAndGlyphs" >65.5</text>
<line x1="415.5" y1="279.9" x2="417" y2="279.9" stroke="#3b5494" stroke-width="0.7" />

<text x="411.8" y="279.9" font-size="7.0" text-anchor="end" fill="#222" color="#222" dominant-baseline="central" textLength="3.62" lengthAdjust="spacingAndGlyphs" >0</text>
<line x1="415.5" y1="280" x2="415.5" y2="278.5" stroke="#3b5494" stroke-width="0.7" />
<text x="415.5" y="288" font-size="7.0" text-anchor="middle" fill="#222" color="#222" dominant-baseline="central" textLength="3.62" lengthAdjust="spacingAndGlyphs" >0</text>
<line x1="436" y1="280" x2="436" y2="278.5" stroke="#3b5494" stroke-width="0.7" />
<text x="436" y="288" font-size="7.0" text-anchor="middle" fill="#222" color="#222" dominant-baseline="central" textLength="12.67" lengthAdjust="spacingAndGlyphs" >65.5</text>
<line x1="456.2" y1="280" x2="456.2" y2="278.5" stroke="#3b5494" stroke-width="0.7" />
<text x="456.2" y="288" font-size="7.0" text-anchor="middle" fill="#222" color="#222" dominant-baseline="central" textLength="16.29" lengthAdjust="spacingAndGlyphs" >131.1</text>
<line x1="476.4" y1="280" x2="476.4" y2="278.5" stroke="#3b5494" stroke-width="0.7" />
<text x="476.4" y="288" font-size="7.0" text-anchor="middle" fill="#222" color="#222" dominant-baseline="central" textLength="16.29" lengthAdjust="spacingAndGlyphs" >196.6</text>
<line x1="495.8" y1="280" x2="495.8" y2="278.5" stroke="#3b5494" stroke-width="0.7" />
<text x="495.8" y="288" font-size="7.0" text-anchor="middle" fill="#222" color="#222" dominant-baseline="central" textLength="16.29" lengthAdjust="spacingAndGlyphs" >262.1</text>
<text x="455.4" y="298.5" font-size="7.84" text-anchor="middle" fill="#222" color="#222" dominant-baseline="central" textLength="43.2" lengthAdjust="spacingAndGlyphs" >FSC-A (x 1000)</text>
<text x="387.5" y="237.6" font-size="7.84" text-anchor="middle" fill="#222" color="#222" dominant-baseline="central" textLength="45.3" lengthAdjust="spacingAndGlyphs" transform="rotate(-90 387.5 237.6)" >FSC-W (x 1000)</text>
<polygon points="418,247.9 495.2,225.5 495.2,242.2 418.4,263.5" stroke="#44a044" stroke-width="0.8" fill="none" stroke-linejoin="miter" />
<text x="472.9" y="262.9" font-size="5.5" text-anchor="start" fill="#3a9a3a" color="#3a9a3a" dominant-baseline="central" >Singlets</text>
<text x="472.9" y="268.3" font-size="5.5" text-anchor="start" fill="#3a9a3a" color="#3a9a3a" dominant-baseline="central" >95.11%</text>
<path d="M59.8 348.5h0.75v0.75h-0.75zM62.7 348.4h0.75v0.75h-0.75zM78.7 348.1h0.75v0.75h-0.75zM83.7 348.3h0.75v0.75h-0.75zM92.6 348.3h0.75v0.75h-0.75zM104.8 348.4h0.75v0.75h-0.75zM60.0 349.2h0.75v0.75h-0.75zM68.0 349.5h0.75v0.75h-0.75zM83.1 349.1h0.75v0.75h-0.75zM85.5 349.1h0.75v0.75h-0.75zM92.8 349.4h0.75v0.75h-0.75zM104.8 349.1h0.75v0.75h-0.75zM108.6 349.3h0.75v0.75h-0.75zM116.1 349.5h0.75v0.75h-0.75zM63.9 350.2h0.75v0.75h-0.75zM69.9 350.4h0.75v0.75h-0.75zM71.6 350.4h0.75v0.75h-0.75zM72.7 350.3h0.75v0.75h-0.75zM74.0 350.2h0.75v0.75h-0.75zM75.1 350.4h0.75v0.75h-0.75zM99.6 350.5h0.75v0.75h-0.75zM104.7 350.2h0.75v0.75h-0.75zM78.8 351.3h0.75v0.75h-0.75zM82.9 351.2h0.75v0.75h-0.75zM83.5 351.6h0.75v0.75h-0.75zM87.0 351.6h0.75v0.75h-0.75zM100.9 351.0h0.75v0.75h-0.75zM116.6 351.5h0.75v0.75h-0.75zM65.0 352.2h0.75v0.75h-0.75zM70.7 352.5h0.75v0.75h-0.75zM80.0 352.3h0.75v0.75h-0.75zM84.7 352.5h0.75v0.75h-0.75zM86.6 352.1h0.75v0.75h-0.75zM110.6 352.0h0.75v0.75h-0.75zM114.8 352.1h0.75v0.75h-0.75zM57.9 353.1h0.75v0.75h-0.75zM59.0 353.4h0.75v0.75h-0.75zM61.9 353.4h0.75v0.75h-0.75zM62.8 353.3h0.75v0.75h-0.75zM70.1 353.2h0.75v0.75h-0.75zM75.0 353.5h0.75v0.75h-0.75zM79.1 353.2h0.75v0.75h-0.75zM84.8 353.2h0.75v0.75h-0.75zM89.7 353.0h0.75v0.75h-0.75zM63.7 354.4h0.75v0.75h-0.75zM69.0 354.3h0.75v0.75h-0.75zM87.7 354.3h0.75v0.75h-0.75zM89.6 354.5h0.75v0.75h-0.75zM92.0 354.5h0.75v0.75h-0.75zM94.9 354.1h0.75v0.75h-0.75zM97.0 354.5h0.75v0.75h-0.75zM113.9 354.1h0.75v0.75h-0.75zM57.6 355.2h0.75v0.75h-0.75zM68.0 355.2h0.75v0.75h-0.75zM69.6 355.1h0.75v0.75h-0.75zM73.0 355.1h0.75v0.75h-0.75zM88.0 355.5h0.75v0.75h-0.75zM96.8 355.5h0.75v0.75h-0.75zM97.9 355.1h0.75v0.75h-0.75zM108.0 355.1h0.75v0.75h-0.75zM115.9 355.5h0.75v0.75h-0.75zM58.6 356.1h0.75v0.75h-0.75zM79.7 356.5h0.75v0.75h-0.75zM90.5 356.0h0.75v0.75h-0.75zM93.1 356.6h0.75v0.75h-0.75zM100.5 356.2h0.75v0.75h-0.75zM106.7 356.3h0.75v0.75h-0.75zM109.8 356.1h0.75v0.75h-0.75zM120.6 356.1h0.75v0.75h-0.75zM67.7 357.3h0.75v0.75h-0.75zM77.0 357.5h0.75v0.75h-0.75zM78.9 357.3h0.75v0.75h-0.75zM85.6 357.0h0.75v0.75h-0.75zM94.5 357.5h0.75v0.75h-0.75zM101.7 357.4h0.75v0.75h-0.75zM102.6 357.1h0.75v0.75h-0.75zM105.0 357.3h0.75v0.75h-0.75zM115.8 357.3h0.75v0.75h-0.75zM119.5 357.6h0.75v0.75h-0.75zM62.5 358.1h0.75v0.75h-0.75zM64.6 358.3h0.75v0.75h-0.75zM72.9 358.5h0.75v0.75h-0.75zM73.9 358.5h0.75v0.75h-0.75zM88.1 358.2h0.75v0.75h-0.75zM99.1 358.1h0.75v0.75h-0.75zM109.0 358.6h0.75v0.75h-0.75zM113.9 358.4h0.75v0.75h-0.75zM63.9 359.4h0.75v0.75h-0.75zM65.0 359.4h0.75v0.75h-0.75zM67.6 359.5h0.75v0.75h-0.75zM71.9 359.5h0.75v0.75h-0.75zM72.7 359.3h0.75v0.75h-0.75zM81.5 359.6h0.75v0.75h-0.75zM89.0 359.2h0.75v0.75h-0.75zM107.8 359.3h0.75v0.75h-0.75zM64.0 360.4h0.75v0.75h-0.75zM73.0 360.4h0.75v0.75h-0.75zM73.8 360.1h0.75v0.75h-0.75zM80.7 360.1h0.75v0.75h-0.75zM84.6 360.6h0.75v0.75h-0.75zM94.8 360.0h0.75v0.75h-0.75zM55.6 361.3h0.75v0.75h-0.75zM72.6 361.1h0.75v0.75h-0.75zM77.0 361.1h0.75v0.75h-0.75zM80.9 361.0h0.75v0.75h-0.75zM84.5 361.2h0.75v0.75h-0.75zM92.8 361.4h0.75v0.75h-0.75zM102.0 361.5h0.75v0.75h-0.75zM107.8 361.1h0.75v0.75h-0.75zM58.6 362.2h0.75v0.75h-0.75zM65.5 362.1h0.75v0.75h-0.75zM94.0 362.3h0.75v0.75h-0.75zM108.0 362.3h0.75v0.75h-0.75zM109.8 362.4h0.75v0.75h-0.75zM112.5 362.2h0.75v0.75h-0.75zM67.8 363.3h0.75v0.75h-0.75zM73.9 363.3h0.75v0.75h-0.75zM77.0 363.1h0.75v0.75h-0.75zM78.8 363.5h0.75v0.75h-0.75zM80.1 363.1h0.75v0.75h-0.75zM87.1 363.3h0.75v0.75h-0.75zM88.9 363.4h0.75v0.75h-0.75zM93.9 363.4h0.75v0.75h-0.75zM96.9 363.5h0.75v0.75h-0.75zM99.6 363.3h0.75v0.75h-0.75zM107.8 363.2h0.75v0.75h-0.75zM115.0 363.3h0.75v0.75h-0.75zM58.8 364.4h0.75v0.75h-0.75zM62.6 364.2h0.75v0.75h-0.75zM70.0 364.3h0.75v0.75h-0.75zM80.6 364.4h0.75v0.75h-0.75zM114.0 364.5h0.75v0.75h-0.75zM55.8 365.2h0.75v0.75h-0.75zM67.7 365.3h0.75v0.75h-0.75zM69.0 365.5h0.75v0.75h-0.75zM75.0 365.5h0.75v0.75h-0.75zM82.6 365.2h0.75v0.75h-0.75zM89.7 365.1h0.75v0.75h-0.75zM91.6 365.2h0.75v0.75h-0.75zM94.7 365.4h0.75v0.75h-0.75zM102.8 365.1h0.75v0.75h-0.75zM106.6 365.3h0.75v0.75h-0.75zM113.6 365.5h0.75v0.75h-0.75zM68.9 366.0h0.75v0.75h-0.75zM69.6 366.3h0.75v0.75h-0.75zM79.0 366.4h0.75v0.75h-0.75zM80.0 366.4h0.75v0.75h-0.75zM88.1 366.0h0.75v0.75h-0.75zM92.8 366.6h0.75v0.75h-0.75zM98.8 366.2h0.75v0.75h-0.75zM104.8 366.5h0.75v0.75h-0.75zM109.6 366.5h0.75v0.75h-0.75zM55.9 367.6h0.75v0.75h-0.75zM68.8 367.5h0.75v0.75h-0.75zM80.6 367.2h0.75v0.75h-0.75zM83.0 367.4h0.75v0.75h-0.75zM87.0 367.2h0.75v0.75h-0.75zM89.7 367.4h0.75v0.75h-0.75zM93.8 367.5h0.75v0.75h-0.75zM94.9 367.4h0.75v0.75h-0.75zM100.8 367.4h0.75v0.75h-0.75zM105.6 367.6h0.75v0.75h-0.75zM108.8 367.1h0.75v0.75h-0.75zM111.5 367.6h0.75v0.75h-0.75zM57.9 368.5h0.75v0.75h-0.75zM71.1 368.2h0.75v0.75h-0.75zM72.9 368.4h0.75v0.75h-0.75zM88.7 368.2h0.75v0.75h-0.75zM94.7 368.5h0.75v0.75h-0.75zM104.1 368.5h0.75v0.75h-0.75zM106.0 368.3h0.75v0.75h-0.75zM61.6 369.2h0.75v0.75h-0.75zM63.9 369.3h0.75v0.75h-0.75zM66.9 369.1h0.75v0.75h-0.75zM75.7 369.2h0.75v0.75h-0.75zM76.6 369.2h0.75v0.75h-0.75zM79.7 369.3h0.75v0.75h-0.75zM98.0 369.2h0.75v0.75h-0.75zM104.5 369.2h0.75v0.75h-0.75zM106.7 369.0h0.75v0.75h-0.75zM111.8 369.1h0.75v0.75h-0.75zM115.8 369.0h0.75v0.75h-0.75zM117.0 369.4h0.75v0.75h-0.75zM56.9 370.1h0.75v0.75h-0.75zM59.0 370.3h0.75v0.75h-0.75zM63.5 370.3h0.75v0.75h-0.75zM72.6 370.2h0.75v0.75h-0.75zM74.1 370.3h0.75v0.75h-0.75zM81.7 370.2h0.75v0.75h-0.75zM82.7 370.2h0.75v0.75h-0.75zM89.7 370.3h0.75v0.75h-0.75zM90.8 370.6h0.75v0.75h-0.75zM92.7 370.5h0.75v0.75h-0.75zM94.8 370.3h0.75v0.75h-0.75zM103.6 370.5h0.75v0.75h-0.75zM105.9 370.1h0.75v0.75h-0.75zM115.7 370.5h0.75v0.75h-0.75zM60.7 371.6h0.75v0.75h-0.75zM66.9 371.6h0.75v0.75h-0.75zM76.0 371.6h0.75v0.75h-0.75zM77.8 371.1h0.75v0.75h-0.75zM81.8 371.4h0.75v0.75h-0.75zM97.9 371.6h0.75v0.75h-0.75zM104.6 371.0h0.75v0.75h-0.75zM105.5 371.3h0.75v0.75h-0.75zM109.6 371.3h0.75v0.75h-0.75zM111.8 371.5h0.75v0.75h-0.75zM121.0 371.4h0.75v0.75h-0.75zM58.5 372.2h0.75v0.75h-0.75zM63.6 372.2h0.75v0.75h-0.75zM65.7 372.0h0.75v0.75h-0.75zM68.7 372.3h0.75v0.75h-0.75zM69.9 372.3h0.75v0.75h-0.75zM71.1 372.1h0.75v0.75h-0.75zM73.7 372.6h0.75v0.75h-0.75zM74.9 372.6h0.75v0.75h-0.75zM77.7 372.4h0.75v0.75h-0.75zM81.0 372.6h0.75v0.75h-0.75zM81.7 372.2h0.75v0.75h-0.75zM82.8 372.1h0.75v0.75h-0.75zM87.0 372.3h0.75v0.75h-0.75zM98.7 372.2h0.75v0.75h-0.75zM104.7 372.3h0.75v0.75h-0.75zM105.8 372.4h0.75v0.75h-0.75zM109.0 372.2h0.75v0.75h-0.75zM114.7 372.2h0.75v0.75h-0.75zM116.8 372.5h0.75v0.75h-0.75zM58.8 373.2h0.75v0.75h-0.75zM61.8 373.5h0.75v0.75h-0.75zM62.8 373.0h0.75v0.75h-0.75zM68.6 373.3h0.75v0.75h-0.75zM69.9 373.2h0.75v0.75h-0.75zM70.7 373.4h0.75v0.75h-0.75zM72.8 373.6h0.75v0.75h-0.75zM82.6 373.2h0.75v0.75h-0.75zM87.5 373.4h0.75v0.75h-0.75zM88.9 373.2h0.75v0.75h-0.75zM90.5 373.3h0.75v0.75h-0.75zM94.9 373.1h0.75v0.75h-0.75zM111.7 373.2h0.75v0.75h-0.75zM58.8 374.2h0.75v0.75h-0.75zM61.1 374.2h0.75v0.75h-0.75zM63.8 374.6h0.75v0.75h-0.75zM66.7 374.0h0.75v0.75h-0.75zM70.9 374.1h0.75v0.75h-0.75zM85.9 374.0h0.75v0.75h-0.75zM87.5 374.1h0.75v0.75h-0.75zM89.0 374.2h0.75v0.75h-0.75zM89.9 374.4h0.75v0.75h-0.75zM90.5 374.3h0.75v0.75h-0.75zM91.6 374.3h0.75v0.75h-0.75zM92.6 374.4h0.75v0.75h-0.75zM94.7 374.2h0.75v0.75h-0.75zM95.9 374.1h0.75v0.75h-0.75zM108.8 374.3h0.75v0.75h-0.75zM59.9 375.4h0.75v0.75h-0.75zM64.7 375.1h0.75v0.75h-0.75zM68.9 375.1h0.75v0.75h-0.75zM69.7 375.5h0.75v0.75h-0.75zM71.8 375.2h0.75v0.75h-0.75zM74.6 375.1h0.75v0.75h-0.75zM76.8 375.2h0.75v0.75h-0.75zM82.0 375.0h0.75v0.75h-0.75zM82.9 375.2h0.75v0.75h-0.75zM87.6 375.4h0.75v0.75h-0.75zM89.0 375.1h0.75v0.75h-0.75zM92.7 375.2h0.75v0.75h-0.75zM96.7 375.2h0.75v0.75h-0.75zM102.8 375.0h0.75v0.75h-0.75zM105.6 375.0h0.75v0.75h-0.75zM107.9 375.5h0.75v0.75h-0.75zM111.1 375.4h0.75v0.75h-0.75zM116.8 375.0h0.75v0.75h-0.75zM56.6 376.3h0.75v0.75h-0.75zM58.6 376.4h0.75v0.75h-0.75zM63.0 376.1h0.75v0.75h-0.75zM65.9 376.2h0.75v0.75h-0.75zM66.8 376.5h0.75v0.75h-0.75zM68.7 376.4h0.75v0.75h-0.75zM70.9 376.5h0.75v0.75h-0.75zM72.0 376.1h0.75v0.75h-0.75zM73.0 376.4h0.75v0.75h-0.75zM74.6 376.2h0.75v0.75h-0.75zM75.8 376.2h0.75v0.75h-0.75zM77.9 376.2h0.75v0.75h-0.75zM78.6 376.5h0.75v0.75h-0.75zM79.9 376.1h0.75v0.75h-0.75zM83.9 376.5h0.75v0.75h-0.75zM91.0 376.6h0.75v0.75h-0.75zM91.5 376.4h0.75v0.75h-0.75zM93.8 376.0h0.75v0.75h-0.75zM98.7 376.4h0.75v0.75h-0.75zM105.7 376.5h0.75v0.75h-0.75zM113.0 376.4h0.75v0.75h-0.75zM62.0 377.4h0.75v0.75h-0.75zM62.9 377.0h0.75v0.75h-0.75zM64.9 377.5h0.75v0.75h-0.75zM65.7 377.2h0.75v0.75h-0.75zM66.8 377.6h0.75v0.75h-0.75zM67.9 377.3h0.75v0.75h-0.75zM71.5 377.0h0.75v0.75h-0.75zM72.7 377.4h0.75v0.75h-0.75zM81.9 377.2h0.75v0.75h-0.75zM83.7 377.1h0.75v0.75h-0.75zM88.7 377.5h0.75v0.75h-0.75zM93.6 377.0h0.75v0.75h-0.75zM94.6 377.1h0.75v0.75h-0.75zM96.6 377.1h0.75v0.75h-0.75zM97.5 377.0h0.75v0.75h-0.75zM98.8 377.0h0.75v0.75h-0.75zM102.7 377.1h0.75v0.75h-0.75zM107.0 377.3h0.75v0.75h-0.75zM109.8 377.4h0.75v0.75h-0.75zM59.9 378.2h0.75v0.75h-0.75zM66.7 378.1h0.75v0.75h-0.75zM70.9 378.6h0.75v0.75h-0.75zM74.8 378.4h0.75v0.75h-0.75zM80.8 378.5h0.75v0.75h-0.75zM86.1 378.2h0.75v0.75h-0.75zM91.7 378.1h0.75v0.75h-0.75zM93.7 378.4h0.75v0.75h-0.75zM97.8 378.4h0.75v0.75h-0.75zM98.9 378.5h0.75v0.75h-0.75zM101.0 378.6h0.75v0.75h-0.75zM111.8 378.4h0.75v0.75h-0.75zM114.7 378.5h0.75v0.75h-0.75zM55.8 379.3h0.75v0.75h-0.75zM57.5 379.2h0.75v0.75h-0.75zM59.1 379.3h0.75v0.75h-0.75zM60.1 379.1h0.75v0.75h-0.75zM60.7 379.5h0.75v0.75h-0.75zM61.6 379.1h0.75v0.75h-0.75zM62.6 379.3h0.75v0.75h-0.75zM67.5 379.1h0.75v0.75h-0.75zM68.8 379.3h0.75v0.75h-0.75zM69.6 379.4h0.75v0.75h-0.75zM74.5 379.2h0.75v0.75h-0.75zM76.0 379.2h0.75v0.75h-0.75zM80.7 379.1h0.75v0.75h-0.75zM89.1 379.2h0.75v0.75h-0.75zM93.7 379.1h0.75v0.75h-0.75zM102.6 379.4h0.75v0.75h-0.75zM104.1 379.1h0.75v0.75h-0.75zM106.1 379.5h0.75v0.75h-0.75zM108.9 379.5h0.75v0.75h-0.75zM118.8 379.5h0.75v0.75h-0.75zM61.0 380.6h0.75v0.75h-0.75zM61.7 380.4h0.75v0.75h-0.75zM62.6 380.0h0.75v0.75h-0.75zM65.0 380.4h0.75v0.75h-0.75zM69.8 380.4h0.75v0.75h-0.75zM80.1 380.5h0.75v0.75h-0.75zM85.0 380.0h0.75v0.75h-0.75zM91.8 380.5h0.75v0.75h-0.75zM92.5 380.3h0.75v0.75h-0.75zM95.8 380.5h0.75v0.75h-0.75zM101.8 380.1h0.75v0.75h-0.75zM62.9 381.6h0.75v0.75h-0.75zM64.7 381.3h0.75v0.75h-0.75zM69.5 381.4h0.75v0.75h-0.75zM70.7 381.2h0.75v0.75h-0.75zM71.9 381.6h0.75v0.75h-0.75zM73.0 381.1h0.75v0.75h-0.75zM85.0 381.5h0.75v0.75h-0.75zM86.8 381.3h0.75v0.75h-0.75zM88.0 381.6h0.75v0.75h-0.75zM88.8 381.4h0.75v0.75h-0.75zM89.6 381.0h0.75v0.75h-0.75zM92.8 381.6h0.75v0.75h-0.75zM101.8 381.5h0.75v0.75h-0.75zM103.0 381.6h0.75v0.75h-0.75zM114.7 381.6h0.75v0.75h-0.75zM115.5 381.2h0.75v0.75h-0.75zM55.9 382.3h0.75v0.75h-0.75zM59.6 382.5h0.75v0.75h-0.75zM61.0 382.2h0.75v0.75h-0.75zM69.6 382.2h0.75v0.75h-0.75zM74.5 382.1h0.75v0.75h-0.75zM76.8 382.2h0.75v0.75h-0.75zM84.1 382.3h0.75v0.75h-0.75zM84.6 382.1h0.75v0.75h-0.75zM85.6 382.2h0.75v0.75h-0.75zM89.8 382.6h0.75v0.75h-0.75zM94.9 382.3h0.75v0.75h-0.75zM96.6 382.0h0.75v0.75h-0.75zM98.9 382.3h0.75v0.75h-0.75zM103.7 382.4h0.75v0.75h-0.75zM60.6 383.1h0.75v0.75h-0.75zM62.8 383.3h0.75v0.75h-0.75zM72.0 383.4h0.75v0.75h-0.75zM74.8 383.3h0.75v0.75h-0.75zM75.8 383.2h0.75v0.75h-0.75zM81.5 383.3h0.75v0.75h-0.75zM86.0 383.2h0.75v0.75h-0.75zM89.7 383.4h0.75v0.75h-0.75zM90.6 383.4h0.75v0.75h-0.75zM91.6 383.1h0.75v0.75h-0.75zM97.0 383.4h0.75v0.75h-0.75zM98.6 383.4h0.75v0.75h-0.75zM100.1 383.6h0.75v0.75h-0.75zM102.9 383.6h0.75v0.75h-0.75zM107.9 383.1h0.75v0.75h-0.75zM116.7 383.5h0.75v0.75h-0.75zM120.6 383.3h0.75v0.75h-0.75zM55.5 384.5h0.75v0.75h-0.75zM58.1 384.2h0.75v0.75h-0.75zM60.7 384.5h0.75v0.75h-0.75zM65.9 384.0h0.75v0.75h-0.75zM72.8 384.3h0.75v0.75h-0.75zM73.9 384.4h0.75v0.75h-0.75zM74.9 384.2h0.75v0.75h-0.75zM76.1 384.4h0.75v0.75h-0.75zM76.6 384.0h0.75v0.75h-0.75zM78.6 384.4h0.75v0.75h-0.75zM81.0 384.1h0.75v0.75h-0.75zM88.7 384.1h0.75v0.75h-0.75zM89.7 384.4h0.75v0.75h-0.75zM93.0 384.3h0.75v0.75h-0.75zM96.8 384.1h0.75v0.75h-0.75zM103.6 384.3h0.75v0.75h-0.75zM110.0 384.2h0.75v0.75h-0.75zM56.8 385.5h0.75v0.75h-0.75zM59.1 385.5h0.75v0.75h-0.75zM63.6 385.3h0.75v0.75h-0.75zM64.5 385.1h0.75v0.75h-0.75zM69.1 385.3h0.75v0.75h-0.75zM71.7 385.0h0.75v0.75h-0.75zM72.9 385.5h0.75v0.75h-0.75zM73.9 385.0h0.75v0.75h-0.75zM76.9 385.2h0.75v0.75h-0.75zM77.7 385.3h0.75v0.75h-0.75zM80.5 385.0h0.75v0.75h-0.75zM86.9 385.2h0.75v0.75h-0.75zM88.9 385.3h0.75v0.75h-0.75zM91.9 385.3h0.75v0.75h-0.75zM95.6 385.2h0.75v0.75h-0.75zM122.1 385.4h0.75v0.75h-0.75zM55.9 386.4h0.75v0.75h-0.75zM60.0 386.1h0.75v0.75h-0.75zM60.8 386.2h0.75v0.75h-0.75zM86.7 386.6h0.75v0.75h-0.75zM87.6 386.3h0.75v0.75h-0.75zM94.6 386.4h0.75v0.75h-0.75zM97.6 386.3h0.75v0.75h-0.75zM103.7 386.6h0.75v0.75h-0.75zM113.5 386.1h0.75v0.75h-0.75zM119.6 386.4h0.75v0.75h-0.75zM56.0 387.5h0.75v0.75h-0.75zM59.9 387.1h0.75v0.75h-0.75zM60.7 387.1h0.75v0.75h-0.75zM61.7 387.1h0.75v0.75h-0.75zM63.7 387.5h0.75v0.75h-0.75zM76.8 387.1h0.75v0.75h-0.75zM80.8 387.3h0.75v0.75h-0.75zM81.7 387.5h0.75v0.75h-0.75zM85.7 387.1h0.75v0.75h-0.75zM86.7 387.4h0.75v0.75h-0.75zM88.1 387.3h0.75v0.75h-0.75zM88.7 387.6h0.75v0.75h-0.75zM92.0 387.4h0.75v0.75h-0.75zM95.8 387.1h0.75v0.75h-0.75zM100.0 387.5h0.75v0.75h-0.75zM101.9 387.0h0.75v0.75h-0.75zM104.1 387.5h0.75v0.75h-0.75zM106.7 387.5h0.75v0.75h-0.75zM109.0 387.4h0.75v0.75h-0.75zM120.6 387.3h0.75v0.75h-0.75zM59.0 388.3h0.75v0.75h-0.75zM59.5 388.5h0.75v0.75h-0.75zM63.7 388.4h0.75v0.75h-0.75zM73.6 388.6h0.75v0.75h-0.75zM75.0 388.0h0.75v0.75h-0.75zM77.0 388.0h0.75v0.75h-0.75zM80.7 388.1h0.75v0.75h-0.75zM83.9 388.1h0.75v0.75h-0.75zM85.9 388.1h0.75v0.75h-0.75zM87.9 388.5h0.75v0.75h-0.75zM88.6 388.5h0.75v0.75h-0.75zM91.9 388.0h0.75v0.75h-0.75zM93.7 388.1h0.75v0.75h-0.75zM95.8 388.5h0.75v0.75h-0.75zM96.8 388.0h0.75v0.75h-0.75zM101.9 388.5h0.75v0.75h-0.75zM105.6 388.4h0.75v0.75h-0.75zM109.9 388.4h0.75v0.75h-0.75zM114.7 388.5h0.75v0.75h-0.75zM119.5 388.0h0.75v0.75h-0.75zM55.6 389.3h0.75v0.75h-0.75zM57.1 389.5h0.75v0.75h-0.75zM63.8 389.0h0.75v0.75h-0.75zM75.7 389.3h0.75v0.75h-0.75zM86.7 389.3h0.75v0.75h-0.75zM88.9 389.5h0.75v0.75h-0.75zM89.8 389.4h0.75v0.75h-0.75zM90.7 389.4h0.75v0.75h-0.75zM91.7 389.2h0.75v0.75h-0.75zM92.9 389.2h0.75v0.75h-0.75zM95.7 389.1h0.75v0.75h-0.75zM96.6 389.6h0.75v0.75h-0.75zM115.9 389.4h0.75v0.75h-0.75zM57.7 390.5h0.75v0.75h-0.75zM60.0 390.6h0.75v0.75h-0.75zM62.1 390.1h0.75v0.75h-0.75zM63.7 390.0h0.75v0.75h-0.75zM70.6 390.3h0.75v0.75h-0.75zM71.7 390.3h0.75v0.75h-0.75zM75.9 390.5h0.75v0.75h-0.75zM82.0 390.2h0.75v0.75h-0.75zM83.1 390.1h0.75v0.75h-0.75zM86.9 390.1h0.75v0.75h-0.75zM88.9 390.0h0.75v0.75h-0.75zM96.0 390.6h0.75v0.75h-0.75zM112.5 390.2h0.75v0.75h-0.75zM118.0 390.4h0.75v0.75h-0.75zM56.7 391.6h0.75v0.75h-0.75zM60.8 391.2h0.75v0.75h-0.75zM75.6 391.2h0.75v0.75h-0.75zM77.1 391.6h0.75v0.75h-0.75zM78.0 391.5h0.75v0.75h-0.75zM80.0 391.0h0.75v0.75h-0.75zM80.8 391.2h0.75v0.75h-0.75zM85.7 391.5h0.75v0.75h-0.75zM87.7 391.2h0.75v0.75h-0.75zM91.1 391.0h0.75v0.75h-0.75zM92.8 391.1h0.75v0.75h-0.75zM94.9 391.4h0.75v0.75h-0.75zM99.6 391.5h0.75v0.75h-0.75zM107.7 391.1h0.75v0.75h-0.75zM109.7 391.4h0.75v0.75h-0.75zM120.7 391.4h0.75v0.75h-0.75zM55.8 392.6h0.75v0.75h-0.75zM56.5 392.0h0.75v0.75h-0.75zM60.6 392.6h0.75v0.75h-0.75zM70.7 392.3h0.75v0.75h-0.75zM71.9 392.1h0.75v0.75h-0.75zM73.9 392.2h0.75v0.75h-0.75zM75.8 392.4h0.75v0.75h-0.75zM77.5 392.6h0.75v0.75h-0.75zM79.7 392.2h0.75v0.75h-0.75zM80.8 392.0h0.75v0.75h-0.75zM85.0 392.1h0.75v0.75h-0.75zM85.7 392.4h0.75v0.75h-0.75zM86.9 392.5h0.75v0.75h-0.75zM89.1 392.0h0.75v0.75h-0.75zM91.7 392.5h0.75v0.75h-0.75zM94.1 392.4h0.75v0.75h-0.75zM96.5 392.3h0.75v0.75h-0.75zM97.6 392.2h0.75v0.75h-0.75zM98.6 392.0h0.75v0.75h-0.75zM99.7 392.4h0.75v0.75h-0.75zM101.6 392.3h0.75v0.75h-0.75zM109.1 392.4h0.75v0.75h-0.75zM114.5 392.4h0.75v0.75h-0.75zM117.1 392.1h0.75v0.75h-0.75zM59.9 393.4h0.75v0.75h-0.75zM62.0 393.3h0.75v0.75h-0.75zM62.8 393.2h0.75v0.75h-0.75zM74.0 393.2h0.75v0.75h-0.75zM75.1 393.2h0.75v0.75h-0.75zM75.7 393.4h0.75v0.75h-0.75zM77.5 393.0h0.75v0.75h-0.75zM79.6 393.5h0.75v0.75h-0.75zM80.6 393.2h0.75v0.75h-0.75zM86.0 393.4h0.75v0.75h-0.75zM88.0 393.0h0.75v0.75h-0.75zM89.0 393.4h0.75v0.75h-0.75zM91.7 393.1h0.75v0.75h-0.75zM93.8 393.2h0.75v0.75h-0.75zM97.7 393.1h0.75v0.75h-0.75zM101.5 393.3h0.75v0.75h-0.75zM109.8 393.5h0.75v0.75h-0.75zM111.5 393.5h0.75v0.75h-0.75zM114.1 393.5h0.75v0.75h-0.75zM57.6 394.4h0.75v0.75h-0.75zM59.0 394.0h0.75v0.75h-0.75zM60.9 394.2h0.75v0.75h-0.75zM83.5 394.3h0.75v0.75h-0.75zM84.6 394.6h0.75v0.75h-0.75zM91.7 394.4h0.75v0.75h-0.75zM96.1 394.3h0.75v0.75h-0.75zM97.0 394.2h0.75v0.75h-0.75zM101.0 394.1h0.75v0.75h-0.75zM105.8 394.3h0.75v0.75h-0.75zM113.5 394.3h0.75v0.75h-0.75zM120.9 394.2h0.75v0.75h-0.75zM55.9 395.0h0.75v0.75h-0.75zM60.6 395.1h0.75v0.75h-0.75zM74.9 395.3h0.75v0.75h-0.75zM77.8 395.5h0.75v0.75h-0.75zM78.6 395.3h0.75v0.75h-0.75zM80.0 395.1h0.75v0.75h-0.75zM80.9 395.3h0.75v0.75h-0.75zM85.9 395.2h0.75v0.75h-0.75zM86.6 395.1h0.75v0.75h-0.75zM91.8 395.5h0.75v0.75h-0.75zM96.0 395.6h0.75v0.75h-0.75zM97.7 395.5h0.75v0.75h-0.75zM98.6 395.0h0.75v0.75h-0.75zM99.5 395.1h0.75v0.75h-0.75zM100.8 395.3h0.75v0.75h-0.75zM101.9 395.1h0.75v0.75h-0.75zM103.6 395.2h0.75v0.75h-0.75zM106.1 395.1h0.75v0.75h-0.75zM110.6 395.5h0.75v0.75h-0.75zM114.0 395.1h0.75v0.75h-0.75zM115.5 395.3h0.75v0.75h-0.75zM121.5 395.0h0.75v0.75h-0.75zM61.5 396.0h0.75v0.75h-0.75zM72.5 396.2h0.75v0.75h-0.75zM73.9 396.4h0.75v0.75h-0.75zM79.0 396.4h0.75v0.75h-0.75zM80.7 396.6h0.75v0.75h-0.75zM87.8 396.5h0.75v0.75h-0.75zM93.8 396.5h0.75v0.75h-0.75zM96.0 396.2h0.75v0.75h-0.75zM96.7 396.5h0.75v0.75h-0.75zM102.6 396.4h0.75v0.75h-0.75zM103.6 396.4h0.75v0.75h-0.75zM104.6 396.2h0.75v0.75h-0.75zM105.9 396.1h0.75v0.75h-0.75zM115.0 396.4h0.75v0.75h-0.75zM117.8 396.1h0.75v0.75h-0.75zM120.6 396.3h0.75v0.75h-0.75zM56.6 397.2h0.75v0.75h-0.75zM59.8 397.2h0.75v0.75h-0.75zM60.7 397.0h0.75v0.75h-0.75zM73.7 397.2h0.75v0.75h-0.75zM76.5 397.1h0.75v0.75h-0.75zM77.6 397.2h0.75v0.75h-0.75zM78.7 397.5h0.75v0.75h-0.75zM80.1 397.1h0.75v0.75h-0.75zM82.8 397.3h0.75v0.75h-0.75zM85.5 397.1h0.75v0.75h-0.75zM90.9 397.1h0.75v0.75h-0.75zM92.8 397.2h0.75v0.75h-0.75zM95.9 397.3h0.75v0.75h-0.75zM99.0 397.5h0.75v0.75h-0.75zM99.8 397.1h0.75v0.75h-0.75zM100.5 397.2h0.75v0.75h-0.75zM103.0 397.5h0.75v0.75h-0.75zM105.0 397.5h0.75v0.75h-0.75zM105.9 397.3h0.75v0.75h-0.75zM108.6 397.1h0.75v0.75h-0.75zM110.9 397.4h0.75v0.75h-0.75zM112.7 397.3h0.75v0.75h-0.75zM115.0 397.4h0.75v0.75h-0.75zM60.0 398.5h0.75v0.75h-0.75zM75.7 398.5h0.75v0.75h-0.75zM76.7 398.5h0.75v0.75h-0.75zM77.7 398.2h0.75v0.75h-0.75zM79.6 398.4h0.75v0.75h-0.75zM85.0 398.3h0.75v0.75h-0.75zM85.6 398.2h0.75v0.75h-0.75zM86.6 398.5h0.75v0.75h-0.75zM88.0 398.1h0.75v0.75h-0.75zM89.7 398.3h0.75v0.75h-0.75zM94.0 398.5h0.75v0.75h-0.75zM100.6 398.5h0.75v0.75h-0.75zM101.5 398.1h0.75v0.75h-0.75zM102.5 398.6h0.75v0.75h-0.75zM104.7 398.3h0.75v0.75h-0.75zM107.8 398.6h0.75v0.75h-0.75zM109.1 398.2h0.75v0.75h-0.75zM58.9 399.2h0.75v0.75h-0.75zM59.7 399.1h0.75v0.75h-0.75zM77.0 399.0h0.75v0.75h-0.75zM78.9 399.2h0.75v0.75h-0.75zM80.7 399.5h0.75v0.75h-0.75zM82.8 399.3h0.75v0.75h-0.75zM84.0 399.1h0.75v0.75h-0.75zM84.7 399.1h0.75v0.75h-0.75zM92.9 399.4h0.75v0.75h-0.75zM94.8 399.1h0.75v0.75h-0.75zM107.0 399.1h0.75v0.75h-0.75zM108.6 399.4h0.75v0.75h-0.75zM115.0 399.3h0.75v0.75h-0.75zM57.9 400.2h0.75v0.75h-0.75zM59.9 400.0h0.75v0.75h-0.75zM73.6 400.4h0.75v0.75h-0.75zM78.7 400.1h0.75v0.75h-0.75zM83.6 400.2h0.75v0.75h-0.75zM87.7 400.5h0.75v0.75h-0.75zM88.6 400.5h0.75v0.75h-0.75zM89.9 400.2h0.75v0.75h-0.75zM96.1 400.2h0.75v0.75h-0.75zM99.7 400.0h0.75v0.75h-0.75zM100.6 400.4h0.75v0.75h-0.75zM101.8 400.5h0.75v0.75h-0.75zM104.7 400.3h0.75v0.75h-0.75zM105.9 400.1h0.75v0.75h-0.75zM109.1 400.6h0.75v0.75h-0.75zM109.9 400.3h0.75v0.75h-0.75zM118.6 400.2h0.75v0.75h-0.75zM58.0 401.4h0.75v0.75h-0.75zM61.0 401.2h0.75v0.75h-0.75zM62.1 401.3h0.75v0.75h-0.75zM75.1 401.3h0.75v0.75h-0.75zM78.6 401.6h0.75v0.75h-0.75zM80.7 401.0h0.75v0.75h-0.75zM82.0 401.1h0.75v0.75h-0.75zM83.9 401.2h0.75v0.75h-0.75zM86.0 401.6h0.75v0.75h-0.75zM87.7 401.3h0.75v0.75h-0.75zM88.7 401.1h0.75v0.75h-0.75zM91.7 401.0h0.75v0.75h-0.75zM92.8 401.2h0.75v0.75h-0.75zM98.9 401.0h0.75v0.75h-0.75zM104.6 401.5h0.75v0.75h-0.75zM105.5 401.1h0.75v0.75h-0.75zM108.6 401.3h0.75v0.75h-0.75zM113.6 401.5h0.75v0.75h-0.75zM116.1 401.3h0.75v0.75h-0.75zM118.9 401.6h0.75v0.75h-0.75zM59.8 402.5h0.75v0.75h-0.75zM76.0 402.1h0.75v0.75h-0.75zM78.7 402.6h0.75v0.75h-0.75zM82.8 402.3h0.75v0.75h-0.75zM84.9 402.3h0.75v0.75h-0.75zM89.6 402.0h0.75v0.75h-0.75zM93.0 402.4h0.75v0.75h-0.75zM94.1 402.2h0.75v0.75h-0.75zM97.7 402.1h0.75v0.75h-0.75zM101.7 402.3h0.75v0.75h-0.75zM104.1 402.5h0.75v0.75h-0.75zM105.0 402.4h0.75v0.75h-0.75zM108.8 402.4h0.75v0.75h-0.75zM111.6 402.5h0.75v0.75h-0.75zM116.0 402.2h0.75v0.75h-0.75zM116.7 402.6h0.75v0.75h-0.75zM118.7 402.4h0.75v0.75h-0.75zM120.8 402.1h0.75v0.75h-0.75zM55.8 403.2h0.75v0.75h-0.75zM57.5 403.2h0.75v0.75h-0.75zM60.7 403.3h0.75v0.75h-0.75zM74.0 403.2h0.75v0.75h-0.75zM78.9 403.0h0.75v0.75h-0.75zM82.7 403.2h0.75v0.75h-0.75zM85.9 403.2h0.75v0.75h-0.75zM91.0 403.0h0.75v0.75h-0.75zM94.8 403.0h0.75v0.75h-0.75zM97.8 403.4h0.75v0.75h-0.75zM100.8 403.2h0.75v0.75h-0.75zM103.8 403.3h0.75v0.75h-0.75zM57.7 404.3h0.75v0.75h-0.75zM59.0 404.3h0.75v0.75h-0.75zM73.6 404.5h0.75v0.75h-0.75zM75.9 404.6h0.75v0.75h-0.75zM78.9 404.2h0.75v0.75h-0.75zM81.7 404.2h0.75v0.75h-0.75zM101.0 404.1h0.75v0.75h-0.75zM105.0 404.1h0.75v0.75h-0.75zM106.7 404.1h0.75v0.75h-0.75zM119.0 404.4h0.75v0.75h-0.75zM56.1 405.1h0.75v0.75h-0.75zM60.0 405.6h0.75v0.75h-0.75zM61.0 405.3h0.75v0.75h-0.75zM79.5 405.5h0.75v0.75h-0.75zM81.7 405.4h0.75v0.75h-0.75zM87.7 405.0h0.75v0.75h-0.75zM91.9 405.0h0.75v0.75h-0.75zM99.7 405.6h0.75v0.75h-0.75zM100.7 405.5h0.75v0.75h-0.75zM102.9 405.4h0.75v0.75h-0.75zM103.9 405.3h0.75v0.75h-0.75zM106.6 405.2h0.75v0.75h-0.75zM109.7 405.1h0.75v0.75h-0.75zM115.0 405.1h0.75v0.75h-0.75zM115.9 405.6h0.75v0.75h-0.75zM118.0 405.2h0.75v0.75h-0.75zM120.8 405.6h0.75v0.75h-0.75zM121.7 405.0h0.75v0.75h-0.75zM55.6 406.1h0.75v0.75h-0.75zM77.9 406.2h0.75v0.75h-0.75zM78.8 406.1h0.75v0.75h-0.75zM95.7 406.2h0.75v0.75h-0.75zM99.8 406.3h0.75v0.75h-0.75zM100.8 406.0h0.75v0.75h-0.75zM101.8 406.5h0.75v0.75h-0.75zM106.0 406.2h0.75v0.75h-0.75zM107.1 406.4h0.75v0.75h-0.75zM113.8 406.3h0.75v0.75h-0.75zM118.8 406.5h0.75v0.75h-0.75zM55.9 407.2h0.75v0.75h-0.75zM57.7 407.4h0.75v0.75h-0.75zM59.9 407.4h0.75v0.75h-0.75zM102.8 407.5h0.75v0.75h-0.75zM106.6 407.6h0.75v0.75h-0.75zM110.6 407.4h0.75v0.75h-0.75zM111.8 407.2h0.75v0.75h-0.75zM113.5 407.4h0.75v0.75h-0.75zM121.6 407.2h0.75v0.75h-0.75zM55.8 408.0h0.75v0.75h-0.75zM57.0 408.1h0.75v0.75h-0.75zM58.9 408.2h0.75v0.75h-0.75zM99.8 408.3h0.75v0.75h-0.75zM103.5 408.5h0.75v0.75h-0.75zM106.7 408.1h0.75v0.75h-0.75zM108.0 408.5h0.75v0.75h-0.75zM108.5 408.0h0.75v0.75h-0.75zM109.6 408.4h0.75v0.75h-0.75zM114.6 408.4h0.75v0.75h-0.75zM115.6 408.5h0.75v0.75h-0.75zM119.0 408.1h0.75v0.75h-0.75zM119.9 408.1h0.75v0.75h-0.75zM122.0 408.0h0.75v0.75h-0.75zM57.9 409.3h0.75v0.75h-0.75zM101.8 409.3h0.75v0.75h-0.75zM106.0 409.1h0.75v0.75h-0.75zM108.7 409.1h0.75v0.75h-0.75zM109.6 409.0h0.75v0.75h-0.75zM112.5 409.6h0.75v0.75h-0.75zM115.6 409.3h0.75v0.75h-0.75zM117.6 409.6h0.75v0.75h-0.75zM118.6 409.5h0.75v0.75h-0.75zM121.6 409.2h0.75v0.75h-0.75zM107.6 410.5h0.75v0.75h-0.75zM110.6 410.5h0.75v0.75h-0.75zM115.8 410.0h0.75v0.75h-0.75zM119.7 410.1h0.75v0.75h-0.75zM60.0 411.0h0.75v0.75h-0.75zM106.6 411.2h0.75v0.75h-0.75zM107.6 411.0h0.75v0.75h-0.75zM110.7 411.0h0.75v0.75h-0.75zM115.6 411.5h0.75v0.75h-0.75zM118.0 411.4h0.75v0.75h-0.75zM57.0 412.4h0.75v0.75h-0.75zM106.6 412.1h0.75v0.75h-0.75zM108.9 412.2h0.75v0.75h-0.75zM115.9 412.3h0.75v0.75h-0.75zM110.1 413.4h0.75v0.75h-0.75zM110.7 413.5h0.75v0.75h-0.75zM114.6 413.1h0.75v0.75h-0.75zM116.0 413.4h0.75v0.75h-0.75zM120.6 413.5h0.75v0.75h-0.75zM111.7 414.1h0.75v0.75h-0.75zM114.1 414.3h0.75v0.75h-0.75zM109.0 415.3h0.75v0.75h-0.75zM115.9 415.2h0.75v0.75h-0.75zM116.8 415.3h0.75v0.75h-0.75zM119.8 415.2h0.75v0.75h-0.75zM55.7 416.0h0.75v0.75h-0.75zM58.6 416.5h0.75v0.75h-0.75zM107.9 416.3h0.75v0.75h-0.75zM109.8 416.1h0.75v0.75h-0.75zM114.8 416.3h0.75v0.75h-0.75zM118.0 416.4h0.75v0.75h-0.75zM56.8 417.1h0.75v0.75h-0.75zM57.7 417.1h0.75v0.75h-0.75zM59.6 417.2h0.75v0.75h-0.75zM103.8 417.0h0.75v0.75h-0.75zM105.1 417.0h0.75v0.75h-0.75zM105.7 417.3h0.75v0.75h-0.75zM113.5 417.1h0.75v0.75h-0.75zM115.7 417.2h0.75v0.75h-0.75zM57.0 418.2h0.75v0.75h-0.75zM60.9 418.6h0.75v0.75h-0.75zM103.0 418.3h0.75v0.75h-0.75zM104.8 418.6h0.75v0.75h-0.75zM106.1 418.6h0.75v0.75h-0.75zM108.9 418.3h0.75v0.75h-0.75zM109.8 418.2h0.75v0.75h-0.75zM111.1 418.6h0.75v0.75h-0.75zM111.8 418.6h0.75v0.75h-0.75zM112.6 418.4h0.75v0.75h-0.75zM117.7 418.2h0.75v0.75h-0.75zM121.8 418.0h0.75v0.75h-0.75zM59.0 419.4h0.75v0.75h-0.75zM100.6 419.4h0.75v0.75h-0.75zM103.9 419.3h0.75v0.75h-0.75zM106.0 419.3h0.75v0.75h-0.75zM110.6 419.1h0.75v0.75h-0.75zM111.5 419.2h0.75v0.75h-0.75zM113.6 419.1h0.75v0.75h-0.75zM114.7 419.1h0.75v0.75h-0.75zM116.7 419.4h0.75v0.75h-0.75zM121.6 419.4h0.75v0.75h-0.75zM57.6 420.4h0.75v0.75h-0.75zM58.6 420.1h0.75v0.75h-0.75zM59.9 420.4h0.75v0.75h-0.75zM102.7 420.2h0.75v0.75h-0.75zM103.6 420.3h0.75v0.75h-0.75zM105.0 420.5h0.75v0.75h-0.75zM109.7 420.3h0.75v0.75h-0.75zM111.8 420.6h0.75v0.75h-0.75zM119.7 420.2h0.75v0.75h-0.75zM121.8 420.4h0.75v0.75h-0.75zM56.0 421.4h0.75v0.75h-0.75zM99.5 421.0h0.75v0.75h-0.75zM102.6 421.1h0.75v0.75h-0.75zM105.7 421.4h0.75v0.75h-0.75zM106.6 421.3h0.75v0.75h-0.75zM108.6 421.6h0.75v0.75h-0.75zM115.6 421.5h0.75v0.75h-0.75zM118.1 421.0h0.75v0.75h-0.75zM58.9 422.1h0.75v0.75h-0.75zM77.7 422.6h0.75v0.75h-0.75zM81.7 422.2h0.75v0.75h-0.75zM102.8 422.2h0.75v0.75h-0.75zM105.7 422.3h0.75v0.75h-0.75zM109.5 422.3h0.75v0.75h-0.75zM117.1 422.4h0.75v0.75h-0.75zM56.9 423.6h0.75v0.75h-0.75zM86.8 423.1h0.75v0.75h-0.75zM89.7 423.1h0.75v0.75h-0.75zM95.8 423.4h0.75v0.75h-0.75zM102.1 423.0h0.75v0.75h-0.75zM103.1 423.2h0.75v0.75h-0.75zM109.9 423.0h0.75v0.75h-0.75zM110.5 423.5h0.75v0.75h-0.75zM112.5 423.2h0.75v0.75h-0.75zM116.8 423.1h0.75v0.75h-0.75zM59.6 424.2h0.75v0.75h-0.75zM69.9 424.4h0.75v0.75h-0.75zM74.9 424.5h0.75v0.75h-0.75zM80.1 424.0h0.75v0.75h-0.75zM83.9 424.4h0.75v0.75h-0.75zM84.5 424.5h0.75v0.75h-0.75zM86.0 424.6h0.75v0.75h-0.75zM86.7 424.4h0.75v0.75h-0.75zM88.7 424.4h0.75v0.75h-0.75zM97.1 424.0h0.75v0.75h-0.75zM99.0 424.5h0.75v0.75h-0.75zM104.9 424.5h0.75v0.75h-0.75zM105.6 424.0h0.75v0.75h-0.75zM106.7 424.5h0.75v0.75h-0.75zM114.8 424.4h0.75v0.75h-0.75zM55.8 425.4h0.75v0.75h-0.75zM57.1 425.5h0.75v0.75h-0.75zM59.7 425.3h0.75v0.75h-0.75zM60.9 425.4h0.75v0.75h-0.75zM63.1 425.4h0.75v0.75h-0.75zM63.9 425.0h0.75v0.75h-0.75zM66.7 425.3h0.75v0.75h-0.75zM67.5 425.5h0.75v0.75h-0.75zM70.1 425.0h0.75v0.75h-0.75zM74.6 425.6h0.75v0.75h-0.75zM77.8 425.3h0.75v0.75h-0.75zM83.0 425.1h0.75v0.75h-0.75zM84.6 425.4h0.75v0.75h-0.75zM86.5 425.5h0.75v0.75h-0.75zM91.8 425.2h0.75v0.75h-0.75zM93.0 425.4h0.75v0.75h-0.75zM93.8 425.6h0.75v0.75h-0.75zM95.6 425.1h0.75v0.75h-0.75zM101.0 425.2h0.75v0.75h-0.75zM104.1 425.4h0.75v0.75h-0.75zM105.9 425.2h0.75v0.75h-0.75zM112.8 425.3h0.75v0.75h-0.75zM61.5 426.0h0.75v0.75h-0.75zM63.9 426.6h0.75v0.75h-0.75zM65.8 426.0h0.75v0.75h-0.75zM70.6 426.2h0.75v0.75h-0.75zM72.0 426.1h0.75v0.75h-0.75zM74.0 426.0h0.75v0.75h-0.75zM80.9 426.3h0.75v0.75h-0.75zM82.1 426.5h0.75v0.75h-0.75zM86.8 426.3h0.75v0.75h-0.75zM89.8 426.1h0.75v0.75h-0.75zM91.6 426.3h0.75v0.75h-0.75zM92.7 426.5h0.75v0.75h-0.75zM96.9 426.1h0.75v0.75h-0.75zM100.1 426.3h0.75v0.75h-0.75zM103.6 426.5h0.75v0.75h-0.75zM106.8 426.3h0.75v0.75h-0.75zM111.0 426.3h0.75v0.75h-0.75zM112.8 426.5h0.75v0.75h-0.75zM62.5 427.5h0.75v0.75h-0.75zM63.9 427.4h0.75v0.75h-0.75zM64.9 427.5h0.75v0.75h-0.75zM66.6 427.5h0.75v0.75h-0.75zM67.8 427.4h0.75v0.75h-0.75zM68.7 427.4h0.75v0.75h-0.75zM70.6 427.5h0.75v0.75h-0.75zM72.7 427.3h0.75v0.75h-0.75zM74.0 427.4h0.75v0.75h-0.75zM77.7 427.6h0.75v0.75h-0.75zM79.7 427.3h0.75v0.75h-0.75zM81.0 427.3h0.75v0.75h-0.75zM83.6 427.3h0.75v0.75h-0.75zM87.8 427.2h0.75v0.75h-0.75zM92.0 427.6h0.75v0.75h-0.75zM94.7 427.4h0.75v0.75h-0.75zM101.8 427.5h0.75v0.75h-0.75zM105.7 427.1h0.75v0.75h-0.75zM113.7 427.4h0.75v0.75h-0.75zM114.7 427.2h0.75v0.75h-0.75zM64.6 428.2h0.75v0.75h-0.75zM65.6 428.1h0.75v0.75h-0.75zM72.7 428.4h0.75v0.75h-0.75zM76.6 428.1h0.75v0.75h-0.75zM77.8 428.6h0.75v0.75h-0.75zM82.0 428.3h0.75v0.75h-0.75zM83.0 428.3h0.75v0.75h-0.75zM84.6 428.4h0.75v0.75h-0.75zM86.8 428.6h0.75v0.75h-0.75zM87.6 428.5h0.75v0.75h-0.75zM99.0 428.0h0.75v0.75h-0.75zM99.7 428.2h0.75v0.75h-0.75zM101.0 428.0h0.75v0.75h-0.75zM114.9 428.4h0.75v0.75h-0.75z" fill="#aab2f2" fill-opacity="0.5"/>
<path d="M94.6 355.0h0.75v0.75h-0.75zM65.7 358.0h0.75v0.75h-0.75zM79.8 358.4h0.75v0.75h-0.75zM65.7 359.3h0.75v0.75h-0.75zM83.6 363.4h0.75v0.75h-0.75zM65.6 364.6h0.75v0.75h-0.75zM67.8 366.2h0.75v0.75h-0.75zM74.7 366.3h0.75v0.75h-0.75zM72.9 367.4h0.75v0.75h-0.75zM72.9 369.5h0.75v0.75h-0.75zM65.0 371.4h0.75v0.75h-0.75zM93.9 372.5h0.75v0.75h-0.75zM63.9 373.1h0.75v0.75h-0.75zM100.9 373.1h0.75v0.75h-0.75zM115.5 373.0h0.75v0.75h-0.75zM59.7 374.4h0.75v0.75h-0.75zM78.7 374.4h0.75v0.75h-0.75zM66.9 375.3h0.75v0.75h-0.75zM69.1 377.4h0.75v0.75h-0.75zM85.7 377.3h0.75v0.75h-0.75zM64.6 378.3h0.75v0.75h-0.75zM72.9 378.2h0.75v0.75h-0.75zM77.0 378.5h0.75v0.75h-0.75zM107.1 378.1h0.75v0.75h-0.75zM63.8 379.4h0.75v0.75h-0.75zM65.7 379.3h0.75v0.75h-0.75zM70.7 379.4h0.75v0.75h-0.75zM73.0 379.4h0.75v0.75h-0.75zM87.8 379.2h0.75v0.75h-0.75zM65.8 380.5h0.75v0.75h-0.75zM67.7 380.5h0.75v0.75h-0.75zM73.6 380.6h0.75v0.75h-0.75zM80.9 380.0h0.75v0.75h-0.75zM65.7 381.1h0.75v0.75h-0.75zM67.0 381.4h0.75v0.75h-0.75zM74.5 381.0h0.75v0.75h-0.75zM76.5 381.6h0.75v0.75h-0.75zM94.7 381.5h0.75v0.75h-0.75zM61.9 382.1h0.75v0.75h-0.75zM63.9 382.4h0.75v0.75h-0.75zM64.6 382.2h0.75v0.75h-0.75zM65.6 382.2h0.75v0.75h-0.75zM66.6 382.1h0.75v0.75h-0.75zM71.1 382.6h0.75v0.75h-0.75zM71.7 382.5h0.75v0.75h-0.75zM73.0 382.2h0.75v0.75h-0.75zM74.0 382.1h0.75v0.75h-0.75zM78.0 382.3h0.75v0.75h-0.75zM61.9 383.4h0.75v0.75h-0.75zM63.5 383.4h0.75v0.75h-0.75zM64.9 383.6h0.75v0.75h-0.75zM66.8 383.1h0.75v0.75h-0.75zM68.9 383.3h0.75v0.75h-0.75zM70.0 383.2h0.75v0.75h-0.75zM78.9 383.0h0.75v0.75h-0.75zM80.0 383.1h0.75v0.75h-0.75zM64.1 384.2h0.75v0.75h-0.75zM67.8 384.0h0.75v0.75h-0.75zM68.9 384.3h0.75v0.75h-0.75zM69.6 384.5h0.75v0.75h-0.75zM70.5 384.1h0.75v0.75h-0.75zM72.0 384.2h0.75v0.75h-0.75zM77.7 384.2h0.75v0.75h-0.75zM84.7 384.1h0.75v0.75h-0.75zM98.0 384.5h0.75v0.75h-0.75zM61.8 385.1h0.75v0.75h-0.75zM62.8 385.4h0.75v0.75h-0.75zM66.0 385.4h0.75v0.75h-0.75zM66.9 385.2h0.75v0.75h-0.75zM67.8 385.2h0.75v0.75h-0.75zM70.6 385.1h0.75v0.75h-0.75zM100.8 385.2h0.75v0.75h-0.75zM61.6 386.2h0.75v0.75h-0.75zM64.6 386.4h0.75v0.75h-0.75zM65.7 386.2h0.75v0.75h-0.75zM66.7 386.2h0.75v0.75h-0.75zM68.1 386.4h0.75v0.75h-0.75zM69.0 386.5h0.75v0.75h-0.75zM69.7 386.2h0.75v0.75h-0.75zM71.0 386.5h0.75v0.75h-0.75zM71.7 386.5h0.75v0.75h-0.75zM72.7 386.4h0.75v0.75h-0.75zM80.9 386.0h0.75v0.75h-0.75zM100.5 386.1h0.75v0.75h-0.75zM107.1 386.3h0.75v0.75h-0.75zM62.6 387.5h0.75v0.75h-0.75zM64.9 387.1h0.75v0.75h-0.75zM67.0 387.5h0.75v0.75h-0.75zM68.6 387.0h0.75v0.75h-0.75zM69.7 387.4h0.75v0.75h-0.75zM70.8 387.6h0.75v0.75h-0.75zM73.8 387.5h0.75v0.75h-0.75zM92.8 387.1h0.75v0.75h-0.75zM61.0 388.4h0.75v0.75h-0.75zM61.6 388.4h0.75v0.75h-0.75zM62.9 388.4h0.75v0.75h-0.75zM64.8 388.2h0.75v0.75h-0.75zM65.7 388.5h0.75v0.75h-0.75zM66.8 388.5h0.75v0.75h-0.75zM67.6 388.2h0.75v0.75h-0.75zM68.9 388.4h0.75v0.75h-0.75zM69.6 388.4h0.75v0.75h-0.75zM70.6 388.0h0.75v0.75h-0.75zM71.6 388.6h0.75v0.75h-0.75zM84.6 388.5h0.75v0.75h-0.75zM61.8 389.3h0.75v0.75h-0.75zM62.8 389.4h0.75v0.75h-0.75zM64.5 389.1h0.75v0.75h-0.75zM65.8 389.3h0.75v0.75h-0.75zM66.9 389.1h0.75v0.75h-0.75zM67.8 389.1h0.75v0.75h-0.75zM68.8 389.3h0.75v0.75h-0.75zM69.6 389.4h0.75v0.75h-0.75zM70.8 389.2h0.75v0.75h-0.75zM71.9 389.2h0.75v0.75h-0.75zM72.8 389.5h0.75v0.75h-0.75zM80.8 389.3h0.75v0.75h-0.75zM103.9 389.6h0.75v0.75h-0.75zM62.5 390.0h0.75v0.75h-0.75zM65.6 390.2h0.75v0.75h-0.75zM66.7 390.5h0.75v0.75h-0.75zM67.7 390.1h0.75v0.75h-0.75zM68.8 390.3h0.75v0.75h-0.75zM69.8 390.0h0.75v0.75h-0.75zM85.5 390.1h0.75v0.75h-0.75zM89.7 390.5h0.75v0.75h-0.75zM103.0 390.4h0.75v0.75h-0.75zM61.5 391.2h0.75v0.75h-0.75zM63.0 391.2h0.75v0.75h-0.75zM64.0 391.4h0.75v0.75h-0.75zM64.8 391.3h0.75v0.75h-0.75zM66.1 391.5h0.75v0.75h-0.75zM67.0 391.5h0.75v0.75h-0.75zM68.0 391.1h0.75v0.75h-0.75zM69.1 391.5h0.75v0.75h-0.75zM70.0 391.2h0.75v0.75h-0.75zM70.8 391.6h0.75v0.75h-0.75zM72.0 391.2h0.75v0.75h-0.75zM100.5 391.0h0.75v0.75h-0.75zM60.0 392.3h0.75v0.75h-0.75zM61.8 392.0h0.75v0.75h-0.75zM62.5 392.4h0.75v0.75h-0.75zM63.6 392.5h0.75v0.75h-0.75zM65.0 392.3h0.75v0.75h-0.75zM65.8 392.3h0.75v0.75h-0.75zM66.6 392.3h0.75v0.75h-0.75zM67.7 392.5h0.75v0.75h-0.75zM69.0 392.2h0.75v0.75h-0.75zM69.6 392.4h0.75v0.75h-0.75zM73.1 392.4h0.75v0.75h-0.75zM74.9 392.0h0.75v0.75h-0.75zM76.7 392.6h0.75v0.75h-0.75zM89.8 392.6h0.75v0.75h-0.75zM63.9 393.3h0.75v0.75h-0.75zM64.9 393.2h0.75v0.75h-0.75zM65.9 393.3h0.75v0.75h-0.75zM66.6 393.2h0.75v0.75h-0.75zM68.0 393.6h0.75v0.75h-0.75zM68.9 393.5h0.75v0.75h-0.75zM69.7 393.3h0.75v0.75h-0.75zM70.8 393.6h0.75v0.75h-0.75zM71.9 393.3h0.75v0.75h-0.75zM72.6 393.1h0.75v0.75h-0.75zM84.6 393.5h0.75v0.75h-0.75zM90.0 393.3h0.75v0.75h-0.75zM90.7 393.3h0.75v0.75h-0.75zM92.9 393.1h0.75v0.75h-0.75zM94.6 393.4h0.75v0.75h-0.75zM96.0 393.4h0.75v0.75h-0.75zM99.7 393.2h0.75v0.75h-0.75zM100.9 393.4h0.75v0.75h-0.75zM61.6 394.4h0.75v0.75h-0.75zM62.6 394.3h0.75v0.75h-0.75zM64.1 394.2h0.75v0.75h-0.75zM64.7 394.3h0.75v0.75h-0.75zM65.6 394.2h0.75v0.75h-0.75zM66.7 394.0h0.75v0.75h-0.75zM68.0 394.4h0.75v0.75h-0.75zM68.8 394.5h0.75v0.75h-0.75zM70.0 394.1h0.75v0.75h-0.75zM70.7 394.5h0.75v0.75h-0.75zM71.9 394.5h0.75v0.75h-0.75zM72.7 394.1h0.75v0.75h-0.75zM73.8 394.5h0.75v0.75h-0.75zM77.7 394.4h0.75v0.75h-0.75zM89.5 394.1h0.75v0.75h-0.75zM97.7 394.2h0.75v0.75h-0.75zM101.9 394.2h0.75v0.75h-0.75zM63.0 395.3h0.75v0.75h-0.75zM63.6 395.4h0.75v0.75h-0.75zM65.0 395.1h0.75v0.75h-0.75zM65.5 395.1h0.75v0.75h-0.75zM66.9 395.0h0.75v0.75h-0.75zM67.7 395.3h0.75v0.75h-0.75zM68.9 395.2h0.75v0.75h-0.75zM69.8 395.4h0.75v0.75h-0.75zM70.5 395.4h0.75v0.75h-0.75zM71.6 395.1h0.75v0.75h-0.75zM72.8 395.0h0.75v0.75h-0.75zM76.6 395.4h0.75v0.75h-0.75zM94.7 395.1h0.75v0.75h-0.75zM102.9 395.4h0.75v0.75h-0.75zM109.7 395.2h0.75v0.75h-0.75zM57.8 396.0h0.75v0.75h-0.75zM61.1 396.4h0.75v0.75h-0.75zM62.9 396.4h0.75v0.75h-0.75zM63.6 396.1h0.75v0.75h-0.75zM64.7 396.3h0.75v0.75h-0.75zM65.7 396.2h0.75v0.75h-0.75zM66.8 396.3h0.75v0.75h-0.75zM67.7 396.2h0.75v0.75h-0.75zM68.7 396.1h0.75v0.75h-0.75zM69.7 396.1h0.75v0.75h-0.75zM70.7 396.3h0.75v0.75h-0.75zM71.9 396.1h0.75v0.75h-0.75zM77.7 396.3h0.75v0.75h-0.75zM81.9 396.5h0.75v0.75h-0.75zM82.7 396.2h0.75v0.75h-0.75zM87.0 396.1h0.75v0.75h-0.75zM89.7 396.3h0.75v0.75h-0.75zM90.7 396.0h0.75v0.75h-0.75zM91.7 396.5h0.75v0.75h-0.75zM92.5 396.6h0.75v0.75h-0.75zM94.6 396.3h0.75v0.75h-0.75zM58.7 397.0h0.75v0.75h-0.75zM62.6 397.2h0.75v0.75h-0.75zM64.0 397.2h0.75v0.75h-0.75zM64.5 397.2h0.75v0.75h-0.75zM65.8 397.3h0.75v0.75h-0.75zM67.0 397.5h0.75v0.75h-0.75zM67.6 397.6h0.75v0.75h-0.75zM68.8 397.3h0.75v0.75h-0.75zM69.8 397.5h0.75v0.75h-0.75zM70.6 397.5h0.75v0.75h-0.75zM72.0 397.5h0.75v0.75h-0.75zM72.6 397.1h0.75v0.75h-0.75zM76.0 397.2h0.75v0.75h-0.75zM101.6 397.6h0.75v0.75h-0.75zM104.0 397.6h0.75v0.75h-0.75zM58.7 398.0h0.75v0.75h-0.75zM61.5 398.3h0.75v0.75h-0.75zM62.7 398.1h0.75v0.75h-0.75zM64.1 398.3h0.75v0.75h-0.75zM64.7 398.1h0.75v0.75h-0.75zM65.9 398.2h0.75v0.75h-0.75zM67.1 398.1h0.75v0.75h-0.75zM67.6 398.5h0.75v0.75h-0.75zM68.7 398.5h0.75v0.75h-0.75zM69.9 398.2h0.75v0.75h-0.75zM70.9 398.5h0.75v0.75h-0.75zM72.6 398.1h0.75v0.75h-0.75zM82.9 398.5h0.75v0.75h-0.75zM91.8 398.3h0.75v0.75h-0.75zM98.7 398.6h0.75v0.75h-0.75zM116.8 398.3h0.75v0.75h-0.75zM62.0 399.0h0.75v0.75h-0.75zM62.8 399.6h0.75v0.75h-0.75zM64.0 399.3h0.75v0.75h-0.75zM65.0 399.2h0.75v0.75h-0.75zM66.0 399.5h0.75v0.75h-0.75zM67.0 399.6h0.75v0.75h-0.75zM67.9 399.3h0.75v0.75h-0.75zM68.5 399.1h0.75v0.75h-0.75zM69.9 399.2h0.75v0.75h-0.75zM70.9 399.1h0.75v0.75h-0.75zM71.8 399.5h0.75v0.75h-0.75zM73.0 399.3h0.75v0.75h-0.75zM75.0 399.5h0.75v0.75h-0.75zM75.9 399.3h0.75v0.75h-0.75zM79.6 399.4h0.75v0.75h-0.75zM87.0 399.5h0.75v0.75h-0.75zM88.1 399.4h0.75v0.75h-0.75zM89.0 399.4h0.75v0.75h-0.75zM89.6 399.2h0.75v0.75h-0.75zM91.6 399.6h0.75v0.75h-0.75zM93.6 399.5h0.75v0.75h-0.75zM98.0 399.1h0.75v0.75h-0.75zM103.1 399.6h0.75v0.75h-0.75zM108.1 399.1h0.75v0.75h-0.75zM60.6 400.4h0.75v0.75h-0.75zM61.8 400.4h0.75v0.75h-0.75zM62.6 400.1h0.75v0.75h-0.75zM63.9 400.0h0.75v0.75h-0.75zM64.5 400.4h0.75v0.75h-0.75zM66.0 400.3h0.75v0.75h-0.75zM66.6 400.2h0.75v0.75h-0.75zM67.5 400.5h0.75v0.75h-0.75zM68.9 400.1h0.75v0.75h-0.75zM69.9 400.3h0.75v0.75h-0.75zM71.1 400.6h0.75v0.75h-0.75zM71.8 400.3h0.75v0.75h-0.75zM73.0 400.5h0.75v0.75h-0.75zM74.9 400.6h0.75v0.75h-0.75zM75.6 400.5h0.75v0.75h-0.75zM77.6 400.2h0.75v0.75h-0.75zM80.7 400.3h0.75v0.75h-0.75zM81.6 400.1h0.75v0.75h-0.75zM84.8 400.3h0.75v0.75h-0.75zM86.7 400.0h0.75v0.75h-0.75zM92.0 400.5h0.75v0.75h-0.75zM93.8 400.3h0.75v0.75h-0.75zM97.8 400.2h0.75v0.75h-0.75zM103.5 400.1h0.75v0.75h-0.75zM59.7 401.1h0.75v0.75h-0.75zM62.9 401.5h0.75v0.75h-0.75zM64.0 401.2h0.75v0.75h-0.75zM65.1 401.6h0.75v0.75h-0.75zM65.9 401.2h0.75v0.75h-0.75zM66.7 401.4h0.75v0.75h-0.75zM67.5 401.3h0.75v0.75h-0.75zM69.1 401.2h0.75v0.75h-0.75zM69.7 401.2h0.75v0.75h-0.75zM71.1 401.1h0.75v0.75h-0.75zM71.9 401.4h0.75v0.75h-0.75zM72.7 401.5h0.75v0.75h-0.75zM77.1 401.2h0.75v0.75h-0.75zM89.5 401.2h0.75v0.75h-0.75zM95.8 401.2h0.75v0.75h-0.75zM97.0 401.1h0.75v0.75h-0.75zM99.9 401.5h0.75v0.75h-0.75zM101.0 401.5h0.75v0.75h-0.75zM110.9 401.5h0.75v0.75h-0.75zM60.5 402.5h0.75v0.75h-0.75zM61.8 402.2h0.75v0.75h-0.75zM63.6 402.3h0.75v0.75h-0.75zM64.6 402.5h0.75v0.75h-0.75zM65.7 402.4h0.75v0.75h-0.75zM66.7 402.5h0.75v0.75h-0.75zM67.9 402.1h0.75v0.75h-0.75zM68.8 402.5h0.75v0.75h-0.75zM69.6 402.4h0.75v0.75h-0.75zM70.6 402.1h0.75v0.75h-0.75zM71.9 402.0h0.75v0.75h-0.75zM73.5 402.5h0.75v0.75h-0.75zM78.0 402.4h0.75v0.75h-0.75zM79.5 402.3h0.75v0.75h-0.75zM83.9 402.3h0.75v0.75h-0.75zM86.9 402.4h0.75v0.75h-0.75zM87.8 402.2h0.75v0.75h-0.75zM91.8 402.1h0.75v0.75h-0.75zM95.8 402.1h0.75v0.75h-0.75zM99.1 402.3h0.75v0.75h-0.75zM100.6 402.4h0.75v0.75h-0.75zM102.8 402.2h0.75v0.75h-0.75zM106.0 402.4h0.75v0.75h-0.75zM110.5 402.0h0.75v0.75h-0.75zM59.9 403.6h0.75v0.75h-0.75zM61.8 403.3h0.75v0.75h-0.75zM62.9 403.4h0.75v0.75h-0.75zM63.6 403.4h0.75v0.75h-0.75zM65.0 403.1h0.75v0.75h-0.75zM65.9 403.3h0.75v0.75h-0.75zM67.0 403.4h0.75v0.75h-0.75zM67.9 403.1h0.75v0.75h-0.75zM68.8 403.3h0.75v0.75h-0.75zM69.9 403.6h0.75v0.75h-0.75zM70.9 403.1h0.75v0.75h-0.75zM72.0 403.2h0.75v0.75h-0.75zM72.6 403.1h0.75v0.75h-0.75zM74.8 403.2h0.75v0.75h-0.75zM75.7 403.1h0.75v0.75h-0.75zM77.0 403.1h0.75v0.75h-0.75zM77.8 403.2h0.75v0.75h-0.75zM79.8 403.1h0.75v0.75h-0.75zM80.6 403.0h0.75v0.75h-0.75zM83.6 403.4h0.75v0.75h-0.75zM84.9 403.2h0.75v0.75h-0.75zM86.8 403.4h0.75v0.75h-0.75zM87.6 403.2h0.75v0.75h-0.75zM88.8 403.4h0.75v0.75h-0.75zM89.8 403.3h0.75v0.75h-0.75zM91.9 403.0h0.75v0.75h-0.75zM93.8 403.3h0.75v0.75h-0.75zM96.8 403.1h0.75v0.75h-0.75zM107.8 403.1h0.75v0.75h-0.75zM55.8 404.2h0.75v0.75h-0.75zM60.9 404.4h0.75v0.75h-0.75zM61.8 404.4h0.75v0.75h-0.75zM62.7 404.4h0.75v0.75h-0.75zM63.5 404.3h0.75v0.75h-0.75zM64.8 404.6h0.75v0.75h-0.75zM65.6 404.1h0.75v0.75h-0.75zM66.7 404.1h0.75v0.75h-0.75zM67.8 404.4h0.75v0.75h-0.75zM68.5 404.2h0.75v0.75h-0.75zM70.0 404.0h0.75v0.75h-0.75zM71.0 404.3h0.75v0.75h-0.75zM71.5 404.5h0.75v0.75h-0.75zM72.8 404.3h0.75v0.75h-0.75zM75.0 404.0h0.75v0.75h-0.75zM80.0 404.1h0.75v0.75h-0.75zM84.6 404.3h0.75v0.75h-0.75zM85.7 404.5h0.75v0.75h-0.75zM87.0 404.2h0.75v0.75h-0.75zM88.7 404.4h0.75v0.75h-0.75zM89.9 404.5h0.75v0.75h-0.75zM92.9 404.4h0.75v0.75h-0.75zM93.5 404.4h0.75v0.75h-0.75zM94.9 404.6h0.75v0.75h-0.75zM95.5 404.2h0.75v0.75h-0.75zM98.6 404.1h0.75v0.75h-0.75zM104.1 404.0h0.75v0.75h-0.75zM112.5 404.6h0.75v0.75h-0.75zM58.9 405.5h0.75v0.75h-0.75zM61.6 405.2h0.75v0.75h-0.75zM63.1 405.0h0.75v0.75h-0.75zM63.6 405.4h0.75v0.75h-0.75zM64.8 405.5h0.75v0.75h-0.75zM65.8 405.4h0.75v0.75h-0.75zM67.0 405.3h0.75v0.75h-0.75zM67.9 405.2h0.75v0.75h-0.75zM68.7 405.3h0.75v0.75h-0.75zM69.9 405.6h0.75v0.75h-0.75zM70.5 405.4h0.75v0.75h-0.75zM71.7 405.3h0.75v0.75h-0.75zM72.7 405.3h0.75v0.75h-0.75zM73.8 405.1h0.75v0.75h-0.75zM74.7 405.0h0.75v0.75h-0.75zM75.6 405.1h0.75v0.75h-0.75zM76.6 405.6h0.75v0.75h-0.75zM78.0 405.1h0.75v0.75h-0.75zM79.0 405.2h0.75v0.75h-0.75zM81.1 405.5h0.75v0.75h-0.75zM83.9 405.5h0.75v0.75h-0.75zM85.0 405.5h0.75v0.75h-0.75zM90.0 405.2h0.75v0.75h-0.75zM90.9 405.1h0.75v0.75h-0.75zM95.0 405.4h0.75v0.75h-0.75zM95.6 405.4h0.75v0.75h-0.75zM97.0 405.4h0.75v0.75h-0.75zM98.5 405.0h0.75v0.75h-0.75zM101.7 405.4h0.75v0.75h-0.75zM108.8 405.4h0.75v0.75h-0.75zM57.8 406.4h0.75v0.75h-0.75zM60.8 406.5h0.75v0.75h-0.75zM61.9 406.1h0.75v0.75h-0.75zM62.9 406.3h0.75v0.75h-0.75zM63.7 406.1h0.75v0.75h-0.75zM65.1 406.4h0.75v0.75h-0.75zM65.8 406.1h0.75v0.75h-0.75zM66.5 406.5h0.75v0.75h-0.75zM67.6 406.5h0.75v0.75h-0.75zM68.7 406.6h0.75v0.75h-0.75zM69.9 406.5h0.75v0.75h-0.75zM70.8 406.2h0.75v0.75h-0.75zM71.8 406.5h0.75v0.75h-0.75zM72.9 406.3h0.75v0.75h-0.75zM73.8 406.4h0.75v0.75h-0.75zM75.0 406.3h0.75v0.75h-0.75zM76.1 406.5h0.75v0.75h-0.75zM76.6 406.3h0.75v0.75h-0.75zM79.8 406.6h0.75v0.75h-0.75zM80.7 406.2h0.75v0.75h-0.75zM81.6 406.6h0.75v0.75h-0.75zM82.9 406.3h0.75v0.75h-0.75zM83.9 406.1h0.75v0.75h-0.75zM85.0 406.4h0.75v0.75h-0.75zM85.8 406.0h0.75v0.75h-0.75zM87.6 406.2h0.75v0.75h-0.75zM88.8 406.5h0.75v0.75h-0.75zM90.0 406.3h0.75v0.75h-0.75zM90.8 406.2h0.75v0.75h-0.75zM91.9 406.6h0.75v0.75h-0.75zM92.5 406.0h0.75v0.75h-0.75zM93.6 406.2h0.75v0.75h-0.75zM94.8 406.2h0.75v0.75h-0.75zM96.7 406.5h0.75v0.75h-0.75zM97.5 406.2h0.75v0.75h-0.75zM98.7 406.0h0.75v0.75h-0.75zM103.1 406.0h0.75v0.75h-0.75zM110.7 406.3h0.75v0.75h-0.75zM58.6 407.4h0.75v0.75h-0.75zM60.7 407.2h0.75v0.75h-0.75zM62.0 407.3h0.75v0.75h-0.75zM62.5 407.3h0.75v0.75h-0.75zM64.0 407.5h0.75v0.75h-0.75zM65.0 407.5h0.75v0.75h-0.75zM65.7 407.3h0.75v0.75h-0.75zM67.0 407.6h0.75v0.75h-0.75zM67.7 407.5h0.75v0.75h-0.75zM69.0 407.0h0.75v0.75h-0.75zM70.1 407.1h0.75v0.75h-0.75zM70.9 407.0h0.75v0.75h-0.75zM72.0 407.1h0.75v0.75h-0.75zM72.6 407.3h0.75v0.75h-0.75zM73.5 407.4h0.75v0.75h-0.75zM75.0 407.2h0.75v0.75h-0.75zM76.6 407.5h0.75v0.75h-0.75zM77.8 407.3h0.75v0.75h-0.75zM80.0 407.5h0.75v0.75h-0.75zM80.8 407.1h0.75v0.75h-0.75zM81.6 407.3h0.75v0.75h-0.75zM84.8 407.1h0.75v0.75h-0.75zM85.6 407.2h0.75v0.75h-0.75zM87.1 407.2h0.75v0.75h-0.75zM88.0 407.5h0.75v0.75h-0.75zM88.7 407.3h0.75v0.75h-0.75zM89.7 407.3h0.75v0.75h-0.75zM90.7 407.4h0.75v0.75h-0.75zM91.8 407.5h0.75v0.75h-0.75zM92.8 407.5h0.75v0.75h-0.75zM93.8 407.6h0.75v0.75h-0.75zM94.9 407.2h0.75v0.75h-0.75zM96.1 407.5h0.75v0.75h-0.75zM96.8 407.1h0.75v0.75h-0.75zM97.6 407.0h0.75v0.75h-0.75zM99.0 407.0h0.75v0.75h-0.75zM99.6 407.0h0.75v0.75h-0.75zM100.8 407.0h0.75v0.75h-0.75zM101.6 407.2h0.75v0.75h-0.75zM103.6 407.1h0.75v0.75h-0.75zM105.0 407.1h0.75v0.75h-0.75zM109.0 407.5h0.75v0.75h-0.75zM57.9 408.0h0.75v0.75h-0.75zM60.7 408.1h0.75v0.75h-0.75zM63.1 408.5h0.75v0.75h-0.75zM63.8 408.0h0.75v0.75h-0.75zM64.6 408.3h0.75v0.75h-0.75zM65.8 408.3h0.75v0.75h-0.75zM66.8 408.4h0.75v0.75h-0.75zM67.8 408.0h0.75v0.75h-0.75zM68.9 408.0h0.75v0.75h-0.75zM69.6 408.3h0.75v0.75h-0.75zM70.6 408.2h0.75v0.75h-0.75zM71.6 408.3h0.75v0.75h-0.75zM72.7 408.2h0.75v0.75h-0.75zM74.1 408.6h0.75v0.75h-0.75zM75.0 408.1h0.75v0.75h-0.75zM76.0 408.5h0.75v0.75h-0.75zM77.0 408.3h0.75v0.75h-0.75zM77.6 408.3h0.75v0.75h-0.75zM78.5 408.4h0.75v0.75h-0.75zM80.0 408.3h0.75v0.75h-0.75zM82.1 408.3h0.75v0.75h-0.75zM82.8 408.2h0.75v0.75h-0.75zM83.5 408.5h0.75v0.75h-0.75zM84.7 408.1h0.75v0.75h-0.75zM85.8 408.5h0.75v0.75h-0.75zM86.9 408.6h0.75v0.75h-0.75zM87.9 408.4h0.75v0.75h-0.75zM88.7 408.4h0.75v0.75h-0.75zM89.9 408.2h0.75v0.75h-0.75zM90.7 408.2h0.75v0.75h-0.75zM92.1 408.6h0.75v0.75h-0.75zM92.7 408.1h0.75v0.75h-0.75zM94.0 408.4h0.75v0.75h-0.75zM95.1 408.0h0.75v0.75h-0.75zM96.6 408.1h0.75v0.75h-0.75zM97.6 408.4h0.75v0.75h-0.75zM99.1 408.6h0.75v0.75h-0.75zM101.9 408.4h0.75v0.75h-0.75zM103.0 408.0h0.75v0.75h-0.75zM104.9 408.1h0.75v0.75h-0.75zM113.8 408.6h0.75v0.75h-0.75zM56.6 409.3h0.75v0.75h-0.75zM59.6 409.4h0.75v0.75h-0.75zM60.6 409.1h0.75v0.75h-0.75zM62.0 409.6h0.75v0.75h-0.75zM63.0 409.5h0.75v0.75h-0.75zM64.0 409.6h0.75v0.75h-0.75zM65.1 409.0h0.75v0.75h-0.75zM65.6 409.0h0.75v0.75h-0.75zM66.8 409.2h0.75v0.75h-0.75zM68.0 409.4h0.75v0.75h-0.75zM68.9 409.6h0.75v0.75h-0.75zM69.9 409.1h0.75v0.75h-0.75zM70.6 409.6h0.75v0.75h-0.75zM72.0 409.4h0.75v0.75h-0.75zM72.5 409.1h0.75v0.75h-0.75zM73.9 409.1h0.75v0.75h-0.75zM74.9 409.5h0.75v0.75h-0.75zM76.1 409.3h0.75v0.75h-0.75zM77.0 409.6h0.75v0.75h-0.75zM78.0 409.4h0.75v0.75h-0.75zM79.1 409.3h0.75v0.75h-0.75zM79.6 409.0h0.75v0.75h-0.75zM80.5 409.2h0.75v0.75h-0.75zM81.7 409.3h0.75v0.75h-0.75zM83.0 409.5h0.75v0.75h-0.75zM83.8 409.5h0.75v0.75h-0.75zM84.9 409.2h0.75v0.75h-0.75zM86.0 409.3h0.75v0.75h-0.75zM86.6 409.3h0.75v0.75h-0.75zM87.7 409.1h0.75v0.75h-0.75zM88.6 409.3h0.75v0.75h-0.75zM89.9 409.2h0.75v0.75h-0.75zM90.9 409.2h0.75v0.75h-0.75zM91.9 409.4h0.75v0.75h-0.75zM92.6 409.6h0.75v0.75h-0.75zM93.5 409.5h0.75v0.75h-0.75zM94.5 409.5h0.75v0.75h-0.75zM95.9 409.0h0.75v0.75h-0.75zM97.0 409.6h0.75v0.75h-0.75zM97.9 409.5h0.75v0.75h-0.75zM98.7 409.4h0.75v0.75h-0.75zM99.6 409.1h0.75v0.75h-0.75zM101.0 409.5h0.75v0.75h-0.75zM102.7 409.3h0.75v0.75h-0.75zM104.1 409.3h0.75v0.75h-0.75zM106.6 409.2h0.75v0.75h-0.75zM55.9 410.6h0.75v0.75h-0.75zM56.8 410.1h0.75v0.75h-0.75zM58.9 410.1h0.75v0.75h-0.75zM60.6 410.4h0.75v0.75h-0.75zM61.6 410.4h0.75v0.75h-0.75zM62.9 410.5h0.75v0.75h-0.75zM63.9 410.1h0.75v0.75h-0.75zM64.8 410.5h0.75v0.75h-0.75zM65.6 410.2h0.75v0.75h-0.75zM66.6 410.1h0.75v0.75h-0.75zM67.7 410.4h0.75v0.75h-0.75zM69.0 410.2h0.75v0.75h-0.75zM70.0 410.2h0.75v0.75h-0.75zM70.8 410.4h0.75v0.75h-0.75zM71.6 410.3h0.75v0.75h-0.75zM72.9 410.4h0.75v0.75h-0.75zM73.8 410.6h0.75v0.75h-0.75zM74.8 410.4h0.75v0.75h-0.75zM75.6 410.3h0.75v0.75h-0.75zM77.1 410.4h0.75v0.75h-0.75zM78.0 410.3h0.75v0.75h-0.75zM79.0 410.5h0.75v0.75h-0.75zM79.6 410.0h0.75v0.75h-0.75zM80.8 410.2h0.75v0.75h-0.75zM81.6 410.4h0.75v0.75h-0.75zM83.0 410.1h0.75v0.75h-0.75zM83.6 410.4h0.75v0.75h-0.75zM84.8 410.5h0.75v0.75h-0.75zM86.0 410.4h0.75v0.75h-0.75zM86.8 410.2h0.75v0.75h-0.75zM87.7 410.5h0.75v0.75h-0.75zM88.8 410.5h0.75v0.75h-0.75zM89.8 410.1h0.75v0.75h-0.75zM90.6 410.3h0.75v0.75h-0.75zM91.9 410.5h0.75v0.75h-0.75zM92.8 410.4h0.75v0.75h-0.75zM94.0 410.3h0.75v0.75h-0.75zM94.5 410.5h0.75v0.75h-0.75zM95.9 410.1h0.75v0.75h-0.75zM96.6 410.2h0.75v0.75h-0.75zM97.8 410.5h0.75v0.75h-0.75zM98.6 410.2h0.75v0.75h-0.75zM100.0 410.5h0.75v0.75h-0.75zM100.5 410.5h0.75v0.75h-0.75zM104.7 410.1h0.75v0.75h-0.75zM105.5 410.6h0.75v0.75h-0.75zM106.5 410.6h0.75v0.75h-0.75zM109.1 410.5h0.75v0.75h-0.75zM109.6 410.1h0.75v0.75h-0.75zM58.0 411.4h0.75v0.75h-0.75zM58.8 411.2h0.75v0.75h-0.75zM60.7 411.0h0.75v0.75h-0.75zM62.1 411.2h0.75v0.75h-0.75zM62.7 411.3h0.75v0.75h-0.75zM64.0 411.2h0.75v0.75h-0.75zM64.6 411.4h0.75v0.75h-0.75zM65.6 411.3h0.75v0.75h-0.75zM67.1 411.5h0.75v0.75h-0.75zM67.7 411.6h0.75v0.75h-0.75zM68.9 411.0h0.75v0.75h-0.75zM69.9 411.3h0.75v0.75h-0.75zM70.7 411.5h0.75v0.75h-0.75zM71.7 411.4h0.75v0.75h-0.75zM72.9 411.2h0.75v0.75h-0.75zM73.7 411.5h0.75v0.75h-0.75zM75.0 411.6h0.75v0.75h-0.75zM75.8 411.1h0.75v0.75h-0.75zM77.0 411.5h0.75v0.75h-0.75zM78.0 411.4h0.75v0.75h-0.75zM79.0 411.2h0.75v0.75h-0.75zM79.9 411.6h0.75v0.75h-0.75zM81.0 411.3h0.75v0.75h-0.75zM82.1 411.6h0.75v0.75h-0.75zM83.0 411.1h0.75v0.75h-0.75zM83.8 411.3h0.75v0.75h-0.75zM85.1 411.0h0.75v0.75h-0.75zM85.7 411.4h0.75v0.75h-0.75zM86.6 411.3h0.75v0.75h-0.75zM88.1 411.0h0.75v0.75h-0.75zM88.6 411.3h0.75v0.75h-0.75zM89.5 411.3h0.75v0.75h-0.75zM90.6 411.0h0.75v0.75h-0.75zM91.5 411.2h0.75v0.75h-0.75zM93.0 411.1h0.75v0.75h-0.75zM93.7 411.6h0.75v0.75h-0.75zM94.9 411.4h0.75v0.75h-0.75zM96.1 411.0h0.75v0.75h-0.75zM96.7 411.4h0.75v0.75h-0.75zM97.8 411.5h0.75v0.75h-0.75zM99.1 411.0h0.75v0.75h-0.75zM99.9 411.3h0.75v0.75h-0.75zM100.8 411.3h0.75v0.75h-0.75zM101.6 411.0h0.75v0.75h-0.75zM103.0 411.2h0.75v0.75h-0.75zM103.8 411.2h0.75v0.75h-0.75zM104.9 411.2h0.75v0.75h-0.75zM108.8 411.1h0.75v0.75h-0.75zM109.9 411.2h0.75v0.75h-0.75zM113.0 411.1h0.75v0.75h-0.75zM115.0 411.5h0.75v0.75h-0.75zM56.0 412.4h0.75v0.75h-0.75zM59.0 412.3h0.75v0.75h-0.75zM60.0 412.4h0.75v0.75h-0.75zM61.0 412.4h0.75v0.75h-0.75zM62.0 412.2h0.75v0.75h-0.75zM62.9 412.1h0.75v0.75h-0.75zM63.6 412.4h0.75v0.75h-0.75zM64.9 412.0h0.75v0.75h-0.75zM66.0 412.2h0.75v0.75h-0.75zM66.5 412.5h0.75v0.75h-0.75zM67.5 412.2h0.75v0.75h-0.75zM69.0 412.3h0.75v0.75h-0.75zM69.9 412.2h0.75v0.75h-0.75zM70.8 412.2h0.75v0.75h-0.75zM72.0 412.2h0.75v0.75h-0.75zM72.9 412.5h0.75v0.75h-0.75zM73.9 412.4h0.75v0.75h-0.75zM74.6 412.5h0.75v0.75h-0.75zM75.9 412.0h0.75v0.75h-0.75zM77.0 412.5h0.75v0.75h-0.75zM77.9 412.1h0.75v0.75h-0.75zM78.6 412.6h0.75v0.75h-0.75zM79.8 412.3h0.75v0.75h-0.75zM80.7 412.5h0.75v0.75h-0.75zM82.0 412.4h0.75v0.75h-0.75zM82.8 412.2h0.75v0.75h-0.75zM83.7 412.0h0.75v0.75h-0.75zM84.6 412.1h0.75v0.75h-0.75zM85.9 412.5h0.75v0.75h-0.75zM86.8 412.4h0.75v0.75h-0.75zM87.9 412.4h0.75v0.75h-0.75zM88.8 412.4h0.75v0.75h-0.75zM89.5 412.6h0.75v0.75h-0.75zM91.1 412.1h0.75v0.75h-0.75zM91.9 412.0h0.75v0.75h-0.75zM92.7 412.4h0.75v0.75h-0.75zM93.7 412.5h0.75v0.75h-0.75zM94.9 412.4h0.75v0.75h-0.75zM95.9 412.5h0.75v0.75h-0.75zM96.8 412.5h0.75v0.75h-0.75zM98.1 412.4h0.75v0.75h-0.75zM98.7 412.1h0.75v0.75h-0.75zM99.9 412.2h0.75v0.75h-0.75zM100.9 412.2h0.75v0.75h-0.75zM102.6 412.5h0.75v0.75h-0.75zM103.9 412.3h0.75v0.75h-0.75zM105.8 412.5h0.75v0.75h-0.75zM108.0 412.2h0.75v0.75h-0.75zM112.1 412.6h0.75v0.75h-0.75zM56.8 413.1h0.75v0.75h-0.75zM57.7 413.6h0.75v0.75h-0.75zM59.6 413.0h0.75v0.75h-0.75zM60.5 413.2h0.75v0.75h-0.75zM62.1 413.6h0.75v0.75h-0.75zM63.0 413.5h0.75v0.75h-0.75zM63.6 413.0h0.75v0.75h-0.75zM65.0 413.2h0.75v0.75h-0.75zM65.8 413.4h0.75v0.75h-0.75zM67.1 413.3h0.75v0.75h-0.75zM67.8 413.2h0.75v0.75h-0.75zM68.8 413.2h0.75v0.75h-0.75zM70.0 413.5h0.75v0.75h-0.75zM70.6 413.6h0.75v0.75h-0.75zM71.9 413.2h0.75v0.75h-0.75zM72.6 413.2h0.75v0.75h-0.75zM73.9 413.1h0.75v0.75h-0.75zM74.9 413.1h0.75v0.75h-0.75zM75.8 413.5h0.75v0.75h-0.75zM77.0 413.5h0.75v0.75h-0.75zM77.7 413.4h0.75v0.75h-0.75zM79.1 413.6h0.75v0.75h-0.75zM79.7 413.4h0.75v0.75h-0.75zM80.8 413.3h0.75v0.75h-0.75zM82.0 413.4h0.75v0.75h-0.75zM82.8 413.6h0.75v0.75h-0.75zM84.1 413.3h0.75v0.75h-0.75zM84.9 413.3h0.75v0.75h-0.75zM85.9 413.1h0.75v0.75h-0.75zM86.5 413.3h0.75v0.75h-0.75zM88.0 413.4h0.75v0.75h-0.75zM88.5 413.2h0.75v0.75h-0.75zM89.7 413.5h0.75v0.75h-0.75zM90.6 413.4h0.75v0.75h-0.75zM91.9 413.3h0.75v0.75h-0.75zM93.1 413.3h0.75v0.75h-0.75zM93.7 413.2h0.75v0.75h-0.75zM95.0 413.3h0.75v0.75h-0.75zM95.8 413.0h0.75v0.75h-0.75zM96.9 413.5h0.75v0.75h-0.75zM98.1 413.5h0.75v0.75h-0.75zM99.1 413.5h0.75v0.75h-0.75zM99.8 413.0h0.75v0.75h-0.75zM101.0 413.1h0.75v0.75h-0.75zM101.9 413.2h0.75v0.75h-0.75zM103.0 413.4h0.75v0.75h-0.75zM105.8 413.5h0.75v0.75h-0.75zM106.8 413.3h0.75v0.75h-0.75zM108.0 413.3h0.75v0.75h-0.75zM58.6 414.3h0.75v0.75h-0.75zM59.9 414.2h0.75v0.75h-0.75zM60.8 414.2h0.75v0.75h-0.75zM61.9 414.4h0.75v0.75h-0.75zM62.9 414.4h0.75v0.75h-0.75zM63.8 414.1h0.75v0.75h-0.75zM64.5 414.4h0.75v0.75h-0.75zM65.9 414.5h0.75v0.75h-0.75zM66.7 414.3h0.75v0.75h-0.75zM68.0 414.6h0.75v0.75h-0.75zM68.6 414.4h0.75v0.75h-0.75zM69.9 414.2h0.75v0.75h-0.75zM70.8 414.5h0.75v0.75h-0.75zM71.6 414.5h0.75v0.75h-0.75zM72.7 414.2h0.75v0.75h-0.75zM74.1 414.2h0.75v0.75h-0.75zM74.9 414.3h0.75v0.75h-0.75zM76.1 414.3h0.75v0.75h-0.75zM76.8 414.1h0.75v0.75h-0.75zM77.6 414.3h0.75v0.75h-0.75zM78.7 414.4h0.75v0.75h-0.75zM79.9 414.4h0.75v0.75h-0.75zM80.8 414.4h0.75v0.75h-0.75zM81.5 414.4h0.75v0.75h-0.75zM83.1 414.5h0.75v0.75h-0.75zM83.9 414.4h0.75v0.75h-0.75zM84.7 414.3h0.75v0.75h-0.75zM85.6 414.6h0.75v0.75h-0.75zM86.7 414.1h0.75v0.75h-0.75zM87.9 414.1h0.75v0.75h-0.75zM89.0 414.6h0.75v0.75h-0.75zM89.6 414.6h0.75v0.75h-0.75zM90.6 414.2h0.75v0.75h-0.75zM91.6 414.4h0.75v0.75h-0.75zM92.5 414.1h0.75v0.75h-0.75zM93.9 414.1h0.75v0.75h-0.75zM94.9 414.4h0.75v0.75h-0.75zM95.6 414.2h0.75v0.75h-0.75zM96.6 414.5h0.75v0.75h-0.75zM97.6 414.6h0.75v0.75h-0.75zM98.7 414.5h0.75v0.75h-0.75zM99.8 414.6h0.75v0.75h-0.75zM100.6 414.4h0.75v0.75h-0.75zM101.7 414.1h0.75v0.75h-0.75zM102.5 414.4h0.75v0.75h-0.75zM104.1 414.2h0.75v0.75h-0.75zM104.7 414.2h0.75v0.75h-0.75zM105.7 414.2h0.75v0.75h-0.75zM106.9 414.1h0.75v0.75h-0.75zM107.9 414.0h0.75v0.75h-0.75zM109.6 414.6h0.75v0.75h-0.75zM56.7 415.2h0.75v0.75h-0.75zM58.7 415.3h0.75v0.75h-0.75zM59.9 415.4h0.75v0.75h-0.75zM61.1 415.1h0.75v0.75h-0.75zM62.1 415.5h0.75v0.75h-0.75zM62.8 415.1h0.75v0.75h-0.75zM63.8 415.5h0.75v0.75h-0.75zM64.7 415.2h0.75v0.75h-0.75zM65.7 415.2h0.75v0.75h-0.75zM67.0 415.5h0.75v0.75h-0.75zM68.0 415.3h0.75v0.75h-0.75zM69.0 415.4h0.75v0.75h-0.75zM70.0 415.2h0.75v0.75h-0.75zM71.0 415.5h0.75v0.75h-0.75zM71.8 415.4h0.75v0.75h-0.75zM72.5 415.2h0.75v0.75h-0.75zM73.8 415.6h0.75v0.75h-0.75zM74.5 415.1h0.75v0.75h-0.75zM75.9 415.5h0.75v0.75h-0.75zM76.6 415.2h0.75v0.75h-0.75zM77.6 415.0h0.75v0.75h-0.75zM79.1 415.6h0.75v0.75h-0.75zM79.9 415.1h0.75v0.75h-0.75zM80.5 415.3h0.75v0.75h-0.75zM81.7 415.2h0.75v0.75h-0.75zM82.7 415.2h0.75v0.75h-0.75zM84.0 415.1h0.75v0.75h-0.75zM84.6 415.2h0.75v0.75h-0.75zM85.7 415.2h0.75v0.75h-0.75zM87.0 415.3h0.75v0.75h-0.75zM87.7 415.1h0.75v0.75h-0.75zM88.6 415.3h0.75v0.75h-0.75zM90.0 415.0h0.75v0.75h-0.75zM90.7 415.0h0.75v0.75h-0.75zM92.0 415.0h0.75v0.75h-0.75zM92.6 415.4h0.75v0.75h-0.75zM93.7 415.5h0.75v0.75h-0.75zM95.1 415.4h0.75v0.75h-0.75zM95.7 415.2h0.75v0.75h-0.75zM96.7 415.5h0.75v0.75h-0.75zM97.6 415.3h0.75v0.75h-0.75zM98.5 415.1h0.75v0.75h-0.75zM99.6 415.5h0.75v0.75h-0.75zM100.8 415.5h0.75v0.75h-0.75zM101.5 415.5h0.75v0.75h-0.75zM102.9 415.4h0.75v0.75h-0.75zM103.6 415.4h0.75v0.75h-0.75zM105.0 415.5h0.75v0.75h-0.75zM106.6 415.5h0.75v0.75h-0.75zM110.5 415.3h0.75v0.75h-0.75zM58.0 416.3h0.75v0.75h-0.75zM61.9 416.6h0.75v0.75h-0.75zM62.7 416.2h0.75v0.75h-0.75zM63.9 416.2h0.75v0.75h-0.75zM64.7 416.1h0.75v0.75h-0.75zM66.1 416.5h0.75v0.75h-0.75zM66.7 416.3h0.75v0.75h-0.75zM67.6 416.4h0.75v0.75h-0.75zM68.7 416.0h0.75v0.75h-0.75zM70.1 416.5h0.75v0.75h-0.75zM70.8 416.3h0.75v0.75h-0.75zM71.7 416.2h0.75v0.75h-0.75zM72.9 416.3h0.75v0.75h-0.75zM73.8 416.2h0.75v0.75h-0.75zM75.0 416.6h0.75v0.75h-0.75zM76.0 416.2h0.75v0.75h-0.75zM77.0 416.5h0.75v0.75h-0.75zM77.7 416.5h0.75v0.75h-0.75zM78.9 416.1h0.75v0.75h-0.75zM80.1 416.3h0.75v0.75h-0.75zM80.9 416.5h0.75v0.75h-0.75zM82.0 416.0h0.75v0.75h-0.75zM82.7 416.1h0.75v0.75h-0.75zM83.9 416.0h0.75v0.75h-0.75zM85.0 416.4h0.75v0.75h-0.75zM85.6 416.2h0.75v0.75h-0.75zM87.0 416.2h0.75v0.75h-0.75zM88.1 416.3h0.75v0.75h-0.75zM89.0 416.4h0.75v0.75h-0.75zM89.6 416.1h0.75v0.75h-0.75zM90.9 416.0h0.75v0.75h-0.75zM91.6 416.3h0.75v0.75h-0.75zM92.7 416.2h0.75v0.75h-0.75zM93.8 416.1h0.75v0.75h-0.75zM95.0 416.3h0.75v0.75h-0.75zM95.9 416.1h0.75v0.75h-0.75zM97.0 416.3h0.75v0.75h-0.75zM97.8 416.3h0.75v0.75h-0.75zM98.7 416.1h0.75v0.75h-0.75zM99.8 416.3h0.75v0.75h-0.75zM100.9 416.6h0.75v0.75h-0.75zM102.0 416.5h0.75v0.75h-0.75zM102.9 416.1h0.75v0.75h-0.75zM103.5 416.1h0.75v0.75h-0.75zM105.1 416.5h0.75v0.75h-0.75zM105.7 416.1h0.75v0.75h-0.75zM107.0 416.2h0.75v0.75h-0.75zM111.1 416.3h0.75v0.75h-0.75zM56.0 417.3h0.75v0.75h-0.75zM61.0 417.1h0.75v0.75h-0.75zM61.7 417.5h0.75v0.75h-0.75zM62.6 417.5h0.75v0.75h-0.75zM63.6 417.3h0.75v0.75h-0.75zM64.6 417.4h0.75v0.75h-0.75zM65.8 417.1h0.75v0.75h-0.75zM66.6 417.2h0.75v0.75h-0.75zM67.6 417.2h0.75v0.75h-0.75zM68.6 417.4h0.75v0.75h-0.75zM69.9 417.1h0.75v0.75h-0.75zM71.0 417.4h0.75v0.75h-0.75zM72.0 417.5h0.75v0.75h-0.75zM72.6 417.0h0.75v0.75h-0.75zM74.1 417.2h0.75v0.75h-0.75zM75.1 417.2h0.75v0.75h-0.75zM75.9 417.2h0.75v0.75h-0.75zM77.0 417.4h0.75v0.75h-0.75zM77.6 417.0h0.75v0.75h-0.75zM78.7 417.2h0.75v0.75h-0.75zM79.8 417.6h0.75v0.75h-0.75zM80.6 417.1h0.75v0.75h-0.75zM82.0 417.4h0.75v0.75h-0.75zM82.6 417.2h0.75v0.75h-0.75zM83.6 417.1h0.75v0.75h-0.75zM85.0 417.3h0.75v0.75h-0.75zM85.7 417.6h0.75v0.75h-0.75zM86.8 417.4h0.75v0.75h-0.75zM88.0 417.3h0.75v0.75h-0.75zM89.0 417.4h0.75v0.75h-0.75zM89.6 417.4h0.75v0.75h-0.75zM91.1 417.1h0.75v0.75h-0.75zM91.8 417.4h0.75v0.75h-0.75zM93.0 417.0h0.75v0.75h-0.75zM93.6 417.6h0.75v0.75h-0.75zM94.9 417.1h0.75v0.75h-0.75zM95.7 417.4h0.75v0.75h-0.75zM96.7 417.0h0.75v0.75h-0.75zM97.5 417.3h0.75v0.75h-0.75zM98.9 417.2h0.75v0.75h-0.75zM99.9 417.1h0.75v0.75h-0.75zM100.8 417.4h0.75v0.75h-0.75zM102.1 417.2h0.75v0.75h-0.75zM102.7 417.6h0.75v0.75h-0.75zM108.7 417.4h0.75v0.75h-0.75zM111.9 417.6h0.75v0.75h-0.75zM57.7 418.5h0.75v0.75h-0.75zM59.0 418.1h0.75v0.75h-0.75zM59.7 418.4h0.75v0.75h-0.75zM61.5 418.6h0.75v0.75h-0.75zM63.1 418.0h0.75v0.75h-0.75zM63.7 418.4h0.75v0.75h-0.75zM65.0 418.4h0.75v0.75h-0.75zM65.9 418.6h0.75v0.75h-0.75zM66.8 418.2h0.75v0.75h-0.75zM67.7 418.3h0.75v0.75h-0.75zM69.0 418.5h0.75v0.75h-0.75zM69.7 418.5h0.75v0.75h-0.75zM70.6 418.0h0.75v0.75h-0.75zM71.6 418.1h0.75v0.75h-0.75zM72.8 418.0h0.75v0.75h-0.75zM73.8 418.2h0.75v0.75h-0.75zM74.6 418.5h0.75v0.75h-0.75zM75.6 418.5h0.75v0.75h-0.75zM76.5 418.2h0.75v0.75h-0.75zM78.0 418.3h0.75v0.75h-0.75zM79.0 418.3h0.75v0.75h-0.75zM80.0 418.3h0.75v0.75h-0.75zM80.6 418.2h0.75v0.75h-0.75zM81.8 418.3h0.75v0.75h-0.75zM82.8 418.4h0.75v0.75h-0.75zM84.1 418.4h0.75v0.75h-0.75zM85.0 418.3h0.75v0.75h-0.75zM85.9 418.3h0.75v0.75h-0.75zM86.9 418.6h0.75v0.75h-0.75zM87.6 418.5h0.75v0.75h-0.75zM88.8 418.1h0.75v0.75h-0.75zM89.9 418.5h0.75v0.75h-0.75zM91.1 418.2h0.75v0.75h-0.75zM92.0 418.3h0.75v0.75h-0.75zM92.9 418.6h0.75v0.75h-0.75zM93.7 418.1h0.75v0.75h-0.75zM94.6 418.2h0.75v0.75h-0.75zM95.7 418.5h0.75v0.75h-0.75zM96.6 418.6h0.75v0.75h-0.75zM97.9 418.5h0.75v0.75h-0.75zM99.0 418.1h0.75v0.75h-0.75zM99.6 418.2h0.75v0.75h-0.75zM100.7 418.3h0.75v0.75h-0.75zM103.9 418.1h0.75v0.75h-0.75zM107.7 418.4h0.75v0.75h-0.75zM116.6 418.6h0.75v0.75h-0.75zM62.5 419.0h0.75v0.75h-0.75zM63.6 419.1h0.75v0.75h-0.75zM64.8 419.1h0.75v0.75h-0.75zM66.0 419.4h0.75v0.75h-0.75zM67.0 419.4h0.75v0.75h-0.75zM68.1 419.4h0.75v0.75h-0.75zM69.1 419.2h0.75v0.75h-0.75zM69.9 419.0h0.75v0.75h-0.75zM70.6 419.0h0.75v0.75h-0.75zM72.0 419.4h0.75v0.75h-0.75zM72.7 419.4h0.75v0.75h-0.75zM74.0 419.2h0.75v0.75h-0.75zM75.1 419.4h0.75v0.75h-0.75zM75.7 419.2h0.75v0.75h-0.75zM76.8 419.4h0.75v0.75h-0.75zM77.5 419.1h0.75v0.75h-0.75zM78.8 419.0h0.75v0.75h-0.75zM80.0 419.3h0.75v0.75h-0.75zM80.8 419.3h0.75v0.75h-0.75zM81.5 419.0h0.75v0.75h-0.75zM82.8 419.4h0.75v0.75h-0.75zM83.7 419.5h0.75v0.75h-0.75zM84.5 419.5h0.75v0.75h-0.75zM85.7 419.3h0.75v0.75h-0.75zM86.8 419.2h0.75v0.75h-0.75zM87.8 419.5h0.75v0.75h-0.75zM89.1 419.5h0.75v0.75h-0.75zM89.6 419.5h0.75v0.75h-0.75zM90.6 419.4h0.75v0.75h-0.75zM91.7 419.2h0.75v0.75h-0.75zM92.5 419.5h0.75v0.75h-0.75zM93.6 419.2h0.75v0.75h-0.75zM94.6 419.2h0.75v0.75h-0.75zM96.0 419.1h0.75v0.75h-0.75zM98.1 419.2h0.75v0.75h-0.75zM98.9 419.6h0.75v0.75h-0.75zM99.8 419.1h0.75v0.75h-0.75zM104.5 419.3h0.75v0.75h-0.75zM107.9 419.0h0.75v0.75h-0.75zM109.7 419.4h0.75v0.75h-0.75zM119.7 419.5h0.75v0.75h-0.75zM55.9 420.3h0.75v0.75h-0.75zM56.9 420.4h0.75v0.75h-0.75zM60.6 420.0h0.75v0.75h-0.75zM61.5 420.1h0.75v0.75h-0.75zM62.8 420.1h0.75v0.75h-0.75zM63.6 420.3h0.75v0.75h-0.75zM65.0 420.0h0.75v0.75h-0.75zM65.9 420.3h0.75v0.75h-0.75zM66.6 420.5h0.75v0.75h-0.75zM68.0 420.5h0.75v0.75h-0.75zM68.8 420.5h0.75v0.75h-0.75zM69.9 420.5h0.75v0.75h-0.75zM71.1 420.1h0.75v0.75h-0.75zM71.6 420.2h0.75v0.75h-0.75zM72.7 420.1h0.75v0.75h-0.75zM73.5 420.6h0.75v0.75h-0.75zM74.8 420.4h0.75v0.75h-0.75zM75.7 420.5h0.75v0.75h-0.75zM77.0 420.3h0.75v0.75h-0.75zM77.9 420.2h0.75v0.75h-0.75zM78.9 420.5h0.75v0.75h-0.75zM79.8 420.4h0.75v0.75h-0.75zM80.8 420.1h0.75v0.75h-0.75zM81.8 420.4h0.75v0.75h-0.75zM82.8 420.3h0.75v0.75h-0.75zM83.5 420.4h0.75v0.75h-0.75zM85.0 420.1h0.75v0.75h-0.75zM85.5 420.4h0.75v0.75h-0.75zM86.9 420.4h0.75v0.75h-0.75zM87.5 420.3h0.75v0.75h-0.75zM88.9 420.5h0.75v0.75h-0.75zM89.8 420.3h0.75v0.75h-0.75zM91.1 420.4h0.75v0.75h-0.75zM91.7 420.5h0.75v0.75h-0.75zM93.0 420.1h0.75v0.75h-0.75zM93.8 420.6h0.75v0.75h-0.75zM94.9 420.5h0.75v0.75h-0.75zM95.6 420.5h0.75v0.75h-0.75zM96.9 420.2h0.75v0.75h-0.75zM98.0 420.3h0.75v0.75h-0.75zM98.8 420.3h0.75v0.75h-0.75zM101.7 420.1h0.75v0.75h-0.75zM105.9 420.3h0.75v0.75h-0.75zM107.9 420.2h0.75v0.75h-0.75zM59.8 421.0h0.75v0.75h-0.75zM60.9 421.4h0.75v0.75h-0.75zM61.6 421.1h0.75v0.75h-0.75zM62.7 421.5h0.75v0.75h-0.75zM64.1 421.1h0.75v0.75h-0.75zM64.6 421.2h0.75v0.75h-0.75zM65.6 421.5h0.75v0.75h-0.75zM66.6 421.0h0.75v0.75h-0.75zM67.9 421.3h0.75v0.75h-0.75zM69.0 421.0h0.75v0.75h-0.75zM69.9 421.2h0.75v0.75h-0.75zM71.0 421.1h0.75v0.75h-0.75zM71.7 421.5h0.75v0.75h-0.75zM72.6 421.2h0.75v0.75h-0.75zM73.7 421.4h0.75v0.75h-0.75zM74.5 421.2h0.75v0.75h-0.75zM75.9 421.0h0.75v0.75h-0.75zM76.8 421.5h0.75v0.75h-0.75zM77.9 421.4h0.75v0.75h-0.75zM78.6 421.4h0.75v0.75h-0.75zM79.9 421.3h0.75v0.75h-0.75zM80.9 421.4h0.75v0.75h-0.75zM82.0 421.3h0.75v0.75h-0.75zM82.6 421.1h0.75v0.75h-0.75zM83.8 421.0h0.75v0.75h-0.75zM84.7 421.6h0.75v0.75h-0.75zM85.5 421.2h0.75v0.75h-0.75zM87.0 421.2h0.75v0.75h-0.75zM87.5 421.4h0.75v0.75h-0.75zM88.9 421.6h0.75v0.75h-0.75zM90.0 421.4h0.75v0.75h-0.75zM90.9 421.3h0.75v0.75h-0.75zM91.7 421.4h0.75v0.75h-0.75zM94.0 421.3h0.75v0.75h-0.75zM95.1 421.1h0.75v0.75h-0.75zM95.9 421.4h0.75v0.75h-0.75zM97.9 421.1h0.75v0.75h-0.75zM98.7 421.5h0.75v0.75h-0.75zM101.5 421.6h0.75v0.75h-0.75zM104.7 421.4h0.75v0.75h-0.75zM110.5 421.3h0.75v0.75h-0.75zM60.7 422.2h0.75v0.75h-0.75zM62.7 422.4h0.75v0.75h-0.75zM63.6 422.3h0.75v0.75h-0.75zM64.9 422.0h0.75v0.75h-0.75zM66.8 422.2h0.75v0.75h-0.75zM67.7 422.2h0.75v0.75h-0.75zM68.7 422.5h0.75v0.75h-0.75zM70.5 422.0h0.75v0.75h-0.75zM71.9 422.4h0.75v0.75h-0.75zM72.9 422.1h0.75v0.75h-0.75zM73.6 422.5h0.75v0.75h-0.75zM74.6 422.6h0.75v0.75h-0.75zM78.8 422.2h0.75v0.75h-0.75zM80.0 422.5h0.75v0.75h-0.75zM80.5 422.2h0.75v0.75h-0.75zM83.0 422.2h0.75v0.75h-0.75zM84.0 422.2h0.75v0.75h-0.75zM84.5 422.3h0.75v0.75h-0.75zM85.8 422.2h0.75v0.75h-0.75zM86.6 422.1h0.75v0.75h-0.75zM87.6 422.6h0.75v0.75h-0.75zM88.7 422.4h0.75v0.75h-0.75zM89.8 422.5h0.75v0.75h-0.75zM90.9 422.0h0.75v0.75h-0.75zM91.7 422.5h0.75v0.75h-0.75zM92.6 422.5h0.75v0.75h-0.75zM94.0 422.3h0.75v0.75h-0.75zM95.1 422.1h0.75v0.75h-0.75zM95.9 422.1h0.75v0.75h-0.75zM97.0 422.4h0.75v0.75h-0.75zM100.1 422.5h0.75v0.75h-0.75zM103.8 422.0h0.75v0.75h-0.75zM104.9 422.2h0.75v0.75h-0.75zM112.0 422.6h0.75v0.75h-0.75zM59.7 423.1h0.75v0.75h-0.75zM61.0 423.0h0.75v0.75h-0.75zM61.9 423.3h0.75v0.75h-0.75zM62.6 423.3h0.75v0.75h-0.75zM64.5 423.3h0.75v0.75h-0.75zM67.6 423.3h0.75v0.75h-0.75zM69.6 423.2h0.75v0.75h-0.75zM71.6 423.4h0.75v0.75h-0.75zM73.7 423.6h0.75v0.75h-0.75zM74.6 423.5h0.75v0.75h-0.75zM77.5 423.3h0.75v0.75h-0.75zM81.0 423.4h0.75v0.75h-0.75zM83.7 423.4h0.75v0.75h-0.75zM84.8 423.2h0.75v0.75h-0.75zM86.0 423.5h0.75v0.75h-0.75zM87.8 423.2h0.75v0.75h-0.75zM93.0 423.0h0.75v0.75h-0.75zM94.1 423.3h0.75v0.75h-0.75zM97.0 423.3h0.75v0.75h-0.75zM101.0 423.2h0.75v0.75h-0.75zM108.7 423.5h0.75v0.75h-0.75zM55.6 424.5h0.75v0.75h-0.75zM62.7 424.1h0.75v0.75h-0.75zM66.1 424.2h0.75v0.75h-0.75zM66.6 424.5h0.75v0.75h-0.75zM67.7 424.3h0.75v0.75h-0.75zM70.8 424.5h0.75v0.75h-0.75zM75.8 424.1h0.75v0.75h-0.75zM83.0 424.3h0.75v0.75h-0.75zM89.8 424.1h0.75v0.75h-0.75zM91.7 424.2h0.75v0.75h-0.75zM95.0 424.2h0.75v0.75h-0.75zM100.1 424.0h0.75v0.75h-0.75zM108.7 424.3h0.75v0.75h-0.75zM66.1 425.6h0.75v0.75h-0.75zM68.8 425.2h0.75v0.75h-0.75zM71.6 425.1h0.75v0.75h-0.75zM75.7 425.3h0.75v0.75h-0.75zM79.0 425.5h0.75v0.75h-0.75zM80.0 425.4h0.75v0.75h-0.75zM81.6 425.5h0.75v0.75h-0.75zM89.8 425.2h0.75v0.75h-0.75zM107.9 425.1h0.75v0.75h-0.75zM67.8 426.3h0.75v0.75h-0.75zM69.1 426.2h0.75v0.75h-0.75zM69.6 426.5h0.75v0.75h-0.75zM72.6 426.2h0.75v0.75h-0.75zM76.6 426.3h0.75v0.75h-0.75zM82.7 426.5h0.75v0.75h-0.75zM84.7 426.2h0.75v0.75h-0.75zM88.0 426.5h0.75v0.75h-0.75zM89.1 426.4h0.75v0.75h-0.75zM94.6 426.0h0.75v0.75h-0.75zM95.5 426.1h0.75v0.75h-0.75zM57.5 427.3h0.75v0.75h-0.75zM71.6 427.1h0.75v0.75h-0.75zM90.0 427.1h0.75v0.75h-0.75zM93.9 427.5h0.75v0.75h-0.75zM109.5 427.0h0.75v0.75h-0.75zM69.0 428.1h0.75v0.75h-0.75zM71.0 428.5h0.75v0.75h-0.75z" fill="#3446e4" fill-opacity="0.55"/>
<g filter="url(#bl)">
<path d="M92.0 411.5h5.5v0.5h-5.5zM90.5 412.0h8.0v0.5h-8.0zM89.5 412.5h3.0v0.5h-3.0zM96.0 412.5h3.0v0.5h-3.0zM88.5 413.0h2.5v0.5h-2.5zM97.0 413.0h2.5v0.5h-2.5zM88.0 413.5h2.0v0.5h-2.0zM98.0 413.5h2.0v0.5h-2.0zM67.0 414.0h4.0v0.5h-4.0zM87.5 414.0h2.0v0.5h-2.0zM98.0 414.0h2.0v0.5h-2.0zM66.0 414.5h6.0v0.5h-6.0zM87.0 414.5h1.5v0.5h-1.5zM98.5 414.5h1.5v0.5h-1.5zM65.0 415.0h8.0v0.5h-8.0zM86.5 415.0h2.0v0.5h-2.0zM98.5 415.0h1.5v0.5h-1.5zM64.5 415.5h3.0v0.5h-3.0zM70.5 415.5h3.0v0.5h-3.0zM86.5 415.5h1.5v0.5h-1.5zM98.0 415.5h2.0v0.5h-2.0zM64.0 416.0h2.5v0.5h-2.5zM71.5 416.0h2.5v0.5h-2.5zM86.0 416.0h2.0v0.5h-2.0zM98.5 416.0h1.5v0.5h-1.5zM64.0 416.5h2.0v0.5h-2.0zM72.0 416.5h2.0v0.5h-2.0zM86.0 416.5h1.5v0.5h-1.5zM100.0 416.5h1.0v0.5h-1.0zM63.5 417.0h2.0v0.5h-2.0zM72.5 417.0h2.0v0.5h-2.0zM86.0 417.0h1.5v0.5h-1.5zM100.5 417.0h1.0v0.5h-1.0zM63.5 417.5h2.0v0.5h-2.0zM72.5 417.5h2.0v0.5h-2.0zM85.5 417.5h1.0v0.5h-1.0zM101.5 417.5h0.5v0.5h-0.5zM63.5 418.0h2.0v0.5h-2.0zM74.5 418.0h1.5v0.5h-1.5zM84.5 418.0h1.0v0.5h-1.0zM102.0 418.0h0.5v0.5h-0.5zM63.5 418.5h2.0v0.5h-2.0zM76.0 418.5h1.5v0.5h-1.5zM84.0 418.5h0.5v0.5h-0.5zM102.5 418.5h0.5v0.5h-0.5zM63.0 419.0h1.0v0.5h-1.0zM77.5 419.0h0.5v0.5h-0.5zM83.0 419.0h1.0v0.5h-1.0zM102.5 419.0h1.0v0.5h-1.0zM62.5 419.5h0.5v0.5h-0.5zM78.0 419.5h1.0v0.5h-1.0zM82.5 419.5h1.0v0.5h-1.0zM103.0 419.5h0.5v0.5h-0.5zM61.5 420.0h1.0v0.5h-1.0zM79.0 420.0h0.5v0.5h-0.5zM82.0 420.0h0.5v0.5h-0.5zM103.0 420.0h1.0v0.5h-1.0zM79.5 420.5h0.5v0.5h-0.5zM81.5 420.5h0.5v0.5h-0.5zM103.0 420.5h1.0v0.5h-1.0zM80.0 421.0h0.5v0.5h-0.5zM81.0 421.0h1.0v0.5h-1.0zM103.5 421.0h0.5v0.5h-0.5zM80.0 421.5h1.5v0.5h-1.5zM103.5 421.5h0.5v0.5h-0.5zM80.5 422.0h0.5v0.5h-0.5zM103.5 422.0h0.5v0.5h-0.5zM103.5 422.5h0.5v0.5h-0.5zM103.0 423.0h1.0v0.5h-1.0zM103.0 423.5h0.5v0.5h-0.5zM103.0 424.0h0.5v0.5h-0.5zM102.5 424.5h0.5v0.5h-0.5zM102.5 425.0h0.5v0.5h-0.5zM102.0 425.5h0.5v0.5h-0.5zM101.5 426.0h1.0v0.5h-1.0zM101.0 426.5h1.0v0.5h-1.0zM101.0 427.0h0.5v0.5h-0.5zM100.5 427.5h0.5v0.5h-0.5z" fill="#3444ee"/>
<path d="M92.5 412.5h3.5v0.5h-3.5zM91.0 413.0h6.0v0.5h-6.0zM90.0 413.5h8.0v0.5h-8.0zM89.5 414.0h8.5v0.5h-8.5zM88.5 414.5h10.0v0.5h-10.0zM88.5 415.0h10.0v0.5h-10.0zM67.5 415.5h3.0v0.5h-3.0zM88.0 415.5h10.0v0.5h-10.0zM66.5 416.0h5.0v0.5h-5.0zM88.0 416.0h10.5v0.5h-10.5zM66.0 416.5h6.0v0.5h-6.0zM87.5 416.5h3.0v0.5h-3.0zM98.0 416.5h2.0v0.5h-2.0zM65.5 417.0h7.0v0.5h-7.0zM87.5 417.0h1.5v0.5h-1.5zM99.5 417.0h1.0v0.5h-1.0zM65.5 417.5h7.0v0.5h-7.0zM86.5 417.5h1.0v0.5h-1.0zM100.0 417.5h1.5v0.5h-1.5zM65.5 418.0h9.0v0.5h-9.0zM85.5 418.0h1.0v0.5h-1.0zM101.0 418.0h1.0v0.5h-1.0zM65.5 418.5h1.5v0.5h-1.5zM74.5 418.5h1.5v0.5h-1.5zM84.5 418.5h1.0v0.5h-1.0zM101.5 418.5h1.0v0.5h-1.0zM64.0 419.0h1.5v0.5h-1.5zM76.0 419.0h1.5v0.5h-1.5zM84.0 419.0h1.0v0.5h-1.0zM101.5 419.0h1.0v0.5h-1.0zM63.0 419.5h1.0v0.5h-1.0zM77.0 419.5h1.0v0.5h-1.0zM83.5 419.5h0.5v0.5h-0.5zM102.0 419.5h1.0v0.5h-1.0zM62.5 420.0h1.0v0.5h-1.0zM78.0 420.0h1.0v0.5h-1.0zM82.5 420.0h1.0v0.5h-1.0zM102.5 420.0h0.5v0.5h-0.5zM61.5 420.5h1.0v0.5h-1.0zM78.5 420.5h1.0v0.5h-1.0zM82.0 420.5h1.0v0.5h-1.0zM102.5 420.5h0.5v0.5h-0.5zM61.5 421.0h0.5v0.5h-0.5zM79.0 421.0h1.0v0.5h-1.0zM82.0 421.0h0.5v0.5h-0.5zM102.5 421.0h1.0v0.5h-1.0zM79.5 421.5h0.5v0.5h-0.5zM81.5 421.5h0.5v0.5h-0.5zM102.5 421.5h1.0v0.5h-1.0zM79.5 422.0h1.0v0.5h-1.0zM81.0 422.0h1.0v0.5h-1.0zM102.5 422.0h1.0v0.5h-1.0zM80.0 422.5h1.5v0.5h-1.5zM102.5 422.5h1.0v0.5h-1.0zM102.5 423.0h0.5v0.5h-0.5zM102.5 423.5h0.5v0.5h-0.5zM102.0 424.0h1.0v0.5h-1.0zM102.0 424.5h0.5v0.5h-0.5zM101.5 425.0h1.0v0.5h-1.0zM101.0 425.5h1.0v0.5h-1.0zM101.0 426.0h0.5v0.5h-0.5zM100.5 426.5h0.5v0.5h-0.5zM100.0 427.0h1.0v0.5h-1.0zM99.5 427.5h1.0v0.5h-1.0z" fill="#2aa8f2"/>
<path d="M90.5 416.5h7.5v0.5h-7.5zM89.0 417.0h1.5v0.5h-1.5zM97.5 417.0h2.0v0.5h-2.0zM87.5 417.5h1.5v0.5h-1.5zM99.0 417.5h1.0v0.5h-1.0zM86.5 418.0h1.0v0.5h-1.0zM99.5 418.0h1.5v0.5h-1.5zM67.0 418.5h7.5v0.5h-7.5zM85.5 418.5h1.0v0.5h-1.0zM100.5 418.5h1.0v0.5h-1.0zM65.5 419.0h1.5v0.5h-1.5zM74.5 419.0h1.5v0.5h-1.5zM85.0 419.0h1.0v0.5h-1.0zM101.0 419.0h0.5v0.5h-0.5zM64.0 419.5h1.5v0.5h-1.5zM76.0 419.5h1.0v0.5h-1.0zM84.0 419.5h1.0v0.5h-1.0zM101.0 419.5h1.0v0.5h-1.0zM63.5 420.0h1.0v0.5h-1.0zM76.5 420.0h1.5v0.5h-1.5zM83.5 420.0h1.0v0.5h-1.0zM101.5 420.0h1.0v0.5h-1.0zM62.5 420.5h1.0v0.5h-1.0zM77.5 420.5h1.0v0.5h-1.0zM83.0 420.5h1.0v0.5h-1.0zM101.5 420.5h1.0v0.5h-1.0zM62.0 421.0h1.0v0.5h-1.0zM78.0 421.0h1.0v0.5h-1.0zM82.5 421.0h1.0v0.5h-1.0zM101.5 421.0h1.0v0.5h-1.0zM61.5 421.5h1.0v0.5h-1.0zM78.5 421.5h1.0v0.5h-1.0zM82.0 421.5h1.0v0.5h-1.0zM102.0 421.5h0.5v0.5h-0.5zM61.5 422.0h0.5v0.5h-0.5zM79.0 422.0h0.5v0.5h-0.5zM82.0 422.0h0.5v0.5h-0.5zM102.0 422.0h0.5v0.5h-0.5zM79.0 422.5h1.0v0.5h-1.0zM81.5 422.5h0.5v0.5h-0.5zM102.0 422.5h0.5v0.5h-0.5zM79.5 423.0h2.5v0.5h-2.5zM101.5 423.0h1.0v0.5h-1.0zM101.5 423.5h1.0v0.5h-1.0zM101.5 424.0h0.5v0.5h-0.5zM101.0 424.5h1.0v0.5h-1.0zM101.0 425.0h0.5v0.5h-0.5zM100.5 425.5h0.5v0.5h-0.5zM100.0 426.0h1.0v0.5h-1.0zM99.5 426.5h1.0v0.5h-1.0zM78.5 427.0h1.0v0.5h-1.0zM99.0 427.0h1.0v0.5h-1.0zM78.0 427.5h3.5v0.5h-3.5zM98.5 427.5h1.0v0.5h-1.0z" fill="#30cc70"/>
<path d="M90.5 417.0h7.0v0.5h-7.0zM89.0 417.5h3.0v0.5h-3.0zM95.5 417.5h3.5v0.5h-3.5zM87.5 418.0h2.5v0.5h-2.5zM97.5 418.0h2.0v0.5h-2.0zM86.5 418.5h2.0v0.5h-2.0zM98.5 418.5h2.0v0.5h-2.0zM67.0 419.0h7.5v0.5h-7.5zM86.0 419.0h1.5v0.5h-1.5zM99.0 419.0h2.0v0.5h-2.0zM65.5 419.5h2.5v0.5h-2.5zM73.0 419.5h3.0v0.5h-3.0zM85.0 419.5h1.5v0.5h-1.5zM99.5 419.5h1.5v0.5h-1.5zM64.5 420.0h2.0v0.5h-2.0zM75.0 420.0h1.5v0.5h-1.5zM84.5 420.0h1.5v0.5h-1.5zM100.0 420.0h1.5v0.5h-1.5zM63.5 420.5h1.5v0.5h-1.5zM76.0 420.5h1.5v0.5h-1.5zM84.0 420.5h1.0v0.5h-1.0zM100.5 420.5h1.0v0.5h-1.0zM63.0 421.0h1.5v0.5h-1.5zM76.5 421.0h1.5v0.5h-1.5zM83.5 421.0h1.0v0.5h-1.0zM100.5 421.0h1.0v0.5h-1.0zM62.5 421.5h1.0v0.5h-1.0zM77.0 421.5h1.5v0.5h-1.5zM83.0 421.5h1.0v0.5h-1.0zM100.5 421.5h1.5v0.5h-1.5zM62.0 422.0h1.0v0.5h-1.0zM77.5 422.0h1.5v0.5h-1.5zM82.5 422.0h1.0v0.5h-1.0zM100.5 422.0h1.5v0.5h-1.5zM61.5 422.5h1.0v0.5h-1.0zM78.0 422.5h1.0v0.5h-1.0zM82.0 422.5h1.5v0.5h-1.5zM100.5 422.5h1.5v0.5h-1.5zM61.5 423.0h0.5v0.5h-0.5zM78.0 423.0h1.5v0.5h-1.5zM82.0 423.0h1.0v0.5h-1.0zM100.5 423.0h1.0v0.5h-1.0zM61.5 423.5h0.5v0.5h-0.5zM78.5 423.5h4.5v0.5h-4.5zM100.5 423.5h1.0v0.5h-1.0zM61.5 424.0h0.5v0.5h-0.5zM78.5 424.0h4.0v0.5h-4.0zM100.0 424.0h1.5v0.5h-1.5zM78.5 424.5h4.0v0.5h-4.0zM100.0 424.5h1.0v0.5h-1.0zM78.5 425.0h4.0v0.5h-4.0zM99.5 425.0h1.5v0.5h-1.5zM78.0 425.5h4.5v0.5h-4.5zM99.5 425.5h1.0v0.5h-1.0zM78.0 426.0h4.5v0.5h-4.5zM99.0 426.0h1.0v0.5h-1.0zM61.5 426.5h0.5v0.5h-0.5zM78.0 426.5h4.5v0.5h-4.5zM98.5 426.5h1.0v0.5h-1.0zM61.5 427.0h0.5v0.5h-0.5zM77.5 427.0h1.0v0.5h-1.0zM79.5 427.0h3.0v0.5h-3.0zM98.0 427.0h1.0v0.5h-1.0zM61.5 427.5h1.0v0.5h-1.0zM77.0 427.5h1.0v0.5h-1.0zM81.5 427.5h1.5v0.5h-1.5zM97.0 427.5h1.5v0.5h-1.5z" fill="#a8e030"/>
<path d="M92.0 417.5h3.5v0.5h-3.5zM90.0 418.0h7.5v0.5h-7.5zM88.5 418.5h2.5v0.5h-2.5zM96.0 418.5h2.5v0.5h-2.5zM87.5 419.0h2.0v0.5h-2.0zM97.5 419.0h1.5v0.5h-1.5zM68.0 419.5h5.0v0.5h-5.0zM86.5 419.5h1.5v0.5h-1.5zM98.0 419.5h1.5v0.5h-1.5zM66.5 420.0h3.5v0.5h-3.5zM71.0 420.0h4.0v0.5h-4.0zM86.0 420.0h1.5v0.5h-1.5zM98.5 420.0h1.5v0.5h-1.5zM65.0 420.5h2.0v0.5h-2.0zM74.0 420.5h2.0v0.5h-2.0zM85.0 420.5h1.5v0.5h-1.5zM99.0 420.5h1.5v0.5h-1.5zM64.5 421.0h1.5v0.5h-1.5zM75.0 421.0h1.5v0.5h-1.5zM84.5 421.0h1.5v0.5h-1.5zM99.0 421.0h1.5v0.5h-1.5zM63.5 421.5h1.5v0.5h-1.5zM75.5 421.5h1.5v0.5h-1.5zM84.0 421.5h1.5v0.5h-1.5zM99.5 421.5h1.0v0.5h-1.0zM63.0 422.0h1.5v0.5h-1.5zM76.5 422.0h1.0v0.5h-1.0zM83.5 422.0h1.5v0.5h-1.5zM99.5 422.0h1.0v0.5h-1.0zM62.5 422.5h1.5v0.5h-1.5zM76.5 422.5h1.5v0.5h-1.5zM83.5 422.5h1.0v0.5h-1.0zM99.5 422.5h1.0v0.5h-1.0zM62.0 423.0h1.5v0.5h-1.5zM77.0 423.0h1.0v0.5h-1.0zM83.0 423.0h1.0v0.5h-1.0zM99.5 423.0h1.0v0.5h-1.0zM62.0 423.5h1.0v0.5h-1.0zM77.0 423.5h1.5v0.5h-1.5zM83.0 423.5h1.0v0.5h-1.0zM99.0 423.5h1.5v0.5h-1.5zM62.0 424.0h1.0v0.5h-1.0zM77.5 424.0h1.0v0.5h-1.0zM82.5 424.0h1.5v0.5h-1.5zM99.0 424.0h1.0v0.5h-1.0zM61.5 424.5h1.5v0.5h-1.5zM77.5 424.5h1.0v0.5h-1.0zM82.5 424.5h1.0v0.5h-1.0zM99.0 424.5h1.0v0.5h-1.0zM61.5 425.0h1.0v0.5h-1.0zM77.0 425.0h1.5v0.5h-1.5zM82.5 425.0h1.0v0.5h-1.0zM98.5 425.0h1.0v0.5h-1.0zM61.5 425.5h1.0v0.5h-1.0zM77.0 425.5h1.0v0.5h-1.0zM82.5 425.5h1.0v0.5h-1.0zM98.0 425.5h1.5v0.5h-1.5zM61.5 426.0h1.5v0.5h-1.5zM77.0 426.0h1.0v0.5h-1.0zM82.5 426.0h1.0v0.5h-1.0zM97.5 426.0h1.5v0.5h-1.5zM62.0 426.5h1.0v0.5h-1.0zM76.5 426.5h1.5v0.5h-1.5zM82.5 426.5h1.5v0.5h-1.5zM97.0 426.5h1.5v0.5h-1.5zM62.0 427.0h1.5v0.5h-1.5zM76.0 427.0h1.5v0.5h-1.5zM82.5 427.0h1.5v0.5h-1.5zM96.5 427.0h1.5v0.5h-1.5zM62.5 427.5h1.0v0.5h-1.0zM75.5 427.5h1.5v0.5h-1.5zM83.0 427.5h1.5v0.5h-1.5zM95.5 427.5h1.5v0.5h-1.5z" fill="#f6ea12"/>
<path d="M91.0 418.5h5.0v0.5h-5.0zM89.5 419.0h8.0v0.5h-8.0zM88.0 419.5h2.5v0.5h-2.5zM95.5 419.5h2.5v0.5h-2.5zM70.0 420.0h1.0v0.5h-1.0zM87.5 420.0h1.5v0.5h-1.5zM96.5 420.0h2.0v0.5h-2.0zM67.0 420.5h7.0v0.5h-7.0zM86.5 420.5h1.5v0.5h-1.5zM97.5 420.5h1.5v0.5h-1.5zM66.0 421.0h2.5v0.5h-2.5zM72.5 421.0h2.5v0.5h-2.5zM86.0 421.0h1.5v0.5h-1.5zM97.5 421.0h1.5v0.5h-1.5zM65.0 421.5h2.0v0.5h-2.0zM74.0 421.5h1.5v0.5h-1.5zM85.5 421.5h1.0v0.5h-1.0zM98.0 421.5h1.5v0.5h-1.5zM64.5 422.0h1.5v0.5h-1.5zM74.5 422.0h2.0v0.5h-2.0zM85.0 422.0h1.0v0.5h-1.0zM98.0 422.0h1.5v0.5h-1.5zM64.0 422.5h1.5v0.5h-1.5zM75.0 422.5h1.5v0.5h-1.5zM84.5 422.5h1.5v0.5h-1.5zM98.0 422.5h1.5v0.5h-1.5zM63.5 423.0h1.5v0.5h-1.5zM75.5 423.0h1.5v0.5h-1.5zM84.0 423.0h1.5v0.5h-1.5zM98.0 423.0h1.5v0.5h-1.5zM63.0 423.5h1.5v0.5h-1.5zM76.0 423.5h1.0v0.5h-1.0zM84.0 423.5h1.0v0.5h-1.0zM98.0 423.5h1.0v0.5h-1.0zM63.0 424.0h1.0v0.5h-1.0zM76.0 424.0h1.5v0.5h-1.5zM84.0 424.0h1.0v0.5h-1.0zM98.0 424.0h1.0v0.5h-1.0zM63.0 424.5h1.0v0.5h-1.0zM76.0 424.5h1.5v0.5h-1.5zM83.5 424.5h1.5v0.5h-1.5zM97.5 424.5h1.5v0.5h-1.5zM62.5 425.0h1.5v0.5h-1.5zM76.0 425.0h1.0v0.5h-1.0zM83.5 425.0h1.5v0.5h-1.5zM97.0 425.0h1.5v0.5h-1.5zM62.5 425.5h1.5v0.5h-1.5zM76.0 425.5h1.0v0.5h-1.0zM83.5 425.5h1.5v0.5h-1.5zM97.0 425.5h1.0v0.5h-1.0zM63.0 426.0h1.0v0.5h-1.0zM75.5 426.0h1.5v0.5h-1.5zM83.5 426.0h1.5v0.5h-1.5zM96.5 426.0h1.0v0.5h-1.0zM63.0 426.5h1.5v0.5h-1.5zM75.0 426.5h1.5v0.5h-1.5zM84.0 426.5h1.5v0.5h-1.5zM95.5 426.5h1.5v0.5h-1.5zM63.5 427.0h1.5v0.5h-1.5zM74.5 427.0h1.5v0.5h-1.5zM84.0 427.0h1.5v0.5h-1.5zM95.0 427.0h1.5v0.5h-1.5zM63.5 427.5h2.0v0.5h-2.0zM74.0 427.5h1.5v0.5h-1.5zM84.5 427.5h2.0v0.5h-2.0zM94.0 427.5h1.5v0.5h-1.5z" fill="#ffa800"/>
<path d="M90.5 419.5h5.0v0.5h-5.0zM89.0 420.0h7.5v0.5h-7.5zM88.0 420.5h2.5v0.5h-2.5zM95.0 420.5h2.5v0.5h-2.5zM68.5 421.0h4.0v0.5h-4.0zM87.5 421.0h2.0v0.5h-2.0zM96.0 421.0h1.5v0.5h-1.5zM67.0 421.5h7.0v0.5h-7.0zM86.5 421.5h2.0v0.5h-2.0zM96.0 421.5h2.0v0.5h-2.0zM66.0 422.0h2.5v0.5h-2.5zM72.0 422.0h2.5v0.5h-2.5zM86.0 422.0h2.0v0.5h-2.0zM96.5 422.0h1.5v0.5h-1.5zM65.5 422.5h2.0v0.5h-2.0zM73.0 422.5h2.0v0.5h-2.0zM86.0 422.5h1.5v0.5h-1.5zM96.5 422.5h1.5v0.5h-1.5zM65.0 423.0h1.5v0.5h-1.5zM74.0 423.0h1.5v0.5h-1.5zM85.5 423.0h1.5v0.5h-1.5zM96.5 423.0h1.5v0.5h-1.5zM64.5 423.5h1.5v0.5h-1.5zM74.0 423.5h2.0v0.5h-2.0zM85.0 423.5h1.5v0.5h-1.5zM96.5 423.5h1.5v0.5h-1.5zM64.0 424.0h2.0v0.5h-2.0zM74.5 424.0h1.5v0.5h-1.5zM85.0 424.0h1.5v0.5h-1.5zM96.5 424.0h1.5v0.5h-1.5zM64.0 424.5h1.5v0.5h-1.5zM74.5 424.5h1.5v0.5h-1.5zM85.0 424.5h1.5v0.5h-1.5zM96.0 424.5h1.5v0.5h-1.5zM64.0 425.0h1.5v0.5h-1.5zM74.5 425.0h1.5v0.5h-1.5zM85.0 425.0h1.5v0.5h-1.5zM95.5 425.0h1.5v0.5h-1.5zM64.0 425.5h1.5v0.5h-1.5zM74.0 425.5h2.0v0.5h-2.0zM85.0 425.5h1.5v0.5h-1.5zM95.0 425.5h2.0v0.5h-2.0zM64.0 426.0h2.0v0.5h-2.0zM74.0 426.0h1.5v0.5h-1.5zM85.0 426.0h2.0v0.5h-2.0zM94.5 426.0h2.0v0.5h-2.0zM64.5 426.5h1.5v0.5h-1.5zM73.5 426.5h1.5v0.5h-1.5zM85.5 426.5h1.5v0.5h-1.5zM93.5 426.5h2.0v0.5h-2.0zM65.0 427.0h2.0v0.5h-2.0zM72.5 427.0h2.0v0.5h-2.0zM85.5 427.0h2.5v0.5h-2.5zM92.5 427.0h2.5v0.5h-2.5zM65.5 427.5h2.5v0.5h-2.5zM71.5 427.5h2.5v0.5h-2.5zM86.5 427.5h7.5v0.5h-7.5z" fill="#ff5800"/>
<path d="M90.5 420.5h4.5v0.5h-4.5zM89.5 421.0h6.5v0.5h-6.5zM88.5 421.5h7.5v0.5h-7.5zM68.5 422.0h3.5v0.5h-3.5zM88.0 422.0h8.5v0.5h-8.5zM67.5 422.5h5.5v0.5h-5.5zM87.5 422.5h9.0v0.5h-9.0zM66.5 423.0h7.5v0.5h-7.5zM87.0 423.0h9.5v0.5h-9.5zM66.0 423.5h8.0v0.5h-8.0zM86.5 423.5h10.0v0.5h-10.0zM66.0 424.0h8.5v0.5h-8.5zM86.5 424.0h10.0v0.5h-10.0zM65.5 424.5h9.0v0.5h-9.0zM86.5 424.5h9.5v0.5h-9.5zM65.5 425.0h9.0v0.5h-9.0zM86.5 425.0h9.0v0.5h-9.0zM65.5 425.5h8.5v0.5h-8.5zM86.5 425.5h8.5v0.5h-8.5zM66.0 426.0h8.0v0.5h-8.0zM87.0 426.0h7.5v0.5h-7.5zM66.0 426.5h7.5v0.5h-7.5zM87.0 426.5h6.5v0.5h-6.5zM67.0 427.0h5.5v0.5h-5.5zM88.0 427.0h4.5v0.5h-4.5zM68.0 427.5h3.5v0.5h-3.5z" fill="#ff1a00"/>
</g>
<line x1="43" y1="347" x2="43" y2="430" stroke="#3b5494" stroke-width="1.1" />
<line x1="43" y1="430" x2="122.5" y2="430" stroke="#3b5494" stroke-width="1.1" />
<line x1="43" y1="347" x2="44.5" y2="347" stroke="#3b5494" stroke-width="0.7" />

<text x="38.8" y="347" font-size="7.0" text-anchor="end" fill="#222" color="#222" dominant-baseline="central" textLength="16.29" lengthAdjust="spacingAndGlyphs" >262.1</text>
<line x1="43" y1="367.5" x2="44.5" y2="367.5" stroke="#3b5494" stroke-width="0.7" />

<text x="38.8" y="367.5" font-size="7.0" text-anchor="end" fill="#222" color="#222" dominant-baseline="central" textLength="16.29" lengthAdjust="spacingAndGlyphs" >196.6</text>
<line x1="43" y1="388.3" x2="44.5" y2="388.3" stroke="#3b5494" stroke-width="0.7" />

<text x="38.8" y="388.3" font-size="7.0" text-anchor="end" fill="#222" color="#222" dominant-baseline="central" textLength="16.29" lengthAdjust="spacingAndGlyphs" >131.1</text>
<line x1="43" y1="409.3" x2="44.5" y2="409.3" stroke="#3b5494" stroke-width="0.7" />

<text x="38.8" y="409.3" font-size="7.0" text-anchor="end" fill="#222" color="#222" dominant-baseline="central" textLength="12.67" lengthAdjust="spacingAndGlyphs" >65.5</text>
<line x1="43" y1="430" x2="44.5" y2="430" stroke="#3b5494" stroke-width="0.7" />

<text x="38.8" y="430" font-size="7.0" text-anchor="end" fill="#222" color="#222" dominant-baseline="central" textLength="3.62" lengthAdjust="spacingAndGlyphs" >0</text>
<text x="59" y="438" font-size="7.1" text-anchor="end" fill="#222" color="#222" dominant-baseline="central" textLength="11.68" lengthAdjust="spacingAndGlyphs" transform="rotate(-45 59 438)">-10<tspan font-size="4.4" dy="-2.4">3</tspan></text>
<line x1="55.5" y1="430" x2="55.5" y2="428.5" stroke="#3b5494" stroke-width="0.7" />
<text x="66" y="438" font-size="7.1" text-anchor="end" fill="#222" color="#222" dominant-baseline="central" textLength="11.68" lengthAdjust="spacingAndGlyphs" transform="rotate(-45 66 438)">-10<tspan font-size="4.4" dy="-2.4">2</tspan></text>
<line x1="63" y1="430" x2="63" y2="428.5" stroke="#3b5494" stroke-width="0.7" />
<text x="75.5" y="438" font-size="7.1" text-anchor="end" fill="#222" color="#222" dominant-baseline="central" textLength="9.55" lengthAdjust="spacingAndGlyphs" transform="rotate(-45 75.5 438)">10<tspan font-size="4.4" dy="-2.4">3</tspan></text>
<line x1="72" y1="430" x2="72" y2="428.5" stroke="#3b5494" stroke-width="0.7" />
<text x="98" y="438" font-size="7.1" text-anchor="end" fill="#222" color="#222" dominant-baseline="central" textLength="9.55" lengthAdjust="spacingAndGlyphs" transform="rotate(-45 98 438)">10<tspan font-size="4.4" dy="-2.4">4</tspan></text>
<line x1="95" y1="430" x2="95" y2="428.5" stroke="#3b5494" stroke-width="0.7" />
<text x="116" y="438" font-size="7.1" text-anchor="end" fill="#222" color="#222" dominant-baseline="central" textLength="9.55" lengthAdjust="spacingAndGlyphs" transform="rotate(-45 116 438)">10<tspan font-size="4.4" dy="-2.4">5</tspan></text>
<line x1="113" y1="430" x2="113" y2="428.5" stroke="#3b5494" stroke-width="0.7" />
<text x="82" y="452.3" font-size="7.91" text-anchor="middle" fill="#222" color="#222" dominant-baseline="central" textLength="47.5" lengthAdjust="spacingAndGlyphs" >CD45 APC-E780</text>
<text x="15.3" y="389.2" font-size="7.88" text-anchor="middle" fill="#222" color="#222" dominant-baseline="central" textLength="43.8" lengthAdjust="spacingAndGlyphs" transform="rotate(-90 15.3 389.2)" >SSC-A (x 1000)</text>
<polygon points="80.4,428.2 92,347.5 122,347.5 122.5,428.2" stroke="#f2905a" stroke-width="0.8" fill="none" stroke-linejoin="miter" />
<text x="105.2" y="353.8" font-size="5.2" text-anchor="start" fill="#f07838" color="#f07838" dominant-baseline="central" >CD45+</text>
<text x="105.2" y="359.4" font-size="5.2" text-anchor="start" fill="#f07838" color="#f07838" dominant-baseline="central" >53.03%</text>
<path d="M190.8 364.2h0.75v0.75h-0.75zM206.0 364.5h0.75v0.75h-0.75zM184.7 365.4h0.75v0.75h-0.75zM188.1 365.5h0.75v0.75h-0.75zM180.7 366.2h0.75v0.75h-0.75zM177.6 367.6h0.75v0.75h-0.75zM185.6 367.3h0.75v0.75h-0.75zM198.6 368.2h0.75v0.75h-0.75zM197.9 370.4h0.75v0.75h-0.75zM201.8 370.3h0.75v0.75h-0.75zM182.6 371.5h0.75v0.75h-0.75zM186.5 371.6h0.75v0.75h-0.75zM198.7 371.4h0.75v0.75h-0.75zM186.7 372.2h0.75v0.75h-0.75zM191.7 372.1h0.75v0.75h-0.75zM194.7 372.3h0.75v0.75h-0.75zM185.7 373.3h0.75v0.75h-0.75zM190.7 373.2h0.75v0.75h-0.75zM192.8 373.4h0.75v0.75h-0.75zM195.7 373.5h0.75v0.75h-0.75zM178.7 375.4h0.75v0.75h-0.75zM179.5 375.4h0.75v0.75h-0.75zM181.9 375.3h0.75v0.75h-0.75zM185.9 375.1h0.75v0.75h-0.75zM189.7 375.0h0.75v0.75h-0.75zM179.8 376.4h0.75v0.75h-0.75zM188.6 376.1h0.75v0.75h-0.75zM209.8 376.1h0.75v0.75h-0.75zM182.0 377.2h0.75v0.75h-0.75zM183.1 377.3h0.75v0.75h-0.75zM183.7 377.4h0.75v0.75h-0.75zM188.7 377.6h0.75v0.75h-0.75zM200.0 377.4h0.75v0.75h-0.75zM207.9 377.3h0.75v0.75h-0.75zM197.6 378.2h0.75v0.75h-0.75zM201.1 378.1h0.75v0.75h-0.75zM206.7 378.2h0.75v0.75h-0.75zM180.8 379.2h0.75v0.75h-0.75zM182.0 379.4h0.75v0.75h-0.75zM187.8 379.2h0.75v0.75h-0.75zM195.0 379.2h0.75v0.75h-0.75zM201.0 379.1h0.75v0.75h-0.75zM207.9 379.3h0.75v0.75h-0.75zM176.9 380.4h0.75v0.75h-0.75zM178.0 380.4h0.75v0.75h-0.75zM178.8 380.0h0.75v0.75h-0.75zM181.7 380.3h0.75v0.75h-0.75zM183.0 380.2h0.75v0.75h-0.75zM186.0 380.1h0.75v0.75h-0.75zM186.6 380.3h0.75v0.75h-0.75zM190.0 380.1h0.75v0.75h-0.75zM196.6 380.5h0.75v0.75h-0.75zM198.8 380.0h0.75v0.75h-0.75zM203.7 380.0h0.75v0.75h-0.75zM177.8 381.1h0.75v0.75h-0.75zM182.9 381.2h0.75v0.75h-0.75zM185.8 381.3h0.75v0.75h-0.75zM186.6 381.2h0.75v0.75h-0.75zM194.1 381.5h0.75v0.75h-0.75zM199.0 381.0h0.75v0.75h-0.75zM203.1 381.5h0.75v0.75h-0.75zM203.9 381.3h0.75v0.75h-0.75zM207.0 381.3h0.75v0.75h-0.75zM180.9 382.2h0.75v0.75h-0.75zM181.9 382.1h0.75v0.75h-0.75zM182.7 382.1h0.75v0.75h-0.75zM194.7 382.4h0.75v0.75h-0.75zM195.5 382.5h0.75v0.75h-0.75zM206.7 382.5h0.75v0.75h-0.75zM177.6 383.0h0.75v0.75h-0.75zM181.0 383.1h0.75v0.75h-0.75zM189.5 383.6h0.75v0.75h-0.75zM191.8 383.2h0.75v0.75h-0.75zM197.1 383.1h0.75v0.75h-0.75zM199.0 383.1h0.75v0.75h-0.75zM200.1 383.2h0.75v0.75h-0.75zM207.8 383.1h0.75v0.75h-0.75zM183.0 384.4h0.75v0.75h-0.75zM186.5 384.5h0.75v0.75h-0.75zM189.7 384.0h0.75v0.75h-0.75zM190.9 384.3h0.75v0.75h-0.75zM194.0 384.1h0.75v0.75h-0.75zM194.8 384.5h0.75v0.75h-0.75zM195.9 384.2h0.75v0.75h-0.75zM197.0 384.1h0.75v0.75h-0.75zM204.0 384.1h0.75v0.75h-0.75zM177.1 385.1h0.75v0.75h-0.75zM178.6 385.4h0.75v0.75h-0.75zM184.6 385.1h0.75v0.75h-0.75zM190.6 385.0h0.75v0.75h-0.75zM194.7 385.3h0.75v0.75h-0.75zM204.6 385.1h0.75v0.75h-0.75zM206.6 385.5h0.75v0.75h-0.75zM210.7 385.0h0.75v0.75h-0.75zM176.9 386.1h0.75v0.75h-0.75zM179.8 386.3h0.75v0.75h-0.75zM182.8 386.3h0.75v0.75h-0.75zM184.8 386.1h0.75v0.75h-0.75zM194.0 386.3h0.75v0.75h-0.75zM194.6 386.5h0.75v0.75h-0.75zM203.0 386.2h0.75v0.75h-0.75zM204.8 386.2h0.75v0.75h-0.75zM209.9 386.1h0.75v0.75h-0.75zM177.9 387.5h0.75v0.75h-0.75zM183.1 387.4h0.75v0.75h-0.75zM184.7 387.3h0.75v0.75h-0.75zM186.0 387.3h0.75v0.75h-0.75zM187.6 387.3h0.75v0.75h-0.75zM188.5 387.0h0.75v0.75h-0.75zM208.6 387.3h0.75v0.75h-0.75zM181.9 388.2h0.75v0.75h-0.75zM182.7 388.1h0.75v0.75h-0.75zM183.7 388.2h0.75v0.75h-0.75zM187.7 388.5h0.75v0.75h-0.75zM192.0 388.6h0.75v0.75h-0.75zM192.9 388.4h0.75v0.75h-0.75zM200.0 388.3h0.75v0.75h-0.75zM202.7 388.5h0.75v0.75h-0.75zM209.8 388.5h0.75v0.75h-0.75zM179.8 389.3h0.75v0.75h-0.75zM183.5 389.2h0.75v0.75h-0.75zM184.7 389.5h0.75v0.75h-0.75zM191.9 389.4h0.75v0.75h-0.75zM193.8 389.2h0.75v0.75h-0.75zM206.7 389.4h0.75v0.75h-0.75zM213.9 389.0h0.75v0.75h-0.75zM176.8 390.2h0.75v0.75h-0.75zM188.6 390.5h0.75v0.75h-0.75zM192.7 390.3h0.75v0.75h-0.75zM196.6 390.6h0.75v0.75h-0.75zM199.0 390.3h0.75v0.75h-0.75zM202.8 390.6h0.75v0.75h-0.75zM206.8 390.5h0.75v0.75h-0.75zM213.6 390.4h0.75v0.75h-0.75zM178.9 391.4h0.75v0.75h-0.75zM193.7 391.1h0.75v0.75h-0.75zM195.8 391.3h0.75v0.75h-0.75zM199.6 391.3h0.75v0.75h-0.75zM205.0 391.1h0.75v0.75h-0.75zM205.5 391.5h0.75v0.75h-0.75zM206.5 391.5h0.75v0.75h-0.75zM208.6 391.2h0.75v0.75h-0.75zM209.6 391.4h0.75v0.75h-0.75zM223.0 391.4h0.75v0.75h-0.75zM176.7 392.5h0.75v0.75h-0.75zM188.9 392.1h0.75v0.75h-0.75zM193.9 392.1h0.75v0.75h-0.75zM198.7 392.2h0.75v0.75h-0.75zM202.0 392.6h0.75v0.75h-0.75zM203.5 392.2h0.75v0.75h-0.75zM208.6 392.0h0.75v0.75h-0.75zM216.6 392.0h0.75v0.75h-0.75zM177.0 393.4h0.75v0.75h-0.75zM177.8 393.2h0.75v0.75h-0.75zM184.8 393.4h0.75v0.75h-0.75zM185.7 393.2h0.75v0.75h-0.75zM186.5 393.5h0.75v0.75h-0.75zM187.6 393.5h0.75v0.75h-0.75zM188.9 393.1h0.75v0.75h-0.75zM192.5 393.4h0.75v0.75h-0.75zM195.5 393.4h0.75v0.75h-0.75zM197.1 393.1h0.75v0.75h-0.75zM198.1 393.6h0.75v0.75h-0.75zM198.9 393.5h0.75v0.75h-0.75zM199.8 393.1h0.75v0.75h-0.75zM202.8 393.2h0.75v0.75h-0.75zM210.6 393.1h0.75v0.75h-0.75zM176.7 394.5h0.75v0.75h-0.75zM187.6 394.0h0.75v0.75h-0.75zM189.8 394.4h0.75v0.75h-0.75zM190.8 394.2h0.75v0.75h-0.75zM192.1 394.5h0.75v0.75h-0.75zM193.0 394.1h0.75v0.75h-0.75zM203.8 394.2h0.75v0.75h-0.75zM209.6 394.0h0.75v0.75h-0.75zM220.8 394.1h0.75v0.75h-0.75zM172.6 395.1h0.75v0.75h-0.75zM175.1 395.5h0.75v0.75h-0.75zM176.0 395.6h0.75v0.75h-0.75zM193.7 395.5h0.75v0.75h-0.75zM194.8 395.2h0.75v0.75h-0.75zM197.0 395.6h0.75v0.75h-0.75zM200.1 395.1h0.75v0.75h-0.75zM200.7 395.3h0.75v0.75h-0.75zM203.0 395.5h0.75v0.75h-0.75zM203.7 395.2h0.75v0.75h-0.75zM207.6 395.4h0.75v0.75h-0.75zM209.5 395.2h0.75v0.75h-0.75zM213.9 395.2h0.75v0.75h-0.75zM184.9 396.2h0.75v0.75h-0.75zM185.6 396.4h0.75v0.75h-0.75zM187.5 396.4h0.75v0.75h-0.75zM189.7 396.1h0.75v0.75h-0.75zM191.8 396.2h0.75v0.75h-0.75zM192.7 396.2h0.75v0.75h-0.75zM193.9 396.6h0.75v0.75h-0.75zM196.6 396.3h0.75v0.75h-0.75zM199.6 396.4h0.75v0.75h-0.75zM200.6 396.1h0.75v0.75h-0.75zM202.6 396.6h0.75v0.75h-0.75zM178.9 397.0h0.75v0.75h-0.75zM186.7 397.0h0.75v0.75h-0.75zM187.9 397.5h0.75v0.75h-0.75zM193.5 397.4h0.75v0.75h-0.75zM196.5 397.5h0.75v0.75h-0.75zM205.7 397.2h0.75v0.75h-0.75zM209.7 397.2h0.75v0.75h-0.75zM218.7 397.5h0.75v0.75h-0.75zM172.6 398.4h0.75v0.75h-0.75zM175.8 398.4h0.75v0.75h-0.75zM177.1 398.3h0.75v0.75h-0.75zM182.5 398.1h0.75v0.75h-0.75zM186.0 398.5h0.75v0.75h-0.75zM190.9 398.4h0.75v0.75h-0.75zM193.8 398.2h0.75v0.75h-0.75zM197.1 398.5h0.75v0.75h-0.75zM198.6 398.0h0.75v0.75h-0.75zM201.6 398.1h0.75v0.75h-0.75zM202.8 398.3h0.75v0.75h-0.75zM207.5 398.4h0.75v0.75h-0.75zM208.9 398.1h0.75v0.75h-0.75zM173.8 399.5h0.75v0.75h-0.75zM177.9 399.6h0.75v0.75h-0.75zM185.9 399.4h0.75v0.75h-0.75zM187.7 399.1h0.75v0.75h-0.75zM189.0 399.4h0.75v0.75h-0.75zM194.7 399.0h0.75v0.75h-0.75zM197.8 399.5h0.75v0.75h-0.75zM201.9 399.0h0.75v0.75h-0.75zM204.8 399.0h0.75v0.75h-0.75zM205.8 399.5h0.75v0.75h-0.75zM210.0 399.3h0.75v0.75h-0.75zM212.6 399.0h0.75v0.75h-0.75zM183.0 400.2h0.75v0.75h-0.75zM186.0 400.1h0.75v0.75h-0.75zM186.7 400.6h0.75v0.75h-0.75zM193.7 400.3h0.75v0.75h-0.75zM197.5 400.2h0.75v0.75h-0.75zM207.8 400.5h0.75v0.75h-0.75zM177.7 401.3h0.75v0.75h-0.75zM182.9 401.4h0.75v0.75h-0.75zM183.9 401.4h0.75v0.75h-0.75zM194.1 401.5h0.75v0.75h-0.75zM196.7 401.3h0.75v0.75h-0.75zM197.8 401.3h0.75v0.75h-0.75zM201.1 401.4h0.75v0.75h-0.75zM203.9 401.3h0.75v0.75h-0.75zM204.6 401.3h0.75v0.75h-0.75zM173.5 402.5h0.75v0.75h-0.75zM174.6 402.3h0.75v0.75h-0.75zM176.8 402.6h0.75v0.75h-0.75zM179.8 402.1h0.75v0.75h-0.75zM180.6 402.3h0.75v0.75h-0.75zM188.1 402.3h0.75v0.75h-0.75zM201.8 402.2h0.75v0.75h-0.75zM209.9 402.6h0.75v0.75h-0.75zM215.8 402.3h0.75v0.75h-0.75zM178.5 403.4h0.75v0.75h-0.75zM182.8 403.5h0.75v0.75h-0.75zM199.6 403.4h0.75v0.75h-0.75zM177.0 404.0h0.75v0.75h-0.75zM183.0 404.2h0.75v0.75h-0.75zM183.7 404.0h0.75v0.75h-0.75zM191.7 404.3h0.75v0.75h-0.75zM195.1 404.3h0.75v0.75h-0.75zM199.8 404.3h0.75v0.75h-0.75zM177.7 405.2h0.75v0.75h-0.75zM179.0 405.0h0.75v0.75h-0.75zM181.9 405.2h0.75v0.75h-0.75zM182.7 405.2h0.75v0.75h-0.75zM183.6 405.3h0.75v0.75h-0.75zM185.7 405.4h0.75v0.75h-0.75zM188.5 405.1h0.75v0.75h-0.75zM193.8 405.2h0.75v0.75h-0.75zM196.5 405.5h0.75v0.75h-0.75zM200.1 405.6h0.75v0.75h-0.75zM204.9 405.3h0.75v0.75h-0.75zM205.7 405.1h0.75v0.75h-0.75zM212.5 405.0h0.75v0.75h-0.75zM180.7 406.3h0.75v0.75h-0.75zM182.9 406.0h0.75v0.75h-0.75zM191.1 406.1h0.75v0.75h-0.75zM192.5 406.4h0.75v0.75h-0.75zM194.1 406.3h0.75v0.75h-0.75zM197.9 406.4h0.75v0.75h-0.75zM198.9 406.1h0.75v0.75h-0.75zM202.7 406.5h0.75v0.75h-0.75zM203.5 406.5h0.75v0.75h-0.75zM209.5 406.5h0.75v0.75h-0.75zM212.9 406.4h0.75v0.75h-0.75zM226.9 406.4h0.75v0.75h-0.75zM178.5 407.5h0.75v0.75h-0.75zM184.9 407.4h0.75v0.75h-0.75zM187.9 407.2h0.75v0.75h-0.75zM188.9 407.1h0.75v0.75h-0.75zM192.0 407.6h0.75v0.75h-0.75zM200.0 407.3h0.75v0.75h-0.75zM204.0 407.6h0.75v0.75h-0.75zM204.6 407.5h0.75v0.75h-0.75zM208.6 407.0h0.75v0.75h-0.75zM210.1 407.0h0.75v0.75h-0.75zM215.9 407.2h0.75v0.75h-0.75zM217.8 407.2h0.75v0.75h-0.75zM221.8 407.0h0.75v0.75h-0.75zM229.0 407.3h0.75v0.75h-0.75zM175.8 408.6h0.75v0.75h-0.75zM182.7 408.4h0.75v0.75h-0.75zM196.9 408.4h0.75v0.75h-0.75zM207.6 408.5h0.75v0.75h-0.75zM208.8 408.5h0.75v0.75h-0.75zM213.1 408.2h0.75v0.75h-0.75zM214.7 408.5h0.75v0.75h-0.75zM216.9 408.4h0.75v0.75h-0.75zM219.6 408.2h0.75v0.75h-0.75zM221.6 408.4h0.75v0.75h-0.75zM222.8 408.6h0.75v0.75h-0.75zM226.0 408.5h0.75v0.75h-0.75zM229.5 408.4h0.75v0.75h-0.75zM176.6 409.4h0.75v0.75h-0.75zM177.6 409.2h0.75v0.75h-0.75zM178.6 409.0h0.75v0.75h-0.75zM182.9 409.2h0.75v0.75h-0.75zM187.8 409.1h0.75v0.75h-0.75zM203.7 409.1h0.75v0.75h-0.75zM206.6 409.2h0.75v0.75h-0.75zM210.5 409.2h0.75v0.75h-0.75zM211.7 409.1h0.75v0.75h-0.75zM212.7 409.1h0.75v0.75h-0.75zM213.8 409.1h0.75v0.75h-0.75zM222.8 409.3h0.75v0.75h-0.75zM228.6 409.6h0.75v0.75h-0.75zM232.1 409.2h0.75v0.75h-0.75zM180.5 410.6h0.75v0.75h-0.75zM182.7 410.5h0.75v0.75h-0.75zM184.8 410.4h0.75v0.75h-0.75zM187.0 410.0h0.75v0.75h-0.75zM192.0 410.4h0.75v0.75h-0.75zM192.7 410.5h0.75v0.75h-0.75zM196.0 410.5h0.75v0.75h-0.75zM203.7 410.2h0.75v0.75h-0.75zM211.7 410.3h0.75v0.75h-0.75zM215.8 410.2h0.75v0.75h-0.75zM219.9 410.4h0.75v0.75h-0.75zM223.6 410.5h0.75v0.75h-0.75z" fill="#aab2f2" fill-opacity="0.5"/>
<path d="M193.6 376.6h0.75v0.75h-0.75zM182.7 378.4h0.75v0.75h-0.75zM193.7 378.1h0.75v0.75h-0.75zM183.8 380.1h0.75v0.75h-0.75zM179.7 381.6h0.75v0.75h-0.75zM178.7 383.2h0.75v0.75h-0.75zM179.7 383.2h0.75v0.75h-0.75zM200.9 383.0h0.75v0.75h-0.75zM180.8 384.6h0.75v0.75h-0.75zM182.0 384.6h0.75v0.75h-0.75zM181.7 385.1h0.75v0.75h-0.75zM183.6 385.2h0.75v0.75h-0.75zM202.1 385.6h0.75v0.75h-0.75zM178.1 386.2h0.75v0.75h-0.75zM180.7 386.0h0.75v0.75h-0.75zM181.8 386.4h0.75v0.75h-0.75zM186.0 386.5h0.75v0.75h-0.75zM178.7 387.2h0.75v0.75h-0.75zM179.9 387.6h0.75v0.75h-0.75zM194.8 387.6h0.75v0.75h-0.75zM178.9 388.1h0.75v0.75h-0.75zM179.5 388.0h0.75v0.75h-0.75zM180.6 388.6h0.75v0.75h-0.75zM185.0 388.4h0.75v0.75h-0.75zM185.8 388.3h0.75v0.75h-0.75zM179.0 389.3h0.75v0.75h-0.75zM181.1 389.2h0.75v0.75h-0.75zM181.7 389.4h0.75v0.75h-0.75zM182.7 389.2h0.75v0.75h-0.75zM185.6 389.1h0.75v0.75h-0.75zM188.8 389.4h0.75v0.75h-0.75zM198.6 389.4h0.75v0.75h-0.75zM177.7 390.2h0.75v0.75h-0.75zM178.9 390.2h0.75v0.75h-0.75zM179.8 390.3h0.75v0.75h-0.75zM181.0 390.4h0.75v0.75h-0.75zM181.8 390.2h0.75v0.75h-0.75zM182.8 390.3h0.75v0.75h-0.75zM185.5 390.2h0.75v0.75h-0.75zM200.1 390.0h0.75v0.75h-0.75zM177.1 391.2h0.75v0.75h-0.75zM179.8 391.2h0.75v0.75h-0.75zM180.9 391.1h0.75v0.75h-0.75zM182.7 391.6h0.75v0.75h-0.75zM183.6 391.1h0.75v0.75h-0.75zM189.9 391.3h0.75v0.75h-0.75zM191.8 391.0h0.75v0.75h-0.75zM197.6 391.4h0.75v0.75h-0.75zM179.7 392.5h0.75v0.75h-0.75zM181.1 392.4h0.75v0.75h-0.75zM181.9 392.6h0.75v0.75h-0.75zM183.0 392.6h0.75v0.75h-0.75zM184.1 392.1h0.75v0.75h-0.75zM184.6 392.5h0.75v0.75h-0.75zM186.7 392.4h0.75v0.75h-0.75zM188.0 392.6h0.75v0.75h-0.75zM189.8 392.2h0.75v0.75h-0.75zM190.5 392.2h0.75v0.75h-0.75zM178.8 393.0h0.75v0.75h-0.75zM179.9 393.6h0.75v0.75h-0.75zM180.8 393.3h0.75v0.75h-0.75zM182.1 393.3h0.75v0.75h-0.75zM182.7 393.6h0.75v0.75h-0.75zM183.5 393.4h0.75v0.75h-0.75zM191.1 393.2h0.75v0.75h-0.75zM179.9 394.2h0.75v0.75h-0.75zM181.0 394.6h0.75v0.75h-0.75zM181.6 394.1h0.75v0.75h-0.75zM182.6 394.2h0.75v0.75h-0.75zM184.0 394.2h0.75v0.75h-0.75zM184.7 394.3h0.75v0.75h-0.75zM186.9 394.5h0.75v0.75h-0.75zM193.6 394.2h0.75v0.75h-0.75zM179.6 395.1h0.75v0.75h-0.75zM181.0 395.3h0.75v0.75h-0.75zM181.6 395.4h0.75v0.75h-0.75zM182.8 395.3h0.75v0.75h-0.75zM183.8 395.4h0.75v0.75h-0.75zM184.8 395.1h0.75v0.75h-0.75zM185.7 395.0h0.75v0.75h-0.75zM187.1 395.5h0.75v0.75h-0.75zM187.7 395.2h0.75v0.75h-0.75zM190.6 395.1h0.75v0.75h-0.75zM192.9 395.5h0.75v0.75h-0.75zM178.9 396.3h0.75v0.75h-0.75zM179.8 396.5h0.75v0.75h-0.75zM181.0 396.4h0.75v0.75h-0.75zM181.5 396.3h0.75v0.75h-0.75zM183.8 396.1h0.75v0.75h-0.75zM189.1 396.3h0.75v0.75h-0.75zM199.1 396.2h0.75v0.75h-0.75zM180.0 397.3h0.75v0.75h-0.75zM180.9 397.3h0.75v0.75h-0.75zM181.7 397.1h0.75v0.75h-0.75zM182.7 397.4h0.75v0.75h-0.75zM183.5 397.5h0.75v0.75h-0.75zM178.5 398.4h0.75v0.75h-0.75zM179.7 398.4h0.75v0.75h-0.75zM181.0 398.6h0.75v0.75h-0.75zM181.7 398.5h0.75v0.75h-0.75zM183.9 398.3h0.75v0.75h-0.75zM186.5 398.4h0.75v0.75h-0.75zM196.0 398.2h0.75v0.75h-0.75zM175.7 399.5h0.75v0.75h-0.75zM178.6 399.3h0.75v0.75h-0.75zM179.6 399.4h0.75v0.75h-0.75zM180.6 399.6h0.75v0.75h-0.75zM181.7 399.6h0.75v0.75h-0.75zM183.1 399.1h0.75v0.75h-0.75zM183.6 399.5h0.75v0.75h-0.75zM184.6 399.4h0.75v0.75h-0.75zM175.6 400.0h0.75v0.75h-0.75zM178.5 400.3h0.75v0.75h-0.75zM180.0 400.4h0.75v0.75h-0.75zM180.7 400.5h0.75v0.75h-0.75zM183.7 400.4h0.75v0.75h-0.75zM184.5 400.4h0.75v0.75h-0.75zM180.1 401.6h0.75v0.75h-0.75zM181.7 401.1h0.75v0.75h-0.75zM184.9 401.3h0.75v0.75h-0.75zM188.1 401.3h0.75v0.75h-0.75zM189.6 401.5h0.75v0.75h-0.75zM191.8 401.6h0.75v0.75h-0.75zM175.6 402.0h0.75v0.75h-0.75zM179.0 402.4h0.75v0.75h-0.75zM181.9 402.1h0.75v0.75h-0.75zM182.8 402.4h0.75v0.75h-0.75zM188.6 402.4h0.75v0.75h-0.75zM189.6 402.3h0.75v0.75h-0.75zM191.0 402.3h0.75v0.75h-0.75zM200.0 402.1h0.75v0.75h-0.75zM175.6 403.1h0.75v0.75h-0.75zM180.0 403.0h0.75v0.75h-0.75zM183.6 403.0h0.75v0.75h-0.75zM181.8 404.1h0.75v0.75h-0.75zM201.7 404.1h0.75v0.75h-0.75zM180.0 405.4h0.75v0.75h-0.75zM189.7 405.1h0.75v0.75h-0.75zM192.6 405.4h0.75v0.75h-0.75zM198.8 405.3h0.75v0.75h-0.75zM179.7 406.5h0.75v0.75h-0.75zM185.8 406.2h0.75v0.75h-0.75zM187.0 406.3h0.75v0.75h-0.75zM191.6 406.2h0.75v0.75h-0.75zM196.9 406.4h0.75v0.75h-0.75zM201.7 406.4h0.75v0.75h-0.75zM206.0 406.0h0.75v0.75h-0.75zM207.1 406.0h0.75v0.75h-0.75zM181.7 407.3h0.75v0.75h-0.75zM183.5 407.3h0.75v0.75h-0.75zM185.8 407.3h0.75v0.75h-0.75zM186.6 407.3h0.75v0.75h-0.75zM192.7 407.4h0.75v0.75h-0.75zM193.6 407.4h0.75v0.75h-0.75zM196.7 407.2h0.75v0.75h-0.75zM198.0 407.2h0.75v0.75h-0.75zM200.8 407.4h0.75v0.75h-0.75zM202.9 407.0h0.75v0.75h-0.75zM210.6 407.6h0.75v0.75h-0.75zM176.8 408.4h0.75v0.75h-0.75zM177.9 408.1h0.75v0.75h-0.75zM183.8 408.1h0.75v0.75h-0.75zM184.5 408.3h0.75v0.75h-0.75zM188.1 408.4h0.75v0.75h-0.75zM188.7 408.2h0.75v0.75h-0.75zM189.5 408.3h0.75v0.75h-0.75zM191.1 408.5h0.75v0.75h-0.75zM193.0 408.5h0.75v0.75h-0.75zM193.7 408.1h0.75v0.75h-0.75zM194.9 408.2h0.75v0.75h-0.75zM195.9 408.5h0.75v0.75h-0.75zM197.9 408.3h0.75v0.75h-0.75zM199.6 408.3h0.75v0.75h-0.75zM200.9 408.0h0.75v0.75h-0.75zM201.7 408.4h0.75v0.75h-0.75zM202.9 408.6h0.75v0.75h-0.75zM203.9 408.4h0.75v0.75h-0.75zM205.1 408.5h0.75v0.75h-0.75zM207.0 408.6h0.75v0.75h-0.75zM188.9 409.2h0.75v0.75h-0.75zM190.7 409.3h0.75v0.75h-0.75zM193.9 409.1h0.75v0.75h-0.75zM194.7 409.3h0.75v0.75h-0.75zM196.1 409.2h0.75v0.75h-0.75zM196.9 409.2h0.75v0.75h-0.75zM197.8 409.5h0.75v0.75h-0.75zM199.8 409.2h0.75v0.75h-0.75zM201.8 409.2h0.75v0.75h-0.75zM202.6 409.3h0.75v0.75h-0.75zM179.7 410.2h0.75v0.75h-0.75zM183.8 410.3h0.75v0.75h-0.75zM189.0 410.5h0.75v0.75h-0.75zM194.8 410.4h0.75v0.75h-0.75zM196.8 410.5h0.75v0.75h-0.75z" fill="#3446e4" fill-opacity="0.55"/>
<g filter="url(#bl)">
<path d="M180.0 396.0h1.0v0.5h-1.0zM179.5 396.5h0.5v0.5h-0.5zM181.0 396.5h0.5v0.5h-0.5zM179.5 397.0h0.5v0.5h-0.5zM181.0 397.0h0.5v0.5h-0.5zM179.0 398.0h0.5v0.5h-0.5zM181.5 398.0h0.5v0.5h-0.5zM179.0 398.5h0.5v0.5h-0.5zM181.5 398.5h0.5v0.5h-0.5zM179.0 399.0h0.5v0.5h-0.5zM181.5 399.0h0.5v0.5h-0.5zM179.0 399.5h0.5v0.5h-0.5zM181.5 399.5h0.5v0.5h-0.5zM178.5 400.5h1.5v0.5h-1.5zM181.0 400.5h0.5v0.5h-0.5zM178.0 401.0h0.5v0.5h-0.5zM181.5 401.0h0.5v0.5h-0.5zM177.5 401.5h0.5v0.5h-0.5zM182.0 401.5h0.5v0.5h-0.5zM177.0 402.0h0.5v0.5h-0.5zM182.5 402.0h0.5v0.5h-0.5zM176.5 403.0h0.5v0.5h-0.5zM183.0 403.0h0.5v0.5h-0.5zM176.5 403.5h0.5v0.5h-0.5zM183.0 403.5h0.5v0.5h-0.5zM175.0 404.5h0.5v0.5h-0.5zM174.0 405.0h0.5v0.5h-0.5zM183.0 405.0h0.5v0.5h-0.5zM172.0 407.0h0.5v0.5h-0.5zM184.5 407.0h0.5v0.5h-0.5zM172.0 407.5h0.5v0.5h-0.5zM184.5 407.5h2.0v0.5h-2.0zM189.5 407.5h1.5v0.5h-1.5zM191.5 408.0h1.0v0.5h-1.0zM172.0 408.5h0.5v0.5h-0.5zM192.0 408.5h0.5v0.5h-0.5zM172.0 409.0h0.5v0.5h-0.5zM191.5 409.0h1.0v0.5h-1.0zM184.5 409.5h1.0v0.5h-1.0zM190.5 409.5h1.0v0.5h-1.0zM172.5 410.0h0.5v0.5h-0.5zM184.0 410.0h0.5v0.5h-0.5z" fill="#3444ee"/>
<path d="M180.0 396.5h1.0v0.5h-1.0zM180.0 397.0h1.0v0.5h-1.0zM179.5 397.5h2.0v0.5h-2.0zM179.5 398.0h2.0v0.5h-2.0zM179.5 398.5h2.0v0.5h-2.0zM179.5 399.0h2.0v0.5h-2.0zM179.5 399.5h2.0v0.5h-2.0zM179.5 400.0h2.0v0.5h-2.0zM180.0 400.5h1.0v0.5h-1.0zM178.5 401.0h1.0v0.5h-1.0zM180.5 401.0h1.0v0.5h-1.0zM178.0 401.5h0.5v0.5h-0.5zM181.5 401.5h0.5v0.5h-0.5zM177.5 402.0h0.5v0.5h-0.5zM182.0 402.0h0.5v0.5h-0.5zM177.0 402.5h0.5v0.5h-0.5zM182.5 402.5h0.5v0.5h-0.5zM177.0 403.0h0.5v0.5h-0.5zM182.5 403.0h0.5v0.5h-0.5zM176.5 404.0h0.5v0.5h-0.5zM183.0 404.0h0.5v0.5h-0.5zM175.5 404.5h1.0v0.5h-1.0zM183.0 404.5h0.5v0.5h-0.5zM174.5 405.0h0.5v0.5h-0.5zM173.5 405.5h0.5v0.5h-0.5zM183.0 405.5h0.5v0.5h-0.5zM173.0 406.0h0.5v0.5h-0.5zM183.5 406.0h0.5v0.5h-0.5zM172.5 406.5h0.5v0.5h-0.5zM184.0 406.5h0.5v0.5h-0.5zM172.5 407.0h0.5v0.5h-0.5zM184.0 407.0h0.5v0.5h-0.5zM186.5 407.5h3.0v0.5h-3.0zM172.0 408.0h0.5v0.5h-0.5zM184.5 408.0h7.0v0.5h-7.0zM184.5 408.5h2.0v0.5h-2.0zM189.5 408.5h2.5v0.5h-2.5zM172.5 409.0h0.5v0.5h-0.5zM184.0 409.0h3.5v0.5h-3.5zM188.5 409.0h3.0v0.5h-3.0zM172.5 409.5h0.5v0.5h-0.5zM184.0 409.5h0.5v0.5h-0.5zM185.5 409.5h5.0v0.5h-5.0zM173.0 410.0h0.5v0.5h-0.5zM183.5 410.0h0.5v0.5h-0.5z" fill="#2aa8f2"/>
<path d="M179.5 401.0h1.0v0.5h-1.0zM178.5 401.5h1.0v0.5h-1.0zM180.5 401.5h1.0v0.5h-1.0zM178.0 402.0h0.5v0.5h-0.5zM181.5 402.0h0.5v0.5h-0.5zM177.5 402.5h0.5v0.5h-0.5zM182.0 402.5h0.5v0.5h-0.5zM177.5 403.0h0.5v0.5h-0.5zM182.0 403.0h0.5v0.5h-0.5zM177.0 403.5h0.5v0.5h-0.5zM182.5 403.5h0.5v0.5h-0.5zM177.0 404.0h0.5v0.5h-0.5zM182.5 404.0h0.5v0.5h-0.5zM176.5 404.5h1.0v0.5h-1.0zM182.5 404.5h0.5v0.5h-0.5zM175.0 405.0h1.0v0.5h-1.0zM182.5 405.0h0.5v0.5h-0.5zM174.0 405.5h0.5v0.5h-0.5zM182.5 405.5h0.5v0.5h-0.5zM173.5 406.0h0.5v0.5h-0.5zM183.0 406.0h0.5v0.5h-0.5zM173.0 406.5h0.5v0.5h-0.5zM183.5 406.5h0.5v0.5h-0.5zM173.0 407.0h0.5v0.5h-0.5zM183.5 407.0h0.5v0.5h-0.5zM172.5 407.5h0.5v0.5h-0.5zM184.0 407.5h0.5v0.5h-0.5zM172.5 408.0h0.5v0.5h-0.5zM184.0 408.0h0.5v0.5h-0.5zM172.5 408.5h0.5v0.5h-0.5zM184.0 408.5h0.5v0.5h-0.5zM186.5 408.5h3.0v0.5h-3.0zM187.5 409.0h1.0v0.5h-1.0zM173.0 409.5h0.5v0.5h-0.5zM183.5 409.5h0.5v0.5h-0.5zM173.5 410.0h0.5v0.5h-0.5zM183.0 410.0h0.5v0.5h-0.5z" fill="#30cc70"/>
<path d="M179.5 401.5h1.0v0.5h-1.0zM178.5 402.0h3.0v0.5h-3.0zM178.0 402.5h4.0v0.5h-4.0zM178.0 403.0h1.0v0.5h-1.0zM181.0 403.0h1.0v0.5h-1.0zM177.5 403.5h1.0v0.5h-1.0zM181.5 403.5h1.0v0.5h-1.0zM177.5 404.0h1.0v0.5h-1.0zM181.5 404.0h1.0v0.5h-1.0zM177.5 404.5h1.0v0.5h-1.0zM181.5 404.5h1.0v0.5h-1.0zM176.0 405.0h1.5v0.5h-1.5zM181.5 405.0h1.0v0.5h-1.0zM174.5 405.5h1.0v0.5h-1.0zM181.5 405.5h1.0v0.5h-1.0zM174.0 406.0h0.5v0.5h-0.5zM182.5 406.0h0.5v0.5h-0.5zM173.5 406.5h0.5v0.5h-0.5zM183.0 406.5h0.5v0.5h-0.5zM173.5 407.0h0.5v0.5h-0.5zM183.0 407.0h0.5v0.5h-0.5zM173.0 407.5h0.5v0.5h-0.5zM183.5 407.5h0.5v0.5h-0.5zM173.0 408.0h0.5v0.5h-0.5zM183.5 408.0h0.5v0.5h-0.5zM173.0 408.5h0.5v0.5h-0.5zM183.5 408.5h0.5v0.5h-0.5zM173.0 409.0h1.0v0.5h-1.0zM183.0 409.0h1.0v0.5h-1.0zM173.5 409.5h0.5v0.5h-0.5zM183.0 409.5h0.5v0.5h-0.5zM174.0 410.0h0.5v0.5h-0.5zM182.5 410.0h0.5v0.5h-0.5z" fill="#a8e030"/>
<path d="M179.0 403.0h2.0v0.5h-2.0zM178.5 403.5h3.0v0.5h-3.0zM178.5 404.0h3.0v0.5h-3.0zM178.5 404.5h3.0v0.5h-3.0zM177.5 405.0h4.0v0.5h-4.0zM175.5 405.5h1.0v0.5h-1.0zM180.5 405.5h1.0v0.5h-1.0zM174.5 406.0h1.0v0.5h-1.0zM181.5 406.0h1.0v0.5h-1.0zM174.0 406.5h1.0v0.5h-1.0zM182.0 406.5h1.0v0.5h-1.0zM174.0 407.0h0.5v0.5h-0.5zM182.5 407.0h0.5v0.5h-0.5zM173.5 407.5h0.5v0.5h-0.5zM183.0 407.5h0.5v0.5h-0.5zM173.5 408.0h0.5v0.5h-0.5zM183.0 408.0h0.5v0.5h-0.5zM173.5 408.5h0.5v0.5h-0.5zM183.0 408.5h0.5v0.5h-0.5zM174.0 409.0h0.5v0.5h-0.5zM182.5 409.0h0.5v0.5h-0.5zM174.0 409.5h0.5v0.5h-0.5zM182.5 409.5h0.5v0.5h-0.5zM174.5 410.0h1.0v0.5h-1.0zM181.5 410.0h1.0v0.5h-1.0z" fill="#f6ea12"/>
<path d="M176.5 405.5h4.0v0.5h-4.0zM175.5 406.0h1.0v0.5h-1.0zM180.5 406.0h1.0v0.5h-1.0zM175.0 406.5h0.5v0.5h-0.5zM181.5 406.5h0.5v0.5h-0.5zM174.5 407.0h0.5v0.5h-0.5zM182.0 407.0h0.5v0.5h-0.5zM174.0 407.5h0.5v0.5h-0.5zM182.5 407.5h0.5v0.5h-0.5zM174.0 408.0h0.5v0.5h-0.5zM182.5 408.0h0.5v0.5h-0.5zM174.0 408.5h0.5v0.5h-0.5zM182.5 408.5h0.5v0.5h-0.5zM174.5 409.0h0.5v0.5h-0.5zM182.0 409.0h0.5v0.5h-0.5zM174.5 409.5h1.0v0.5h-1.0zM181.5 409.5h1.0v0.5h-1.0zM175.5 410.0h0.5v0.5h-0.5zM181.0 410.0h0.5v0.5h-0.5z" fill="#ffa800"/>
<path d="M176.5 406.0h1.5v0.5h-1.5zM179.0 406.0h1.5v0.5h-1.5zM175.5 406.5h1.0v0.5h-1.0zM180.5 406.5h1.0v0.5h-1.0zM175.0 407.0h0.5v0.5h-0.5zM181.5 407.0h0.5v0.5h-0.5zM174.5 407.5h1.0v0.5h-1.0zM181.5 407.5h1.0v0.5h-1.0zM174.5 408.0h0.5v0.5h-0.5zM182.0 408.0h0.5v0.5h-0.5zM174.5 408.5h1.0v0.5h-1.0zM181.5 408.5h1.0v0.5h-1.0zM175.0 409.0h0.5v0.5h-0.5zM181.5 409.0h0.5v0.5h-0.5zM175.5 409.5h0.5v0.5h-0.5zM181.0 409.5h0.5v0.5h-0.5zM176.0 410.0h1.5v0.5h-1.5zM179.5 410.0h1.5v0.5h-1.5z" fill="#ff5800"/>
<path d="M178.0 406.0h1.0v0.5h-1.0zM176.5 406.5h4.0v0.5h-4.0zM175.5 407.0h6.0v0.5h-6.0zM175.5 407.5h6.0v0.5h-6.0zM175.0 408.0h7.0v0.5h-7.0zM175.5 408.5h6.0v0.5h-6.0zM175.5 409.0h6.0v0.5h-6.0zM176.0 409.5h5.0v0.5h-5.0zM177.5 410.0h2.0v0.5h-2.0z" fill="#ff1a00"/>
</g>
<line x1="155" y1="347" x2="155" y2="430" stroke="#3b5494" stroke-width="1.1" />
<line x1="155" y1="430" x2="233.75" y2="430" stroke="#3b5494" stroke-width="1.1" />
<text x="150.5" y="354" font-size="6.8" text-anchor="end" fill="#222" color="#222" dominant-baseline="central" textLength="9.15" lengthAdjust="spacingAndGlyphs">10<tspan font-size="4.22" dy="-2.4">5</tspan></text>
<line x1="155" y1="354" x2="156.5" y2="354" stroke="#3b5494" stroke-width="0.7" />
<text x="150.5" y="373.6" font-size="6.8" text-anchor="end" fill="#222" color="#222" dominant-baseline="central" textLength="9.15" lengthAdjust="spacingAndGlyphs">10<tspan font-size="4.22" dy="-2.4">4</tspan></text>
<line x1="155" y1="373.6" x2="156.5" y2="373.6" stroke="#3b5494" stroke-width="0.7" />
<text x="150.5" y="397.8" font-size="6.8" text-anchor="end" fill="#222" color="#222" dominant-baseline="central" textLength="9.15" lengthAdjust="spacingAndGlyphs">10<tspan font-size="4.22" dy="-2.4">3</tspan></text>
<line x1="155" y1="397.8" x2="156.5" y2="397.8" stroke="#3b5494" stroke-width="0.7" />
<text x="150.5" y="412.2" font-size="6.8" text-anchor="end" fill="#222" color="#222" dominant-baseline="central" textLength="11.19" lengthAdjust="spacingAndGlyphs">-10<tspan font-size="4.22" dy="-2.4">2</tspan></text>
<line x1="155" y1="412.2" x2="156.5" y2="412.2" stroke="#3b5494" stroke-width="0.7" />
<text x="150.5" y="419.7" font-size="6.8" text-anchor="end" fill="#222" color="#222" dominant-baseline="central" textLength="11.19" lengthAdjust="spacingAndGlyphs">-10<tspan font-size="4.22" dy="-2.4">3</tspan></text>
<line x1="155" y1="419.7" x2="156.5" y2="419.7" stroke="#3b5494" stroke-width="0.7" />
<text x="174.6" y="438" font-size="7.1" text-anchor="end" fill="#222" color="#222" dominant-baseline="central" textLength="11.68" lengthAdjust="spacingAndGlyphs" transform="rotate(-45 174.6 438)">-10<tspan font-size="4.4" dy="-2.4">3</tspan></text>
<line x1="171.5" y1="430" x2="171.5" y2="428.5" stroke="#3b5494" stroke-width="0.7" />
<text x="185.5" y="438" font-size="7.1" text-anchor="end" fill="#222" color="#222" dominant-baseline="central" textLength="9.55" lengthAdjust="spacingAndGlyphs" transform="rotate(-45 185.5 438)">10<tspan font-size="4.4" dy="-2.4">2</tspan></text>
<line x1="182.5" y1="430" x2="182.5" y2="428.5" stroke="#3b5494" stroke-width="0.7" />
<text x="208.8" y="438" font-size="7.1" text-anchor="end" fill="#222" color="#222" dominant-baseline="central" textLength="9.55" lengthAdjust="spacingAndGlyphs" transform="rotate(-45 208.8 438)">10<tspan font-size="4.4" dy="-2.4">4</tspan></text>
<line x1="205.8" y1="430" x2="205.8" y2="428.5" stroke="#3b5494" stroke-width="0.7" />
<text x="228.7" y="438" font-size="7.1" text-anchor="end" fill="#222" color="#222" dominant-baseline="central" textLength="9.55" lengthAdjust="spacingAndGlyphs" transform="rotate(-45 228.7 438)">10<tspan font-size="4.4" dy="-2.4">5</tspan></text>
<line x1="225.7" y1="430" x2="225.7" y2="428.5" stroke="#3b5494" stroke-width="0.7" />
<text x="179.3" y="435.6" font-size="6.8" text-anchor="end" fill="#222" dominant-baseline="central" transform="rotate(-45 179.3 435.6)">0</text>
<text x="193.3" y="452.3" font-size="7.63" text-anchor="middle" fill="#222" color="#222" dominant-baseline="central" textLength="39.7" lengthAdjust="spacingAndGlyphs" >F4-80 PE-CY7</text>
<text x="130.2" y="388.8" font-size="7.44" text-anchor="middle" fill="#222" color="#222" dominant-baseline="central" textLength="33.6" lengthAdjust="spacingAndGlyphs" transform="rotate(-90 130.2 388.8)" >CD11B FITC</text>
<polygon points="155.5,349.4 233,349.4 233,428 186.6,428 186.6,403.4 155.5,403.4" stroke="#858585" stroke-width="0.8" fill="none" stroke-linejoin="miter" />
<line x1="186.6" y1="428" x2="186.6" y2="430" stroke="#7a7a7a" stroke-width="0.8" />
<text x="198.9" y="357.5" font-size="4.85" text-anchor="start" fill="#333" color="#333" dominant-baseline="central" textLength="28.8" lengthAdjust="spacingAndGlyphs" style="stroke-width:0">Macrophages</text>
<text x="198.8" y="362.6" font-size="5.2" text-anchor="start" fill="#222" color="#222" dominant-baseline="central" >6.37%</text>
<text x="248.3" y="329.6" font-size="10.8" text-anchor="start" fill="#000" color="#000" dominant-baseline="central" font-weight="bold" style="stroke-width:0.3px">G</text>
<line x1="273.4" y1="348.4" x2="273.4" y2="429.6" stroke="#161414" stroke-width="1.4" />
<line x1="270.8" y1="429.6" x2="273.4" y2="429.6" stroke="#161414" stroke-width="1.1" />
<text x="268.4" y="429.6" font-size="7.6" text-anchor="end" fill="#222" color="#222" dominant-baseline="central" textLength="3.89" lengthAdjust="spacingAndGlyphs" >0</text>
<line x1="270.8" y1="409.9" x2="273.4" y2="409.9" stroke="#161414" stroke-width="1.1" />
<text x="268.4" y="409.9" font-size="7.6" text-anchor="end" fill="#222" color="#222" dominant-baseline="central" textLength="7.78" lengthAdjust="spacingAndGlyphs" >10</text>
<line x1="270.8" y1="390.2" x2="273.4" y2="390.2" stroke="#161414" stroke-width="1.1" />
<text x="268.4" y="390.2" font-size="7.6" text-anchor="end" fill="#222" color="#222" dominant-baseline="central" textLength="7.78" lengthAdjust="spacingAndGlyphs" >20</text>
<line x1="270.8" y1="370.5" x2="273.4" y2="370.5" stroke="#161414" stroke-width="1.1" />
<text x="268.4" y="370.5" font-size="7.6" text-anchor="end" fill="#222" color="#222" dominant-baseline="central" textLength="7.78" lengthAdjust="spacingAndGlyphs" >30</text>
<line x1="270.8" y1="350.8" x2="273.4" y2="350.8" stroke="#161414" stroke-width="1.1" />
<text x="268.4" y="350.8" font-size="7.6" text-anchor="end" fill="#222" color="#222" dominant-baseline="central" textLength="7.78" lengthAdjust="spacingAndGlyphs" >40</text>
<line x1="271" y1="429.6" x2="325.4" y2="429.6" stroke="#161414" stroke-width="1.4" />
<line x1="289" y1="429.6" x2="289" y2="432.8" stroke="#161414" stroke-width="1.1" />
<line x1="311.1" y1="429.6" x2="311.1" y2="432.8" stroke="#161414" stroke-width="1.1" />
<text x="288.7" y="439.2" font-size="6.79" text-anchor="middle" fill="#222" color="#222" dominant-baseline="central" textLength="12" lengthAdjust="spacingAndGlyphs" >HbA</text>
<text x="311.2" y="439.2" font-size="6.79" text-anchor="middle" fill="#222" color="#222" dominant-baseline="central" textLength="12" lengthAdjust="spacingAndGlyphs" >HbS</text>
<text x="252.6" y="389" font-size="9.22" text-anchor="middle" fill="#222" color="#222" dominant-baseline="central" textLength="83" lengthAdjust="spacingAndGlyphs" transform="rotate(-90 252.6 389)"  style="stroke-width:0.03px">Macrophages (% of CD45+)</text>
<line x1="288.6" y1="362.3" x2="311" y2="362.3" stroke="#333" stroke-width="1.0" />
<line x1="288.6" y1="360.9" x2="288.6" y2="363.8" stroke="#333" stroke-width="0.9" />
<line x1="311" y1="360.9" x2="311" y2="363.8" stroke="#333" stroke-width="0.9" />
<text x="299.7" y="360.5" font-size="5.5" text-anchor="middle" fill="#333" color="#333" dominant-baseline="central" >***</text>
<circle cx="310.8" cy="369.8" r="1.4" fill="#b0103a"/>
<circle cx="308.6" cy="386.2" r="1.4" fill="#b0103a"/>
<circle cx="313.5" cy="385.6" r="1.4" fill="#b0103a"/>
<circle cx="310.8" cy="383.1" r="1.4" fill="#b0103a"/>
<line x1="303.6" y1="381.1" x2="318.2" y2="381.1" stroke="#b0103a" stroke-width="1.2" />
<line x1="310.9" y1="377.2" x2="310.9" y2="385.2" stroke="#b0103a" stroke-width="1.08" />
<line x1="307.2" y1="377.2" x2="314.6" y2="377.2" stroke="#b0103a" stroke-width="1.08" />
<line x1="307.2" y1="385.2" x2="314.6" y2="385.2" stroke="#b0103a" stroke-width="1.08" />
<circle cx="288.6" cy="407" r="1.3" fill="#1f3d7c"/>
<circle cx="286.4" cy="412.3" r="1.3" fill="#1f3d7c"/>
<circle cx="290.8" cy="413" r="1.3" fill="#1f3d7c"/>
<circle cx="288.6" cy="415.4" r="1.3" fill="#1f3d7c"/>
<line x1="281.3" y1="411.7" x2="295.7" y2="411.7" stroke="#1f3d7c" stroke-width="1.2" />
<line x1="288.5" y1="409.9" x2="288.5" y2="414.2" stroke="#1f3d7c" stroke-width="1.08" />
<line x1="286" y1="409.9" x2="291" y2="409.9" stroke="#1f3d7c" stroke-width="1.08" />
<line x1="286" y1="414.2" x2="291" y2="414.2" stroke="#1f3d7c" stroke-width="1.08" />
<line x1="273.4" y1="445.8" x2="474.1" y2="445.8" stroke="#444" stroke-width="1.0" />
<text x="374.2" y="454" font-size="8.57" text-anchor="middle" fill="#222" color="#222" dominant-baseline="central" textLength="62.3" lengthAdjust="spacingAndGlyphs"  style="stroke-width:0.03px">Spleen macrophages</text>
<text x="335" y="330.8" font-size="10.8" text-anchor="start" fill="#000" color="#000" dominant-baseline="central" font-weight="bold" style="stroke-width:0.3px">H</text>
<text x="385.1" y="338.2" font-size="8.9" text-anchor="middle" fill="#161414" color="#161414" dominant-baseline="central" textLength="19.8" lengthAdjust="spacingAndGlyphs" font-style="italic"  style="stroke-width:0.03px">G6pd</text>
<line x1="356.9" y1="348.8" x2="356.9" y2="429.4" stroke="#161414" stroke-width="1.4" />
<line x1="354.3" y1="429.4" x2="356.9" y2="429.4" stroke="#161414" stroke-width="1.1" />
<text x="352" y="429.4" font-size="7.0" text-anchor="end" fill="#222" color="#222" dominant-baseline="central" textLength="3.5" lengthAdjust="spacingAndGlyphs" >0</text>
<line x1="354.3" y1="409.7" x2="356.9" y2="409.7" stroke="#161414" stroke-width="1.1" />
<text x="352" y="409.7" font-size="7.0" text-anchor="end" fill="#222" color="#222" dominant-baseline="central" textLength="3.5" lengthAdjust="spacingAndGlyphs" >2</text>
<line x1="354.3" y1="390" x2="356.9" y2="390" stroke="#161414" stroke-width="1.1" />
<text x="352" y="390" font-size="7.0" text-anchor="end" fill="#222" color="#222" dominant-baseline="central" textLength="3.5" lengthAdjust="spacingAndGlyphs" >4</text>
<line x1="354.3" y1="370.3" x2="356.9" y2="370.3" stroke="#161414" stroke-width="1.1" />
<text x="352" y="370.3" font-size="7.0" text-anchor="end" fill="#222" color="#222" dominant-baseline="central" textLength="3.5" lengthAdjust="spacingAndGlyphs" >6</text>
<line x1="354.3" y1="350.6" x2="356.9" y2="350.6" stroke="#161414" stroke-width="1.1" />
<text x="352" y="350.6" font-size="7.0" text-anchor="end" fill="#222" color="#222" dominant-baseline="central" textLength="3.5" lengthAdjust="spacingAndGlyphs" >8</text>
<line x1="354.5" y1="429.4" x2="408.7" y2="429.4" stroke="#161414" stroke-width="1.4" />
<line x1="370.2" y1="429.4" x2="370.2" y2="432.6" stroke="#161414" stroke-width="1.1" />
<line x1="394.2" y1="429.4" x2="394.2" y2="432.6" stroke="#161414" stroke-width="1.1" />
<text x="370.6" y="439.6" font-size="5.76" text-anchor="middle" fill="#333" color="#333" dominant-baseline="central" textLength="11.2" lengthAdjust="spacingAndGlyphs" >HbA</text>
<text x="394.3" y="439.6" font-size="5.76" text-anchor="middle" fill="#333" color="#333" dominant-baseline="central" textLength="11.2" lengthAdjust="spacingAndGlyphs" >HbS</text>
<text x="339.6" y="389" font-size="8.49" text-anchor="middle" fill="#222" color="#222" dominant-baseline="central" textLength="66.8" lengthAdjust="spacingAndGlyphs" transform="rotate(-90 339.6 389)"  style="stroke-width:0.03px">Fold mRNA expression</text>
<polyline points="370.2,358 370.2,354.6 394.2,354.6 394.2,358" stroke="#333" stroke-width="1.0" fill="none" stroke-linejoin="miter" />
<text x="382" y="352.3" font-size="5.5" text-anchor="middle" fill="#333" color="#333" dominant-baseline="central" >**</text>
<circle cx="394.2" cy="365.6" r="1.3" fill="#b0103a"/>
<circle cx="394.2" cy="385" r="1.3" fill="#b0103a"/>
<circle cx="394.2" cy="393.7" r="1.3" fill="#b0103a"/>
<line x1="387.3" y1="382.2" x2="401.7" y2="382.2" stroke="#b0103a" stroke-width="1.2" />
<line x1="394.5" y1="376" x2="394.5" y2="388" stroke="#b0103a" stroke-width="1.08" />
<line x1="391" y1="376" x2="398" y2="376" stroke="#b0103a" stroke-width="1.08" />
<line x1="391" y1="388" x2="398" y2="388" stroke="#b0103a" stroke-width="1.08" />
<circle cx="368" cy="420.2" r="1.3" fill="#1f3d7c"/>
<circle cx="370.3" cy="420.2" r="1.3" fill="#1f3d7c"/>
<circle cx="372.6" cy="420.2" r="1.3" fill="#1f3d7c"/>
<line x1="364.9" y1="420.2" x2="379.4" y2="420.2" stroke="#1f3d7c" stroke-width="1.6" />
<text x="448.6" y="338.2" font-size="9.27" text-anchor="middle" fill="#161414" color="#161414" dominant-baseline="central" textLength="15" lengthAdjust="spacingAndGlyphs" font-style="italic"  style="stroke-width:0.03px">Pgd</text>
<line x1="421.5" y1="347.7" x2="421.5" y2="429.5" stroke="#161414" stroke-width="1.4" />
<line x1="418.9" y1="429.5" x2="421.5" y2="429.5" stroke="#161414" stroke-width="1.1" />
<text x="416.2" y="429.5" font-size="7.0" text-anchor="end" fill="#222" color="#222" dominant-baseline="central" textLength="3.5" lengthAdjust="spacingAndGlyphs" >0</text>
<line x1="418.9" y1="409.62" x2="421.5" y2="409.62" stroke="#161414" stroke-width="1.1" />
<text x="416.2" y="409.62" font-size="7.0" text-anchor="end" fill="#222" color="#222" dominant-baseline="central" textLength="3.5" lengthAdjust="spacingAndGlyphs" >1</text>
<line x1="418.9" y1="389.75" x2="421.5" y2="389.75" stroke="#161414" stroke-width="1.1" />
<text x="416.2" y="389.75" font-size="7.0" text-anchor="end" fill="#222" color="#222" dominant-baseline="central" textLength="3.5" lengthAdjust="spacingAndGlyphs" >2</text>
<line x1="418.9" y1="369.88" x2="421.5" y2="369.88" stroke="#161414" stroke-width="1.1" />
<text x="416.2" y="369.88" font-size="7.0" text-anchor="end" fill="#222" color="#222" dominant-baseline="central" textLength="3.5" lengthAdjust="spacingAndGlyphs" >3</text>
<line x1="418.9" y1="350" x2="421.5" y2="350" stroke="#161414" stroke-width="1.1" />
<text x="416.2" y="350" font-size="7.0" text-anchor="end" fill="#222" color="#222" dominant-baseline="central" textLength="3.5" lengthAdjust="spacingAndGlyphs" >4</text>
<line x1="419" y1="429.5" x2="474.1" y2="429.5" stroke="#161414" stroke-width="1.4" />
<line x1="437.2" y1="429.5" x2="437.2" y2="432.7" stroke="#161414" stroke-width="1.1" />
<line x1="459.6" y1="429.5" x2="459.6" y2="432.7" stroke="#161414" stroke-width="1.1" />
<text x="437.1" y="439.6" font-size="6.07" text-anchor="middle" fill="#333" color="#333" dominant-baseline="central" textLength="11.8" lengthAdjust="spacingAndGlyphs" >HbA</text>
<text x="459.6" y="439.6" font-size="5.76" text-anchor="middle" fill="#333" color="#333" dominant-baseline="central" textLength="11.2" lengthAdjust="spacingAndGlyphs" >HbS</text>
<polyline points="437.2,367.3 437.2,362.7 459.6,362.7 459.6,367.3" stroke="#333" stroke-width="1.0" fill="none" stroke-linejoin="miter" />
<text x="447.5" y="359.8" font-size="5.78" text-anchor="middle" fill="#222" color="#222" dominant-baseline="central" textLength="17" lengthAdjust="spacingAndGlyphs" >p=0.12</text>
<circle cx="459.6" cy="374.9" r="1.3" fill="#b0103a"/>
<circle cx="459.6" cy="389.9" r="1.3" fill="#b0103a"/>
<circle cx="457.3" cy="404.9" r="1.3" fill="#b0103a"/>
<circle cx="461.9" cy="403" r="1.3" fill="#b0103a"/>
<line x1="451.6" y1="393.3" x2="467.2" y2="393.3" stroke="#b0103a" stroke-width="1.2" />
<line x1="459.4" y1="386.4" x2="459.4" y2="400.3" stroke="#b0103a" stroke-width="1.08" />
<line x1="455.5" y1="386.4" x2="463.3" y2="386.4" stroke="#b0103a" stroke-width="1.08" />
<line x1="455.5" y1="400.3" x2="463.3" y2="400.3" stroke="#b0103a" stroke-width="1.08" />
<circle cx="437.2" cy="398.9" r="1.3" fill="#2f4f9a"/>
<circle cx="437.2" cy="412.3" r="1.3" fill="#2f4f9a"/>
<circle cx="437.2" cy="419.2" r="1.3" fill="#2f4f9a"/>
<line x1="429.6" y1="410" x2="444.6" y2="410" stroke="#2f4f9a" stroke-width="1.2" />
<line x1="437.1" y1="404.2" x2="437.1" y2="416.4" stroke="#2f4f9a" stroke-width="1.08" />
<line x1="433.5" y1="404.2" x2="440.7" y2="404.2" stroke="#2f4f9a" stroke-width="1.08" />
<line x1="433.5" y1="416.4" x2="440.7" y2="416.4" stroke="#2f4f9a" stroke-width="1.08" />
<text x="10" y="473.2" font-size="10.5" font-weight="bold" fill="#000" dominant-baseline="central">I</text>
<path d="M28,516 C22,518.6 12.5,518.3 8.2,515.4 C5.6,513.4 6.6,511.2 10,510.9 C14,510.6 18,511 21.2,511.4" fill="none" stroke="#111" stroke-width="2.1" stroke-linecap="round"/>
<path d="M28,516 C22,518.6 12.5,518.3 8.2,515.4 C5.6,513.4 6.6,511.2 10,510.9 C14,510.6 18,511 21.2,511.4" fill="none" stroke="#8c6b4a" stroke-width="1.1" stroke-linecap="round"/>
<g transform="translate(20,488) scale(0.10577)" stroke-linejoin="round" stroke-linecap="round"><path d="M70,258 C58,215 62,160 100,118 C140,80 200,66 260,68 C300,70 325,78 342,88 C344,62 352,44 366,42 C382,50 392,72 396,98 C425,118 455,150 482,182 C490,192 486,202 470,206 C440,210 400,214 362,224 C340,232 320,246 290,254 C250,262 200,282 150,284 C110,284 85,275 70,258 Z" fill="#8c6b4a" stroke="#111" stroke-width="5"/><path d="M76,248 C110,256 150,256 185,246 C212,238 232,222 250,195 C262,220 288,226 322,218 C362,208 420,198 478,190 C472,204 440,210 400,214 C362,222 332,240 296,252 C256,264 205,280 150,280 C118,280 90,272 76,248 Z" fill="#fff"/><path d="M165,257 C198,246 232,226 250,195" fill="none" stroke="#111" stroke-width="4"/><ellipse cx="352" cy="122" rx="18" ry="34" fill="#fff" stroke="#222" stroke-width="3" transform="rotate(-8 352 122)"/><circle cx="410" cy="160" r="12" fill="#111"/><ellipse cx="218" cy="284" rx="12" ry="7" fill="#222"/><g transform="rotate(31 300 262)"><line x1="265" y1="262" x2="300" y2="262" stroke="#444" stroke-width="3"/><rect x="300" y="254" width="132" height="17" fill="#f7f3f3" stroke="#555" stroke-width="3"/><rect x="304" y="257" width="30" height="11" fill="#7a1020"/><rect x="334" y="259" width="88" height="6" fill="#e8a0a8"/><rect x="428" y="238" width="9" height="48" fill="#f2f2f2" stroke="#555" stroke-width="3"/><rect x="437" y="258" width="34" height="9" fill="#ccc" stroke="#666" stroke-width="2"/><rect x="470" y="244" width="13" height="36" fill="#f4c8ce" stroke="#555" stroke-width="3"/></g><ellipse cx="356" cy="254" rx="16" ry="9" fill="#1a1a1a" transform="rotate(20 356 254)"/></g>
<line x1="90.3" y1="505.1" x2="208.56" y2="505.1" stroke="#5aab3b" stroke-width="1.3" />
<line x1="90.3" y1="505.1" x2="90.3" y2="511" stroke="#5aab3b" stroke-width="1.3" />
<polygon points="90.3,516.3 87.6,509.7 90.3,511.4 93,509.7" fill="#5aab3b"/>
<line x1="110.01" y1="505.1" x2="110.01" y2="511" stroke="#5aab3b" stroke-width="1.3" />
<polygon points="110.01,516.3 107.31,509.7 110.01,511.4 112.71,509.7" fill="#5aab3b"/>
<line x1="129.72" y1="505.1" x2="129.72" y2="511" stroke="#5aab3b" stroke-width="1.3" />
<polygon points="129.72,516.3 127.02,509.7 129.72,511.4 132.42,509.7" fill="#5aab3b"/>
<line x1="149.43" y1="505.1" x2="149.43" y2="511" stroke="#5aab3b" stroke-width="1.3" />
<polygon points="149.43,516.3 146.73,509.7 149.43,511.4 152.13,509.7" fill="#5aab3b"/>
<line x1="169.14" y1="505.1" x2="169.14" y2="511" stroke="#5aab3b" stroke-width="1.3" />
<polygon points="169.14,516.3 166.44,509.7 169.14,511.4 171.84,509.7" fill="#5aab3b"/>
<line x1="188.85" y1="505.1" x2="188.85" y2="511" stroke="#5aab3b" stroke-width="1.3" />
<polygon points="188.85,516.3 186.15,509.7 188.85,511.4 191.55,509.7" fill="#5aab3b"/>
<line x1="208.56" y1="505.1" x2="208.56" y2="511" stroke="#5aab3b" stroke-width="1.3" />
<polygon points="208.56,516.3 205.86,509.7 208.56,511.4 211.26,509.7" fill="#5aab3b"/>
<text x="149.5" y="498.5" font-size="7.03" text-anchor="middle" fill="#222" color="#222" dominant-baseline="central" textLength="80.6" lengthAdjust="spacingAndGlyphs" >Saline or CORM3 (10mg/kg)</text>
<line x1="89.8" y1="523.1" x2="228.77" y2="523.1" stroke="#222" stroke-width="1.5" />
<line x1="90.3" y1="523.1" x2="90.3" y2="525.2" stroke="#222" stroke-width="1.1" />
<text x="90.3" y="531.8" font-size="7.8" text-anchor="middle" fill="#333" color="#333" dominant-baseline="central" >1</text>
<line x1="110.01" y1="523.1" x2="110.01" y2="525.2" stroke="#222" stroke-width="1.1" />
<text x="110.01" y="531.8" font-size="7.8" text-anchor="middle" fill="#333" color="#333" dominant-baseline="central" >2</text>
<line x1="129.72" y1="523.1" x2="129.72" y2="525.2" stroke="#222" stroke-width="1.1" />
<text x="129.72" y="531.8" font-size="7.8" text-anchor="middle" fill="#333" color="#333" dominant-baseline="central" >3</text>
<line x1="149.43" y1="523.1" x2="149.43" y2="525.2" stroke="#222" stroke-width="1.1" />
<text x="149.43" y="531.8" font-size="7.8" text-anchor="middle" fill="#333" color="#333" dominant-baseline="central" >4</text>
<line x1="169.14" y1="523.1" x2="169.14" y2="525.2" stroke="#222" stroke-width="1.1" />
<text x="169.14" y="531.8" font-size="7.8" text-anchor="middle" fill="#333" color="#333" dominant-baseline="central" >5</text>
<line x1="188.85" y1="523.1" x2="188.85" y2="525.2" stroke="#222" stroke-width="1.1" />
<text x="188.85" y="531.8" font-size="7.8" text-anchor="middle" fill="#333" color="#333" dominant-baseline="central" >6</text>
<line x1="208.56" y1="523.1" x2="208.56" y2="525.2" stroke="#222" stroke-width="1.1" />
<text x="208.56" y="531.8" font-size="7.8" text-anchor="middle" fill="#333" color="#333" dominant-baseline="central" >7</text>
<line x1="228.27" y1="523.1" x2="228.27" y2="525.2" stroke="#222" stroke-width="1.1" />
<text x="228.27" y="531.8" font-size="7.8" text-anchor="middle" fill="#333" color="#333" dominant-baseline="central" >8</text>
<text x="76.5" y="531.8" font-size="6.5" text-anchor="middle" fill="#222" color="#222" dominant-baseline="central" textLength="10.5" lengthAdjust="spacingAndGlyphs" >Day</text>
<polyline points="228.3,546.2 228.3,554.8 8.6,554.8 8.6,571 35,571" stroke="#b8203a" stroke-width="1.3" fill="none" stroke-linejoin="miter" />
<polygon points="40,571 33.5,568.2 33.5,573.8" fill="#b8203a"/>
<text x="84" y="571" font-size="7.35" text-anchor="middle" fill="#222" color="#222" dominant-baseline="central" textLength="64.6" lengthAdjust="spacingAndGlyphs" >isolate peritoneal cells</text>
<line x1="135.9" y1="571" x2="161" y2="571" stroke="#b8203a" stroke-width="1.3" />
<polygon points="167.2,571 160.7,568.2 160.7,573.8" fill="#b8203a"/>
<text x="170.9" y="571" font-size="7.13" text-anchor="start" fill="#222" color="#222" dominant-baseline="central" textLength="39.9" lengthAdjust="spacingAndGlyphs" >PPP induction</text>
<text x="240" y="473.3" font-size="10.8" text-anchor="start" fill="#000" color="#000" dominant-baseline="central" font-weight="bold" style="stroke-width:0.3px">J</text>
<text x="287.5" y="482.1" font-size="8.97" text-anchor="middle" fill="#161414" color="#161414" dominant-baseline="central" textLength="21.5" lengthAdjust="spacingAndGlyphs" font-style="italic"  style="stroke-width:0.03px">G6pd</text>
<text x="356.7" y="482.1" font-size="9.17" text-anchor="middle" fill="#161414" color="#161414" dominant-baseline="central" textLength="16" lengthAdjust="spacingAndGlyphs" font-style="italic"  style="stroke-width:0.03px">Pgd</text>
<text x="244.4" y="531" font-size="8.39" text-anchor="middle" fill="#333" color="#333" dominant-baseline="central" textLength="66" lengthAdjust="spacingAndGlyphs" transform="rotate(-90 244.4 531)"  style="stroke-width:0.03px">Fold mRNA expression</text>
<line x1="261.1" y1="490.5" x2="261.1" y2="571" stroke="#161414" stroke-width="1.4" />
<line x1="258.6" y1="571" x2="261.1" y2="571" stroke="#161414" stroke-width="1.1" />
<text x="256.6" y="571" font-size="7.0" text-anchor="end" fill="#222" color="#222" dominant-baseline="central" textLength="3.27" lengthAdjust="spacingAndGlyphs" >0</text>
<line x1="258.6" y1="555.22" x2="261.1" y2="555.22" stroke="#161414" stroke-width="1.1" />
<text x="256.6" y="555.22" font-size="7.0" text-anchor="end" fill="#222" color="#222" dominant-baseline="central" textLength="3.27" lengthAdjust="spacingAndGlyphs" >1</text>
<line x1="258.6" y1="539.44" x2="261.1" y2="539.44" stroke="#161414" stroke-width="1.1" />
<text x="256.6" y="539.44" font-size="7.0" text-anchor="end" fill="#222" color="#222" dominant-baseline="central" textLength="3.27" lengthAdjust="spacingAndGlyphs" >2</text>
<line x1="258.6" y1="523.66" x2="261.1" y2="523.66" stroke="#161414" stroke-width="1.1" />
<text x="256.6" y="523.66" font-size="7.0" text-anchor="end" fill="#222" color="#222" dominant-baseline="central" textLength="3.27" lengthAdjust="spacingAndGlyphs" >3</text>
<line x1="258.6" y1="507.88" x2="261.1" y2="507.88" stroke="#161414" stroke-width="1.1" />
<text x="256.6" y="507.88" font-size="7.0" text-anchor="end" fill="#222" color="#222" dominant-baseline="central" textLength="3.27" lengthAdjust="spacingAndGlyphs" >4</text>
<line x1="258.6" y1="492.1" x2="261.1" y2="492.1" stroke="#161414" stroke-width="1.1" />
<text x="256.6" y="492.1" font-size="7.0" text-anchor="end" fill="#222" color="#222" dominant-baseline="central" textLength="3.27" lengthAdjust="spacingAndGlyphs" >5</text>
<rect x="269.2" y="556.2" width="14" height="14.8" fill="#9b95d4"/>
<rect x="291.9" y="534.6" width="14.5" height="36.4" fill="#5da544"/>
<line x1="258.6" y1="571" x2="312.9" y2="571" stroke="#161414" stroke-width="1.4" />
<line x1="276.2" y1="571" x2="276.2" y2="574.2" stroke="#161414" stroke-width="1.1" />
<line x1="298.7" y1="571" x2="298.7" y2="574.2" stroke="#161414" stroke-width="1.1" />
<line x1="276.2" y1="547.5" x2="276.2" y2="547.5" stroke="#161414" stroke-width="1.1" />
<line x1="276.2" y1="547.5" x2="276.2" y2="564.3" stroke="#161414" stroke-width="0.9900000000000001" />
<line x1="272.7" y1="547.5" x2="279.7" y2="547.5" stroke="#161414" stroke-width="0.9900000000000001" />
<line x1="272.7" y1="564.3" x2="279.7" y2="564.3" stroke="#161414" stroke-width="0.9900000000000001" />
<line x1="298.7" y1="519.2" x2="298.7" y2="519.2" stroke="#161414" stroke-width="1.1" />
<line x1="298.7" y1="519.2" x2="298.7" y2="549.2" stroke="#161414" stroke-width="0.9900000000000001" />
<line x1="295" y1="519.2" x2="302.4" y2="519.2" stroke="#161414" stroke-width="0.9900000000000001" />
<line x1="295" y1="549.2" x2="302.4" y2="549.2" stroke="#161414" stroke-width="0.9900000000000001" />
<circle cx="276.2" cy="527.6" r="1.6" fill="#000"/>
<circle cx="276.2" cy="545.4" r="1.6" fill="#000"/>
<circle cx="276.2" cy="563.6" r="1.6" fill="#000"/>
<circle cx="273.1" cy="570.6" r="1.6" fill="#000"/>
<circle cx="279.3" cy="570.6" r="1.6" fill="#000"/>
<circle cx="298.7" cy="500.5" r="1.6" fill="#000"/>
<circle cx="298.7" cy="506.8" r="1.6" fill="#000"/>
<circle cx="298.7" cy="523.4" r="1.6" fill="#000"/>
<circle cx="295.6" cy="570.6" r="1.6" fill="#000"/>
<circle cx="301.7" cy="570.6" r="1.6" fill="#000"/>
<text x="276.3" y="580.8" font-size="6.89" text-anchor="middle" fill="#222" color="#222" dominant-baseline="central" textLength="15" lengthAdjust="spacingAndGlyphs" >saline</text>
<text x="298.5" y="580.8" font-size="6.54" text-anchor="middle" fill="#222" color="#222" dominant-baseline="central" textLength="22.5" lengthAdjust="spacingAndGlyphs" >CORM3</text>
<line x1="330.2" y1="490.5" x2="330.2" y2="571.5" stroke="#161414" stroke-width="1.4" />
<line x1="327.7" y1="571.5" x2="330.2" y2="571.5" stroke="#161414" stroke-width="1.1" />
<text x="325.8" y="571.5" font-size="7.0" text-anchor="end" fill="#222" color="#222" dominant-baseline="central" textLength="3.27" lengthAdjust="spacingAndGlyphs" >0</text>
<line x1="327.7" y1="558.18" x2="330.2" y2="558.18" stroke="#161414" stroke-width="1.1" />
<text x="325.8" y="558.18" font-size="7.0" text-anchor="end" fill="#222" color="#222" dominant-baseline="central" textLength="3.27" lengthAdjust="spacingAndGlyphs" >2</text>
<line x1="327.7" y1="544.87" x2="330.2" y2="544.87" stroke="#161414" stroke-width="1.1" />
<text x="325.8" y="544.87" font-size="7.0" text-anchor="end" fill="#222" color="#222" dominant-baseline="central" textLength="3.27" lengthAdjust="spacingAndGlyphs" >4</text>
<line x1="327.7" y1="531.55" x2="330.2" y2="531.55" stroke="#161414" stroke-width="1.1" />
<text x="325.8" y="531.55" font-size="7.0" text-anchor="end" fill="#222" color="#222" dominant-baseline="central" textLength="3.27" lengthAdjust="spacingAndGlyphs" >6</text>
<line x1="327.7" y1="518.23" x2="330.2" y2="518.23" stroke="#161414" stroke-width="1.1" />
<text x="325.8" y="518.23" font-size="7.0" text-anchor="end" fill="#222" color="#222" dominant-baseline="central" textLength="3.27" lengthAdjust="spacingAndGlyphs" >8</text>
<line x1="327.7" y1="504.92" x2="330.2" y2="504.92" stroke="#161414" stroke-width="1.1" />
<text x="325.8" y="504.92" font-size="7.0" text-anchor="end" fill="#222" color="#222" dominant-baseline="central" textLength="6.54" lengthAdjust="spacingAndGlyphs" >10</text>
<line x1="327.7" y1="491.6" x2="330.2" y2="491.6" stroke="#161414" stroke-width="1.1" />
<text x="325.8" y="491.6" font-size="7.0" text-anchor="end" fill="#222" color="#222" dominant-baseline="central" textLength="6.54" lengthAdjust="spacingAndGlyphs" >12</text>
<rect x="338" y="565.2" width="14.4" height="6.3" fill="#9b95d4"/>
<rect x="360.2" y="539.8" width="14.4" height="31.7" fill="#5da544"/>
<line x1="327.7" y1="571.5" x2="382.7" y2="571.5" stroke="#161414" stroke-width="1.4" />
<line x1="345.2" y1="571.5" x2="345.2" y2="574.7" stroke="#161414" stroke-width="1.1" />
<line x1="367.4" y1="571.5" x2="367.4" y2="574.7" stroke="#161414" stroke-width="1.1" />
<line x1="345.2" y1="560" x2="345.2" y2="560" stroke="#161414" stroke-width="1.1" />
<line x1="345.2" y1="560" x2="345.2" y2="571" stroke="#161414" stroke-width="0.9900000000000001" />
<line x1="341.7" y1="560" x2="348.7" y2="560" stroke="#161414" stroke-width="0.9900000000000001" />
<line x1="341.7" y1="571" x2="348.7" y2="571" stroke="#161414" stroke-width="0.9900000000000001" />
<line x1="367.4" y1="531.1" x2="367.4" y2="531.1" stroke="#161414" stroke-width="1.1" />
<line x1="367.4" y1="531.1" x2="367.4" y2="547.9" stroke="#161414" stroke-width="0.9900000000000001" />
<line x1="363.7" y1="531.1" x2="371.1" y2="531.1" stroke="#161414" stroke-width="0.9900000000000001" />
<line x1="363.7" y1="547.9" x2="371.1" y2="547.9" stroke="#161414" stroke-width="0.9900000000000001" />
<circle cx="344.6" cy="546.4" r="1.6" fill="#000"/>
<circle cx="344.6" cy="565.2" r="1.6" fill="#000"/>
<circle cx="339.4" cy="571" r="1.6" fill="#000"/>
<circle cx="350.4" cy="571" r="1.6" fill="#000"/>
<circle cx="345" cy="570.5" r="1.6" fill="#000"/>
<circle cx="367.7" cy="509.8" r="1.6" fill="#000"/>
<circle cx="367.7" cy="534" r="1.6" fill="#000"/>
<circle cx="366.8" cy="540.7" r="1.6" fill="#000"/>
<circle cx="365.4" cy="550.8" r="1.6" fill="#000"/>
<circle cx="366.8" cy="557.1" r="1.6" fill="#000"/>
<polyline points="344.6,532 344.6,500.3 367.7,500.3 367.7,504.6" stroke="#333" stroke-width="1.0" fill="none" stroke-linejoin="miter" />
<text x="356" y="498.2" font-size="6" text-anchor="middle" fill="#333" color="#333" dominant-baseline="central" >*</text>
<text x="344.4" y="580.8" font-size="6.89" text-anchor="middle" fill="#222" color="#222" dominant-baseline="central" textLength="15" lengthAdjust="spacingAndGlyphs" >saline</text>
<text x="367.5" y="580.8" font-size="6.54" text-anchor="middle" fill="#222" color="#222" dominant-baseline="central" textLength="22.5" lengthAdjust="spacingAndGlyphs" >CORM3</text>
<line x1="261.5" y1="587.7" x2="382.7" y2="587.7" stroke="#333" stroke-width="1.0" />
<text x="322" y="595.5" font-size="7.96" text-anchor="middle" fill="#222" color="#222" dominant-baseline="central" textLength="45" lengthAdjust="spacingAndGlyphs" >Peritoneal cells</text>
</svg></body></html>
